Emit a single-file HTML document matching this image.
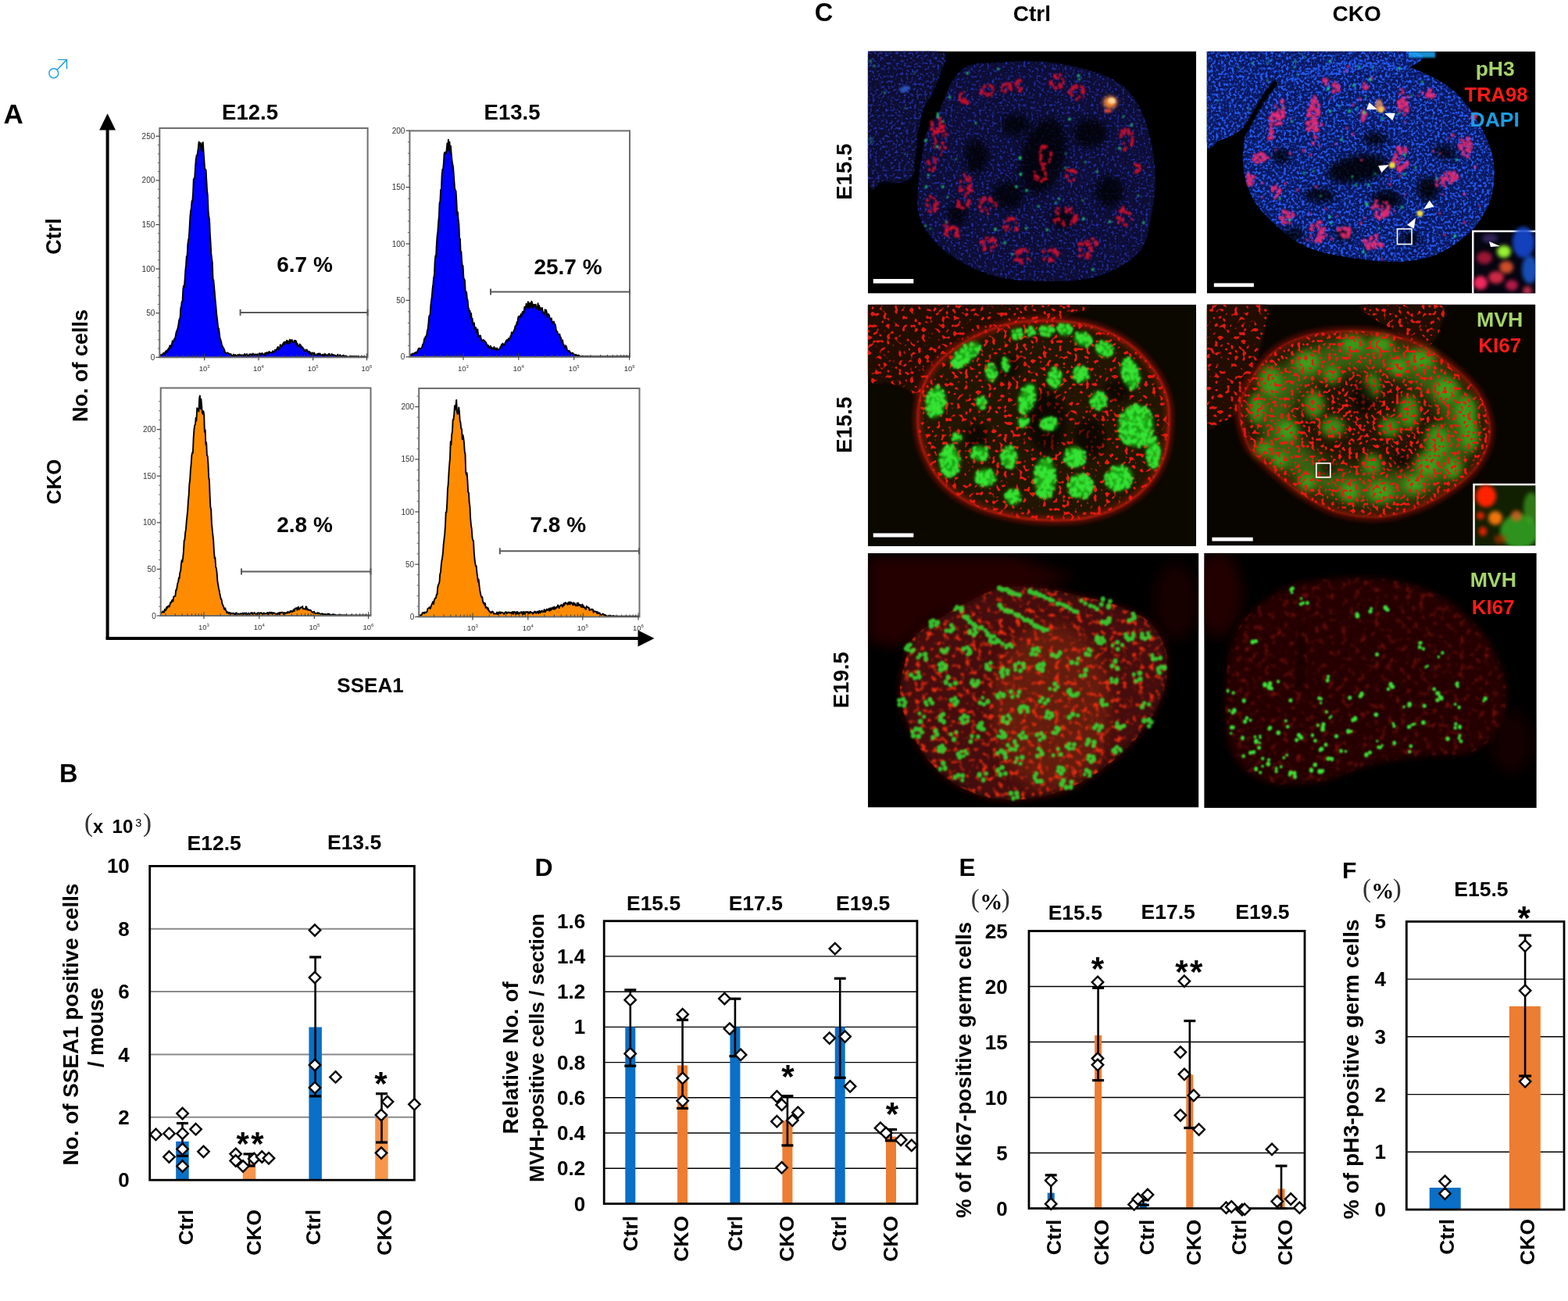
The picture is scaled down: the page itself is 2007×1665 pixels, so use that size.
<!DOCTYPE html>
<html><head><meta charset="utf-8"><title>Figure</title>
<style>
html,body{margin:0;padding:0;background:#fff;}
body{width:2007px;height:1665px;overflow:hidden;}
svg{display:block;}
text{white-space:pre;}
</style></head><body>
<svg width="2007" height="1665" viewBox="0 0 2007 1665">
<rect width="2007" height="1665" fill="#fff"/>
<text x="58.3" y="99.5" font-size="33" fill="#1e9fd9" font-family='"Noto Serif CJK SC", serif'>&#9794;</text>
<text x="4.5" y="158.3" font-size="35" font-weight="bold" font-family='"Liberation Sans", Arial, sans-serif'>A</text>
<text x="320.0" y="153.0" font-size="27.5" text-anchor="middle" font-weight="bold" font-family='"Liberation Sans", Arial, sans-serif'>E12.5</text>
<text x="655.5" y="152.8" font-size="27.5" text-anchor="middle" font-weight="bold" font-family='"Liberation Sans", Arial, sans-serif'>E13.5</text>
<text transform="translate(78.4,302.5) rotate(-90)" font-size="27" text-anchor="middle" font-weight="bold" font-family='"Liberation Sans", Arial, sans-serif'>Ctrl</text>
<text transform="translate(78.4,616.5) rotate(-90)" font-size="26" text-anchor="middle" font-weight="bold" font-family='"Liberation Sans", Arial, sans-serif'>CKO</text>
<text transform="translate(111.8,468.0) rotate(-90)" font-size="27" text-anchor="middle" font-weight="bold" font-family='"Liberation Sans", Arial, sans-serif'>No. of cells</text>
<line x1="137.6" y1="164.0" x2="137.6" y2="817.5" stroke="#000" stroke-width="4"/>
<line x1="135.6" y1="817.0" x2="818.0" y2="817.0" stroke="#000" stroke-width="4"/>
<path d="M137.6 145.3 L148.0 166.5 L127.2 166.5 Z" fill="#000"/>
<path d="M837.5 817.0 L816.5 806.6 L816.5 827.4 Z" fill="#000"/>
<text x="474.0" y="885.5" font-size="26" text-anchor="middle" font-weight="bold" font-family='"Liberation Sans", Arial, sans-serif'>SSEA1</text>
<path d="M204.3 457.3 L204.3 456.0 L205.1 454.0 L205.8 453.8 L206.6 454.9 L207.3 453.8 L208.1 453.6 L208.8 452.5 L209.6 451.6 L210.3 453.4 L211.1 453.1 L211.8 449.6 L212.6 450.4 L213.3 448.5 L214.1 450.7 L214.8 448.1 L215.6 446.1 L216.3 447.3 L217.1 443.0 L217.8 442.0 L218.6 445.1 L219.3 443.9 L220.1 439.8 L220.8 436.1 L221.6 437.5 L222.3 436.8 L223.1 433.6 L223.8 434.0 L224.6 430.6 L225.3 426.6 L226.1 423.5 L226.8 422.6 L227.6 419.5 L228.3 416.2 L229.1 410.6 L229.8 408.1 L230.6 406.3 L231.3 394.3 L232.1 391.9 L232.8 385.8 L233.6 385.0 L234.3 370.5 L235.1 365.6 L235.8 367.4 L236.6 358.2 L237.3 346.3 L238.1 338.9 L238.8 328.2 L239.6 327.0 L240.3 313.3 L241.1 307.1 L241.8 303.9 L242.6 291.2 L243.3 278.1 L244.1 270.0 L244.8 266.8 L245.6 257.0 L246.3 258.0 L247.1 246.6 L247.8 229.4 L248.6 228.6 L249.3 225.9 L250.1 212.7 L250.8 203.9 L251.6 198.9 L252.3 199.6 L253.1 194.2 L253.8 189.4 L254.6 181.5 L255.3 184.2 L256.1 185.3 L256.8 183.0 L257.6 192.0 L258.3 193.3 L259.1 183.5 L259.8 182.2 L260.6 194.6 L261.3 204.3 L262.1 215.3 L262.8 217.2 L263.6 217.5 L264.3 230.6 L265.1 244.5 L265.8 249.7 L266.6 270.6 L267.3 277.0 L268.1 281.5 L268.8 298.3 L269.6 311.0 L270.3 324.4 L271.1 331.2 L271.8 336.4 L272.6 358.0 L273.3 358.2 L274.1 366.9 L274.8 374.8 L275.6 384.4 L276.3 391.2 L277.1 400.9 L277.8 406.8 L278.6 413.7 L279.3 421.7 L280.1 420.3 L280.8 426.8 L281.6 433.0 L282.3 434.4 L283.1 437.5 L283.8 440.8 L284.6 443.1 L285.3 444.1 L286.1 445.4 L286.8 447.0 L287.6 448.9 L288.3 451.6 L289.1 451.6 L289.8 452.5 L290.6 451.7 L291.3 451.3 L292.1 452.0 L292.8 452.3 L293.6 452.6 L294.3 454.4 L295.1 452.9 L295.8 453.5 L296.6 455.3 L297.3 455.5 L298.1 455.5 L298.8 453.5 L299.6 454.9 L300.3 455.3 L301.1 453.9 L301.8 454.7 L302.6 455.4 L303.3 455.2 L304.1 454.1 L304.8 455.1 L305.6 454.8 L306.3 453.6 L307.1 454.3 L307.8 454.6 L308.6 454.2 L309.3 455.4 L310.1 454.4 L310.8 454.3 L311.6 454.9 L312.3 455.1 L313.1 452.9 L313.8 454.0 L314.6 454.8 L315.3 453.7 L316.1 453.1 L316.8 455.3 L317.6 455.3 L318.3 454.9 L319.1 453.3 L319.8 454.9 L320.6 453.3 L321.3 453.4 L322.1 453.7 L322.8 454.6 L323.6 452.5 L324.3 453.0 L325.1 453.8 L325.8 454.6 L326.6 453.4 L327.3 454.1 L328.1 453.5 L328.8 454.2 L329.6 453.3 L330.3 455.0 L331.1 454.2 L331.8 452.2 L332.6 452.5 L333.3 454.1 L334.1 452.4 L334.8 454.0 L335.6 452.0 L336.3 452.5 L337.1 453.4 L337.8 453.9 L338.6 454.5 L339.3 451.7 L340.1 454.2 L340.8 451.6 L341.6 451.0 L342.3 452.0 L343.1 453.2 L343.8 450.6 L344.6 450.0 L345.3 450.7 L346.1 451.1 L346.8 451.3 L347.6 451.1 L348.3 451.3 L349.1 449.2 L349.8 449.8 L350.6 450.3 L351.3 450.3 L352.1 447.6 L352.8 448.7 L353.6 447.3 L354.3 447.6 L355.1 444.7 L355.8 444.0 L356.6 447.5 L357.3 446.1 L358.1 445.0 L358.8 441.3 L359.6 441.7 L360.3 443.3 L361.1 443.5 L361.8 440.6 L362.6 439.2 L363.3 438.1 L364.1 440.8 L364.8 437.4 L365.6 438.0 L366.3 438.7 L367.1 435.6 L367.8 439.4 L368.6 436.4 L369.3 439.8 L370.1 439.1 L370.8 434.6 L371.6 438.6 L372.3 435.3 L373.1 436.2 L373.8 434.9 L374.6 437.7 L375.3 438.0 L376.1 438.5 L376.8 435.6 L377.6 437.4 L378.3 435.9 L379.1 436.7 L379.8 441.3 L380.6 439.6 L381.3 442.5 L382.1 443.4 L382.8 443.8 L383.6 440.4 L384.3 441.5 L385.1 441.9 L385.8 445.0 L386.6 444.3 L387.3 444.2 L388.1 446.6 L388.8 446.4 L389.6 448.4 L390.3 449.6 L391.1 449.3 L391.8 447.3 L392.6 449.1 L393.3 448.1 L394.1 450.3 L394.8 451.4 L395.6 449.9 L396.3 450.1 L397.1 453.2 L397.8 451.3 L398.6 453.4 L399.3 453.6 L400.1 451.3 L400.8 454.2 L401.6 453.7 L402.3 451.5 L403.1 453.4 L403.8 454.4 L404.6 454.4 L405.3 454.2 L406.1 452.8 L406.8 454.8 L407.6 452.5 L408.3 454.1 L409.1 452.4 L409.8 452.6 L410.6 454.4 L411.3 454.6 L412.1 454.0 L412.8 455.1 L413.6 453.5 L414.3 455.3 L415.1 455.4 L415.8 452.7 L416.6 454.6 L417.3 453.8 L418.1 454.3 L418.8 454.7 L419.6 455.4 L420.3 453.1 L421.1 453.0 L421.8 453.0 L422.6 455.4 L423.3 455.1 L424.1 454.1 L424.8 453.1 L425.6 454.4 L426.3 454.0 L427.1 454.1 L427.8 455.2 L428.6 454.5 L429.3 455.2 L430.1 455.4 L430.8 455.9 L431.6 455.4 L432.3 453.7 L433.1 455.1 L433.8 454.7 L434.6 454.7 L435.3 454.1 L436.1 455.5 L436.8 455.7 L437.6 455.7 L438.3 455.8 L439.1 454.7 L439.8 454.6 L440.6 456.0 L441.3 456.0 L442.1 455.6 L442.8 455.6 L443.6 455.7 L444.3 456.5 L445.1 456.7 L445.8 456.6 L446.6 456.7 L447.3 456.1 L448.1 456.7 L448.8 456.7 L449.6 456.1 L450.3 456.7 L451.1 455.9 L451.8 456.5 L452.6 455.9 L453.3 456.7 L454.1 456.6 L454.8 456.2 L455.6 456.7 L456.3 456.0 L457.1 456.7 L457.8 456.4 L458.6 456.1 L459.3 456.4 L460.1 456.7 L460.8 456.7 L461.6 456.7 L462.3 456.4 L463.1 456.7 L463.8 456.5 L464.6 456.7 L465.3 456.5 L466.1 456.7 L466.8 456.7 L467.6 456.6 L468.3 456.7 L469.1 456.6 L469.8 456.7 L470.6 456.7 L470.6 457.3 Z" fill="#0000ff"/>
<path d="M204.3 456.0 L205.1 454.0 L205.8 453.8 L206.6 454.9 L207.3 453.8 L208.1 453.6 L208.8 452.5 L209.6 451.6 L210.3 453.4 L211.1 453.1 L211.8 449.6 L212.6 450.4 L213.3 448.5 L214.1 450.7 L214.8 448.1 L215.6 446.1 L216.3 447.3 L217.1 443.0 L217.8 442.0 L218.6 445.1 L219.3 443.9 L220.1 439.8 L220.8 436.1 L221.6 437.5 L222.3 436.8 L223.1 433.6 L223.8 434.0 L224.6 430.6 L225.3 426.6 L226.1 423.5 L226.8 422.6 L227.6 419.5 L228.3 416.2 L229.1 410.6 L229.8 408.1 L230.6 406.3 L231.3 394.3 L232.1 391.9 L232.8 385.8 L233.6 385.0 L234.3 370.5 L235.1 365.6 L235.8 367.4 L236.6 358.2 L237.3 346.3 L238.1 338.9 L238.8 328.2 L239.6 327.0 L240.3 313.3 L241.1 307.1 L241.8 303.9 L242.6 291.2 L243.3 278.1 L244.1 270.0 L244.8 266.8 L245.6 257.0 L246.3 258.0 L247.1 246.6 L247.8 229.4 L248.6 228.6 L249.3 225.9 L250.1 212.7 L250.8 203.9 L251.6 198.9 L252.3 199.6 L253.1 194.2 L253.8 189.4 L254.6 181.5 L255.3 184.2 L256.1 185.3 L256.8 183.0 L257.6 192.0 L258.3 193.3 L259.1 183.5 L259.8 182.2 L260.6 194.6 L261.3 204.3 L262.1 215.3 L262.8 217.2 L263.6 217.5 L264.3 230.6 L265.1 244.5 L265.8 249.7 L266.6 270.6 L267.3 277.0 L268.1 281.5 L268.8 298.3 L269.6 311.0 L270.3 324.4 L271.1 331.2 L271.8 336.4 L272.6 358.0 L273.3 358.2 L274.1 366.9 L274.8 374.8 L275.6 384.4 L276.3 391.2 L277.1 400.9 L277.8 406.8 L278.6 413.7 L279.3 421.7 L280.1 420.3 L280.8 426.8 L281.6 433.0 L282.3 434.4 L283.1 437.5 L283.8 440.8 L284.6 443.1 L285.3 444.1 L286.1 445.4 L286.8 447.0 L287.6 448.9 L288.3 451.6 L289.1 451.6 L289.8 452.5 L290.6 451.7 L291.3 451.3 L292.1 452.0 L292.8 452.3 L293.6 452.6 L294.3 454.4 L295.1 452.9 L295.8 453.5 L296.6 455.3 L297.3 455.5 L298.1 455.5 L298.8 453.5 L299.6 454.9 L300.3 455.3 L301.1 453.9 L301.8 454.7 L302.6 455.4 L303.3 455.2 L304.1 454.1 L304.8 455.1 L305.6 454.8 L306.3 453.6 L307.1 454.3 L307.8 454.6 L308.6 454.2 L309.3 455.4 L310.1 454.4 L310.8 454.3 L311.6 454.9 L312.3 455.1 L313.1 452.9 L313.8 454.0 L314.6 454.8 L315.3 453.7 L316.1 453.1 L316.8 455.3 L317.6 455.3 L318.3 454.9 L319.1 453.3 L319.8 454.9 L320.6 453.3 L321.3 453.4 L322.1 453.7 L322.8 454.6 L323.6 452.5 L324.3 453.0 L325.1 453.8 L325.8 454.6 L326.6 453.4 L327.3 454.1 L328.1 453.5 L328.8 454.2 L329.6 453.3 L330.3 455.0 L331.1 454.2 L331.8 452.2 L332.6 452.5 L333.3 454.1 L334.1 452.4 L334.8 454.0 L335.6 452.0 L336.3 452.5 L337.1 453.4 L337.8 453.9 L338.6 454.5 L339.3 451.7 L340.1 454.2 L340.8 451.6 L341.6 451.0 L342.3 452.0 L343.1 453.2 L343.8 450.6 L344.6 450.0 L345.3 450.7 L346.1 451.1 L346.8 451.3 L347.6 451.1 L348.3 451.3 L349.1 449.2 L349.8 449.8 L350.6 450.3 L351.3 450.3 L352.1 447.6 L352.8 448.7 L353.6 447.3 L354.3 447.6 L355.1 444.7 L355.8 444.0 L356.6 447.5 L357.3 446.1 L358.1 445.0 L358.8 441.3 L359.6 441.7 L360.3 443.3 L361.1 443.5 L361.8 440.6 L362.6 439.2 L363.3 438.1 L364.1 440.8 L364.8 437.4 L365.6 438.0 L366.3 438.7 L367.1 435.6 L367.8 439.4 L368.6 436.4 L369.3 439.8 L370.1 439.1 L370.8 434.6 L371.6 438.6 L372.3 435.3 L373.1 436.2 L373.8 434.9 L374.6 437.7 L375.3 438.0 L376.1 438.5 L376.8 435.6 L377.6 437.4 L378.3 435.9 L379.1 436.7 L379.8 441.3 L380.6 439.6 L381.3 442.5 L382.1 443.4 L382.8 443.8 L383.6 440.4 L384.3 441.5 L385.1 441.9 L385.8 445.0 L386.6 444.3 L387.3 444.2 L388.1 446.6 L388.8 446.4 L389.6 448.4 L390.3 449.6 L391.1 449.3 L391.8 447.3 L392.6 449.1 L393.3 448.1 L394.1 450.3 L394.8 451.4 L395.6 449.9 L396.3 450.1 L397.1 453.2 L397.8 451.3 L398.6 453.4 L399.3 453.6 L400.1 451.3 L400.8 454.2 L401.6 453.7 L402.3 451.5 L403.1 453.4 L403.8 454.4 L404.6 454.4 L405.3 454.2 L406.1 452.8 L406.8 454.8 L407.6 452.5 L408.3 454.1 L409.1 452.4 L409.8 452.6 L410.6 454.4 L411.3 454.6 L412.1 454.0 L412.8 455.1 L413.6 453.5 L414.3 455.3 L415.1 455.4 L415.8 452.7 L416.6 454.6 L417.3 453.8 L418.1 454.3 L418.8 454.7 L419.6 455.4 L420.3 453.1 L421.1 453.0 L421.8 453.0 L422.6 455.4 L423.3 455.1 L424.1 454.1 L424.8 453.1 L425.6 454.4 L426.3 454.0 L427.1 454.1 L427.8 455.2 L428.6 454.5 L429.3 455.2 L430.1 455.4 L430.8 455.9 L431.6 455.4 L432.3 453.7 L433.1 455.1 L433.8 454.7 L434.6 454.7 L435.3 454.1 L436.1 455.5 L436.8 455.7 L437.6 455.7 L438.3 455.8 L439.1 454.7 L439.8 454.6 L440.6 456.0 L441.3 456.0 L442.1 455.6 L442.8 455.6 L443.6 455.7 L444.3 456.5 L445.1 456.7 L445.8 456.6 L446.6 456.7 L447.3 456.1 L448.1 456.7 L448.8 456.7 L449.6 456.1 L450.3 456.7 L451.1 455.9 L451.8 456.5 L452.6 455.9 L453.3 456.7 L454.1 456.6 L454.8 456.2 L455.6 456.7 L456.3 456.0 L457.1 456.7 L457.8 456.4 L458.6 456.1 L459.3 456.4 L460.1 456.7 L460.8 456.7 L461.6 456.7 L462.3 456.4 L463.1 456.7 L463.8 456.5 L464.6 456.7 L465.3 456.5 L466.1 456.7 L466.8 456.7 L467.6 456.6 L468.3 456.7 L469.1 456.6 L469.8 456.7 L470.6 456.7" fill="none" stroke="#000" stroke-width="1.9" stroke-linejoin="round"/>
<rect x="204.3" y="164.0" width="266.3" height="293.3" fill="none" stroke="#6e6e6e" stroke-width="2"/>
<line x1="199.3" y1="457.3" x2="204.3" y2="457.3" stroke="#444" stroke-width="1.2"/>
<text x="198.3" y="460.8" font-size="10" text-anchor="end" fill="#333" font-family='"Liberation Sans", Arial, sans-serif'>0</text>
<line x1="199.3" y1="400.7" x2="204.3" y2="400.7" stroke="#444" stroke-width="1.2"/>
<text x="198.3" y="404.2" font-size="10" text-anchor="end" fill="#333" font-family='"Liberation Sans", Arial, sans-serif'>50</text>
<line x1="199.3" y1="344.1" x2="204.3" y2="344.1" stroke="#444" stroke-width="1.2"/>
<text x="198.3" y="347.6" font-size="10" text-anchor="end" fill="#333" font-family='"Liberation Sans", Arial, sans-serif'>100</text>
<line x1="199.3" y1="287.5" x2="204.3" y2="287.5" stroke="#444" stroke-width="1.2"/>
<text x="198.3" y="291.0" font-size="10" text-anchor="end" fill="#333" font-family='"Liberation Sans", Arial, sans-serif'>150</text>
<line x1="199.3" y1="230.9" x2="204.3" y2="230.9" stroke="#444" stroke-width="1.2"/>
<text x="198.3" y="234.4" font-size="10" text-anchor="end" fill="#333" font-family='"Liberation Sans", Arial, sans-serif'>200</text>
<line x1="199.3" y1="174.3" x2="204.3" y2="174.3" stroke="#444" stroke-width="1.2"/>
<text x="198.3" y="177.8" font-size="10" text-anchor="end" fill="#333" font-family='"Liberation Sans", Arial, sans-serif'>250</text>
<line x1="201.8" y1="446.0" x2="204.3" y2="446.0" stroke="#666" stroke-width="1"/>
<line x1="201.8" y1="434.7" x2="204.3" y2="434.7" stroke="#666" stroke-width="1"/>
<line x1="201.8" y1="423.3" x2="204.3" y2="423.3" stroke="#666" stroke-width="1"/>
<line x1="201.8" y1="412.0" x2="204.3" y2="412.0" stroke="#666" stroke-width="1"/>
<line x1="201.8" y1="389.4" x2="204.3" y2="389.4" stroke="#666" stroke-width="1"/>
<line x1="201.8" y1="378.1" x2="204.3" y2="378.1" stroke="#666" stroke-width="1"/>
<line x1="201.8" y1="366.7" x2="204.3" y2="366.7" stroke="#666" stroke-width="1"/>
<line x1="201.8" y1="355.4" x2="204.3" y2="355.4" stroke="#666" stroke-width="1"/>
<line x1="201.8" y1="332.8" x2="204.3" y2="332.8" stroke="#666" stroke-width="1"/>
<line x1="201.8" y1="321.5" x2="204.3" y2="321.5" stroke="#666" stroke-width="1"/>
<line x1="201.8" y1="310.1" x2="204.3" y2="310.1" stroke="#666" stroke-width="1"/>
<line x1="201.8" y1="298.8" x2="204.3" y2="298.8" stroke="#666" stroke-width="1"/>
<line x1="201.8" y1="276.2" x2="204.3" y2="276.2" stroke="#666" stroke-width="1"/>
<line x1="201.8" y1="264.9" x2="204.3" y2="264.9" stroke="#666" stroke-width="1"/>
<line x1="201.8" y1="253.5" x2="204.3" y2="253.5" stroke="#666" stroke-width="1"/>
<line x1="201.8" y1="242.2" x2="204.3" y2="242.2" stroke="#666" stroke-width="1"/>
<line x1="201.8" y1="219.6" x2="204.3" y2="219.6" stroke="#666" stroke-width="1"/>
<line x1="201.8" y1="208.3" x2="204.3" y2="208.3" stroke="#666" stroke-width="1"/>
<line x1="201.8" y1="196.9" x2="204.3" y2="196.9" stroke="#666" stroke-width="1"/>
<line x1="201.8" y1="185.6" x2="204.3" y2="185.6" stroke="#666" stroke-width="1"/>
<line x1="213.3" y1="457.3" x2="213.3" y2="454.3" stroke="#444" stroke-width="1"/>
<line x1="225.5" y1="457.3" x2="225.5" y2="454.3" stroke="#444" stroke-width="1"/>
<line x1="234.1" y1="457.3" x2="234.1" y2="454.3" stroke="#444" stroke-width="1"/>
<line x1="240.8" y1="457.3" x2="240.8" y2="454.3" stroke="#444" stroke-width="1"/>
<line x1="246.3" y1="457.3" x2="246.3" y2="454.3" stroke="#444" stroke-width="1"/>
<line x1="251.0" y1="457.3" x2="251.0" y2="454.3" stroke="#444" stroke-width="1"/>
<line x1="255.0" y1="457.3" x2="255.0" y2="454.3" stroke="#444" stroke-width="1"/>
<line x1="258.5" y1="457.3" x2="258.5" y2="454.3" stroke="#444" stroke-width="1"/>
<line x1="261.7" y1="457.3" x2="261.7" y2="452.3" stroke="#444" stroke-width="1"/>
<line x1="282.6" y1="457.3" x2="282.6" y2="454.3" stroke="#444" stroke-width="1"/>
<line x1="294.7" y1="457.3" x2="294.7" y2="454.3" stroke="#444" stroke-width="1"/>
<line x1="303.4" y1="457.3" x2="303.4" y2="454.3" stroke="#444" stroke-width="1"/>
<line x1="310.1" y1="457.3" x2="310.1" y2="454.3" stroke="#444" stroke-width="1"/>
<line x1="315.6" y1="457.3" x2="315.6" y2="454.3" stroke="#444" stroke-width="1"/>
<line x1="320.2" y1="457.3" x2="320.2" y2="454.3" stroke="#444" stroke-width="1"/>
<line x1="324.3" y1="457.3" x2="324.3" y2="454.3" stroke="#444" stroke-width="1"/>
<line x1="327.8" y1="457.3" x2="327.8" y2="454.3" stroke="#444" stroke-width="1"/>
<line x1="331.0" y1="457.3" x2="331.0" y2="452.3" stroke="#444" stroke-width="1"/>
<line x1="351.8" y1="457.3" x2="351.8" y2="454.3" stroke="#444" stroke-width="1"/>
<line x1="364.0" y1="457.3" x2="364.0" y2="454.3" stroke="#444" stroke-width="1"/>
<line x1="372.7" y1="457.3" x2="372.7" y2="454.3" stroke="#444" stroke-width="1"/>
<line x1="379.4" y1="457.3" x2="379.4" y2="454.3" stroke="#444" stroke-width="1"/>
<line x1="384.9" y1="457.3" x2="384.9" y2="454.3" stroke="#444" stroke-width="1"/>
<line x1="389.5" y1="457.3" x2="389.5" y2="454.3" stroke="#444" stroke-width="1"/>
<line x1="393.5" y1="457.3" x2="393.5" y2="454.3" stroke="#444" stroke-width="1"/>
<line x1="397.1" y1="457.3" x2="397.1" y2="454.3" stroke="#444" stroke-width="1"/>
<line x1="400.2" y1="457.3" x2="400.2" y2="452.3" stroke="#444" stroke-width="1"/>
<line x1="421.1" y1="457.3" x2="421.1" y2="454.3" stroke="#444" stroke-width="1"/>
<line x1="433.3" y1="457.3" x2="433.3" y2="454.3" stroke="#444" stroke-width="1"/>
<line x1="441.9" y1="457.3" x2="441.9" y2="454.3" stroke="#444" stroke-width="1"/>
<line x1="448.6" y1="457.3" x2="448.6" y2="454.3" stroke="#444" stroke-width="1"/>
<line x1="454.1" y1="457.3" x2="454.1" y2="454.3" stroke="#444" stroke-width="1"/>
<line x1="458.8" y1="457.3" x2="458.8" y2="454.3" stroke="#444" stroke-width="1"/>
<line x1="462.8" y1="457.3" x2="462.8" y2="454.3" stroke="#444" stroke-width="1"/>
<line x1="466.3" y1="457.3" x2="466.3" y2="454.3" stroke="#444" stroke-width="1"/>
<line x1="469.5" y1="457.3" x2="469.5" y2="452.3" stroke="#444" stroke-width="1"/>
<text x="261.7" y="475.3" font-size="9.5" text-anchor="middle" fill="#333" font-family='"Liberation Sans", Arial, sans-serif'>10<tspan font-size="6" dy="-4">3</tspan></text>
<line x1="261.7" y1="457.3" x2="261.7" y2="461.3" stroke="#444" stroke-width="1.2"/>
<text x="331.0" y="475.3" font-size="9.5" text-anchor="middle" fill="#333" font-family='"Liberation Sans", Arial, sans-serif'>10<tspan font-size="6" dy="-4">4</tspan></text>
<line x1="331.0" y1="457.3" x2="331.0" y2="461.3" stroke="#444" stroke-width="1.2"/>
<text x="400.6" y="475.3" font-size="9.5" text-anchor="middle" fill="#333" font-family='"Liberation Sans", Arial, sans-serif'>10<tspan font-size="6" dy="-4">5</tspan></text>
<line x1="400.6" y1="457.3" x2="400.6" y2="461.3" stroke="#444" stroke-width="1.2"/>
<text x="469.5" y="475.3" font-size="9.5" text-anchor="middle" fill="#333" font-family='"Liberation Sans", Arial, sans-serif'>10<tspan font-size="6" dy="-4">6</tspan></text>
<line x1="469.5" y1="457.3" x2="469.5" y2="461.3" stroke="#444" stroke-width="1.2"/>
<line x1="307.6" y1="399.9" x2="470.6" y2="399.9" stroke="#5a5a5a" stroke-width="2"/>
<line x1="307.6" y1="395.9" x2="307.6" y2="403.9" stroke="#5a5a5a" stroke-width="2"/>
<line x1="470.6" y1="395.9" x2="470.6" y2="403.9" stroke="#5a5a5a" stroke-width="2"/>
<text x="390.0" y="348.2" font-size="28" text-anchor="middle" font-weight="bold" font-family='"Liberation Sans", Arial, sans-serif'>6.7 %</text>
<path d="M524.4 456.8 L524.4 453.8 L525.1 453.5 L525.9 455.5 L526.6 455.2 L527.4 452.8 L528.1 452.7 L528.9 452.5 L529.6 453.2 L530.4 451.9 L531.1 451.4 L531.9 451.0 L532.6 452.0 L533.4 450.5 L534.1 450.0 L534.9 448.1 L535.6 446.3 L536.4 445.6 L537.1 446.5 L537.9 446.0 L538.6 445.8 L539.4 445.9 L540.1 444.7 L540.9 441.2 L541.6 440.4 L542.4 438.3 L543.1 433.4 L543.9 433.4 L544.6 430.7 L545.4 430.1 L546.1 428.6 L546.9 423.2 L547.6 421.0 L548.4 414.1 L549.1 405.6 L549.9 403.3 L550.6 402.5 L551.4 390.1 L552.1 384.7 L552.9 378.6 L553.6 369.7 L554.4 363.7 L555.1 355.4 L555.9 352.3 L556.6 335.9 L557.4 327.1 L558.1 328.6 L558.9 311.1 L559.6 302.0 L560.4 296.1 L561.1 285.4 L561.9 276.4 L562.6 260.0 L563.4 257.4 L564.1 242.9 L564.9 242.2 L565.6 224.8 L566.4 216.7 L567.1 217.2 L567.9 208.7 L568.6 196.4 L569.4 194.9 L570.1 195.0 L570.9 196.5 L571.6 192.1 L572.4 183.4 L573.1 192.7 L573.9 178.8 L574.6 191.9 L575.4 181.6 L576.1 195.5 L576.9 186.8 L577.6 195.6 L578.4 204.1 L579.1 209.3 L579.9 212.9 L580.6 220.5 L581.4 232.3 L582.1 241.4 L582.9 243.8 L583.6 244.7 L584.4 258.0 L585.1 274.9 L585.9 271.4 L586.6 281.2 L587.4 286.8 L588.1 305.4 L588.9 305.4 L589.6 322.7 L590.4 322.0 L591.1 334.2 L591.9 341.7 L592.6 340.2 L593.4 355.9 L594.1 356.8 L594.9 358.7 L595.6 370.9 L596.4 376.2 L597.1 373.6 L597.9 382.8 L598.6 383.9 L599.4 394.4 L600.1 394.6 L600.9 399.6 L601.6 397.9 L602.4 406.0 L603.1 400.9 L603.9 411.4 L604.6 407.7 L605.4 415.6 L606.1 415.6 L606.9 413.1 L607.6 420.0 L608.4 421.4 L609.1 419.2 L609.9 422.9 L610.6 426.8 L611.4 421.5 L612.1 428.7 L612.9 430.8 L613.6 429.9 L614.4 429.3 L615.1 429.7 L615.9 434.8 L616.6 434.5 L617.4 437.3 L618.1 435.8 L618.9 435.0 L619.6 436.1 L620.4 436.1 L621.1 437.7 L621.9 438.0 L622.6 439.6 L623.4 441.5 L624.1 443.4 L624.9 441.8 L625.6 444.0 L626.4 445.5 L627.1 444.3 L627.9 442.7 L628.6 446.6 L629.4 444.8 L630.1 445.9 L630.9 445.5 L631.6 447.4 L632.4 443.9 L633.1 447.0 L633.9 445.5 L634.6 446.3 L635.4 448.0 L636.1 445.5 L636.9 447.2 L637.6 447.4 L638.4 447.3 L639.1 446.4 L639.9 446.4 L640.6 443.5 L641.4 443.6 L642.1 440.8 L642.9 440.5 L643.6 439.5 L644.4 442.7 L645.1 440.9 L645.9 441.2 L646.6 438.6 L647.4 437.5 L648.1 435.6 L648.9 435.1 L649.6 436.7 L650.4 434.7 L651.1 432.9 L651.9 435.0 L652.6 433.7 L653.4 430.0 L654.1 430.7 L654.9 425.2 L655.6 427.2 L656.4 426.8 L657.1 424.8 L657.9 422.9 L658.6 421.6 L659.4 417.7 L660.1 416.6 L660.9 416.3 L661.6 412.1 L662.4 414.0 L663.1 406.8 L663.9 404.7 L664.6 405.1 L665.4 406.2 L666.1 404.1 L666.9 402.0 L667.6 405.4 L668.4 400.8 L669.1 398.6 L669.9 400.6 L670.6 400.3 L671.4 392.6 L672.1 395.8 L672.9 393.4 L673.6 388.7 L674.4 390.9 L675.1 393.4 L675.9 386.1 L676.6 391.5 L677.4 394.6 L678.1 387.7 L678.9 393.2 L679.6 391.0 L680.4 385.7 L681.1 387.4 L681.9 393.9 L682.6 389.8 L683.4 390.4 L684.1 389.9 L684.9 393.0 L685.6 389.6 L686.4 395.0 L687.1 393.4 L687.9 393.1 L688.6 388.1 L689.4 396.9 L690.1 391.0 L690.9 396.9 L691.6 393.8 L692.4 396.1 L693.1 396.0 L693.9 393.9 L694.6 397.9 L695.4 401.0 L696.1 401.7 L696.9 402.7 L697.6 396.3 L698.4 399.0 L699.1 396.8 L699.9 400.1 L700.6 406.8 L701.4 402.1 L702.1 402.0 L702.9 403.4 L703.6 406.4 L704.4 408.7 L705.1 409.0 L705.9 407.3 L706.6 412.9 L707.4 412.1 L708.1 413.9 L708.9 411.5 L709.6 414.2 L710.4 414.7 L711.1 417.0 L711.9 422.6 L712.6 424.6 L713.4 424.3 L714.1 427.4 L714.9 427.9 L715.6 427.8 L716.4 427.8 L717.1 431.5 L717.9 431.6 L718.6 437.4 L719.4 437.3 L720.1 435.1 L720.9 441.1 L721.6 440.9 L722.4 443.9 L723.1 444.9 L723.9 442.1 L724.6 442.8 L725.4 445.4 L726.1 448.6 L726.9 448.7 L727.6 449.7 L728.4 448.8 L729.1 449.5 L729.9 451.0 L730.6 451.3 L731.4 453.2 L732.1 452.3 L732.9 451.5 L733.6 452.5 L734.4 454.8 L735.1 453.9 L735.9 453.7 L736.6 455.1 L737.4 453.9 L738.1 455.1 L738.9 454.7 L739.6 455.6 L740.4 454.5 L741.1 455.1 L741.9 455.6 L742.6 456.2 L743.4 456.1 L744.1 456.2 L744.9 456.0 L745.6 455.6 L746.4 456.2 L747.1 456.2 L747.9 456.2 L748.6 456.2 L749.4 456.1 L750.1 455.9 L750.9 456.2 L751.6 456.2 L752.4 456.0 L753.1 456.2 L753.9 456.2 L754.6 456.2 L755.4 456.2 L756.1 456.2 L756.9 456.2 L757.6 456.2 L758.4 456.2 L759.1 456.2 L759.9 456.2 L760.6 456.2 L761.4 456.2 L762.1 456.2 L762.9 456.2 L763.6 456.2 L764.4 456.2 L765.1 456.2 L765.9 456.2 L766.6 456.2 L767.4 456.2 L768.1 456.2 L768.9 456.2 L769.6 456.2 L770.4 456.2 L771.1 456.2 L771.9 456.2 L772.6 456.2 L773.4 456.2 L774.1 456.2 L774.9 456.2 L775.6 456.2 L776.4 456.2 L777.1 456.2 L777.9 456.2 L778.6 456.2 L779.4 456.2 L780.1 456.2 L780.9 456.2 L781.6 456.2 L782.4 456.2 L783.1 456.2 L783.9 456.2 L784.6 456.2 L785.4 456.2 L786.1 456.2 L786.9 456.2 L787.6 456.2 L788.4 456.2 L789.1 456.2 L789.9 456.2 L790.6 456.2 L791.4 456.2 L792.1 456.2 L792.9 456.2 L793.6 456.2 L794.4 456.2 L795.1 456.2 L795.9 456.2 L796.6 456.2 L797.4 456.2 L798.1 456.2 L798.9 456.2 L799.6 456.2 L800.4 456.2 L801.1 456.2 L801.9 456.2 L802.6 456.2 L803.4 456.2 L804.1 456.2 L804.9 456.2 L805.6 456.2 L806.0 456.8 Z" fill="#0000ff"/>
<path d="M524.4 453.8 L525.1 453.5 L525.9 455.5 L526.6 455.2 L527.4 452.8 L528.1 452.7 L528.9 452.5 L529.6 453.2 L530.4 451.9 L531.1 451.4 L531.9 451.0 L532.6 452.0 L533.4 450.5 L534.1 450.0 L534.9 448.1 L535.6 446.3 L536.4 445.6 L537.1 446.5 L537.9 446.0 L538.6 445.8 L539.4 445.9 L540.1 444.7 L540.9 441.2 L541.6 440.4 L542.4 438.3 L543.1 433.4 L543.9 433.4 L544.6 430.7 L545.4 430.1 L546.1 428.6 L546.9 423.2 L547.6 421.0 L548.4 414.1 L549.1 405.6 L549.9 403.3 L550.6 402.5 L551.4 390.1 L552.1 384.7 L552.9 378.6 L553.6 369.7 L554.4 363.7 L555.1 355.4 L555.9 352.3 L556.6 335.9 L557.4 327.1 L558.1 328.6 L558.9 311.1 L559.6 302.0 L560.4 296.1 L561.1 285.4 L561.9 276.4 L562.6 260.0 L563.4 257.4 L564.1 242.9 L564.9 242.2 L565.6 224.8 L566.4 216.7 L567.1 217.2 L567.9 208.7 L568.6 196.4 L569.4 194.9 L570.1 195.0 L570.9 196.5 L571.6 192.1 L572.4 183.4 L573.1 192.7 L573.9 178.8 L574.6 191.9 L575.4 181.6 L576.1 195.5 L576.9 186.8 L577.6 195.6 L578.4 204.1 L579.1 209.3 L579.9 212.9 L580.6 220.5 L581.4 232.3 L582.1 241.4 L582.9 243.8 L583.6 244.7 L584.4 258.0 L585.1 274.9 L585.9 271.4 L586.6 281.2 L587.4 286.8 L588.1 305.4 L588.9 305.4 L589.6 322.7 L590.4 322.0 L591.1 334.2 L591.9 341.7 L592.6 340.2 L593.4 355.9 L594.1 356.8 L594.9 358.7 L595.6 370.9 L596.4 376.2 L597.1 373.6 L597.9 382.8 L598.6 383.9 L599.4 394.4 L600.1 394.6 L600.9 399.6 L601.6 397.9 L602.4 406.0 L603.1 400.9 L603.9 411.4 L604.6 407.7 L605.4 415.6 L606.1 415.6 L606.9 413.1 L607.6 420.0 L608.4 421.4 L609.1 419.2 L609.9 422.9 L610.6 426.8 L611.4 421.5 L612.1 428.7 L612.9 430.8 L613.6 429.9 L614.4 429.3 L615.1 429.7 L615.9 434.8 L616.6 434.5 L617.4 437.3 L618.1 435.8 L618.9 435.0 L619.6 436.1 L620.4 436.1 L621.1 437.7 L621.9 438.0 L622.6 439.6 L623.4 441.5 L624.1 443.4 L624.9 441.8 L625.6 444.0 L626.4 445.5 L627.1 444.3 L627.9 442.7 L628.6 446.6 L629.4 444.8 L630.1 445.9 L630.9 445.5 L631.6 447.4 L632.4 443.9 L633.1 447.0 L633.9 445.5 L634.6 446.3 L635.4 448.0 L636.1 445.5 L636.9 447.2 L637.6 447.4 L638.4 447.3 L639.1 446.4 L639.9 446.4 L640.6 443.5 L641.4 443.6 L642.1 440.8 L642.9 440.5 L643.6 439.5 L644.4 442.7 L645.1 440.9 L645.9 441.2 L646.6 438.6 L647.4 437.5 L648.1 435.6 L648.9 435.1 L649.6 436.7 L650.4 434.7 L651.1 432.9 L651.9 435.0 L652.6 433.7 L653.4 430.0 L654.1 430.7 L654.9 425.2 L655.6 427.2 L656.4 426.8 L657.1 424.8 L657.9 422.9 L658.6 421.6 L659.4 417.7 L660.1 416.6 L660.9 416.3 L661.6 412.1 L662.4 414.0 L663.1 406.8 L663.9 404.7 L664.6 405.1 L665.4 406.2 L666.1 404.1 L666.9 402.0 L667.6 405.4 L668.4 400.8 L669.1 398.6 L669.9 400.6 L670.6 400.3 L671.4 392.6 L672.1 395.8 L672.9 393.4 L673.6 388.7 L674.4 390.9 L675.1 393.4 L675.9 386.1 L676.6 391.5 L677.4 394.6 L678.1 387.7 L678.9 393.2 L679.6 391.0 L680.4 385.7 L681.1 387.4 L681.9 393.9 L682.6 389.8 L683.4 390.4 L684.1 389.9 L684.9 393.0 L685.6 389.6 L686.4 395.0 L687.1 393.4 L687.9 393.1 L688.6 388.1 L689.4 396.9 L690.1 391.0 L690.9 396.9 L691.6 393.8 L692.4 396.1 L693.1 396.0 L693.9 393.9 L694.6 397.9 L695.4 401.0 L696.1 401.7 L696.9 402.7 L697.6 396.3 L698.4 399.0 L699.1 396.8 L699.9 400.1 L700.6 406.8 L701.4 402.1 L702.1 402.0 L702.9 403.4 L703.6 406.4 L704.4 408.7 L705.1 409.0 L705.9 407.3 L706.6 412.9 L707.4 412.1 L708.1 413.9 L708.9 411.5 L709.6 414.2 L710.4 414.7 L711.1 417.0 L711.9 422.6 L712.6 424.6 L713.4 424.3 L714.1 427.4 L714.9 427.9 L715.6 427.8 L716.4 427.8 L717.1 431.5 L717.9 431.6 L718.6 437.4 L719.4 437.3 L720.1 435.1 L720.9 441.1 L721.6 440.9 L722.4 443.9 L723.1 444.9 L723.9 442.1 L724.6 442.8 L725.4 445.4 L726.1 448.6 L726.9 448.7 L727.6 449.7 L728.4 448.8 L729.1 449.5 L729.9 451.0 L730.6 451.3 L731.4 453.2 L732.1 452.3 L732.9 451.5 L733.6 452.5 L734.4 454.8 L735.1 453.9 L735.9 453.7 L736.6 455.1 L737.4 453.9 L738.1 455.1 L738.9 454.7 L739.6 455.6 L740.4 454.5 L741.1 455.1 L741.9 455.6 L742.6 456.2 L743.4 456.1 L744.1 456.2 L744.9 456.0 L745.6 455.6 L746.4 456.2 L747.1 456.2 L747.9 456.2 L748.6 456.2 L749.4 456.1 L750.1 455.9 L750.9 456.2 L751.6 456.2 L752.4 456.0 L753.1 456.2 L753.9 456.2 L754.6 456.2 L755.4 456.2 L756.1 456.2 L756.9 456.2 L757.6 456.2 L758.4 456.2 L759.1 456.2 L759.9 456.2 L760.6 456.2 L761.4 456.2 L762.1 456.2 L762.9 456.2 L763.6 456.2 L764.4 456.2 L765.1 456.2 L765.9 456.2 L766.6 456.2 L767.4 456.2 L768.1 456.2 L768.9 456.2 L769.6 456.2 L770.4 456.2 L771.1 456.2 L771.9 456.2 L772.6 456.2 L773.4 456.2 L774.1 456.2 L774.9 456.2 L775.6 456.2 L776.4 456.2 L777.1 456.2 L777.9 456.2 L778.6 456.2 L779.4 456.2 L780.1 456.2 L780.9 456.2 L781.6 456.2 L782.4 456.2 L783.1 456.2 L783.9 456.2 L784.6 456.2 L785.4 456.2 L786.1 456.2 L786.9 456.2 L787.6 456.2 L788.4 456.2 L789.1 456.2 L789.9 456.2 L790.6 456.2 L791.4 456.2 L792.1 456.2 L792.9 456.2 L793.6 456.2 L794.4 456.2 L795.1 456.2 L795.9 456.2 L796.6 456.2 L797.4 456.2 L798.1 456.2 L798.9 456.2 L799.6 456.2 L800.4 456.2 L801.1 456.2 L801.9 456.2 L802.6 456.2 L803.4 456.2 L804.1 456.2 L804.9 456.2 L805.6 456.2" fill="none" stroke="#000" stroke-width="1.9" stroke-linejoin="round"/>
<rect x="524.4" y="167.4" width="281.6" height="289.4" fill="none" stroke="#6e6e6e" stroke-width="2"/>
<line x1="519.4" y1="456.8" x2="524.4" y2="456.8" stroke="#444" stroke-width="1.2"/>
<text x="518.4" y="460.3" font-size="10" text-anchor="end" fill="#333" font-family='"Liberation Sans", Arial, sans-serif'>0</text>
<line x1="519.4" y1="384.4" x2="524.4" y2="384.4" stroke="#444" stroke-width="1.2"/>
<text x="518.4" y="387.9" font-size="10" text-anchor="end" fill="#333" font-family='"Liberation Sans", Arial, sans-serif'>50</text>
<line x1="519.4" y1="312.0" x2="524.4" y2="312.0" stroke="#444" stroke-width="1.2"/>
<text x="518.4" y="315.5" font-size="10" text-anchor="end" fill="#333" font-family='"Liberation Sans", Arial, sans-serif'>100</text>
<line x1="519.4" y1="239.6" x2="524.4" y2="239.6" stroke="#444" stroke-width="1.2"/>
<text x="518.4" y="243.1" font-size="10" text-anchor="end" fill="#333" font-family='"Liberation Sans", Arial, sans-serif'>150</text>
<line x1="519.4" y1="167.2" x2="524.4" y2="167.2" stroke="#444" stroke-width="1.2"/>
<text x="518.4" y="170.7" font-size="10" text-anchor="end" fill="#333" font-family='"Liberation Sans", Arial, sans-serif'>200</text>
<line x1="521.9" y1="442.3" x2="524.4" y2="442.3" stroke="#666" stroke-width="1"/>
<line x1="521.9" y1="427.8" x2="524.4" y2="427.8" stroke="#666" stroke-width="1"/>
<line x1="521.9" y1="413.4" x2="524.4" y2="413.4" stroke="#666" stroke-width="1"/>
<line x1="521.9" y1="398.9" x2="524.4" y2="398.9" stroke="#666" stroke-width="1"/>
<line x1="521.9" y1="369.9" x2="524.4" y2="369.9" stroke="#666" stroke-width="1"/>
<line x1="521.9" y1="355.4" x2="524.4" y2="355.4" stroke="#666" stroke-width="1"/>
<line x1="521.9" y1="341.0" x2="524.4" y2="341.0" stroke="#666" stroke-width="1"/>
<line x1="521.9" y1="326.5" x2="524.4" y2="326.5" stroke="#666" stroke-width="1"/>
<line x1="521.9" y1="297.5" x2="524.4" y2="297.5" stroke="#666" stroke-width="1"/>
<line x1="521.9" y1="283.0" x2="524.4" y2="283.0" stroke="#666" stroke-width="1"/>
<line x1="521.9" y1="268.6" x2="524.4" y2="268.6" stroke="#666" stroke-width="1"/>
<line x1="521.9" y1="254.1" x2="524.4" y2="254.1" stroke="#666" stroke-width="1"/>
<line x1="521.9" y1="225.1" x2="524.4" y2="225.1" stroke="#666" stroke-width="1"/>
<line x1="521.9" y1="210.6" x2="524.4" y2="210.6" stroke="#666" stroke-width="1"/>
<line x1="521.9" y1="196.2" x2="524.4" y2="196.2" stroke="#666" stroke-width="1"/>
<line x1="521.9" y1="181.7" x2="524.4" y2="181.7" stroke="#666" stroke-width="1"/>
<line x1="543.5" y1="456.8" x2="543.5" y2="453.8" stroke="#444" stroke-width="1"/>
<line x1="555.9" y1="456.8" x2="555.9" y2="453.8" stroke="#444" stroke-width="1"/>
<line x1="564.8" y1="456.8" x2="564.8" y2="453.8" stroke="#444" stroke-width="1"/>
<line x1="571.7" y1="456.8" x2="571.7" y2="453.8" stroke="#444" stroke-width="1"/>
<line x1="577.3" y1="456.8" x2="577.3" y2="453.8" stroke="#444" stroke-width="1"/>
<line x1="582.0" y1="456.8" x2="582.0" y2="453.8" stroke="#444" stroke-width="1"/>
<line x1="586.1" y1="456.8" x2="586.1" y2="453.8" stroke="#444" stroke-width="1"/>
<line x1="589.8" y1="456.8" x2="589.8" y2="453.8" stroke="#444" stroke-width="1"/>
<line x1="593.0" y1="456.8" x2="593.0" y2="451.8" stroke="#444" stroke-width="1"/>
<line x1="614.3" y1="456.8" x2="614.3" y2="453.8" stroke="#444" stroke-width="1"/>
<line x1="626.8" y1="456.8" x2="626.8" y2="453.8" stroke="#444" stroke-width="1"/>
<line x1="635.7" y1="456.8" x2="635.7" y2="453.8" stroke="#444" stroke-width="1"/>
<line x1="642.5" y1="456.8" x2="642.5" y2="453.8" stroke="#444" stroke-width="1"/>
<line x1="648.1" y1="456.8" x2="648.1" y2="453.8" stroke="#444" stroke-width="1"/>
<line x1="652.9" y1="456.8" x2="652.9" y2="453.8" stroke="#444" stroke-width="1"/>
<line x1="657.0" y1="456.8" x2="657.0" y2="453.8" stroke="#444" stroke-width="1"/>
<line x1="660.6" y1="456.8" x2="660.6" y2="453.8" stroke="#444" stroke-width="1"/>
<line x1="663.9" y1="456.8" x2="663.9" y2="451.8" stroke="#444" stroke-width="1"/>
<line x1="685.2" y1="456.8" x2="685.2" y2="453.8" stroke="#444" stroke-width="1"/>
<line x1="697.7" y1="456.8" x2="697.7" y2="453.8" stroke="#444" stroke-width="1"/>
<line x1="706.5" y1="456.8" x2="706.5" y2="453.8" stroke="#444" stroke-width="1"/>
<line x1="713.4" y1="456.8" x2="713.4" y2="453.8" stroke="#444" stroke-width="1"/>
<line x1="719.0" y1="456.8" x2="719.0" y2="453.8" stroke="#444" stroke-width="1"/>
<line x1="723.8" y1="456.8" x2="723.8" y2="453.8" stroke="#444" stroke-width="1"/>
<line x1="727.9" y1="456.8" x2="727.9" y2="453.8" stroke="#444" stroke-width="1"/>
<line x1="731.5" y1="456.8" x2="731.5" y2="453.8" stroke="#444" stroke-width="1"/>
<line x1="734.7" y1="456.8" x2="734.7" y2="451.8" stroke="#444" stroke-width="1"/>
<line x1="756.1" y1="456.8" x2="756.1" y2="453.8" stroke="#444" stroke-width="1"/>
<line x1="768.5" y1="456.8" x2="768.5" y2="453.8" stroke="#444" stroke-width="1"/>
<line x1="777.4" y1="456.8" x2="777.4" y2="453.8" stroke="#444" stroke-width="1"/>
<line x1="784.3" y1="456.8" x2="784.3" y2="453.8" stroke="#444" stroke-width="1"/>
<line x1="789.9" y1="456.8" x2="789.9" y2="453.8" stroke="#444" stroke-width="1"/>
<line x1="794.6" y1="456.8" x2="794.6" y2="453.8" stroke="#444" stroke-width="1"/>
<line x1="798.7" y1="456.8" x2="798.7" y2="453.8" stroke="#444" stroke-width="1"/>
<line x1="802.4" y1="456.8" x2="802.4" y2="453.8" stroke="#444" stroke-width="1"/>
<line x1="805.6" y1="456.8" x2="805.6" y2="451.8" stroke="#444" stroke-width="1"/>
<text x="593.0" y="474.8" font-size="9.5" text-anchor="middle" fill="#333" font-family='"Liberation Sans", Arial, sans-serif'>10<tspan font-size="6" dy="-4">3</tspan></text>
<line x1="593.0" y1="456.8" x2="593.0" y2="460.8" stroke="#444" stroke-width="1.2"/>
<text x="663.8" y="474.8" font-size="9.5" text-anchor="middle" fill="#333" font-family='"Liberation Sans", Arial, sans-serif'>10<tspan font-size="6" dy="-4">4</tspan></text>
<line x1="663.8" y1="456.8" x2="663.8" y2="460.8" stroke="#444" stroke-width="1.2"/>
<text x="734.7" y="474.8" font-size="9.5" text-anchor="middle" fill="#333" font-family='"Liberation Sans", Arial, sans-serif'>10<tspan font-size="6" dy="-4">5</tspan></text>
<line x1="734.7" y1="456.8" x2="734.7" y2="460.8" stroke="#444" stroke-width="1.2"/>
<text x="805.6" y="474.8" font-size="9.5" text-anchor="middle" fill="#333" font-family='"Liberation Sans", Arial, sans-serif'>10<tspan font-size="6" dy="-4">6</tspan></text>
<line x1="805.6" y1="456.8" x2="805.6" y2="460.8" stroke="#444" stroke-width="1.2"/>
<line x1="628.0" y1="373.4" x2="806.0" y2="373.4" stroke="#5a5a5a" stroke-width="2"/>
<line x1="628.0" y1="369.4" x2="628.0" y2="377.4" stroke="#5a5a5a" stroke-width="2"/>
<line x1="806.0" y1="369.4" x2="806.0" y2="377.4" stroke="#5a5a5a" stroke-width="2"/>
<text x="727.0" y="351.0" font-size="28" text-anchor="middle" font-weight="bold" font-family='"Liberation Sans", Arial, sans-serif'>25.7 %</text>
<path d="M205.7 788.0 L205.7 785.2 L206.4 784.0 L207.2 784.1 L207.9 782.9 L208.7 782.3 L209.4 783.7 L210.2 783.4 L210.9 779.8 L211.7 781.3 L212.4 780.8 L213.2 777.0 L213.9 778.4 L214.7 776.0 L215.4 776.7 L216.2 775.0 L216.9 776.4 L217.7 773.0 L218.4 770.6 L219.2 771.2 L219.9 768.7 L220.7 767.7 L221.4 769.7 L222.2 764.0 L222.9 763.2 L223.7 763.1 L224.4 762.9 L225.2 755.0 L225.9 755.2 L226.7 750.7 L227.4 746.5 L228.2 744.5 L228.9 739.3 L229.7 739.9 L230.4 732.2 L231.2 731.0 L231.9 721.7 L232.7 717.0 L233.4 719.4 L234.2 713.4 L234.9 706.5 L235.7 691.7 L236.4 690.8 L237.2 681.4 L237.9 677.9 L238.7 667.6 L239.4 661.2 L240.2 653.4 L240.9 641.7 L241.7 633.1 L242.4 619.5 L243.2 614.0 L243.9 601.3 L244.7 593.5 L245.4 582.6 L246.2 579.3 L246.9 579.6 L247.7 559.8 L248.4 550.3 L249.2 544.2 L249.9 543.5 L250.7 534.8 L251.4 538.5 L252.2 522.3 L252.9 523.0 L253.7 525.0 L254.4 526.6 L255.2 509.9 L255.9 506.4 L256.7 523.3 L257.4 510.7 L258.2 520.2 L258.9 528.2 L259.7 529.8 L260.4 526.2 L261.2 530.6 L261.9 552.7 L262.7 550.4 L263.4 568.9 L264.2 566.5 L264.9 582.8 L265.7 583.9 L266.4 592.9 L267.2 611.0 L267.9 614.4 L268.7 635.3 L269.4 649.1 L270.2 652.3 L270.9 670.0 L271.7 677.6 L272.4 684.5 L273.2 691.3 L273.9 705.0 L274.7 714.3 L275.4 713.5 L276.2 726.2 L276.9 726.9 L277.7 733.9 L278.4 744.0 L279.2 748.5 L279.9 752.7 L280.7 756.1 L281.4 760.3 L282.2 764.0 L282.9 766.6 L283.7 767.6 L284.4 772.3 L285.2 774.7 L285.9 775.2 L286.7 778.9 L287.4 779.9 L288.2 778.3 L288.9 781.1 L289.7 781.8 L290.4 784.3 L291.2 783.5 L291.9 783.4 L292.7 785.5 L293.4 784.0 L294.2 784.2 L294.9 786.0 L295.7 784.6 L296.4 785.2 L297.2 784.7 L297.9 785.6 L298.7 784.7 L299.4 784.7 L300.2 786.6 L300.9 786.5 L301.7 784.9 L302.4 784.2 L303.2 786.0 L303.9 785.5 L304.7 785.1 L305.4 785.8 L306.2 785.7 L306.9 785.8 L307.7 785.6 L308.4 785.0 L309.2 785.8 L309.9 785.5 L310.7 784.5 L311.4 786.4 L312.2 785.0 L312.9 784.5 L313.7 785.7 L314.4 785.9 L315.2 784.3 L315.9 785.8 L316.7 786.0 L317.4 785.3 L318.2 784.6 L318.9 786.2 L319.7 785.6 L320.4 785.5 L321.2 784.2 L321.9 785.2 L322.7 784.1 L323.4 786.0 L324.2 785.5 L324.9 784.7 L325.7 784.0 L326.4 785.2 L327.2 785.8 L327.9 786.1 L328.7 785.0 L329.4 785.9 L330.2 784.2 L330.9 784.1 L331.7 785.9 L332.4 785.6 L333.2 784.2 L333.9 784.6 L334.7 784.2 L335.4 785.4 L336.2 786.0 L336.9 785.6 L337.7 784.2 L338.4 785.6 L339.2 785.4 L339.9 785.2 L340.7 785.2 L341.4 785.3 L342.2 783.9 L342.9 785.9 L343.7 786.3 L344.4 783.8 L345.2 784.0 L345.9 783.7 L346.7 785.2 L347.4 783.8 L348.2 783.9 L348.9 785.8 L349.7 784.3 L350.4 784.1 L351.2 784.6 L351.9 785.0 L352.7 785.6 L353.4 785.4 L354.2 785.7 L354.9 786.2 L355.7 784.7 L356.4 785.6 L357.2 784.1 L357.9 786.2 L358.7 783.9 L359.4 784.4 L360.2 783.8 L360.9 783.8 L361.7 783.8 L362.4 784.6 L363.2 786.1 L363.9 784.0 L364.7 785.6 L365.4 785.1 L366.2 784.0 L366.9 784.3 L367.7 784.5 L368.4 782.8 L369.2 783.5 L369.9 784.2 L370.7 784.2 L371.4 782.1 L372.2 783.0 L372.9 781.7 L373.7 782.9 L374.4 783.1 L375.2 781.5 L375.9 780.1 L376.7 782.1 L377.4 779.4 L378.2 778.4 L378.9 778.5 L379.7 778.0 L380.4 780.9 L381.2 778.0 L381.9 776.7 L382.7 779.9 L383.4 778.7 L384.2 778.5 L384.9 777.2 L385.7 777.5 L386.4 777.2 L387.2 775.9 L387.9 779.4 L388.7 779.2 L389.4 779.1 L390.2 779.3 L390.9 779.7 L391.7 776.2 L392.4 777.0 L393.2 780.6 L393.9 779.3 L394.7 780.4 L395.4 780.8 L396.2 781.1 L396.9 780.4 L397.7 781.0 L398.4 782.2 L399.2 783.2 L399.9 783.1 L400.7 784.1 L401.4 783.0 L402.2 782.8 L402.9 784.2 L403.7 785.3 L404.4 785.2 L405.2 784.9 L405.9 784.4 L406.7 784.1 L407.4 785.4 L408.2 784.4 L408.9 785.0 L409.7 785.6 L410.4 785.9 L411.2 785.7 L411.9 785.3 L412.7 786.0 L413.4 785.5 L414.2 786.1 L414.9 786.7 L415.7 786.1 L416.4 785.8 L417.2 787.2 L417.9 786.5 L418.7 786.5 L419.4 785.6 L420.2 785.6 L420.9 786.8 L421.7 785.8 L422.4 786.1 L423.2 787.2 L423.9 786.9 L424.7 787.4 L425.4 786.3 L426.2 786.6 L426.9 786.3 L427.7 786.5 L428.4 786.8 L429.2 786.7 L429.9 787.1 L430.7 787.4 L431.4 787.1 L432.2 787.4 L432.9 787.4 L433.7 786.9 L434.4 787.4 L435.2 787.4 L435.9 787.4 L436.7 786.9 L437.4 787.4 L438.2 787.4 L438.9 787.1 L439.7 787.4 L440.4 787.2 L441.2 787.4 L441.9 787.2 L442.7 787.1 L443.4 787.4 L444.2 787.4 L444.9 787.4 L445.7 787.4 L446.4 787.4 L447.2 787.4 L447.9 787.4 L448.7 787.4 L449.4 787.3 L450.2 787.4 L450.9 787.4 L451.7 787.4 L452.4 787.4 L453.2 787.4 L453.9 787.4 L454.7 787.4 L455.4 787.4 L456.2 787.4 L456.9 787.4 L457.7 787.4 L458.4 787.4 L459.2 787.4 L459.9 787.4 L460.7 787.4 L461.4 787.4 L462.2 787.4 L462.9 787.4 L463.7 787.4 L464.4 787.4 L465.2 787.4 L465.9 787.4 L466.7 787.4 L467.4 787.4 L468.2 787.4 L468.9 787.4 L469.7 787.4 L470.4 787.4 L471.2 787.4 L471.9 787.4 L472.7 787.4 L473.4 787.4 L474.2 787.4 L474.5 788.0 Z" fill="#ff8c00"/>
<path d="M205.7 785.2 L206.4 784.0 L207.2 784.1 L207.9 782.9 L208.7 782.3 L209.4 783.7 L210.2 783.4 L210.9 779.8 L211.7 781.3 L212.4 780.8 L213.2 777.0 L213.9 778.4 L214.7 776.0 L215.4 776.7 L216.2 775.0 L216.9 776.4 L217.7 773.0 L218.4 770.6 L219.2 771.2 L219.9 768.7 L220.7 767.7 L221.4 769.7 L222.2 764.0 L222.9 763.2 L223.7 763.1 L224.4 762.9 L225.2 755.0 L225.9 755.2 L226.7 750.7 L227.4 746.5 L228.2 744.5 L228.9 739.3 L229.7 739.9 L230.4 732.2 L231.2 731.0 L231.9 721.7 L232.7 717.0 L233.4 719.4 L234.2 713.4 L234.9 706.5 L235.7 691.7 L236.4 690.8 L237.2 681.4 L237.9 677.9 L238.7 667.6 L239.4 661.2 L240.2 653.4 L240.9 641.7 L241.7 633.1 L242.4 619.5 L243.2 614.0 L243.9 601.3 L244.7 593.5 L245.4 582.6 L246.2 579.3 L246.9 579.6 L247.7 559.8 L248.4 550.3 L249.2 544.2 L249.9 543.5 L250.7 534.8 L251.4 538.5 L252.2 522.3 L252.9 523.0 L253.7 525.0 L254.4 526.6 L255.2 509.9 L255.9 506.4 L256.7 523.3 L257.4 510.7 L258.2 520.2 L258.9 528.2 L259.7 529.8 L260.4 526.2 L261.2 530.6 L261.9 552.7 L262.7 550.4 L263.4 568.9 L264.2 566.5 L264.9 582.8 L265.7 583.9 L266.4 592.9 L267.2 611.0 L267.9 614.4 L268.7 635.3 L269.4 649.1 L270.2 652.3 L270.9 670.0 L271.7 677.6 L272.4 684.5 L273.2 691.3 L273.9 705.0 L274.7 714.3 L275.4 713.5 L276.2 726.2 L276.9 726.9 L277.7 733.9 L278.4 744.0 L279.2 748.5 L279.9 752.7 L280.7 756.1 L281.4 760.3 L282.2 764.0 L282.9 766.6 L283.7 767.6 L284.4 772.3 L285.2 774.7 L285.9 775.2 L286.7 778.9 L287.4 779.9 L288.2 778.3 L288.9 781.1 L289.7 781.8 L290.4 784.3 L291.2 783.5 L291.9 783.4 L292.7 785.5 L293.4 784.0 L294.2 784.2 L294.9 786.0 L295.7 784.6 L296.4 785.2 L297.2 784.7 L297.9 785.6 L298.7 784.7 L299.4 784.7 L300.2 786.6 L300.9 786.5 L301.7 784.9 L302.4 784.2 L303.2 786.0 L303.9 785.5 L304.7 785.1 L305.4 785.8 L306.2 785.7 L306.9 785.8 L307.7 785.6 L308.4 785.0 L309.2 785.8 L309.9 785.5 L310.7 784.5 L311.4 786.4 L312.2 785.0 L312.9 784.5 L313.7 785.7 L314.4 785.9 L315.2 784.3 L315.9 785.8 L316.7 786.0 L317.4 785.3 L318.2 784.6 L318.9 786.2 L319.7 785.6 L320.4 785.5 L321.2 784.2 L321.9 785.2 L322.7 784.1 L323.4 786.0 L324.2 785.5 L324.9 784.7 L325.7 784.0 L326.4 785.2 L327.2 785.8 L327.9 786.1 L328.7 785.0 L329.4 785.9 L330.2 784.2 L330.9 784.1 L331.7 785.9 L332.4 785.6 L333.2 784.2 L333.9 784.6 L334.7 784.2 L335.4 785.4 L336.2 786.0 L336.9 785.6 L337.7 784.2 L338.4 785.6 L339.2 785.4 L339.9 785.2 L340.7 785.2 L341.4 785.3 L342.2 783.9 L342.9 785.9 L343.7 786.3 L344.4 783.8 L345.2 784.0 L345.9 783.7 L346.7 785.2 L347.4 783.8 L348.2 783.9 L348.9 785.8 L349.7 784.3 L350.4 784.1 L351.2 784.6 L351.9 785.0 L352.7 785.6 L353.4 785.4 L354.2 785.7 L354.9 786.2 L355.7 784.7 L356.4 785.6 L357.2 784.1 L357.9 786.2 L358.7 783.9 L359.4 784.4 L360.2 783.8 L360.9 783.8 L361.7 783.8 L362.4 784.6 L363.2 786.1 L363.9 784.0 L364.7 785.6 L365.4 785.1 L366.2 784.0 L366.9 784.3 L367.7 784.5 L368.4 782.8 L369.2 783.5 L369.9 784.2 L370.7 784.2 L371.4 782.1 L372.2 783.0 L372.9 781.7 L373.7 782.9 L374.4 783.1 L375.2 781.5 L375.9 780.1 L376.7 782.1 L377.4 779.4 L378.2 778.4 L378.9 778.5 L379.7 778.0 L380.4 780.9 L381.2 778.0 L381.9 776.7 L382.7 779.9 L383.4 778.7 L384.2 778.5 L384.9 777.2 L385.7 777.5 L386.4 777.2 L387.2 775.9 L387.9 779.4 L388.7 779.2 L389.4 779.1 L390.2 779.3 L390.9 779.7 L391.7 776.2 L392.4 777.0 L393.2 780.6 L393.9 779.3 L394.7 780.4 L395.4 780.8 L396.2 781.1 L396.9 780.4 L397.7 781.0 L398.4 782.2 L399.2 783.2 L399.9 783.1 L400.7 784.1 L401.4 783.0 L402.2 782.8 L402.9 784.2 L403.7 785.3 L404.4 785.2 L405.2 784.9 L405.9 784.4 L406.7 784.1 L407.4 785.4 L408.2 784.4 L408.9 785.0 L409.7 785.6 L410.4 785.9 L411.2 785.7 L411.9 785.3 L412.7 786.0 L413.4 785.5 L414.2 786.1 L414.9 786.7 L415.7 786.1 L416.4 785.8 L417.2 787.2 L417.9 786.5 L418.7 786.5 L419.4 785.6 L420.2 785.6 L420.9 786.8 L421.7 785.8 L422.4 786.1 L423.2 787.2 L423.9 786.9 L424.7 787.4 L425.4 786.3 L426.2 786.6 L426.9 786.3 L427.7 786.5 L428.4 786.8 L429.2 786.7 L429.9 787.1 L430.7 787.4 L431.4 787.1 L432.2 787.4 L432.9 787.4 L433.7 786.9 L434.4 787.4 L435.2 787.4 L435.9 787.4 L436.7 786.9 L437.4 787.4 L438.2 787.4 L438.9 787.1 L439.7 787.4 L440.4 787.2 L441.2 787.4 L441.9 787.2 L442.7 787.1 L443.4 787.4 L444.2 787.4 L444.9 787.4 L445.7 787.4 L446.4 787.4 L447.2 787.4 L447.9 787.4 L448.7 787.4 L449.4 787.3 L450.2 787.4 L450.9 787.4 L451.7 787.4 L452.4 787.4 L453.2 787.4 L453.9 787.4 L454.7 787.4 L455.4 787.4 L456.2 787.4 L456.9 787.4 L457.7 787.4 L458.4 787.4 L459.2 787.4 L459.9 787.4 L460.7 787.4 L461.4 787.4 L462.2 787.4 L462.9 787.4 L463.7 787.4 L464.4 787.4 L465.2 787.4 L465.9 787.4 L466.7 787.4 L467.4 787.4 L468.2 787.4 L468.9 787.4 L469.7 787.4 L470.4 787.4 L471.2 787.4 L471.9 787.4 L472.7 787.4 L473.4 787.4 L474.2 787.4" fill="none" stroke="#000" stroke-width="1.9" stroke-linejoin="round"/>
<rect x="205.7" y="496.5" width="268.8" height="291.5" fill="none" stroke="#6e6e6e" stroke-width="2"/>
<line x1="200.7" y1="788.0" x2="205.7" y2="788.0" stroke="#444" stroke-width="1.2"/>
<text x="199.7" y="791.5" font-size="10" text-anchor="end" fill="#333" font-family='"Liberation Sans", Arial, sans-serif'>0</text>
<line x1="200.7" y1="728.4" x2="205.7" y2="728.4" stroke="#444" stroke-width="1.2"/>
<text x="199.7" y="731.9" font-size="10" text-anchor="end" fill="#333" font-family='"Liberation Sans", Arial, sans-serif'>50</text>
<line x1="200.7" y1="668.8" x2="205.7" y2="668.8" stroke="#444" stroke-width="1.2"/>
<text x="199.7" y="672.3" font-size="10" text-anchor="end" fill="#333" font-family='"Liberation Sans", Arial, sans-serif'>100</text>
<line x1="200.7" y1="609.2" x2="205.7" y2="609.2" stroke="#444" stroke-width="1.2"/>
<text x="199.7" y="612.7" font-size="10" text-anchor="end" fill="#333" font-family='"Liberation Sans", Arial, sans-serif'>150</text>
<line x1="200.7" y1="549.6" x2="205.7" y2="549.6" stroke="#444" stroke-width="1.2"/>
<text x="199.7" y="553.1" font-size="10" text-anchor="end" fill="#333" font-family='"Liberation Sans", Arial, sans-serif'>200</text>
<line x1="203.2" y1="776.1" x2="205.7" y2="776.1" stroke="#666" stroke-width="1"/>
<line x1="203.2" y1="764.2" x2="205.7" y2="764.2" stroke="#666" stroke-width="1"/>
<line x1="203.2" y1="752.2" x2="205.7" y2="752.2" stroke="#666" stroke-width="1"/>
<line x1="203.2" y1="740.3" x2="205.7" y2="740.3" stroke="#666" stroke-width="1"/>
<line x1="203.2" y1="716.5" x2="205.7" y2="716.5" stroke="#666" stroke-width="1"/>
<line x1="203.2" y1="704.6" x2="205.7" y2="704.6" stroke="#666" stroke-width="1"/>
<line x1="203.2" y1="692.6" x2="205.7" y2="692.6" stroke="#666" stroke-width="1"/>
<line x1="203.2" y1="680.7" x2="205.7" y2="680.7" stroke="#666" stroke-width="1"/>
<line x1="203.2" y1="656.9" x2="205.7" y2="656.9" stroke="#666" stroke-width="1"/>
<line x1="203.2" y1="645.0" x2="205.7" y2="645.0" stroke="#666" stroke-width="1"/>
<line x1="203.2" y1="633.0" x2="205.7" y2="633.0" stroke="#666" stroke-width="1"/>
<line x1="203.2" y1="621.1" x2="205.7" y2="621.1" stroke="#666" stroke-width="1"/>
<line x1="203.2" y1="597.3" x2="205.7" y2="597.3" stroke="#666" stroke-width="1"/>
<line x1="203.2" y1="585.4" x2="205.7" y2="585.4" stroke="#666" stroke-width="1"/>
<line x1="203.2" y1="573.4" x2="205.7" y2="573.4" stroke="#666" stroke-width="1"/>
<line x1="203.2" y1="561.5" x2="205.7" y2="561.5" stroke="#666" stroke-width="1"/>
<line x1="203.2" y1="537.7" x2="205.7" y2="537.7" stroke="#666" stroke-width="1"/>
<line x1="203.2" y1="525.8" x2="205.7" y2="525.8" stroke="#666" stroke-width="1"/>
<line x1="203.2" y1="513.8" x2="205.7" y2="513.8" stroke="#666" stroke-width="1"/>
<line x1="212.0" y1="788.0" x2="212.0" y2="785.0" stroke="#444" stroke-width="1"/>
<line x1="224.3" y1="788.0" x2="224.3" y2="785.0" stroke="#444" stroke-width="1"/>
<line x1="233.1" y1="788.0" x2="233.1" y2="785.0" stroke="#444" stroke-width="1"/>
<line x1="239.9" y1="788.0" x2="239.9" y2="785.0" stroke="#444" stroke-width="1"/>
<line x1="245.4" y1="788.0" x2="245.4" y2="785.0" stroke="#444" stroke-width="1"/>
<line x1="250.1" y1="788.0" x2="250.1" y2="785.0" stroke="#444" stroke-width="1"/>
<line x1="254.2" y1="788.0" x2="254.2" y2="785.0" stroke="#444" stroke-width="1"/>
<line x1="257.8" y1="788.0" x2="257.8" y2="785.0" stroke="#444" stroke-width="1"/>
<line x1="261.0" y1="788.0" x2="261.0" y2="783.0" stroke="#444" stroke-width="1"/>
<line x1="282.1" y1="788.0" x2="282.1" y2="785.0" stroke="#444" stroke-width="1"/>
<line x1="294.5" y1="788.0" x2="294.5" y2="785.0" stroke="#444" stroke-width="1"/>
<line x1="303.2" y1="788.0" x2="303.2" y2="785.0" stroke="#444" stroke-width="1"/>
<line x1="310.0" y1="788.0" x2="310.0" y2="785.0" stroke="#444" stroke-width="1"/>
<line x1="315.6" y1="788.0" x2="315.6" y2="785.0" stroke="#444" stroke-width="1"/>
<line x1="320.3" y1="788.0" x2="320.3" y2="785.0" stroke="#444" stroke-width="1"/>
<line x1="324.4" y1="788.0" x2="324.4" y2="785.0" stroke="#444" stroke-width="1"/>
<line x1="328.0" y1="788.0" x2="328.0" y2="785.0" stroke="#444" stroke-width="1"/>
<line x1="331.2" y1="788.0" x2="331.2" y2="783.0" stroke="#444" stroke-width="1"/>
<line x1="352.3" y1="788.0" x2="352.3" y2="785.0" stroke="#444" stroke-width="1"/>
<line x1="364.6" y1="788.0" x2="364.6" y2="785.0" stroke="#444" stroke-width="1"/>
<line x1="373.4" y1="788.0" x2="373.4" y2="785.0" stroke="#444" stroke-width="1"/>
<line x1="380.2" y1="788.0" x2="380.2" y2="785.0" stroke="#444" stroke-width="1"/>
<line x1="385.8" y1="788.0" x2="385.8" y2="785.0" stroke="#444" stroke-width="1"/>
<line x1="390.5" y1="788.0" x2="390.5" y2="785.0" stroke="#444" stroke-width="1"/>
<line x1="394.5" y1="788.0" x2="394.5" y2="785.0" stroke="#444" stroke-width="1"/>
<line x1="398.1" y1="788.0" x2="398.1" y2="785.0" stroke="#444" stroke-width="1"/>
<line x1="401.3" y1="788.0" x2="401.3" y2="783.0" stroke="#444" stroke-width="1"/>
<line x1="422.5" y1="788.0" x2="422.5" y2="785.0" stroke="#444" stroke-width="1"/>
<line x1="434.8" y1="788.0" x2="434.8" y2="785.0" stroke="#444" stroke-width="1"/>
<line x1="443.6" y1="788.0" x2="443.6" y2="785.0" stroke="#444" stroke-width="1"/>
<line x1="450.4" y1="788.0" x2="450.4" y2="785.0" stroke="#444" stroke-width="1"/>
<line x1="455.9" y1="788.0" x2="455.9" y2="785.0" stroke="#444" stroke-width="1"/>
<line x1="460.6" y1="788.0" x2="460.6" y2="785.0" stroke="#444" stroke-width="1"/>
<line x1="464.7" y1="788.0" x2="464.7" y2="785.0" stroke="#444" stroke-width="1"/>
<line x1="468.3" y1="788.0" x2="468.3" y2="785.0" stroke="#444" stroke-width="1"/>
<line x1="471.5" y1="788.0" x2="471.5" y2="783.0" stroke="#444" stroke-width="1"/>
<text x="261.0" y="806.0" font-size="9.5" text-anchor="middle" fill="#333" font-family='"Liberation Sans", Arial, sans-serif'>10<tspan font-size="6" dy="-4">3</tspan></text>
<line x1="261.0" y1="788.0" x2="261.0" y2="792.0" stroke="#444" stroke-width="1.2"/>
<text x="331.8" y="806.0" font-size="9.5" text-anchor="middle" fill="#333" font-family='"Liberation Sans", Arial, sans-serif'>10<tspan font-size="6" dy="-4">4</tspan></text>
<line x1="331.8" y1="788.0" x2="331.8" y2="792.0" stroke="#444" stroke-width="1.2"/>
<text x="402.4" y="806.0" font-size="9.5" text-anchor="middle" fill="#333" font-family='"Liberation Sans", Arial, sans-serif'>10<tspan font-size="6" dy="-4">5</tspan></text>
<line x1="402.4" y1="788.0" x2="402.4" y2="792.0" stroke="#444" stroke-width="1.2"/>
<text x="471.5" y="806.0" font-size="9.5" text-anchor="middle" fill="#333" font-family='"Liberation Sans", Arial, sans-serif'>10<tspan font-size="6" dy="-4">6</tspan></text>
<line x1="471.5" y1="788.0" x2="471.5" y2="792.0" stroke="#444" stroke-width="1.2"/>
<line x1="309.0" y1="731.4" x2="474.5" y2="731.4" stroke="#5a5a5a" stroke-width="2"/>
<line x1="309.0" y1="727.4" x2="309.0" y2="735.4" stroke="#5a5a5a" stroke-width="2"/>
<line x1="474.5" y1="727.4" x2="474.5" y2="735.4" stroke="#5a5a5a" stroke-width="2"/>
<text x="390.0" y="681.2" font-size="28" text-anchor="middle" font-weight="bold" font-family='"Liberation Sans", Arial, sans-serif'>2.8 %</text>
<path d="M536.2 789.4 L536.2 788.1 L537.0 788.1 L537.7 787.2 L538.5 787.5 L539.2 787.4 L540.0 786.2 L540.7 784.3 L541.5 784.2 L542.2 783.8 L543.0 785.1 L543.7 783.5 L544.5 783.9 L545.2 783.8 L546.0 783.5 L546.7 782.5 L547.5 778.9 L548.2 778.6 L549.0 777.9 L549.7 777.1 L550.5 779.0 L551.2 777.6 L552.0 775.1 L552.7 773.4 L553.5 771.6 L554.2 770.1 L555.0 773.0 L555.7 768.6 L556.5 766.4 L557.2 765.4 L558.0 765.3 L558.7 761.0 L559.5 760.9 L560.2 751.7 L561.0 748.6 L561.7 747.1 L562.5 744.7 L563.2 734.7 L564.0 732.2 L564.7 723.3 L565.5 717.0 L566.2 713.4 L567.0 706.8 L567.7 696.6 L568.5 689.8 L569.2 683.9 L570.0 672.5 L570.7 655.7 L571.5 655.6 L572.2 645.0 L573.0 625.7 L573.7 619.8 L574.5 604.9 L575.2 594.9 L576.0 586.4 L576.7 565.2 L577.5 569.2 L578.2 556.4 L579.0 552.0 L579.7 536.9 L580.5 537.1 L581.2 530.5 L582.0 519.2 L582.7 524.5 L583.5 518.6 L584.2 511.9 L585.0 527.8 L585.7 529.9 L586.5 528.8 L587.2 521.4 L588.0 527.4 L588.7 538.2 L589.5 540.9 L590.2 548.5 L591.0 548.8 L591.7 562.1 L592.5 556.8 L593.2 560.1 L594.0 566.3 L594.7 577.4 L595.5 581.3 L596.2 604.3 L597.0 607.8 L597.7 605.3 L598.5 616.5 L599.2 630.1 L600.0 630.5 L600.7 643.2 L601.5 648.5 L602.2 663.5 L603.0 672.4 L603.7 676.6 L604.5 687.6 L605.2 691.7 L606.0 691.9 L606.7 705.5 L607.5 715.1 L608.2 720.6 L609.0 724.9 L609.7 724.3 L610.5 733.3 L611.2 738.7 L612.0 744.7 L612.7 741.6 L613.5 750.0 L614.2 755.2 L615.0 759.5 L615.7 762.5 L616.5 764.5 L617.2 763.8 L618.0 769.3 L618.7 772.0 L619.5 771.4 L620.2 774.4 L621.0 772.1 L621.7 777.8 L622.5 777.1 L623.2 777.1 L624.0 779.7 L624.7 778.2 L625.5 781.0 L626.2 782.6 L627.0 782.5 L627.7 784.3 L628.5 783.3 L629.2 784.3 L630.0 782.4 L630.7 782.8 L631.5 784.1 L632.2 785.8 L633.0 785.2 L633.7 785.4 L634.5 785.6 L635.2 785.6 L636.0 783.6 L636.7 785.9 L637.5 786.2 L638.2 783.5 L639.0 784.6 L639.7 783.3 L640.5 785.1 L641.2 783.5 L642.0 784.3 L642.7 783.8 L643.5 784.0 L644.2 784.7 L645.0 786.0 L645.7 785.6 L646.5 783.5 L647.2 783.4 L648.0 783.3 L648.7 785.1 L649.5 784.1 L650.2 783.6 L651.0 784.1 L651.7 783.5 L652.5 784.5 L653.2 784.0 L654.0 783.9 L654.7 785.3 L655.5 783.1 L656.2 783.0 L657.0 785.9 L657.7 782.9 L658.5 783.0 L659.2 783.9 L660.0 785.9 L660.7 783.1 L661.5 785.6 L662.2 782.9 L663.0 783.9 L663.7 785.8 L664.5 785.5 L665.2 783.9 L666.0 784.2 L666.7 783.6 L667.5 783.0 L668.2 785.3 L669.0 786.0 L669.7 782.9 L670.5 785.9 L671.2 783.1 L672.0 785.5 L672.7 783.2 L673.5 783.3 L674.2 783.0 L675.0 784.0 L675.7 782.9 L676.5 785.1 L677.2 783.6 L678.0 784.7 L678.7 782.8 L679.5 783.1 L680.2 784.1 L681.0 783.9 L681.7 785.5 L682.5 785.4 L683.2 783.5 L684.0 783.8 L684.7 782.4 L685.5 783.2 L686.2 784.8 L687.0 783.9 L687.7 782.4 L688.5 783.2 L689.2 784.9 L690.0 781.9 L690.7 781.8 L691.5 784.4 L692.2 782.6 L693.0 783.1 L693.7 781.4 L694.5 783.0 L695.2 783.2 L696.0 782.1 L696.7 780.1 L697.5 783.3 L698.2 783.0 L699.0 780.9 L699.7 779.6 L700.5 780.9 L701.2 781.0 L702.0 779.1 L702.7 779.2 L703.5 781.9 L704.2 778.2 L705.0 780.9 L705.7 780.2 L706.5 777.6 L707.2 779.2 L708.0 777.3 L708.7 779.8 L709.5 776.4 L710.2 779.3 L711.0 779.1 L711.7 777.3 L712.5 777.7 L713.2 776.5 L714.0 774.5 L714.7 775.2 L715.5 778.3 L716.2 776.6 L717.0 775.2 L717.7 775.2 L718.5 773.8 L719.2 774.7 L720.0 776.6 L720.7 775.5 L721.5 772.2 L722.2 774.5 L723.0 772.2 L723.7 770.9 L724.5 772.6 L725.2 772.2 L726.0 772.4 L726.7 773.9 L727.5 770.6 L728.2 772.9 L729.0 770.5 L729.7 773.6 L730.5 770.6 L731.2 771.0 L732.0 771.9 L732.7 772.9 L733.5 774.5 L734.2 771.2 L735.0 773.5 L735.7 772.0 L736.5 774.9 L737.2 775.3 L738.0 775.1 L738.7 771.8 L739.5 775.2 L740.2 771.7 L741.0 774.6 L741.7 773.8 L742.5 775.2 L743.2 774.1 L744.0 777.0 L744.7 775.7 L745.5 773.4 L746.2 777.4 L747.0 775.4 L747.7 777.3 L748.5 777.7 L749.2 779.4 L750.0 779.7 L750.7 775.8 L751.5 776.7 L752.2 777.2 L753.0 777.6 L753.7 777.4 L754.5 781.1 L755.2 779.7 L756.0 780.4 L756.7 780.5 L757.5 779.4 L758.2 780.5 L759.0 780.1 L759.7 783.7 L760.5 782.1 L761.2 782.3 L762.0 782.4 L762.7 783.2 L763.5 782.8 L764.2 784.9 L765.0 783.2 L765.7 785.1 L766.5 784.8 L767.2 784.2 L768.0 785.1 L768.7 786.5 L769.5 786.9 L770.2 786.8 L771.0 786.2 L771.7 785.5 L772.5 786.0 L773.2 787.4 L774.0 787.6 L774.7 786.7 L775.5 788.1 L776.2 788.0 L777.0 788.8 L777.7 788.7 L778.5 788.1 L779.2 787.9 L780.0 788.1 L780.7 788.7 L781.5 787.7 L782.2 788.4 L783.0 788.8 L783.7 788.8 L784.5 788.0 L785.2 788.1 L786.0 788.2 L786.7 788.8 L787.5 788.8 L788.2 788.8 L789.0 788.8 L789.7 788.8 L790.5 788.5 L791.2 788.6 L792.0 788.8 L792.7 788.8 L793.5 788.8 L794.2 788.8 L795.0 788.7 L795.7 788.8 L796.5 788.8 L797.2 788.8 L798.0 788.8 L798.7 788.8 L799.5 788.8 L800.2 788.8 L801.0 788.8 L801.7 788.8 L802.5 788.8 L803.2 788.8 L804.0 788.8 L804.7 788.8 L805.5 788.8 L806.2 788.8 L807.0 788.8 L807.7 788.8 L808.5 788.8 L809.2 788.8 L810.0 788.8 L810.7 788.8 L811.5 788.8 L812.2 788.8 L813.0 788.8 L813.7 788.8 L814.5 788.8 L815.2 788.8 L816.0 788.8 L816.7 788.8 L817.5 788.8 L818.2 788.8 L818.5 789.4 Z" fill="#ff8c00"/>
<path d="M536.2 788.1 L537.0 788.1 L537.7 787.2 L538.5 787.5 L539.2 787.4 L540.0 786.2 L540.7 784.3 L541.5 784.2 L542.2 783.8 L543.0 785.1 L543.7 783.5 L544.5 783.9 L545.2 783.8 L546.0 783.5 L546.7 782.5 L547.5 778.9 L548.2 778.6 L549.0 777.9 L549.7 777.1 L550.5 779.0 L551.2 777.6 L552.0 775.1 L552.7 773.4 L553.5 771.6 L554.2 770.1 L555.0 773.0 L555.7 768.6 L556.5 766.4 L557.2 765.4 L558.0 765.3 L558.7 761.0 L559.5 760.9 L560.2 751.7 L561.0 748.6 L561.7 747.1 L562.5 744.7 L563.2 734.7 L564.0 732.2 L564.7 723.3 L565.5 717.0 L566.2 713.4 L567.0 706.8 L567.7 696.6 L568.5 689.8 L569.2 683.9 L570.0 672.5 L570.7 655.7 L571.5 655.6 L572.2 645.0 L573.0 625.7 L573.7 619.8 L574.5 604.9 L575.2 594.9 L576.0 586.4 L576.7 565.2 L577.5 569.2 L578.2 556.4 L579.0 552.0 L579.7 536.9 L580.5 537.1 L581.2 530.5 L582.0 519.2 L582.7 524.5 L583.5 518.6 L584.2 511.9 L585.0 527.8 L585.7 529.9 L586.5 528.8 L587.2 521.4 L588.0 527.4 L588.7 538.2 L589.5 540.9 L590.2 548.5 L591.0 548.8 L591.7 562.1 L592.5 556.8 L593.2 560.1 L594.0 566.3 L594.7 577.4 L595.5 581.3 L596.2 604.3 L597.0 607.8 L597.7 605.3 L598.5 616.5 L599.2 630.1 L600.0 630.5 L600.7 643.2 L601.5 648.5 L602.2 663.5 L603.0 672.4 L603.7 676.6 L604.5 687.6 L605.2 691.7 L606.0 691.9 L606.7 705.5 L607.5 715.1 L608.2 720.6 L609.0 724.9 L609.7 724.3 L610.5 733.3 L611.2 738.7 L612.0 744.7 L612.7 741.6 L613.5 750.0 L614.2 755.2 L615.0 759.5 L615.7 762.5 L616.5 764.5 L617.2 763.8 L618.0 769.3 L618.7 772.0 L619.5 771.4 L620.2 774.4 L621.0 772.1 L621.7 777.8 L622.5 777.1 L623.2 777.1 L624.0 779.7 L624.7 778.2 L625.5 781.0 L626.2 782.6 L627.0 782.5 L627.7 784.3 L628.5 783.3 L629.2 784.3 L630.0 782.4 L630.7 782.8 L631.5 784.1 L632.2 785.8 L633.0 785.2 L633.7 785.4 L634.5 785.6 L635.2 785.6 L636.0 783.6 L636.7 785.9 L637.5 786.2 L638.2 783.5 L639.0 784.6 L639.7 783.3 L640.5 785.1 L641.2 783.5 L642.0 784.3 L642.7 783.8 L643.5 784.0 L644.2 784.7 L645.0 786.0 L645.7 785.6 L646.5 783.5 L647.2 783.4 L648.0 783.3 L648.7 785.1 L649.5 784.1 L650.2 783.6 L651.0 784.1 L651.7 783.5 L652.5 784.5 L653.2 784.0 L654.0 783.9 L654.7 785.3 L655.5 783.1 L656.2 783.0 L657.0 785.9 L657.7 782.9 L658.5 783.0 L659.2 783.9 L660.0 785.9 L660.7 783.1 L661.5 785.6 L662.2 782.9 L663.0 783.9 L663.7 785.8 L664.5 785.5 L665.2 783.9 L666.0 784.2 L666.7 783.6 L667.5 783.0 L668.2 785.3 L669.0 786.0 L669.7 782.9 L670.5 785.9 L671.2 783.1 L672.0 785.5 L672.7 783.2 L673.5 783.3 L674.2 783.0 L675.0 784.0 L675.7 782.9 L676.5 785.1 L677.2 783.6 L678.0 784.7 L678.7 782.8 L679.5 783.1 L680.2 784.1 L681.0 783.9 L681.7 785.5 L682.5 785.4 L683.2 783.5 L684.0 783.8 L684.7 782.4 L685.5 783.2 L686.2 784.8 L687.0 783.9 L687.7 782.4 L688.5 783.2 L689.2 784.9 L690.0 781.9 L690.7 781.8 L691.5 784.4 L692.2 782.6 L693.0 783.1 L693.7 781.4 L694.5 783.0 L695.2 783.2 L696.0 782.1 L696.7 780.1 L697.5 783.3 L698.2 783.0 L699.0 780.9 L699.7 779.6 L700.5 780.9 L701.2 781.0 L702.0 779.1 L702.7 779.2 L703.5 781.9 L704.2 778.2 L705.0 780.9 L705.7 780.2 L706.5 777.6 L707.2 779.2 L708.0 777.3 L708.7 779.8 L709.5 776.4 L710.2 779.3 L711.0 779.1 L711.7 777.3 L712.5 777.7 L713.2 776.5 L714.0 774.5 L714.7 775.2 L715.5 778.3 L716.2 776.6 L717.0 775.2 L717.7 775.2 L718.5 773.8 L719.2 774.7 L720.0 776.6 L720.7 775.5 L721.5 772.2 L722.2 774.5 L723.0 772.2 L723.7 770.9 L724.5 772.6 L725.2 772.2 L726.0 772.4 L726.7 773.9 L727.5 770.6 L728.2 772.9 L729.0 770.5 L729.7 773.6 L730.5 770.6 L731.2 771.0 L732.0 771.9 L732.7 772.9 L733.5 774.5 L734.2 771.2 L735.0 773.5 L735.7 772.0 L736.5 774.9 L737.2 775.3 L738.0 775.1 L738.7 771.8 L739.5 775.2 L740.2 771.7 L741.0 774.6 L741.7 773.8 L742.5 775.2 L743.2 774.1 L744.0 777.0 L744.7 775.7 L745.5 773.4 L746.2 777.4 L747.0 775.4 L747.7 777.3 L748.5 777.7 L749.2 779.4 L750.0 779.7 L750.7 775.8 L751.5 776.7 L752.2 777.2 L753.0 777.6 L753.7 777.4 L754.5 781.1 L755.2 779.7 L756.0 780.4 L756.7 780.5 L757.5 779.4 L758.2 780.5 L759.0 780.1 L759.7 783.7 L760.5 782.1 L761.2 782.3 L762.0 782.4 L762.7 783.2 L763.5 782.8 L764.2 784.9 L765.0 783.2 L765.7 785.1 L766.5 784.8 L767.2 784.2 L768.0 785.1 L768.7 786.5 L769.5 786.9 L770.2 786.8 L771.0 786.2 L771.7 785.5 L772.5 786.0 L773.2 787.4 L774.0 787.6 L774.7 786.7 L775.5 788.1 L776.2 788.0 L777.0 788.8 L777.7 788.7 L778.5 788.1 L779.2 787.9 L780.0 788.1 L780.7 788.7 L781.5 787.7 L782.2 788.4 L783.0 788.8 L783.7 788.8 L784.5 788.0 L785.2 788.1 L786.0 788.2 L786.7 788.8 L787.5 788.8 L788.2 788.8 L789.0 788.8 L789.7 788.8 L790.5 788.5 L791.2 788.6 L792.0 788.8 L792.7 788.8 L793.5 788.8 L794.2 788.8 L795.0 788.7 L795.7 788.8 L796.5 788.8 L797.2 788.8 L798.0 788.8 L798.7 788.8 L799.5 788.8 L800.2 788.8 L801.0 788.8 L801.7 788.8 L802.5 788.8 L803.2 788.8 L804.0 788.8 L804.7 788.8 L805.5 788.8 L806.2 788.8 L807.0 788.8 L807.7 788.8 L808.5 788.8 L809.2 788.8 L810.0 788.8 L810.7 788.8 L811.5 788.8 L812.2 788.8 L813.0 788.8 L813.7 788.8 L814.5 788.8 L815.2 788.8 L816.0 788.8 L816.7 788.8 L817.5 788.8 L818.2 788.8" fill="none" stroke="#000" stroke-width="1.9" stroke-linejoin="round"/>
<rect x="536.2" y="497.0" width="282.3" height="292.4" fill="none" stroke="#6e6e6e" stroke-width="2"/>
<line x1="531.2" y1="789.4" x2="536.2" y2="789.4" stroke="#444" stroke-width="1.2"/>
<text x="530.2" y="792.9" font-size="10" text-anchor="end" fill="#333" font-family='"Liberation Sans", Arial, sans-serif'>0</text>
<line x1="531.2" y1="722.2" x2="536.2" y2="722.2" stroke="#444" stroke-width="1.2"/>
<text x="530.2" y="725.7" font-size="10" text-anchor="end" fill="#333" font-family='"Liberation Sans", Arial, sans-serif'>50</text>
<line x1="531.2" y1="655.0" x2="536.2" y2="655.0" stroke="#444" stroke-width="1.2"/>
<text x="530.2" y="658.5" font-size="10" text-anchor="end" fill="#333" font-family='"Liberation Sans", Arial, sans-serif'>100</text>
<line x1="531.2" y1="587.8" x2="536.2" y2="587.8" stroke="#444" stroke-width="1.2"/>
<text x="530.2" y="591.3" font-size="10" text-anchor="end" fill="#333" font-family='"Liberation Sans", Arial, sans-serif'>150</text>
<line x1="531.2" y1="520.6" x2="536.2" y2="520.6" stroke="#444" stroke-width="1.2"/>
<text x="530.2" y="524.1" font-size="10" text-anchor="end" fill="#333" font-family='"Liberation Sans", Arial, sans-serif'>200</text>
<line x1="533.7" y1="776.0" x2="536.2" y2="776.0" stroke="#666" stroke-width="1"/>
<line x1="533.7" y1="762.5" x2="536.2" y2="762.5" stroke="#666" stroke-width="1"/>
<line x1="533.7" y1="749.1" x2="536.2" y2="749.1" stroke="#666" stroke-width="1"/>
<line x1="533.7" y1="735.6" x2="536.2" y2="735.6" stroke="#666" stroke-width="1"/>
<line x1="533.7" y1="708.8" x2="536.2" y2="708.8" stroke="#666" stroke-width="1"/>
<line x1="533.7" y1="695.3" x2="536.2" y2="695.3" stroke="#666" stroke-width="1"/>
<line x1="533.7" y1="681.9" x2="536.2" y2="681.9" stroke="#666" stroke-width="1"/>
<line x1="533.7" y1="668.4" x2="536.2" y2="668.4" stroke="#666" stroke-width="1"/>
<line x1="533.7" y1="641.6" x2="536.2" y2="641.6" stroke="#666" stroke-width="1"/>
<line x1="533.7" y1="628.1" x2="536.2" y2="628.1" stroke="#666" stroke-width="1"/>
<line x1="533.7" y1="614.7" x2="536.2" y2="614.7" stroke="#666" stroke-width="1"/>
<line x1="533.7" y1="601.2" x2="536.2" y2="601.2" stroke="#666" stroke-width="1"/>
<line x1="533.7" y1="574.4" x2="536.2" y2="574.4" stroke="#666" stroke-width="1"/>
<line x1="533.7" y1="560.9" x2="536.2" y2="560.9" stroke="#666" stroke-width="1"/>
<line x1="533.7" y1="547.5" x2="536.2" y2="547.5" stroke="#666" stroke-width="1"/>
<line x1="533.7" y1="534.0" x2="536.2" y2="534.0" stroke="#666" stroke-width="1"/>
<line x1="533.7" y1="507.2" x2="536.2" y2="507.2" stroke="#666" stroke-width="1"/>
<line x1="555.6" y1="789.4" x2="555.6" y2="786.4" stroke="#444" stroke-width="1"/>
<line x1="568.0" y1="789.4" x2="568.0" y2="786.4" stroke="#444" stroke-width="1"/>
<line x1="576.9" y1="789.4" x2="576.9" y2="786.4" stroke="#444" stroke-width="1"/>
<line x1="583.7" y1="789.4" x2="583.7" y2="786.4" stroke="#444" stroke-width="1"/>
<line x1="589.3" y1="789.4" x2="589.3" y2="786.4" stroke="#444" stroke-width="1"/>
<line x1="594.1" y1="789.4" x2="594.1" y2="786.4" stroke="#444" stroke-width="1"/>
<line x1="598.2" y1="789.4" x2="598.2" y2="786.4" stroke="#444" stroke-width="1"/>
<line x1="601.8" y1="789.4" x2="601.8" y2="786.4" stroke="#444" stroke-width="1"/>
<line x1="605.0" y1="789.4" x2="605.0" y2="784.4" stroke="#444" stroke-width="1"/>
<line x1="626.3" y1="789.4" x2="626.3" y2="786.4" stroke="#444" stroke-width="1"/>
<line x1="638.7" y1="789.4" x2="638.7" y2="786.4" stroke="#444" stroke-width="1"/>
<line x1="647.5" y1="789.4" x2="647.5" y2="786.4" stroke="#444" stroke-width="1"/>
<line x1="654.4" y1="789.4" x2="654.4" y2="786.4" stroke="#444" stroke-width="1"/>
<line x1="660.0" y1="789.4" x2="660.0" y2="786.4" stroke="#444" stroke-width="1"/>
<line x1="664.7" y1="789.4" x2="664.7" y2="786.4" stroke="#444" stroke-width="1"/>
<line x1="668.8" y1="789.4" x2="668.8" y2="786.4" stroke="#444" stroke-width="1"/>
<line x1="672.4" y1="789.4" x2="672.4" y2="786.4" stroke="#444" stroke-width="1"/>
<line x1="675.7" y1="789.4" x2="675.7" y2="784.4" stroke="#444" stroke-width="1"/>
<line x1="696.9" y1="789.4" x2="696.9" y2="786.4" stroke="#444" stroke-width="1"/>
<line x1="709.4" y1="789.4" x2="709.4" y2="786.4" stroke="#444" stroke-width="1"/>
<line x1="718.2" y1="789.4" x2="718.2" y2="786.4" stroke="#444" stroke-width="1"/>
<line x1="725.1" y1="789.4" x2="725.1" y2="786.4" stroke="#444" stroke-width="1"/>
<line x1="730.7" y1="789.4" x2="730.7" y2="786.4" stroke="#444" stroke-width="1"/>
<line x1="735.4" y1="789.4" x2="735.4" y2="786.4" stroke="#444" stroke-width="1"/>
<line x1="739.5" y1="789.4" x2="739.5" y2="786.4" stroke="#444" stroke-width="1"/>
<line x1="743.1" y1="789.4" x2="743.1" y2="786.4" stroke="#444" stroke-width="1"/>
<line x1="746.3" y1="789.4" x2="746.3" y2="784.4" stroke="#444" stroke-width="1"/>
<line x1="767.6" y1="789.4" x2="767.6" y2="786.4" stroke="#444" stroke-width="1"/>
<line x1="780.0" y1="789.4" x2="780.0" y2="786.4" stroke="#444" stroke-width="1"/>
<line x1="788.9" y1="789.4" x2="788.9" y2="786.4" stroke="#444" stroke-width="1"/>
<line x1="795.7" y1="789.4" x2="795.7" y2="786.4" stroke="#444" stroke-width="1"/>
<line x1="801.3" y1="789.4" x2="801.3" y2="786.4" stroke="#444" stroke-width="1"/>
<line x1="806.1" y1="789.4" x2="806.1" y2="786.4" stroke="#444" stroke-width="1"/>
<line x1="810.2" y1="789.4" x2="810.2" y2="786.4" stroke="#444" stroke-width="1"/>
<line x1="813.8" y1="789.4" x2="813.8" y2="786.4" stroke="#444" stroke-width="1"/>
<line x1="817.0" y1="789.4" x2="817.0" y2="784.4" stroke="#444" stroke-width="1"/>
<text x="605.0" y="807.4" font-size="9.5" text-anchor="middle" fill="#333" font-family='"Liberation Sans", Arial, sans-serif'>10<tspan font-size="6" dy="-4">3</tspan></text>
<line x1="605.0" y1="789.4" x2="605.0" y2="793.4" stroke="#444" stroke-width="1.2"/>
<text x="675.8" y="807.4" font-size="9.5" text-anchor="middle" fill="#333" font-family='"Liberation Sans", Arial, sans-serif'>10<tspan font-size="6" dy="-4">4</tspan></text>
<line x1="675.8" y1="789.4" x2="675.8" y2="793.4" stroke="#444" stroke-width="1.2"/>
<text x="745.8" y="807.4" font-size="9.5" text-anchor="middle" fill="#333" font-family='"Liberation Sans", Arial, sans-serif'>10<tspan font-size="6" dy="-4">5</tspan></text>
<line x1="745.8" y1="789.4" x2="745.8" y2="793.4" stroke="#444" stroke-width="1.2"/>
<text x="817.0" y="807.4" font-size="9.5" text-anchor="middle" fill="#333" font-family='"Liberation Sans", Arial, sans-serif'>10<tspan font-size="6" dy="-4">6</tspan></text>
<line x1="817.0" y1="789.4" x2="817.0" y2="793.4" stroke="#444" stroke-width="1.2"/>
<line x1="639.8" y1="705.3" x2="818.0" y2="705.3" stroke="#5a5a5a" stroke-width="2"/>
<line x1="639.8" y1="701.3" x2="639.8" y2="709.3" stroke="#5a5a5a" stroke-width="2"/>
<line x1="818.0" y1="701.3" x2="818.0" y2="709.3" stroke="#5a5a5a" stroke-width="2"/>
<text x="714.3" y="681.2" font-size="28" text-anchor="middle" font-weight="bold" font-family='"Liberation Sans", Arial, sans-serif'>7.8 %</text>
<line x1="191.7" y1="1429.8" x2="530.4" y2="1429.8" stroke="#8a8a8a" stroke-width="2.0"/>
<line x1="191.7" y1="1349.5" x2="530.4" y2="1349.5" stroke="#8a8a8a" stroke-width="2.0"/>
<line x1="191.7" y1="1269.1" x2="530.4" y2="1269.1" stroke="#8a8a8a" stroke-width="2.0"/>
<line x1="191.7" y1="1188.8" x2="530.4" y2="1188.8" stroke="#8a8a8a" stroke-width="2.0"/>
<rect x="225.2" y="1460.8" width="16.5" height="49.4" fill="#0a6fc6"/>
<rect x="310.8" y="1489.3" width="16.5" height="20.9" fill="#f7964a"/>
<rect x="395.4" y="1314.5" width="16.5" height="195.7" fill="#0a6fc6"/>
<rect x="480.2" y="1429.8" width="16.5" height="80.4" fill="#f7964a"/>
<line x1="233.5" y1="1437.5" x2="233.5" y2="1479.3" stroke="#000" stroke-width="2.6"/>
<line x1="226.0" y1="1437.5" x2="241.0" y2="1437.5" stroke="#000" stroke-width="3.2"/>
<line x1="226.0" y1="1479.3" x2="241.0" y2="1479.3" stroke="#000" stroke-width="3.2"/>
<line x1="319.0" y1="1476.9" x2="319.0" y2="1492.1" stroke="#000" stroke-width="2.6"/>
<line x1="311.5" y1="1476.9" x2="326.5" y2="1476.9" stroke="#000" stroke-width="3.2"/>
<line x1="311.5" y1="1492.1" x2="326.5" y2="1492.1" stroke="#000" stroke-width="3.2"/>
<line x1="403.6" y1="1224.9" x2="403.6" y2="1402.9" stroke="#000" stroke-width="2.6"/>
<line x1="396.1" y1="1224.9" x2="411.1" y2="1224.9" stroke="#000" stroke-width="3.2"/>
<line x1="396.1" y1="1402.9" x2="411.1" y2="1402.9" stroke="#000" stroke-width="3.2"/>
<line x1="488.5" y1="1399.7" x2="488.5" y2="1462.0" stroke="#000" stroke-width="2.6"/>
<line x1="481.0" y1="1399.7" x2="496.0" y2="1399.7" stroke="#000" stroke-width="3.2"/>
<line x1="481.0" y1="1462.0" x2="496.0" y2="1462.0" stroke="#000" stroke-width="3.2"/>
<rect x="191.7" y="1108.4" width="338.7" height="401.8" fill="none" stroke="#000" stroke-width="2.8"/>
<path d="M199.5 1444.7L206.7 1451.9L199.5 1459.1L192.3 1451.9Z" fill="#fff" stroke="#000" stroke-width="2.4" stroke-linejoin="miter"/>
<path d="M216.5 1443.5L223.7 1450.7L216.5 1457.9L209.3 1450.7Z" fill="#fff" stroke="#000" stroke-width="2.4" stroke-linejoin="miter"/>
<path d="M233.6 1417.8L240.8 1425.0L233.6 1432.2L226.4 1425.0Z" fill="#fff" stroke="#000" stroke-width="2.4" stroke-linejoin="miter"/>
<path d="M233.6 1443.5L240.8 1450.7L233.6 1457.9L226.4 1450.7Z" fill="#fff" stroke="#000" stroke-width="2.4" stroke-linejoin="miter"/>
<path d="M250.6 1438.0L257.8 1445.2L250.6 1452.4L243.4 1445.2Z" fill="#fff" stroke="#000" stroke-width="2.4" stroke-linejoin="miter"/>
<path d="M233.6 1463.4L240.8 1470.6L233.6 1477.8L226.4 1470.6Z" fill="#fff" stroke="#000" stroke-width="2.4" stroke-linejoin="miter"/>
<path d="M216.5 1473.3L223.7 1480.5L216.5 1487.7L209.3 1480.5Z" fill="#fff" stroke="#000" stroke-width="2.4" stroke-linejoin="miter"/>
<path d="M260.5 1466.6L267.7 1473.8L260.5 1481.0L253.3 1473.8Z" fill="#fff" stroke="#000" stroke-width="2.4" stroke-linejoin="miter"/>
<path d="M233.6 1485.3L240.8 1492.5L233.6 1499.7L226.4 1492.5Z" fill="#fff" stroke="#000" stroke-width="2.4" stroke-linejoin="miter"/>
<path d="M301.7 1469.6L308.9 1476.8L301.7 1484.0L294.5 1476.8Z" fill="#fff" stroke="#000" stroke-width="2.4" stroke-linejoin="miter"/>
<path d="M301.7 1478.3L308.9 1485.5L301.7 1492.7L294.5 1485.5Z" fill="#fff" stroke="#000" stroke-width="2.4" stroke-linejoin="miter"/>
<path d="M311.1 1485.3L318.3 1492.5L311.1 1499.7L303.9 1492.5Z" fill="#fff" stroke="#000" stroke-width="2.4" stroke-linejoin="miter"/>
<path d="M325.3 1475.8L332.5 1483.0L325.3 1490.2L318.1 1483.0Z" fill="#fff" stroke="#000" stroke-width="2.4" stroke-linejoin="miter"/>
<path d="M335.3 1473.3L342.5 1480.5L335.3 1487.7L328.1 1480.5Z" fill="#fff" stroke="#000" stroke-width="2.4" stroke-linejoin="miter"/>
<path d="M344.0 1475.1L351.2 1482.3L344.0 1489.5L336.8 1482.3Z" fill="#fff" stroke="#000" stroke-width="2.4" stroke-linejoin="miter"/>
<path d="M403.0 1183.3L410.2 1190.5L403.0 1197.7L395.8 1190.5Z" fill="#fff" stroke="#000" stroke-width="2.4" stroke-linejoin="miter"/>
<path d="M403.0 1243.8L410.2 1251.0L403.0 1258.2L395.8 1251.0Z" fill="#fff" stroke="#000" stroke-width="2.4" stroke-linejoin="miter"/>
<path d="M403.0 1355.8L410.2 1363.0L403.0 1370.2L395.8 1363.0Z" fill="#fff" stroke="#000" stroke-width="2.4" stroke-linejoin="miter"/>
<path d="M403.0 1384.8L410.2 1392.0L403.0 1399.2L395.8 1392.0Z" fill="#fff" stroke="#000" stroke-width="2.4" stroke-linejoin="miter"/>
<path d="M429.5 1371.2L436.7 1378.4L429.5 1385.6L422.3 1378.4Z" fill="#fff" stroke="#000" stroke-width="2.4" stroke-linejoin="miter"/>
<path d="M488.0 1419.8L495.2 1427.0L488.0 1434.2L480.8 1427.0Z" fill="#fff" stroke="#000" stroke-width="2.4" stroke-linejoin="miter"/>
<path d="M496.0 1402.8L503.2 1410.0L496.0 1417.2L488.8 1410.0Z" fill="#fff" stroke="#000" stroke-width="2.4" stroke-linejoin="miter"/>
<path d="M488.0 1468.4L495.2 1475.6L488.0 1482.8L480.8 1475.6Z" fill="#fff" stroke="#000" stroke-width="2.4" stroke-linejoin="miter"/>
<path d="M530.4 1406.1L537.6 1413.3L530.4 1420.5L523.2 1413.3Z" fill="#fff" stroke="#000" stroke-width="2.4" stroke-linejoin="miter"/>
<text x="165.8" y="1117.4" font-size="26" text-anchor="end" font-weight="bold" font-family='"Liberation Sans", Arial, sans-serif'>10</text>
<text x="165.8" y="1197.8" font-size="26" text-anchor="end" font-weight="bold" font-family='"Liberation Sans", Arial, sans-serif'>8</text>
<text x="165.8" y="1278.1" font-size="26" text-anchor="end" font-weight="bold" font-family='"Liberation Sans", Arial, sans-serif'>6</text>
<text x="165.8" y="1358.5" font-size="26" text-anchor="end" font-weight="bold" font-family='"Liberation Sans", Arial, sans-serif'>4</text>
<text x="165.8" y="1438.8" font-size="26" text-anchor="end" font-weight="bold" font-family='"Liberation Sans", Arial, sans-serif'>2</text>
<text x="165.8" y="1519.2" font-size="26" text-anchor="end" font-weight="bold" font-family='"Liberation Sans", Arial, sans-serif'>0</text>
<text transform="translate(247.0,1547.8) rotate(-90)" font-size="26.5" text-anchor="end" font-weight="bold" font-family='"Liberation Sans", Arial, sans-serif'>Ctrl</text>
<text transform="translate(334.0,1547.8) rotate(-90)" font-size="26.5" text-anchor="end" font-weight="bold" font-family='"Liberation Sans", Arial, sans-serif'>CKO</text>
<text transform="translate(410.0,1547.8) rotate(-90)" font-size="26.5" text-anchor="end" font-weight="bold" font-family='"Liberation Sans", Arial, sans-serif'>Ctrl</text>
<text transform="translate(501.0,1547.8) rotate(-90)" font-size="26.5" text-anchor="end" font-weight="bold" font-family='"Liberation Sans", Arial, sans-serif'>CKO</text>
<text x="274.2" y="1087.5" font-size="26.5" text-anchor="middle" font-weight="bold" font-family='"Liberation Sans", Arial, sans-serif'>E12.5</text>
<text x="453.6" y="1086.8" font-size="26.5" text-anchor="middle" font-weight="bold" font-family='"Liberation Sans", Arial, sans-serif'>E13.5</text>
<text x="302.4" y="1477.8" font-size="42" font-weight="bold" font-family='"Liberation Sans", Arial, sans-serif' letter-spacing="2.4">**</text>
<text x="479.2" y="1401.0" font-size="42" font-weight="bold" font-family='"Liberation Sans", Arial, sans-serif' letter-spacing="2.4">*</text>
<text x="76.0" y="1001.0" font-size="32.5" font-weight="bold" font-family='"Liberation Sans", Arial, sans-serif'>B</text>
<text x="108.0" y="1063.6" font-size="33" fill="#333" font-family='"Liberation Serif", serif'>(</text>
<text x="119.0" y="1065.8" font-size="23.5" font-weight="bold" font-family='"Liberation Sans", Arial, sans-serif'>x</text>
<text x="143.6" y="1065.8" font-size="24" font-weight="bold" font-family='"Liberation Sans", Arial, sans-serif'>10</text>
<text x="173.2" y="1058.0" font-size="14.5" font-family='"Liberation Sans", Arial, sans-serif'>3</text>
<text x="183.0" y="1063.6" font-size="33" fill="#333" font-family='"Liberation Serif", serif'>)</text>
<text transform="translate(99.6,1311.0) rotate(-90)" font-size="27.8" text-anchor="middle" font-weight="bold" font-family='"Liberation Sans", Arial, sans-serif' textLength="361" lengthAdjust="spacing">No. of SSEA1 positive cells</text>
<text transform="translate(132.0,1315.0) rotate(-90)" font-size="27" text-anchor="middle" font-weight="bold" font-family='"Liberation Sans", Arial, sans-serif'>/ mouse</text>
<line x1="773.2" y1="1495.3" x2="1173.9" y2="1495.3" stroke="#000" stroke-width="1.4"/>
<line x1="773.2" y1="1450.0" x2="1173.9" y2="1450.0" stroke="#000" stroke-width="1.4"/>
<line x1="773.2" y1="1404.8" x2="1173.9" y2="1404.8" stroke="#000" stroke-width="1.4"/>
<line x1="773.2" y1="1359.6" x2="1173.9" y2="1359.6" stroke="#000" stroke-width="1.4"/>
<line x1="773.2" y1="1314.4" x2="1173.9" y2="1314.4" stroke="#000" stroke-width="1.4"/>
<line x1="773.2" y1="1269.2" x2="1173.9" y2="1269.2" stroke="#000" stroke-width="1.4"/>
<line x1="773.2" y1="1223.9" x2="1173.9" y2="1223.9" stroke="#000" stroke-width="1.4"/>
<rect x="800.3" y="1314.4" width="13.0" height="226.1" fill="#0a6fc6"/>
<rect x="867.1" y="1363.4" width="13.0" height="177.1" fill="#ed7d31"/>
<rect x="934.4" y="1314.4" width="13.0" height="226.1" fill="#0a6fc6"/>
<rect x="1001.4" y="1434.2" width="13.0" height="106.3" fill="#ed7d31"/>
<rect x="1068.7" y="1314.4" width="13.0" height="226.1" fill="#0a6fc6"/>
<rect x="1134.0" y="1454.6" width="13.0" height="85.9" fill="#ed7d31"/>
<line x1="806.8" y1="1266.9" x2="806.8" y2="1364.1" stroke="#000" stroke-width="2.6"/>
<line x1="799.3" y1="1266.9" x2="814.3" y2="1266.9" stroke="#000" stroke-width="3.2"/>
<line x1="799.3" y1="1364.1" x2="814.3" y2="1364.1" stroke="#000" stroke-width="3.2"/>
<line x1="873.6" y1="1305.3" x2="873.6" y2="1418.4" stroke="#000" stroke-width="2.6"/>
<line x1="866.1" y1="1305.3" x2="881.1" y2="1305.3" stroke="#000" stroke-width="3.2"/>
<line x1="866.1" y1="1418.4" x2="881.1" y2="1418.4" stroke="#000" stroke-width="3.2"/>
<line x1="940.9" y1="1278.2" x2="940.9" y2="1351.7" stroke="#000" stroke-width="2.6"/>
<line x1="933.4" y1="1278.2" x2="948.4" y2="1278.2" stroke="#000" stroke-width="3.2"/>
<line x1="933.4" y1="1351.7" x2="948.4" y2="1351.7" stroke="#000" stroke-width="3.2"/>
<line x1="1007.9" y1="1402.6" x2="1007.9" y2="1465.9" stroke="#000" stroke-width="2.6"/>
<line x1="1000.4" y1="1402.6" x2="1015.4" y2="1402.6" stroke="#000" stroke-width="3.2"/>
<line x1="1000.4" y1="1465.9" x2="1015.4" y2="1465.9" stroke="#000" stroke-width="3.2"/>
<line x1="1075.2" y1="1252.2" x2="1075.2" y2="1379.3" stroke="#000" stroke-width="2.6"/>
<line x1="1067.7" y1="1252.2" x2="1082.7" y2="1252.2" stroke="#000" stroke-width="3.2"/>
<line x1="1067.7" y1="1379.3" x2="1082.7" y2="1379.3" stroke="#000" stroke-width="3.2"/>
<line x1="1140.5" y1="1445.5" x2="1140.5" y2="1459.8" stroke="#000" stroke-width="2.6"/>
<line x1="1133.0" y1="1445.5" x2="1148.0" y2="1445.5" stroke="#000" stroke-width="3.2"/>
<line x1="1133.0" y1="1459.8" x2="1148.0" y2="1459.8" stroke="#000" stroke-width="3.2"/>
<rect x="773.2" y="1178.7" width="400.7" height="361.8" fill="none" stroke="#000" stroke-width="2.8"/>
<path d="M806.7 1272.5L813.9 1279.7L806.7 1286.9L799.5 1279.7Z" fill="#fff" stroke="#000" stroke-width="2.4" stroke-linejoin="miter"/>
<path d="M806.7 1341.2L813.9 1348.4L806.7 1355.6L799.5 1348.4Z" fill="#fff" stroke="#000" stroke-width="2.4" stroke-linejoin="miter"/>
<path d="M873.7 1291.0L880.9 1298.2L873.7 1305.4L866.5 1298.2Z" fill="#fff" stroke="#000" stroke-width="2.4" stroke-linejoin="miter"/>
<path d="M873.7 1372.6L880.9 1379.8L873.7 1387.0L866.5 1379.8Z" fill="#fff" stroke="#000" stroke-width="2.4" stroke-linejoin="miter"/>
<path d="M873.7 1401.6L880.9 1408.8L873.7 1416.0L866.5 1408.8Z" fill="#fff" stroke="#000" stroke-width="2.4" stroke-linejoin="miter"/>
<path d="M927.4 1270.8L934.6 1278.0L927.4 1285.2L920.2 1278.0Z" fill="#fff" stroke="#000" stroke-width="2.4" stroke-linejoin="miter"/>
<path d="M933.9 1309.4L941.1 1316.6L933.9 1323.8L926.7 1316.6Z" fill="#fff" stroke="#000" stroke-width="2.4" stroke-linejoin="miter"/>
<path d="M948.1 1342.7L955.3 1349.9L948.1 1357.1L940.9 1349.9Z" fill="#fff" stroke="#000" stroke-width="2.4" stroke-linejoin="miter"/>
<path d="M994.4 1396.2L1001.6 1403.4L994.4 1410.6L987.2 1403.4Z" fill="#fff" stroke="#000" stroke-width="2.4" stroke-linejoin="miter"/>
<path d="M1000.6 1406.7L1007.8 1413.9L1000.6 1421.1L993.4 1413.9Z" fill="#fff" stroke="#000" stroke-width="2.4" stroke-linejoin="miter"/>
<path d="M1021.4 1416.6L1028.6 1423.8L1021.4 1431.0L1014.2 1423.8Z" fill="#fff" stroke="#000" stroke-width="2.4" stroke-linejoin="miter"/>
<path d="M994.4 1428.0L1001.6 1435.2L994.4 1442.4L987.2 1435.2Z" fill="#fff" stroke="#000" stroke-width="2.4" stroke-linejoin="miter"/>
<path d="M1014.3 1426.6L1021.5 1433.8L1014.3 1441.0L1007.1 1433.8Z" fill="#fff" stroke="#000" stroke-width="2.4" stroke-linejoin="miter"/>
<path d="M1000.6 1487.1L1007.8 1494.3L1000.6 1501.5L993.4 1494.3Z" fill="#fff" stroke="#000" stroke-width="2.4" stroke-linejoin="miter"/>
<path d="M1068.8 1206.9L1076.0 1214.1L1068.8 1221.3L1061.6 1214.1Z" fill="#fff" stroke="#000" stroke-width="2.4" stroke-linejoin="miter"/>
<path d="M1061.7 1321.4L1068.9 1328.6L1061.7 1335.8L1054.5 1328.6Z" fill="#fff" stroke="#000" stroke-width="2.4" stroke-linejoin="miter"/>
<path d="M1081.6 1319.4L1088.8 1326.6L1081.6 1333.8L1074.4 1326.6Z" fill="#fff" stroke="#000" stroke-width="2.4" stroke-linejoin="miter"/>
<path d="M1088.1 1383.1L1095.3 1390.3L1088.1 1397.5L1080.9 1390.3Z" fill="#fff" stroke="#000" stroke-width="2.4" stroke-linejoin="miter"/>
<path d="M1127.0 1436.5L1134.2 1443.7L1127.0 1450.9L1119.8 1443.7Z" fill="#fff" stroke="#000" stroke-width="2.4" stroke-linejoin="miter"/>
<path d="M1134.1 1442.8L1141.3 1450.0L1134.1 1457.2L1126.9 1450.0Z" fill="#fff" stroke="#000" stroke-width="2.4" stroke-linejoin="miter"/>
<path d="M1153.1 1451.6L1160.3 1458.8L1153.1 1466.0L1145.9 1458.8Z" fill="#fff" stroke="#000" stroke-width="2.4" stroke-linejoin="miter"/>
<path d="M1166.8 1458.7L1174.0 1465.9L1166.8 1473.1L1159.6 1465.9Z" fill="#fff" stroke="#000" stroke-width="2.4" stroke-linejoin="miter"/>
<text x="749.2" y="1187.7" font-size="26" text-anchor="end" font-weight="bold" font-family='"Liberation Sans", Arial, sans-serif'>1.6</text>
<text x="749.2" y="1232.9" font-size="26" text-anchor="end" font-weight="bold" font-family='"Liberation Sans", Arial, sans-serif'>1.4</text>
<text x="749.2" y="1278.2" font-size="26" text-anchor="end" font-weight="bold" font-family='"Liberation Sans", Arial, sans-serif'>1.2</text>
<text x="749.2" y="1323.4" font-size="26" text-anchor="end" font-weight="bold" font-family='"Liberation Sans", Arial, sans-serif'>1</text>
<text x="749.2" y="1368.6" font-size="26" text-anchor="end" font-weight="bold" font-family='"Liberation Sans", Arial, sans-serif'>0.8</text>
<text x="749.2" y="1413.8" font-size="26" text-anchor="end" font-weight="bold" font-family='"Liberation Sans", Arial, sans-serif'>0.6</text>
<text x="749.2" y="1459.0" font-size="26" text-anchor="end" font-weight="bold" font-family='"Liberation Sans", Arial, sans-serif'>0.4</text>
<text x="749.2" y="1504.3" font-size="26" text-anchor="end" font-weight="bold" font-family='"Liberation Sans", Arial, sans-serif'>0.2</text>
<text x="749.2" y="1549.5" font-size="26" text-anchor="end" font-weight="bold" font-family='"Liberation Sans", Arial, sans-serif'>0</text>
<text transform="translate(816.0,1555.9) rotate(-90)" font-size="26.5" text-anchor="end" font-weight="bold" font-family='"Liberation Sans", Arial, sans-serif'>Ctrl</text>
<text transform="translate(881.4,1555.9) rotate(-90)" font-size="26.5" text-anchor="end" font-weight="bold" font-family='"Liberation Sans", Arial, sans-serif'>CKO</text>
<text transform="translate(950.0,1555.9) rotate(-90)" font-size="26.5" text-anchor="end" font-weight="bold" font-family='"Liberation Sans", Arial, sans-serif'>Ctrl</text>
<text transform="translate(1016.0,1555.9) rotate(-90)" font-size="26.5" text-anchor="end" font-weight="bold" font-family='"Liberation Sans", Arial, sans-serif'>CKO</text>
<text transform="translate(1083.0,1555.9) rotate(-90)" font-size="26.5" text-anchor="end" font-weight="bold" font-family='"Liberation Sans", Arial, sans-serif'>Ctrl</text>
<text transform="translate(1148.5,1555.9) rotate(-90)" font-size="26.5" text-anchor="end" font-weight="bold" font-family='"Liberation Sans", Arial, sans-serif'>CKO</text>
<text x="836.6" y="1165.3" font-size="26.5" text-anchor="middle" font-weight="bold" font-family='"Liberation Sans", Arial, sans-serif'>E15.5</text>
<text x="967.3" y="1165.3" font-size="26.5" text-anchor="middle" font-weight="bold" font-family='"Liberation Sans", Arial, sans-serif'>E17.5</text>
<text x="1104.7" y="1165.3" font-size="26.5" text-anchor="middle" font-weight="bold" font-family='"Liberation Sans", Arial, sans-serif'>E19.5</text>
<text x="1000.3" y="1391.8" font-size="42" font-weight="bold" font-family='"Liberation Sans", Arial, sans-serif' letter-spacing="2.4">*</text>
<text x="1133.7" y="1440.0" font-size="42" font-weight="bold" font-family='"Liberation Sans", Arial, sans-serif' letter-spacing="2.4">*</text>
<text x="684.5" y="1121.2" font-size="32" font-weight="bold" font-family='"Liberation Sans", Arial, sans-serif'>D</text>
<text transform="translate(662.5,1353.8) rotate(-90)" font-size="27.5" text-anchor="middle" font-weight="bold" font-family='"Liberation Sans", Arial, sans-serif' textLength="195" lengthAdjust="spacing">Relative No. of</text>
<text transform="translate(696.3,1341.0) rotate(-90)" font-size="26.6" text-anchor="middle" font-weight="bold" font-family='"Liberation Sans", Arial, sans-serif' textLength="344" lengthAdjust="spacing">MVH-positive cells / section</text>
<line x1="1317.0" y1="1475.5" x2="1670.0" y2="1475.5" stroke="#000" stroke-width="1.4"/>
<line x1="1317.0" y1="1404.5" x2="1670.0" y2="1404.5" stroke="#000" stroke-width="1.4"/>
<line x1="1317.0" y1="1333.5" x2="1670.0" y2="1333.5" stroke="#000" stroke-width="1.4"/>
<line x1="1317.0" y1="1262.5" x2="1670.0" y2="1262.5" stroke="#000" stroke-width="1.4"/>
<rect x="1340.7" y="1526.6" width="9.0" height="19.9" fill="#0a6fc6"/>
<rect x="1401.1" y="1325.0" width="9.0" height="221.5" fill="#ed7d31"/>
<rect x="1458.9" y="1539.4" width="9.0" height="7.1" fill="#0a6fc6"/>
<rect x="1518.3" y="1375.4" width="9.0" height="171.1" fill="#ed7d31"/>
<rect x="1576.5" y="1545.8" width="9.0" height="0.7" fill="#0a6fc6"/>
<rect x="1635.5" y="1521.5" width="9.0" height="25.0" fill="#ed7d31"/>
<line x1="1345.2" y1="1503.9" x2="1345.2" y2="1546.5" stroke="#000" stroke-width="2.6"/>
<line x1="1337.7" y1="1503.9" x2="1352.7" y2="1503.9" stroke="#000" stroke-width="3.2"/>
<line x1="1337.7" y1="1546.5" x2="1352.7" y2="1546.5" stroke="#000" stroke-width="3.2"/>
<line x1="1405.6" y1="1264.3" x2="1405.6" y2="1382.6" stroke="#000" stroke-width="2.6"/>
<line x1="1398.1" y1="1264.3" x2="1413.1" y2="1264.3" stroke="#000" stroke-width="3.2"/>
<line x1="1398.1" y1="1382.6" x2="1413.1" y2="1382.6" stroke="#000" stroke-width="3.2"/>
<line x1="1463.4" y1="1535.8" x2="1463.4" y2="1542.2" stroke="#000" stroke-width="2.6"/>
<line x1="1455.9" y1="1535.8" x2="1470.9" y2="1535.8" stroke="#000" stroke-width="3.2"/>
<line x1="1455.9" y1="1542.2" x2="1470.9" y2="1542.2" stroke="#000" stroke-width="3.2"/>
<line x1="1522.8" y1="1306.5" x2="1522.8" y2="1443.5" stroke="#000" stroke-width="2.6"/>
<line x1="1515.3" y1="1306.5" x2="1530.3" y2="1306.5" stroke="#000" stroke-width="3.2"/>
<line x1="1515.3" y1="1443.5" x2="1530.3" y2="1443.5" stroke="#000" stroke-width="3.2"/>
<line x1="1640.0" y1="1492.1" x2="1640.0" y2="1546.5" stroke="#000" stroke-width="2.6"/>
<line x1="1632.5" y1="1492.1" x2="1647.5" y2="1492.1" stroke="#000" stroke-width="3.2"/>
<line x1="1632.5" y1="1546.5" x2="1647.5" y2="1546.5" stroke="#000" stroke-width="3.2"/>
<rect x="1317.0" y="1191.5" width="353.0" height="355.0" fill="none" stroke="#000" stroke-width="2.8"/>
<path d="M1345.2 1503.6L1352.4 1510.8L1345.2 1518.0L1338.0 1510.8Z" fill="#fff" stroke="#000" stroke-width="2.4" stroke-linejoin="miter"/>
<path d="M1345.2 1533.5L1352.4 1540.7L1345.2 1547.9L1338.0 1540.7Z" fill="#fff" stroke="#000" stroke-width="2.4" stroke-linejoin="miter"/>
<path d="M1405.0 1249.7L1412.2 1256.9L1405.0 1264.1L1397.8 1256.9Z" fill="#fff" stroke="#000" stroke-width="2.4" stroke-linejoin="miter"/>
<path d="M1405.0 1347.4L1412.2 1354.6L1405.0 1361.8L1397.8 1354.6Z" fill="#fff" stroke="#000" stroke-width="2.4" stroke-linejoin="miter"/>
<path d="M1405.0 1355.6L1412.2 1362.8L1405.0 1370.0L1397.8 1362.8Z" fill="#fff" stroke="#000" stroke-width="2.4" stroke-linejoin="miter"/>
<path d="M1451.6 1534.2L1458.8 1541.4L1451.6 1548.6L1444.4 1541.4Z" fill="#fff" stroke="#000" stroke-width="2.4" stroke-linejoin="miter"/>
<path d="M1456.6 1527.3L1463.8 1534.5L1456.6 1541.7L1449.4 1534.5Z" fill="#fff" stroke="#000" stroke-width="2.4" stroke-linejoin="miter"/>
<path d="M1469.0 1521.8L1476.2 1529.0L1469.0 1536.2L1461.8 1529.0Z" fill="#fff" stroke="#000" stroke-width="2.4" stroke-linejoin="miter"/>
<path d="M1515.9 1248.5L1523.1 1255.7L1515.9 1262.9L1508.7 1255.7Z" fill="#fff" stroke="#000" stroke-width="2.4" stroke-linejoin="miter"/>
<path d="M1510.9 1339.4L1518.1 1346.6L1510.9 1353.8L1503.7 1346.6Z" fill="#fff" stroke="#000" stroke-width="2.4" stroke-linejoin="miter"/>
<path d="M1515.9 1367.6L1523.1 1374.8L1515.9 1382.0L1508.7 1374.8Z" fill="#fff" stroke="#000" stroke-width="2.4" stroke-linejoin="miter"/>
<path d="M1527.9 1394.7L1535.1 1401.9L1527.9 1409.1L1520.7 1401.9Z" fill="#fff" stroke="#000" stroke-width="2.4" stroke-linejoin="miter"/>
<path d="M1510.9 1420.1L1518.1 1427.3L1510.9 1434.5L1503.7 1427.3Z" fill="#fff" stroke="#000" stroke-width="2.4" stroke-linejoin="miter"/>
<path d="M1534.6 1438.3L1541.8 1445.5L1534.6 1452.7L1527.4 1445.5Z" fill="#fff" stroke="#000" stroke-width="2.4" stroke-linejoin="miter"/>
<path d="M1569.5 1538.5L1576.7 1545.7L1569.5 1552.9L1562.3 1545.7Z" fill="#fff" stroke="#000" stroke-width="2.4" stroke-linejoin="miter"/>
<path d="M1576.2 1537.2L1583.4 1544.4L1576.2 1551.6L1569.0 1544.4Z" fill="#fff" stroke="#000" stroke-width="2.4" stroke-linejoin="miter"/>
<path d="M1589.9 1541.0L1597.1 1548.2L1589.9 1555.4L1582.7 1548.2Z" fill="#fff" stroke="#000" stroke-width="2.4" stroke-linejoin="miter"/>
<path d="M1593.1 1540.5L1600.3 1547.7L1593.1 1554.9L1585.9 1547.7Z" fill="#fff" stroke="#000" stroke-width="2.4" stroke-linejoin="miter"/>
<path d="M1628.0 1463.7L1635.2 1470.9L1628.0 1478.1L1620.8 1470.9Z" fill="#fff" stroke="#000" stroke-width="2.4" stroke-linejoin="miter"/>
<path d="M1634.7 1530.3L1641.9 1537.5L1634.7 1544.7L1627.5 1537.5Z" fill="#fff" stroke="#000" stroke-width="2.4" stroke-linejoin="miter"/>
<path d="M1652.2 1527.3L1659.4 1534.5L1652.2 1541.7L1645.0 1534.5Z" fill="#fff" stroke="#000" stroke-width="2.4" stroke-linejoin="miter"/>
<path d="M1663.4 1538.5L1670.6 1545.7L1663.4 1552.9L1656.2 1545.7Z" fill="#fff" stroke="#000" stroke-width="2.4" stroke-linejoin="miter"/>
<text x="1289.7" y="1200.5" font-size="26" text-anchor="end" font-weight="bold" font-family='"Liberation Sans", Arial, sans-serif'>25</text>
<text x="1289.7" y="1271.5" font-size="26" text-anchor="end" font-weight="bold" font-family='"Liberation Sans", Arial, sans-serif'>20</text>
<text x="1289.7" y="1342.5" font-size="26" text-anchor="end" font-weight="bold" font-family='"Liberation Sans", Arial, sans-serif'>15</text>
<text x="1289.7" y="1413.5" font-size="26" text-anchor="end" font-weight="bold" font-family='"Liberation Sans", Arial, sans-serif'>10</text>
<text x="1289.7" y="1484.5" font-size="26" text-anchor="end" font-weight="bold" font-family='"Liberation Sans", Arial, sans-serif'>5</text>
<text x="1289.7" y="1555.5" font-size="26" text-anchor="end" font-weight="bold" font-family='"Liberation Sans", Arial, sans-serif'>0</text>
<text transform="translate(1358.2,1560.6) rotate(-90)" font-size="26.5" text-anchor="end" font-weight="bold" font-family='"Liberation Sans", Arial, sans-serif'>Ctrl</text>
<text transform="translate(1419.2,1560.6) rotate(-90)" font-size="26.5" text-anchor="end" font-weight="bold" font-family='"Liberation Sans", Arial, sans-serif'>CKO</text>
<text transform="translate(1476.5,1560.6) rotate(-90)" font-size="26.5" text-anchor="end" font-weight="bold" font-family='"Liberation Sans", Arial, sans-serif'>Ctrl</text>
<text transform="translate(1537.0,1560.6) rotate(-90)" font-size="26.5" text-anchor="end" font-weight="bold" font-family='"Liberation Sans", Arial, sans-serif'>CKO</text>
<text transform="translate(1594.5,1560.6) rotate(-90)" font-size="26.5" text-anchor="end" font-weight="bold" font-family='"Liberation Sans", Arial, sans-serif'>Ctrl</text>
<text transform="translate(1654.0,1560.6) rotate(-90)" font-size="26.5" text-anchor="end" font-weight="bold" font-family='"Liberation Sans", Arial, sans-serif'>CKO</text>
<text x="1376.3" y="1177.2" font-size="26.5" text-anchor="middle" font-weight="bold" font-family='"Liberation Sans", Arial, sans-serif'>E15.5</text>
<text x="1495.2" y="1176.0" font-size="26.5" text-anchor="middle" font-weight="bold" font-family='"Liberation Sans", Arial, sans-serif'>E17.5</text>
<text x="1616.0" y="1175.5" font-size="26.5" text-anchor="middle" font-weight="bold" font-family='"Liberation Sans", Arial, sans-serif'>E19.5</text>
<text x="1396.7" y="1253.5" font-size="42" font-weight="bold" font-family='"Liberation Sans", Arial, sans-serif' letter-spacing="2.4">*</text>
<text x="1504.3" y="1258.0" font-size="42" font-weight="bold" font-family='"Liberation Sans", Arial, sans-serif' letter-spacing="2.4">**</text>
<text x="1227.5" y="1121.1" font-size="31.5" font-weight="bold" font-family='"Liberation Sans", Arial, sans-serif'>E</text>
<text x="1242.8" y="1160.8" font-size="33" fill="#333" font-family='"Liberation Serif", serif'>(</text>
<text x="1254.2" y="1163.5" font-size="29" font-weight="bold" font-family='"Liberation Serif", serif'>%</text>
<text x="1281.8" y="1160.8" font-size="33" fill="#333" font-family='"Liberation Serif", serif'>)</text>
<text transform="translate(1242.6,1369.3) rotate(-90)" font-size="27.3" text-anchor="middle" font-weight="bold" font-family='"Liberation Sans", Arial, sans-serif' textLength="379" lengthAdjust="spacing">% of KI67-positive germ cells</text>
<line x1="1800.3" y1="1474.3" x2="2002.0" y2="1474.3" stroke="#000" stroke-width="1.4"/>
<line x1="1800.3" y1="1400.6" x2="2002.0" y2="1400.6" stroke="#000" stroke-width="1.4"/>
<line x1="1800.3" y1="1326.8" x2="2002.0" y2="1326.8" stroke="#000" stroke-width="1.4"/>
<line x1="1800.3" y1="1253.1" x2="2002.0" y2="1253.1" stroke="#000" stroke-width="1.4"/>
<rect x="1829.7" y="1520.0" width="40.0" height="28.0" fill="#0a6fc6"/>
<rect x="1931.8" y="1287.8" width="40.0" height="260.2" fill="#ed7d31"/>
<line x1="1952.1" y1="1197.1" x2="1952.1" y2="1377.0" stroke="#000" stroke-width="2.6"/>
<line x1="1944.1" y1="1197.1" x2="1960.1" y2="1197.1" stroke="#000" stroke-width="3.2"/>
<line x1="1944.1" y1="1377.0" x2="1960.1" y2="1377.0" stroke="#000" stroke-width="3.2"/>
<rect x="1800.3" y="1179.4" width="201.7" height="368.6" fill="none" stroke="#000" stroke-width="2.8"/>
<path d="M1849.5 1504.6L1856.7 1511.8L1849.5 1519.0L1842.3 1511.8Z" fill="#fff" stroke="#000" stroke-width="2.4" stroke-linejoin="miter"/>
<path d="M1849.5 1520.4L1856.7 1527.6L1849.5 1534.8L1842.3 1527.6Z" fill="#fff" stroke="#000" stroke-width="2.4" stroke-linejoin="miter"/>
<path d="M1952.1 1203.4L1959.3 1210.6L1952.1 1217.8L1944.9 1210.6Z" fill="#fff" stroke="#000" stroke-width="2.4" stroke-linejoin="miter"/>
<path d="M1952.1 1260.6L1959.3 1267.8L1952.1 1275.0L1944.9 1267.8Z" fill="#fff" stroke="#000" stroke-width="2.4" stroke-linejoin="miter"/>
<path d="M1952.1 1376.9L1959.3 1384.1L1952.1 1391.3L1944.9 1384.1Z" fill="#fff" stroke="#000" stroke-width="2.4" stroke-linejoin="miter"/>
<text x="1774.0" y="1188.4" font-size="26" text-anchor="end" font-weight="bold" font-family='"Liberation Sans", Arial, sans-serif'>5</text>
<text x="1774.0" y="1262.1" font-size="26" text-anchor="end" font-weight="bold" font-family='"Liberation Sans", Arial, sans-serif'>4</text>
<text x="1774.0" y="1335.8" font-size="26" text-anchor="end" font-weight="bold" font-family='"Liberation Sans", Arial, sans-serif'>3</text>
<text x="1774.0" y="1409.6" font-size="26" text-anchor="end" font-weight="bold" font-family='"Liberation Sans", Arial, sans-serif'>2</text>
<text x="1774.0" y="1483.3" font-size="26" text-anchor="end" font-weight="bold" font-family='"Liberation Sans", Arial, sans-serif'>1</text>
<text x="1774.0" y="1557.0" font-size="26" text-anchor="end" font-weight="bold" font-family='"Liberation Sans", Arial, sans-serif'>0</text>
<text transform="translate(1861.2,1560.0) rotate(-90)" font-size="26.5" text-anchor="end" font-weight="bold" font-family='"Liberation Sans", Arial, sans-serif'>Ctrl</text>
<text transform="translate(1963.9,1560.0) rotate(-90)" font-size="26.5" text-anchor="end" font-weight="bold" font-family='"Liberation Sans", Arial, sans-serif'>CKO</text>
<text x="1896.0" y="1146.8" font-size="26.5" text-anchor="middle" font-weight="bold" font-family='"Liberation Sans", Arial, sans-serif'>E15.5</text>
<text x="1942.4" y="1188.8" font-size="42" font-weight="bold" font-family='"Liberation Sans", Arial, sans-serif' letter-spacing="2.4">*</text>
<text x="1718.0" y="1124.2" font-size="30" font-weight="bold" font-family='"Liberation Sans", Arial, sans-serif'>F</text>
<text x="1743.9" y="1147.6" font-size="33" fill="#333" font-family='"Liberation Serif", serif'>(</text>
<text x="1755.3" y="1149.8" font-size="29" font-weight="bold" font-family='"Liberation Serif", serif'>%</text>
<text x="1782.8" y="1147.6" font-size="33" fill="#333" font-family='"Liberation Serif", serif'>)</text>
<text transform="translate(1738.9,1368.3) rotate(-90)" font-size="28" text-anchor="middle" font-weight="bold" font-family='"Liberation Sans", Arial, sans-serif' textLength="384" lengthAdjust="spacing">% of pH3-positive germ cells</text>
<defs><clipPath id="cp_r1c"><rect x="1110.8" y="65.6" width="420.2" height="310.0"/></clipPath><clipPath id="cp_r1k"><rect x="1544.7" y="65.8" width="420.7" height="309.7"/></clipPath><clipPath id="cp_r2c"><rect x="1110.8" y="389.7" width="420.2" height="309.3"/></clipPath><clipPath id="cp_r2k"><rect x="1544.7" y="389.5" width="420.7" height="308.9"/></clipPath><clipPath id="cp_r3c"><rect x="1110.8" y="708.0" width="423.6" height="325.4"/></clipPath><clipPath id="cp_r3k"><rect x="1541.2" y="707.8" width="425.6" height="326.1"/></clipPath><clipPath id="ct_r1c_main"><path d="M1176.0 228.7C1176.8 217.0 1178.3 209.8 1180.0 200.0C1181.7 190.2 1182.0 180.3 1186.0 170.0C1190.0 159.7 1198.7 148.8 1204.0 138.0C1209.3 127.2 1212.0 114.0 1218.0 105.0C1224.0 96.0 1229.7 88.2 1240.0 84.0C1250.3 79.8 1266.7 81.0 1280.0 80.0C1293.3 79.0 1306.7 77.7 1320.0 78.0C1333.3 78.3 1346.7 79.7 1360.0 82.0C1373.3 84.3 1387.2 87.5 1400.0 92.0C1412.8 96.5 1426.6 101.3 1436.6 109.3C1446.6 117.3 1453.8 127.4 1460.0 140.0C1466.2 152.6 1470.8 170.0 1474.0 185.0C1477.2 200.0 1479.0 215.0 1479.0 230.0C1479.0 245.0 1476.8 260.4 1474.0 275.0C1471.2 289.6 1469.3 306.4 1462.0 317.7C1454.7 329.0 1442.0 336.4 1430.0 343.0C1418.0 349.6 1405.8 354.2 1390.0 357.0C1374.2 359.8 1353.3 360.3 1335.0 360.0C1316.7 359.7 1297.5 359.2 1280.0 355.0C1262.5 350.8 1244.6 343.3 1230.0 335.0C1215.4 326.7 1201.8 315.8 1192.6 305.0C1183.4 294.2 1177.8 282.7 1175.0 270.0C1172.2 257.3 1175.2 240.4 1176.0 228.7Z"/></clipPath><clipPath id="ct_r1c_ul"><path d="M1111.0 66.0C1126.5 38.7 1188.7 61.0 1204.0 66.0C1219.3 71.0 1204.8 87.0 1203.0 96.0C1201.2 105.0 1196.3 113.0 1193.0 120.0C1189.7 127.0 1186.0 129.7 1183.0 138.0C1180.0 146.3 1176.8 159.7 1175.0 170.0C1173.2 180.3 1173.2 190.7 1172.0 200.0C1170.8 209.3 1171.7 220.3 1168.0 226.0C1164.3 231.7 1156.3 233.0 1150.0 234.0C1143.7 235.0 1136.5 232.7 1130.0 232.0C1123.5 231.3 1114.2 257.7 1111.0 230.0C1107.8 202.3 1095.5 93.3 1111.0 66.0Z"/></clipPath><clipPath id="ct_r1k_main"><path d="M1590.6 202.0C1590.6 185.0 1594.8 162.0 1601.3 147.3C1607.8 132.6 1617.9 123.5 1629.8 114.0C1641.7 104.5 1657.5 96.2 1672.6 90.3C1687.6 84.4 1704.3 80.8 1720.1 78.4C1735.9 76.0 1751.8 74.0 1767.6 76.0C1783.4 78.0 1800.1 84.0 1815.2 90.3C1830.3 96.6 1846.1 104.5 1858.0 114.0C1869.9 123.5 1878.2 134.6 1886.5 147.3C1894.8 160.0 1903.6 176.9 1907.9 190.0C1912.2 203.1 1913.0 213.9 1912.6 225.8C1912.2 237.7 1910.7 249.5 1905.5 261.4C1900.3 273.3 1892.8 286.3 1881.7 297.0C1870.6 307.7 1854.0 319.3 1838.9 325.6C1823.9 331.9 1809.2 334.2 1791.4 335.0C1773.6 335.8 1751.8 333.5 1732.0 330.3C1712.2 327.1 1689.6 323.5 1672.6 316.0C1655.6 308.5 1641.7 296.3 1629.8 285.2C1617.9 274.1 1607.8 263.4 1601.3 249.5C1594.8 235.6 1590.6 219.0 1590.6 202.0Z"/></clipPath><clipPath id="ct_r1k_ul"><path d="M1544.7 65.8C1587.2 46.1 1757.5 62.1 1800.0 65.8C1842.5 69.5 1810.0 83.6 1800.0 88.0C1790.0 92.4 1758.3 90.3 1740.0 92.0C1721.7 93.7 1705.0 95.7 1690.0 98.0C1675.0 100.3 1660.0 103.7 1650.0 106.0C1640.0 108.3 1635.8 108.8 1630.0 112.0C1624.2 115.2 1619.2 119.5 1615.0 125.0C1610.8 130.5 1608.3 139.2 1605.0 145.0C1601.7 150.8 1599.2 155.5 1595.0 160.0C1590.8 164.5 1585.8 168.7 1580.0 172.0C1574.2 175.3 1565.9 178.0 1560.0 180.0C1554.1 182.0 1547.2 203.0 1544.7 184.0C1542.2 165.0 1502.2 85.5 1544.7 65.8Z"/></clipPath><clipPath id="ct_r2c_main"><path d="M1174.9 545.2C1174.1 531.0 1175.8 513.4 1180.0 500.0C1184.2 486.6 1190.0 475.8 1200.0 465.0C1210.0 454.2 1225.0 443.3 1240.0 435.0C1255.0 426.7 1272.0 419.1 1290.0 415.0C1308.0 410.9 1329.4 410.0 1347.7 410.5C1366.0 411.0 1383.8 413.1 1400.0 418.0C1416.2 422.9 1432.0 430.5 1445.0 440.0C1458.0 449.5 1469.8 463.3 1478.0 475.0C1486.2 486.7 1491.0 498.3 1494.0 510.0C1497.0 521.7 1497.0 532.7 1496.3 545.2C1495.6 557.7 1494.4 572.5 1490.0 585.0C1485.6 597.5 1479.2 609.5 1470.0 620.0C1460.8 630.5 1448.3 640.8 1435.0 648.0C1421.7 655.2 1404.5 660.0 1390.0 663.0C1375.5 666.0 1362.7 666.1 1347.7 665.9C1332.7 665.7 1316.3 665.0 1300.0 662.0C1283.7 659.0 1265.0 654.7 1250.0 648.0C1235.0 641.3 1220.8 632.5 1210.0 622.0C1199.2 611.5 1190.8 597.8 1185.0 585.0C1179.2 572.2 1175.7 559.4 1174.9 545.2Z"/></clipPath><clipPath id="ct_r2c_ul"><path d="M1111.0 390.0C1155.5 374.7 1334.5 388.0 1378.0 390.0C1421.5 392.0 1377.2 398.7 1372.0 402.0C1366.8 405.3 1360.7 407.8 1347.0 410.0C1333.3 412.2 1307.8 410.8 1290.0 415.0C1272.2 419.2 1255.0 426.7 1240.0 435.0C1225.0 443.3 1209.7 455.0 1200.0 465.0C1190.3 475.0 1186.7 487.8 1182.0 495.0C1177.3 502.2 1175.7 507.5 1172.0 508.0C1168.3 508.5 1165.7 501.0 1160.0 498.0C1154.3 495.0 1146.2 492.7 1138.0 490.0C1129.8 487.3 1115.5 498.7 1111.0 482.0C1106.5 465.3 1066.5 405.3 1111.0 390.0Z"/></clipPath><clipPath id="ct_r2k_main"><path d="M1586.0 525.0C1586.7 511.8 1593.0 500.2 1600.0 488.0C1607.0 475.8 1617.2 461.3 1628.0 452.0C1638.8 442.7 1651.0 436.7 1665.0 432.0C1679.0 427.3 1695.3 425.0 1712.0 424.0C1728.7 423.0 1747.5 423.2 1765.0 426.0C1782.5 428.8 1801.2 433.7 1817.0 441.0C1832.8 448.3 1847.8 460.2 1860.0 470.0C1872.2 479.8 1882.7 490.0 1890.0 500.0C1897.3 510.0 1901.2 520.5 1904.0 530.0C1906.8 539.5 1908.0 547.8 1907.0 557.0C1906.0 566.2 1902.5 576.3 1898.0 585.0C1893.5 593.7 1888.8 600.7 1880.0 609.0C1871.2 617.3 1858.3 627.3 1845.0 635.0C1831.7 642.7 1814.2 650.5 1800.0 655.0C1785.8 659.5 1775.0 662.0 1760.0 662.0C1745.0 662.0 1725.0 659.5 1710.0 655.0C1695.0 650.5 1681.7 642.2 1670.0 635.0C1658.3 627.8 1650.0 620.3 1640.0 612.0C1630.0 603.7 1617.3 592.5 1610.0 585.0C1602.7 577.5 1600.0 577.0 1596.0 567.0C1592.0 557.0 1585.3 538.2 1586.0 525.0Z"/></clipPath><clipPath id="ct_r2k_ul"><path d="M1544.7 389.5C1556.9 364.8 1605.5 385.2 1618.0 389.5C1630.5 393.8 1621.0 404.9 1620.0 415.0C1619.0 425.1 1615.3 438.3 1612.0 450.0C1608.7 461.7 1603.7 474.2 1600.0 485.0C1596.3 495.8 1593.3 507.2 1590.0 515.0C1586.7 522.8 1584.7 527.8 1580.0 532.0C1575.3 536.2 1567.9 539.0 1562.0 540.0C1556.1 541.0 1547.6 563.1 1544.7 538.0C1541.8 512.9 1532.5 414.2 1544.7 389.5Z"/></clipPath><clipPath id="ct_r2k_top"><path d="M1745.0 389.5C1759.5 386.9 1825.3 385.2 1842.0 389.5C1858.7 393.8 1846.7 406.6 1845.0 415.0C1843.3 423.4 1837.8 436.2 1832.0 440.0C1826.2 443.8 1818.7 441.3 1810.0 438.0C1801.3 434.7 1789.2 425.5 1780.0 420.0C1770.8 414.5 1760.8 410.1 1755.0 405.0C1749.2 399.9 1730.5 392.1 1745.0 389.5Z"/></clipPath><clipPath id="ct_r3c_main"><path d="M1152.0 890.0C1150.8 875.5 1155.0 860.5 1158.0 848.0C1161.0 835.5 1163.0 824.2 1170.0 815.0C1177.0 805.8 1188.3 800.5 1200.0 793.0C1211.7 785.5 1226.2 776.8 1240.0 770.0C1253.8 763.2 1268.0 755.0 1283.0 752.0C1298.0 749.0 1313.8 750.3 1330.0 752.0C1346.2 753.7 1363.3 758.2 1380.0 762.0C1396.7 765.8 1415.0 769.5 1430.0 775.0C1445.0 780.5 1460.0 786.7 1470.0 795.0C1480.0 803.3 1486.0 815.0 1490.0 825.0C1494.0 835.0 1494.3 844.2 1494.0 855.0C1493.7 865.8 1492.0 878.3 1488.0 890.0C1484.0 901.7 1477.2 914.2 1470.0 925.0C1462.8 935.8 1455.0 945.0 1445.0 955.0C1435.0 965.0 1423.3 975.8 1410.0 985.0C1396.7 994.2 1380.0 1003.8 1365.0 1010.0C1350.0 1016.2 1335.8 1020.0 1320.0 1022.0C1304.2 1024.0 1285.8 1024.8 1270.0 1022.0C1254.2 1019.2 1238.3 1012.8 1225.0 1005.0C1211.7 997.2 1200.0 986.7 1190.0 975.0C1180.0 963.3 1171.3 949.2 1165.0 935.0C1158.7 920.8 1153.2 904.5 1152.0 890.0Z"/></clipPath><clipPath id="ct_r3k_main"><path d="M1571.0 853.0C1572.8 835.8 1575.2 826.3 1580.0 815.0C1584.8 803.7 1589.2 795.5 1600.0 785.0C1610.8 774.5 1630.0 759.2 1645.0 752.0C1660.0 744.8 1675.5 744.2 1690.0 742.0C1704.5 739.8 1717.0 739.0 1732.0 739.0C1747.0 739.0 1765.5 739.8 1780.0 742.0C1794.5 744.2 1807.0 747.7 1819.0 752.0C1831.0 756.3 1842.5 762.2 1852.0 768.0C1861.5 773.8 1867.7 779.2 1876.0 787.0C1884.3 794.8 1895.0 805.3 1902.0 815.0C1909.0 824.7 1913.7 833.7 1918.0 845.0C1922.3 856.3 1927.7 869.3 1928.0 883.0C1928.3 896.7 1927.2 913.8 1920.0 927.0C1912.8 940.2 1901.8 955.2 1885.0 962.0C1868.2 968.8 1840.8 965.2 1819.0 968.0C1797.2 970.8 1775.8 973.5 1754.0 979.0C1732.2 984.5 1709.8 997.3 1688.0 1001.0C1666.2 1004.7 1641.0 1006.2 1623.0 1001.0C1605.0 995.8 1589.0 983.8 1580.0 970.0C1571.0 956.2 1570.5 937.5 1569.0 918.0C1567.5 898.5 1569.2 870.2 1571.0 853.0Z"/></clipPath><filter id="bl1" x="-50%" y="-50%" width="200%" height="200%"><feGaussianBlur stdDeviation="1.2"/></filter><filter id="bl2" x="-50%" y="-50%" width="200%" height="200%"><feGaussianBlur stdDeviation="2.5"/></filter><filter id="bl4" x="-50%" y="-50%" width="200%" height="200%"><feGaussianBlur stdDeviation="5"/></filter><filter id="bl8" x="-50%" y="-50%" width="200%" height="200%"><feGaussianBlur stdDeviation="9"/></filter><filter id="tx_r1c" x="0" y="0" width="1" height="1" color-interpolation-filters="sRGB"><feTurbulence type="fractalNoise" baseFrequency="0.3" numOctaves="2" seed="3"/><feColorMatrix type="matrix" values="0 0 0 0 0.13 0 0 0 0 0.18 0 0 0 0 0.64 5.0 0 0 0 -2.7"/><feGaussianBlur stdDeviation="0.7"/></filter><filter id="tx_r1c2" x="0" y="0" width="1" height="1" color-interpolation-filters="sRGB"><feTurbulence type="fractalNoise" baseFrequency="0.3" numOctaves="2" seed="5"/><feColorMatrix type="matrix" values="0 0 0 0 0.13 0 0 0 0 0.18 0 0 0 0 0.62 5.0 0 0 0 -2.6"/><feGaussianBlur stdDeviation="0.7"/></filter><filter id="tx_r1k" x="0" y="0" width="1" height="1" color-interpolation-filters="sRGB"><feTurbulence type="fractalNoise" baseFrequency="0.3" numOctaves="2" seed="8"/><feColorMatrix type="matrix" values="0 0 0 0 0.14 0 0 0 0 0.36 0 0 0 0 0.95 5.0 0 0 0 -2.4"/><feGaussianBlur stdDeviation="0.7"/></filter><filter id="tx_r1k2" x="0" y="0" width="1" height="1" color-interpolation-filters="sRGB"><feTurbulence type="fractalNoise" baseFrequency="0.3" numOctaves="2" seed="9"/><feColorMatrix type="matrix" values="0 0 0 0 0.14 0 0 0 0 0.36 0 0 0 0 0.95 5.0 0 0 0 -2.4"/><feGaussianBlur stdDeviation="0.7"/></filter><filter id="tx_r2c" x="0" y="0" width="1" height="1" color-interpolation-filters="sRGB"><feTurbulence type="fractalNoise" baseFrequency="0.2" numOctaves="1" seed="13"/><feColorMatrix type="matrix" values="0 0 0 0 0.92 0 0 0 0 0.1 0 0 0 0 0.06 12.0 0 0 0 -6.9"/><feGaussianBlur stdDeviation="0.6"/></filter><filter id="tx_r2c2" x="0" y="0" width="1" height="1" color-interpolation-filters="sRGB"><feTurbulence type="fractalNoise" baseFrequency="0.2" numOctaves="1" seed="14"/><feColorMatrix type="matrix" values="0 0 0 0 0.88 0 0 0 0 0.1 0 0 0 0 0.06 12.0 0 0 0 -6.9"/><feGaussianBlur stdDeviation="0.6"/></filter><filter id="tx_r2k" x="0" y="0" width="1" height="1" color-interpolation-filters="sRGB"><feTurbulence type="fractalNoise" baseFrequency="0.23" numOctaves="1" seed="17"/><feColorMatrix type="matrix" values="0 0 0 0 0.95 0 0 0 0 0.1 0 0 0 0 0.06 12.0 0 0 0 -6.6"/><feGaussianBlur stdDeviation="0.6"/></filter><filter id="tx_r2k2" x="0" y="0" width="1" height="1" color-interpolation-filters="sRGB"><feTurbulence type="fractalNoise" baseFrequency="0.2" numOctaves="1" seed="18"/><feColorMatrix type="matrix" values="0 0 0 0 0.88 0 0 0 0 0.1 0 0 0 0 0.06 12.0 0 0 0 -6.9"/><feGaussianBlur stdDeviation="0.6"/></filter><filter id="tx_r2k3" x="0" y="0" width="1" height="1" color-interpolation-filters="sRGB"><feTurbulence type="fractalNoise" baseFrequency="0.2" numOctaves="1" seed="19"/><feColorMatrix type="matrix" values="0 0 0 0 0.88 0 0 0 0 0.1 0 0 0 0 0.06 12.0 0 0 0 -6.9"/><feGaussianBlur stdDeviation="0.6"/></filter><filter id="tx_r3c" x="0" y="0" width="1" height="1" color-interpolation-filters="sRGB"><feTurbulence type="fractalNoise" baseFrequency="0.14" numOctaves="2" seed="23"/><feColorMatrix type="matrix" values="0 0 0 0 0.92 0 0 0 0 0.18 0 0 0 0 0.06 5.0 0 0 0 -2.75"/><feGaussianBlur stdDeviation="0.8"/></filter><filter id="tx_r3k" x="0" y="0" width="1" height="1" color-interpolation-filters="sRGB"><feTurbulence type="fractalNoise" baseFrequency="0.12" numOctaves="2" seed="29"/><feColorMatrix type="matrix" values="0 0 0 0 0.5 0 0 0 0 0.07 0 0 0 0 0.05 3.0 0 0 0 -1.65"/><feGaussianBlur stdDeviation="1.0"/></filter></defs>
<g clip-path="url(#cp_r1c)">
<rect x="1110.8" y="65.6" width="420.2" height="310.0" fill="#000"/>
<path d="M1111.0 66.0C1126.5 38.7 1188.7 61.0 1204.0 66.0C1219.3 71.0 1204.8 87.0 1203.0 96.0C1201.2 105.0 1196.3 113.0 1193.0 120.0C1189.7 127.0 1186.0 129.7 1183.0 138.0C1180.0 146.3 1176.8 159.7 1175.0 170.0C1173.2 180.3 1173.2 190.7 1172.0 200.0C1170.8 209.3 1171.7 220.3 1168.0 226.0C1164.3 231.7 1156.3 233.0 1150.0 234.0C1143.7 235.0 1136.5 232.7 1130.0 232.0C1123.5 231.3 1114.2 257.7 1111.0 230.0C1107.8 202.3 1095.5 93.3 1111.0 66.0Z" fill="#070c30" opacity="1.0" filter="url(#bl2)"/>
<path d="M1176.0 228.7C1176.8 217.0 1178.3 209.8 1180.0 200.0C1181.7 190.2 1182.0 180.3 1186.0 170.0C1190.0 159.7 1198.7 148.8 1204.0 138.0C1209.3 127.2 1212.0 114.0 1218.0 105.0C1224.0 96.0 1229.7 88.2 1240.0 84.0C1250.3 79.8 1266.7 81.0 1280.0 80.0C1293.3 79.0 1306.7 77.7 1320.0 78.0C1333.3 78.3 1346.7 79.7 1360.0 82.0C1373.3 84.3 1387.2 87.5 1400.0 92.0C1412.8 96.5 1426.6 101.3 1436.6 109.3C1446.6 117.3 1453.8 127.4 1460.0 140.0C1466.2 152.6 1470.8 170.0 1474.0 185.0C1477.2 200.0 1479.0 215.0 1479.0 230.0C1479.0 245.0 1476.8 260.4 1474.0 275.0C1471.2 289.6 1469.3 306.4 1462.0 317.7C1454.7 329.0 1442.0 336.4 1430.0 343.0C1418.0 349.6 1405.8 354.2 1390.0 357.0C1374.2 359.8 1353.3 360.3 1335.0 360.0C1316.7 359.7 1297.5 359.2 1280.0 355.0C1262.5 350.8 1244.6 343.3 1230.0 335.0C1215.4 326.7 1201.8 315.8 1192.6 305.0C1183.4 294.2 1177.8 282.7 1175.0 270.0C1172.2 257.3 1175.2 240.4 1176.0 228.7Z" fill="#080d34" opacity="1.0" filter="url(#bl1)"/>
<g clip-path="url(#ct_r1c_main)"><rect x="1110.8" y="65.6" width="420.2" height="310.0" filter="url(#tx_r1c)" opacity="1.0"/></g>
<g clip-path="url(#ct_r1c_ul)"><rect x="1110.8" y="65.6" width="420.2" height="310.0" filter="url(#tx_r1c2)" opacity="1.0"/></g>
<ellipse cx="1335.0" cy="200.0" rx="28.0" ry="50.0" fill="#000" opacity="0.75" transform="rotate(15 1335.0 200.0)" filter="url(#bl4)"/>
<ellipse cx="1300.0" cy="160.0" rx="18.0" ry="14.0" fill="#000" opacity="0.75" filter="url(#bl4)"/>
<ellipse cx="1395.0" cy="170.0" rx="22.0" ry="18.0" fill="#000" opacity="0.75" filter="url(#bl4)"/>
<ellipse cx="1250.0" cy="200.0" rx="15.0" ry="22.0" fill="#000" opacity="0.75" filter="url(#bl4)"/>
<ellipse cx="1290.0" cy="250.0" rx="20.0" ry="18.0" fill="#000" opacity="0.75" filter="url(#bl4)"/>
<ellipse cx="1420.0" cy="245.0" rx="18.0" ry="20.0" fill="#000" opacity="0.75" filter="url(#bl4)"/>
<ellipse cx="1360.0" cy="280.0" rx="14.0" ry="12.0" fill="#000" opacity="0.75" filter="url(#bl4)"/>
<ellipse cx="1225.0" cy="275.0" rx="12.0" ry="14.0" fill="#000" opacity="0.75" filter="url(#bl4)"/>
<path d="M1236.6 130.7a1.7 1.7 0 1 0 3.3 0a1.7 1.7 0 1 0 -3.3 0M1233.3 118.0a1.2 1.2 0 1 0 2.5 0a1.2 1.2 0 1 0 -2.5 0M1227.9 120.2a1.5 1.5 0 1 0 2.9 0a1.5 1.5 0 1 0 -2.9 0M1232.3 126.5a2.0 2.0 0 1 0 4.0 0a2.0 2.0 0 1 0 -4.0 0M1237.7 131.7a1.8 1.8 0 1 0 3.6 0a1.8 1.8 0 1 0 -3.6 0M1233.5 128.5a1.8 1.8 0 1 0 3.6 0a1.8 1.8 0 1 0 -3.6 0M1228.5 128.2a1.5 1.5 0 1 0 3.1 0a1.5 1.5 0 1 0 -3.1 0M1233.3 131.6a1.5 1.5 0 1 0 3.0 0a1.5 1.5 0 1 0 -3.0 0M1233.6 127.7a1.5 1.5 0 1 0 3.0 0a1.5 1.5 0 1 0 -3.0 0M1226.6 124.9a1.9 1.9 0 1 0 3.8 0a1.9 1.9 0 1 0 -3.8 0M1227.0 127.9a1.8 1.8 0 1 0 3.7 0a1.8 1.8 0 1 0 -3.7 0M1236.1 132.9a1.3 1.3 0 1 0 2.6 0a1.3 1.3 0 1 0 -2.6 0M1229.9 130.2a1.7 1.7 0 1 0 3.3 0a1.7 1.7 0 1 0 -3.3 0M1226.9 123.8a1.7 1.7 0 1 0 3.4 0a1.7 1.7 0 1 0 -3.4 0M1231.6 129.2a1.6 1.6 0 1 0 3.1 0a1.6 1.6 0 1 0 -3.1 0M1231.5 130.1a1.8 1.8 0 1 0 3.5 0a1.8 1.8 0 1 0 -3.5 0M1229.0 119.7a1.8 1.8 0 1 0 3.6 0a1.8 1.8 0 1 0 -3.6 0M1235.9 129.8a1.7 1.7 0 1 0 3.4 0a1.7 1.7 0 1 0 -3.4 0M1228.5 119.9a1.3 1.3 0 1 0 2.7 0a1.3 1.3 0 1 0 -2.7 0" fill="#e8102a" opacity="0.85" filter="url(#bl1)"/>
<path d="M1268.4 118.6a1.5 1.5 0 1 0 2.9 0a1.5 1.5 0 1 0 -2.9 0M1258.8 110.5a1.8 1.8 0 1 0 3.5 0a1.8 1.8 0 1 0 -3.5 0M1270.5 115.3a1.3 1.3 0 1 0 2.6 0a1.3 1.3 0 1 0 -2.6 0M1259.4 119.7a1.7 1.7 0 1 0 3.3 0a1.7 1.7 0 1 0 -3.3 0M1261.7 122.6a1.9 1.9 0 1 0 3.9 0a1.9 1.9 0 1 0 -3.9 0M1267.3 111.1a2.2 2.2 0 1 0 4.4 0a2.2 2.2 0 1 0 -4.4 0M1254.8 117.1a2.1 2.1 0 1 0 4.3 0a2.1 2.1 0 1 0 -4.3 0M1257.7 111.5a1.4 1.4 0 1 0 2.7 0a1.4 1.4 0 1 0 -2.7 0M1264.1 120.0a1.6 1.6 0 1 0 3.1 0a1.6 1.6 0 1 0 -3.1 0M1255.1 119.5a1.4 1.4 0 1 0 2.9 0a1.4 1.4 0 1 0 -2.9 0M1267.1 122.1a1.7 1.7 0 1 0 3.4 0a1.7 1.7 0 1 0 -3.4 0M1253.3 119.4a2.1 2.1 0 1 0 4.2 0a2.1 2.1 0 1 0 -4.2 0M1265.2 108.9a1.8 1.8 0 1 0 3.7 0a1.8 1.8 0 1 0 -3.7 0M1269.0 112.2a1.8 1.8 0 1 0 3.6 0a1.8 1.8 0 1 0 -3.6 0M1258.4 119.2a1.3 1.3 0 1 0 2.6 0a1.3 1.3 0 1 0 -2.6 0M1255.4 114.2a1.4 1.4 0 1 0 2.8 0a1.4 1.4 0 1 0 -2.8 0M1254.8 115.8a2.1 2.1 0 1 0 4.2 0a2.1 2.1 0 1 0 -4.2 0" fill="#e8102a" opacity="0.85" filter="url(#bl1)"/>
<path d="M1280.2 115.9a1.7 1.7 0 1 0 3.5 0a1.7 1.7 0 1 0 -3.5 0M1281.8 108.5a1.6 1.6 0 1 0 3.3 0a1.6 1.6 0 1 0 -3.3 0M1291.8 114.4a2.1 2.1 0 1 0 4.2 0a2.1 2.1 0 1 0 -4.2 0M1291.3 108.6a2.0 2.0 0 1 0 4.0 0a2.0 2.0 0 1 0 -4.0 0M1286.3 106.4a1.7 1.7 0 1 0 3.4 0a1.7 1.7 0 1 0 -3.4 0M1292.1 112.1a1.9 1.9 0 1 0 3.8 0a1.9 1.9 0 1 0 -3.8 0M1288.6 112.2a1.7 1.7 0 1 0 3.4 0a1.7 1.7 0 1 0 -3.4 0M1285.2 115.3a1.4 1.4 0 1 0 2.8 0a1.4 1.4 0 1 0 -2.8 0M1285.5 108.1a1.9 1.9 0 1 0 3.7 0a1.9 1.9 0 1 0 -3.7 0M1281.1 111.4a1.8 1.8 0 1 0 3.6 0a1.8 1.8 0 1 0 -3.6 0M1291.5 110.3a1.3 1.3 0 1 0 2.6 0a1.3 1.3 0 1 0 -2.6 0M1284.8 117.0a1.9 1.9 0 1 0 3.7 0a1.9 1.9 0 1 0 -3.7 0M1289.8 107.2a2.2 2.2 0 1 0 4.4 0a2.2 2.2 0 1 0 -4.4 0" fill="#e8102a" opacity="0.85" filter="url(#bl1)"/>
<path d="M1303.7 116.7a1.9 1.9 0 1 0 3.9 0a1.9 1.9 0 1 0 -3.9 0M1302.6 116.6a1.6 1.6 0 1 0 3.2 0a1.6 1.6 0 1 0 -3.2 0M1301.0 110.9a1.4 1.4 0 1 0 2.7 0a1.4 1.4 0 1 0 -2.7 0M1306.2 112.9a1.7 1.7 0 1 0 3.5 0a1.7 1.7 0 1 0 -3.5 0M1297.6 107.6a1.5 1.5 0 1 0 3.1 0a1.5 1.5 0 1 0 -3.1 0M1300.0 105.5a2.1 2.1 0 1 0 4.3 0a2.1 2.1 0 1 0 -4.3 0M1299.9 107.1a1.5 1.5 0 1 0 2.9 0a1.5 1.5 0 1 0 -2.9 0M1303.5 102.5a1.8 1.8 0 1 0 3.5 0a1.8 1.8 0 1 0 -3.5 0M1299.6 107.7a1.7 1.7 0 1 0 3.4 0a1.7 1.7 0 1 0 -3.4 0M1301.5 111.6a1.5 1.5 0 1 0 3.1 0a1.5 1.5 0 1 0 -3.1 0M1305.7 104.6a1.3 1.3 0 1 0 2.7 0a1.3 1.3 0 1 0 -2.7 0M1299.9 104.9a2.2 2.2 0 1 0 4.3 0a2.2 2.2 0 1 0 -4.3 0M1304.1 114.0a2.1 2.1 0 1 0 4.2 0a2.1 2.1 0 1 0 -4.2 0M1301.1 111.8a1.3 1.3 0 1 0 2.5 0a1.3 1.3 0 1 0 -2.5 0" fill="#e8102a" opacity="0.85" filter="url(#bl1)"/>
<path d="M1349.9 112.8a2.1 2.1 0 1 0 4.2 0a2.1 2.1 0 1 0 -4.2 0M1354.0 108.8a1.7 1.7 0 1 0 3.5 0a1.7 1.7 0 1 0 -3.5 0M1356.2 110.5a1.2 1.2 0 1 0 2.4 0a1.2 1.2 0 1 0 -2.4 0M1354.7 107.6a1.9 1.9 0 1 0 3.8 0a1.9 1.9 0 1 0 -3.8 0M1358.3 111.0a1.4 1.4 0 1 0 2.9 0a1.4 1.4 0 1 0 -2.9 0M1355.5 112.5a1.6 1.6 0 1 0 3.3 0a1.6 1.6 0 1 0 -3.3 0M1352.2 99.0a1.2 1.2 0 1 0 2.5 0a1.2 1.2 0 1 0 -2.5 0M1355.4 108.9a1.8 1.8 0 1 0 3.6 0a1.8 1.8 0 1 0 -3.6 0M1344.0 106.1a1.6 1.6 0 1 0 3.2 0a1.6 1.6 0 1 0 -3.2 0M1342.3 107.6a1.6 1.6 0 1 0 3.3 0a1.6 1.6 0 1 0 -3.3 0M1343.0 105.0a2.1 2.1 0 1 0 4.1 0a2.1 2.1 0 1 0 -4.1 0M1345.8 108.6a1.8 1.8 0 1 0 3.5 0a1.8 1.8 0 1 0 -3.5 0M1348.2 96.9a2.1 2.1 0 1 0 4.1 0a2.1 2.1 0 1 0 -4.1 0M1359.7 104.9a1.8 1.8 0 1 0 3.6 0a1.8 1.8 0 1 0 -3.6 0M1359.0 101.0a1.3 1.3 0 1 0 2.5 0a1.3 1.3 0 1 0 -2.5 0M1347.6 112.3a1.5 1.5 0 1 0 3.1 0a1.5 1.5 0 1 0 -3.1 0M1354.6 109.8a1.4 1.4 0 1 0 2.7 0a1.4 1.4 0 1 0 -2.7 0M1353.8 100.0a1.5 1.5 0 1 0 3.0 0a1.5 1.5 0 1 0 -3.0 0M1349.4 99.6a1.9 1.9 0 1 0 3.8 0a1.9 1.9 0 1 0 -3.8 0M1354.8 95.5a2.0 2.0 0 1 0 4.0 0a2.0 2.0 0 1 0 -4.0 0M1359.5 106.7a1.4 1.4 0 1 0 2.8 0a1.4 1.4 0 1 0 -2.8 0" fill="#e8102a" opacity="0.85" filter="url(#bl1)"/>
<path d="M1375.4 109.8a2.1 2.1 0 1 0 4.1 0a2.1 2.1 0 1 0 -4.1 0M1376.1 110.2a1.7 1.7 0 1 0 3.4 0a1.7 1.7 0 1 0 -3.4 0M1383.3 112.1a2.1 2.1 0 1 0 4.2 0a2.1 2.1 0 1 0 -4.2 0M1379.8 124.0a1.9 1.9 0 1 0 3.8 0a1.9 1.9 0 1 0 -3.8 0M1370.2 121.8a2.1 2.1 0 1 0 4.2 0a2.1 2.1 0 1 0 -4.2 0M1386.3 118.6a1.4 1.4 0 1 0 2.7 0a1.4 1.4 0 1 0 -2.7 0M1372.0 112.7a2.2 2.2 0 1 0 4.3 0a2.2 2.2 0 1 0 -4.3 0M1382.9 116.9a1.5 1.5 0 1 0 3.1 0a1.5 1.5 0 1 0 -3.1 0M1366.1 117.9a1.7 1.7 0 1 0 3.5 0a1.7 1.7 0 1 0 -3.5 0M1376.4 127.3a1.9 1.9 0 1 0 3.9 0a1.9 1.9 0 1 0 -3.9 0M1384.0 119.0a2.1 2.1 0 1 0 4.3 0a2.1 2.1 0 1 0 -4.3 0M1385.1 114.4a1.8 1.8 0 1 0 3.6 0a1.8 1.8 0 1 0 -3.6 0M1369.6 115.0a1.9 1.9 0 1 0 3.7 0a1.9 1.9 0 1 0 -3.7 0M1372.0 111.6a1.9 1.9 0 1 0 3.7 0a1.9 1.9 0 1 0 -3.7 0M1370.8 111.5a1.3 1.3 0 1 0 2.6 0a1.3 1.3 0 1 0 -2.6 0M1385.9 124.8a1.2 1.2 0 1 0 2.5 0a1.2 1.2 0 1 0 -2.5 0M1382.1 110.3a1.3 1.3 0 1 0 2.5 0a1.3 1.3 0 1 0 -2.5 0M1383.2 118.5a1.8 1.8 0 1 0 3.6 0a1.8 1.8 0 1 0 -3.6 0M1368.2 119.2a1.7 1.7 0 1 0 3.3 0a1.7 1.7 0 1 0 -3.3 0M1372.3 112.2a1.3 1.3 0 1 0 2.6 0a1.3 1.3 0 1 0 -2.6 0M1386.6 118.4a1.2 1.2 0 1 0 2.5 0a1.2 1.2 0 1 0 -2.5 0M1377.0 112.1a1.7 1.7 0 1 0 3.4 0a1.7 1.7 0 1 0 -3.4 0M1384.8 115.7a1.9 1.9 0 1 0 3.7 0a1.9 1.9 0 1 0 -3.7 0" fill="#e8102a" opacity="0.85" filter="url(#bl1)"/>
<path d="M1201.0 168.3a1.5 1.5 0 1 0 3.0 0a1.5 1.5 0 1 0 -3.0 0M1196.4 168.2a1.8 1.8 0 1 0 3.7 0a1.8 1.8 0 1 0 -3.7 0M1204.3 193.2a1.2 1.2 0 1 0 2.5 0a1.2 1.2 0 1 0 -2.5 0M1201.1 188.0a1.5 1.5 0 1 0 3.0 0a1.5 1.5 0 1 0 -3.0 0M1208.3 189.1a2.0 2.0 0 1 0 4.0 0a2.0 2.0 0 1 0 -4.0 0M1192.9 173.3a1.6 1.6 0 1 0 3.2 0a1.6 1.6 0 1 0 -3.2 0M1208.4 175.7a1.3 1.3 0 1 0 2.6 0a1.3 1.3 0 1 0 -2.6 0M1195.0 184.3a1.5 1.5 0 1 0 3.1 0a1.5 1.5 0 1 0 -3.1 0M1203.7 162.5a2.1 2.1 0 1 0 4.2 0a2.1 2.1 0 1 0 -4.2 0M1207.8 189.4a2.1 2.1 0 1 0 4.2 0a2.1 2.1 0 1 0 -4.2 0M1209.1 171.8a2.1 2.1 0 1 0 4.2 0a2.1 2.1 0 1 0 -4.2 0M1204.8 183.0a1.9 1.9 0 1 0 3.7 0a1.9 1.9 0 1 0 -3.7 0M1197.1 170.1a2.0 2.0 0 1 0 4.0 0a2.0 2.0 0 1 0 -4.0 0M1205.2 162.2a1.3 1.3 0 1 0 2.5 0a1.3 1.3 0 1 0 -2.5 0M1206.3 167.2a1.9 1.9 0 1 0 3.9 0a1.9 1.9 0 1 0 -3.9 0M1205.9 164.6a1.2 1.2 0 1 0 2.5 0a1.2 1.2 0 1 0 -2.5 0M1195.4 178.3a1.4 1.4 0 1 0 2.8 0a1.4 1.4 0 1 0 -2.8 0M1209.0 189.4a1.4 1.4 0 1 0 2.8 0a1.4 1.4 0 1 0 -2.8 0M1200.9 167.6a1.3 1.3 0 1 0 2.5 0a1.3 1.3 0 1 0 -2.5 0M1194.0 188.6a1.5 1.5 0 1 0 3.0 0a1.5 1.5 0 1 0 -3.0 0M1198.9 168.4a1.4 1.4 0 1 0 2.9 0a1.4 1.4 0 1 0 -2.9 0M1203.4 168.8a1.8 1.8 0 1 0 3.6 0a1.8 1.8 0 1 0 -3.6 0M1194.2 170.3a1.8 1.8 0 1 0 3.5 0a1.8 1.8 0 1 0 -3.5 0M1198.4 164.4a1.6 1.6 0 1 0 3.3 0a1.6 1.6 0 1 0 -3.3 0M1202.9 198.1a1.6 1.6 0 1 0 3.2 0a1.6 1.6 0 1 0 -3.2 0M1205.2 184.4a1.4 1.4 0 1 0 2.9 0a1.4 1.4 0 1 0 -2.9 0M1201.1 188.9a2.1 2.1 0 1 0 4.3 0a2.1 2.1 0 1 0 -4.3 0M1196.6 181.5a1.7 1.7 0 1 0 3.3 0a1.7 1.7 0 1 0 -3.3 0M1205.7 161.5a2.2 2.2 0 1 0 4.4 0a2.2 2.2 0 1 0 -4.4 0M1205.5 173.3a1.3 1.3 0 1 0 2.6 0a1.3 1.3 0 1 0 -2.6 0M1194.9 176.7a1.5 1.5 0 1 0 3.0 0a1.5 1.5 0 1 0 -3.0 0M1194.9 168.5a1.6 1.6 0 1 0 3.2 0a1.6 1.6 0 1 0 -3.2 0M1196.4 168.5a1.4 1.4 0 1 0 2.8 0a1.4 1.4 0 1 0 -2.8 0" fill="#e8102a" opacity="0.85" filter="url(#bl1)"/>
<path d="M1200.2 152.1a1.8 1.8 0 1 0 3.6 0a1.8 1.8 0 1 0 -3.6 0M1192.6 165.0a1.6 1.6 0 1 0 3.2 0a1.6 1.6 0 1 0 -3.2 0M1190.8 159.6a2.2 2.2 0 1 0 4.3 0a2.2 2.2 0 1 0 -4.3 0M1202.7 163.0a2.1 2.1 0 1 0 4.3 0a2.1 2.1 0 1 0 -4.3 0M1194.3 167.9a1.8 1.8 0 1 0 3.6 0a1.8 1.8 0 1 0 -3.6 0M1201.3 157.5a1.6 1.6 0 1 0 3.1 0a1.6 1.6 0 1 0 -3.1 0M1200.9 159.7a1.9 1.9 0 1 0 3.9 0a1.9 1.9 0 1 0 -3.9 0M1191.7 154.6a1.2 1.2 0 1 0 2.4 0a1.2 1.2 0 1 0 -2.4 0M1202.2 163.7a1.9 1.9 0 1 0 3.8 0a1.9 1.9 0 1 0 -3.8 0M1190.1 156.0a1.6 1.6 0 1 0 3.2 0a1.6 1.6 0 1 0 -3.2 0M1202.4 156.2a2.2 2.2 0 1 0 4.4 0a2.2 2.2 0 1 0 -4.4 0M1198.5 167.6a1.6 1.6 0 1 0 3.2 0a1.6 1.6 0 1 0 -3.2 0M1192.4 165.2a1.2 1.2 0 1 0 2.5 0a1.2 1.2 0 1 0 -2.5 0M1200.9 151.8a1.9 1.9 0 1 0 3.7 0a1.9 1.9 0 1 0 -3.7 0M1190.2 165.4a1.8 1.8 0 1 0 3.6 0a1.8 1.8 0 1 0 -3.6 0M1200.3 164.7a2.0 2.0 0 1 0 4.0 0a2.0 2.0 0 1 0 -4.0 0M1192.1 164.1a1.5 1.5 0 1 0 3.1 0a1.5 1.5 0 1 0 -3.1 0" fill="#e8102a" opacity="0.85" filter="url(#bl1)"/>
<path d="M1440.6 189.0a1.3 1.3 0 1 0 2.5 0a1.3 1.3 0 1 0 -2.5 0M1447.1 185.7a1.6 1.6 0 1 0 3.1 0a1.6 1.6 0 1 0 -3.1 0M1437.7 172.1a1.6 1.6 0 1 0 3.2 0a1.6 1.6 0 1 0 -3.2 0M1436.5 183.6a1.8 1.8 0 1 0 3.6 0a1.8 1.8 0 1 0 -3.6 0M1444.4 171.3a1.2 1.2 0 1 0 2.4 0a1.2 1.2 0 1 0 -2.4 0M1433.2 172.1a1.8 1.8 0 1 0 3.5 0a1.8 1.8 0 1 0 -3.5 0M1444.6 171.1a1.4 1.4 0 1 0 2.7 0a1.4 1.4 0 1 0 -2.7 0M1447.5 176.5a2.0 2.0 0 1 0 4.0 0a2.0 2.0 0 1 0 -4.0 0M1439.0 164.4a1.3 1.3 0 1 0 2.6 0a1.3 1.3 0 1 0 -2.6 0M1433.0 174.4a1.8 1.8 0 1 0 3.5 0a1.8 1.8 0 1 0 -3.5 0M1433.9 167.7a2.1 2.1 0 1 0 4.3 0a2.1 2.1 0 1 0 -4.3 0M1447.3 179.9a2.1 2.1 0 1 0 4.3 0a2.1 2.1 0 1 0 -4.3 0M1432.8 174.8a1.7 1.7 0 1 0 3.3 0a1.7 1.7 0 1 0 -3.3 0M1447.0 183.2a2.0 2.0 0 1 0 4.0 0a2.0 2.0 0 1 0 -4.0 0M1446.4 182.8a2.1 2.1 0 1 0 4.2 0a2.1 2.1 0 1 0 -4.2 0M1446.0 185.3a1.4 1.4 0 1 0 2.7 0a1.4 1.4 0 1 0 -2.7 0M1442.7 166.5a2.0 2.0 0 1 0 4.0 0a2.0 2.0 0 1 0 -4.0 0M1442.5 168.4a2.0 2.0 0 1 0 4.1 0a2.0 2.0 0 1 0 -4.1 0M1437.4 191.3a2.1 2.1 0 1 0 4.1 0a2.1 2.1 0 1 0 -4.1 0M1444.1 171.1a1.3 1.3 0 1 0 2.7 0a1.3 1.3 0 1 0 -2.7 0M1448.0 170.8a1.6 1.6 0 1 0 3.1 0a1.6 1.6 0 1 0 -3.1 0M1437.7 168.0a2.1 2.1 0 1 0 4.1 0a2.1 2.1 0 1 0 -4.1 0M1443.0 165.1a1.2 1.2 0 1 0 2.5 0a1.2 1.2 0 1 0 -2.5 0M1444.0 172.4a1.5 1.5 0 1 0 3.1 0a1.5 1.5 0 1 0 -3.1 0" fill="#e8102a" opacity="0.85" filter="url(#bl1)"/>
<path d="M1334.8 189.4a2.1 2.1 0 1 0 4.2 0a2.1 2.1 0 1 0 -4.2 0M1335.8 209.6a1.8 1.8 0 1 0 3.7 0a1.8 1.8 0 1 0 -3.7 0M1330.0 205.5a1.5 1.5 0 1 0 3.1 0a1.5 1.5 0 1 0 -3.1 0M1331.6 209.6a1.7 1.7 0 1 0 3.3 0a1.7 1.7 0 1 0 -3.3 0M1330.9 199.5a1.8 1.8 0 1 0 3.5 0a1.8 1.8 0 1 0 -3.5 0M1329.4 194.4a1.6 1.6 0 1 0 3.2 0a1.6 1.6 0 1 0 -3.2 0M1343.2 195.4a1.9 1.9 0 1 0 3.8 0a1.9 1.9 0 1 0 -3.8 0M1341.8 203.7a1.2 1.2 0 1 0 2.4 0a1.2 1.2 0 1 0 -2.4 0M1334.4 186.4a1.4 1.4 0 1 0 2.7 0a1.4 1.4 0 1 0 -2.7 0M1343.2 198.1a2.0 2.0 0 1 0 3.9 0a2.0 2.0 0 1 0 -3.9 0M1343.0 203.3a1.5 1.5 0 1 0 3.0 0a1.5 1.5 0 1 0 -3.0 0M1331.6 187.6a1.8 1.8 0 1 0 3.5 0a1.8 1.8 0 1 0 -3.5 0M1330.9 209.1a1.6 1.6 0 1 0 3.2 0a1.6 1.6 0 1 0 -3.2 0M1341.1 207.2a1.8 1.8 0 1 0 3.6 0a1.8 1.8 0 1 0 -3.6 0M1337.1 187.4a1.9 1.9 0 1 0 3.9 0a1.9 1.9 0 1 0 -3.9 0M1330.1 198.6a2.1 2.1 0 1 0 4.2 0a2.1 2.1 0 1 0 -4.2 0M1331.4 192.1a1.4 1.4 0 1 0 2.8 0a1.4 1.4 0 1 0 -2.8 0M1332.9 210.4a2.1 2.1 0 1 0 4.3 0a2.1 2.1 0 1 0 -4.3 0M1330.8 189.7a1.5 1.5 0 1 0 3.0 0a1.5 1.5 0 1 0 -3.0 0M1330.0 203.0a2.1 2.1 0 1 0 4.3 0a2.1 2.1 0 1 0 -4.3 0M1335.0 188.2a1.9 1.9 0 1 0 3.8 0a1.9 1.9 0 1 0 -3.8 0" fill="#e8102a" opacity="0.85" filter="url(#bl1)"/>
<path d="M1326.3 230.5a1.5 1.5 0 1 0 3.0 0a1.5 1.5 0 1 0 -3.0 0M1332.5 217.7a1.2 1.2 0 1 0 2.4 0a1.2 1.2 0 1 0 -2.4 0M1336.9 228.8a1.4 1.4 0 1 0 2.8 0a1.4 1.4 0 1 0 -2.8 0M1322.6 220.0a1.6 1.6 0 1 0 3.3 0a1.6 1.6 0 1 0 -3.3 0M1331.6 231.7a1.9 1.9 0 1 0 3.8 0a1.9 1.9 0 1 0 -3.8 0M1337.1 229.1a1.9 1.9 0 1 0 3.9 0a1.9 1.9 0 1 0 -3.9 0M1322.9 224.9a2.2 2.2 0 1 0 4.4 0a2.2 2.2 0 1 0 -4.4 0M1337.1 222.6a1.3 1.3 0 1 0 2.5 0a1.3 1.3 0 1 0 -2.5 0M1323.5 224.7a1.4 1.4 0 1 0 2.7 0a1.4 1.4 0 1 0 -2.7 0M1327.4 227.5a1.8 1.8 0 1 0 3.6 0a1.8 1.8 0 1 0 -3.6 0M1337.3 224.8a1.5 1.5 0 1 0 3.0 0a1.5 1.5 0 1 0 -3.0 0M1323.0 229.0a1.5 1.5 0 1 0 3.0 0a1.5 1.5 0 1 0 -3.0 0M1333.0 212.9a1.7 1.7 0 1 0 3.4 0a1.7 1.7 0 1 0 -3.4 0M1327.5 226.6a1.3 1.3 0 1 0 2.5 0a1.3 1.3 0 1 0 -2.5 0M1335.6 216.8a1.2 1.2 0 1 0 2.5 0a1.2 1.2 0 1 0 -2.5 0M1333.9 229.1a2.1 2.1 0 1 0 4.3 0a2.1 2.1 0 1 0 -4.3 0M1325.8 225.6a1.9 1.9 0 1 0 3.8 0a1.9 1.9 0 1 0 -3.8 0M1335.9 221.5a2.0 2.0 0 1 0 3.9 0a2.0 2.0 0 1 0 -3.9 0M1333.8 215.4a2.0 2.0 0 1 0 3.9 0a2.0 2.0 0 1 0 -3.9 0M1331.0 232.0a1.7 1.7 0 1 0 3.3 0a1.7 1.7 0 1 0 -3.3 0M1326.1 227.4a1.2 1.2 0 1 0 2.4 0a1.2 1.2 0 1 0 -2.4 0" fill="#e8102a" opacity="0.85" filter="url(#bl1)"/>
<path d="M1238.1 231.0a1.8 1.8 0 1 0 3.6 0a1.8 1.8 0 1 0 -3.6 0M1227.2 242.1a1.6 1.6 0 1 0 3.2 0a1.6 1.6 0 1 0 -3.2 0M1231.2 242.8a1.6 1.6 0 1 0 3.2 0a1.6 1.6 0 1 0 -3.2 0M1232.3 222.9a1.7 1.7 0 1 0 3.5 0a1.7 1.7 0 1 0 -3.5 0M1240.0 243.4a1.5 1.5 0 1 0 3.1 0a1.5 1.5 0 1 0 -3.1 0M1237.0 246.9a2.1 2.1 0 1 0 4.2 0a2.1 2.1 0 1 0 -4.2 0M1238.4 231.5a1.6 1.6 0 1 0 3.2 0a1.6 1.6 0 1 0 -3.2 0M1239.2 243.6a1.3 1.3 0 1 0 2.6 0a1.3 1.3 0 1 0 -2.6 0M1240.0 237.6a2.1 2.1 0 1 0 4.1 0a2.1 2.1 0 1 0 -4.1 0M1227.7 232.4a2.0 2.0 0 1 0 4.1 0a2.0 2.0 0 1 0 -4.1 0M1234.5 248.1a1.3 1.3 0 1 0 2.6 0a1.3 1.3 0 1 0 -2.6 0M1240.6 232.0a1.2 1.2 0 1 0 2.5 0a1.2 1.2 0 1 0 -2.5 0M1235.6 230.0a2.1 2.1 0 1 0 4.1 0a2.1 2.1 0 1 0 -4.1 0M1228.3 238.5a1.5 1.5 0 1 0 3.0 0a1.5 1.5 0 1 0 -3.0 0M1229.3 243.7a1.4 1.4 0 1 0 2.8 0a1.4 1.4 0 1 0 -2.8 0M1239.0 239.1a2.0 2.0 0 1 0 4.0 0a2.0 2.0 0 1 0 -4.0 0M1240.9 228.4a1.6 1.6 0 1 0 3.2 0a1.6 1.6 0 1 0 -3.2 0M1239.3 237.4a1.2 1.2 0 1 0 2.5 0a1.2 1.2 0 1 0 -2.5 0M1240.0 243.1a2.1 2.1 0 1 0 4.3 0a2.1 2.1 0 1 0 -4.3 0M1237.0 240.8a2.1 2.1 0 1 0 4.1 0a2.1 2.1 0 1 0 -4.1 0M1226.6 244.3a2.1 2.1 0 1 0 4.2 0a2.1 2.1 0 1 0 -4.2 0M1241.8 244.2a2.1 2.1 0 1 0 4.2 0a2.1 2.1 0 1 0 -4.2 0M1227.7 241.5a1.4 1.4 0 1 0 2.7 0a1.4 1.4 0 1 0 -2.7 0M1235.0 226.7a1.4 1.4 0 1 0 2.8 0a1.4 1.4 0 1 0 -2.8 0M1239.1 226.4a1.6 1.6 0 1 0 3.3 0a1.6 1.6 0 1 0 -3.3 0M1234.7 226.4a1.6 1.6 0 1 0 3.1 0a1.6 1.6 0 1 0 -3.1 0" fill="#e8102a" opacity="0.85" filter="url(#bl1)"/>
<path d="M1238.4 259.0a2.1 2.1 0 1 0 4.3 0a2.1 2.1 0 1 0 -4.3 0M1236.7 263.3a2.1 2.1 0 1 0 4.3 0a2.1 2.1 0 1 0 -4.3 0M1225.9 262.4a2.1 2.1 0 1 0 4.3 0a2.1 2.1 0 1 0 -4.3 0M1236.0 261.2a1.6 1.6 0 1 0 3.1 0a1.6 1.6 0 1 0 -3.1 0M1224.1 264.0a2.1 2.1 0 1 0 4.1 0a2.1 2.1 0 1 0 -4.1 0M1228.1 265.9a1.5 1.5 0 1 0 3.0 0a1.5 1.5 0 1 0 -3.0 0M1224.7 256.6a1.4 1.4 0 1 0 2.9 0a1.4 1.4 0 1 0 -2.9 0M1224.0 261.6a2.0 2.0 0 1 0 4.0 0a2.0 2.0 0 1 0 -4.0 0M1225.5 262.8a2.2 2.2 0 1 0 4.4 0a2.2 2.2 0 1 0 -4.4 0M1224.6 264.5a1.8 1.8 0 1 0 3.6 0a1.8 1.8 0 1 0 -3.6 0M1234.1 251.0a1.7 1.7 0 1 0 3.3 0a1.7 1.7 0 1 0 -3.3 0M1238.8 262.9a1.2 1.2 0 1 0 2.4 0a1.2 1.2 0 1 0 -2.4 0M1230.4 265.9a1.7 1.7 0 1 0 3.4 0a1.7 1.7 0 1 0 -3.4 0M1237.5 256.4a2.2 2.2 0 1 0 4.4 0a2.2 2.2 0 1 0 -4.4 0M1230.8 266.5a2.1 2.1 0 1 0 4.2 0a2.1 2.1 0 1 0 -4.2 0M1239.6 257.5a1.5 1.5 0 1 0 3.1 0a1.5 1.5 0 1 0 -3.1 0M1225.1 258.3a1.9 1.9 0 1 0 3.7 0a1.9 1.9 0 1 0 -3.7 0" fill="#e8102a" opacity="0.85" filter="url(#bl1)"/>
<path d="M1190.3 252.4a1.5 1.5 0 1 0 2.9 0a1.5 1.5 0 1 0 -2.9 0M1189.7 271.4a1.7 1.7 0 1 0 3.4 0a1.7 1.7 0 1 0 -3.4 0M1189.2 250.9a1.5 1.5 0 1 0 2.9 0a1.5 1.5 0 1 0 -2.9 0M1193.7 254.0a1.8 1.8 0 1 0 3.6 0a1.8 1.8 0 1 0 -3.6 0M1193.7 267.4a1.7 1.7 0 1 0 3.3 0a1.7 1.7 0 1 0 -3.3 0M1195.9 262.0a1.7 1.7 0 1 0 3.3 0a1.7 1.7 0 1 0 -3.3 0M1186.0 263.6a1.9 1.9 0 1 0 3.8 0a1.9 1.9 0 1 0 -3.8 0M1194.8 264.7a1.8 1.8 0 1 0 3.6 0a1.8 1.8 0 1 0 -3.6 0M1184.4 262.0a1.6 1.6 0 1 0 3.3 0a1.6 1.6 0 1 0 -3.3 0M1197.8 267.0a1.8 1.8 0 1 0 3.6 0a1.8 1.8 0 1 0 -3.6 0M1194.8 270.0a1.3 1.3 0 1 0 2.6 0a1.3 1.3 0 1 0 -2.6 0M1195.2 261.3a1.9 1.9 0 1 0 3.8 0a1.9 1.9 0 1 0 -3.8 0M1195.8 268.2a1.5 1.5 0 1 0 3.1 0a1.5 1.5 0 1 0 -3.1 0M1196.4 257.4a1.6 1.6 0 1 0 3.2 0a1.6 1.6 0 1 0 -3.2 0M1194.4 262.4a2.2 2.2 0 1 0 4.3 0a2.2 2.2 0 1 0 -4.3 0M1195.1 271.5a1.3 1.3 0 1 0 2.7 0a1.3 1.3 0 1 0 -2.7 0M1198.2 260.6a2.0 2.0 0 1 0 4.1 0a2.0 2.0 0 1 0 -4.1 0M1187.3 269.5a1.5 1.5 0 1 0 2.9 0a1.5 1.5 0 1 0 -2.9 0M1184.9 256.3a2.1 2.1 0 1 0 4.3 0a2.1 2.1 0 1 0 -4.3 0" fill="#e8102a" opacity="0.85" filter="url(#bl1)"/>
<path d="M1255.1 269.8a1.7 1.7 0 1 0 3.4 0a1.7 1.7 0 1 0 -3.4 0M1268.5 258.9a1.6 1.6 0 1 0 3.2 0a1.6 1.6 0 1 0 -3.2 0M1256.0 258.1a1.6 1.6 0 1 0 3.2 0a1.6 1.6 0 1 0 -3.2 0M1258.4 266.5a1.2 1.2 0 1 0 2.5 0a1.2 1.2 0 1 0 -2.5 0M1269.0 259.4a1.2 1.2 0 1 0 2.4 0a1.2 1.2 0 1 0 -2.4 0M1258.5 255.0a1.7 1.7 0 1 0 3.3 0a1.7 1.7 0 1 0 -3.3 0M1264.5 252.9a1.4 1.4 0 1 0 2.9 0a1.4 1.4 0 1 0 -2.9 0M1266.3 266.3a1.4 1.4 0 1 0 2.8 0a1.4 1.4 0 1 0 -2.8 0M1258.4 256.9a1.3 1.3 0 1 0 2.7 0a1.3 1.3 0 1 0 -2.7 0M1255.0 269.8a1.8 1.8 0 1 0 3.5 0a1.8 1.8 0 1 0 -3.5 0M1257.1 253.4a2.0 2.0 0 1 0 3.9 0a2.0 2.0 0 1 0 -3.9 0M1263.9 255.7a1.3 1.3 0 1 0 2.6 0a1.3 1.3 0 1 0 -2.6 0M1259.7 255.8a1.5 1.5 0 1 0 3.0 0a1.5 1.5 0 1 0 -3.0 0M1272.6 259.7a1.6 1.6 0 1 0 3.3 0a1.6 1.6 0 1 0 -3.3 0M1254.1 259.8a1.9 1.9 0 1 0 3.8 0a1.9 1.9 0 1 0 -3.8 0M1255.7 258.6a1.5 1.5 0 1 0 2.9 0a1.5 1.5 0 1 0 -2.9 0M1253.7 265.5a1.2 1.2 0 1 0 2.5 0a1.2 1.2 0 1 0 -2.5 0M1266.1 256.4a1.9 1.9 0 1 0 3.7 0a1.9 1.9 0 1 0 -3.7 0M1258.4 253.0a1.8 1.8 0 1 0 3.6 0a1.8 1.8 0 1 0 -3.6 0M1261.5 268.9a1.6 1.6 0 1 0 3.3 0a1.6 1.6 0 1 0 -3.3 0M1262.9 273.3a1.6 1.6 0 1 0 3.2 0a1.6 1.6 0 1 0 -3.2 0M1273.1 263.3a1.9 1.9 0 1 0 3.9 0a1.9 1.9 0 1 0 -3.9 0M1252.0 264.4a1.9 1.9 0 1 0 3.7 0a1.9 1.9 0 1 0 -3.7 0M1266.6 254.7a1.9 1.9 0 1 0 3.7 0a1.9 1.9 0 1 0 -3.7 0M1253.3 256.0a1.3 1.3 0 1 0 2.5 0a1.3 1.3 0 1 0 -2.5 0" fill="#e8102a" opacity="0.85" filter="url(#bl1)"/>
<path d="M1292.7 279.5a1.6 1.6 0 1 0 3.2 0a1.6 1.6 0 1 0 -3.2 0M1285.8 294.8a1.8 1.8 0 1 0 3.7 0a1.8 1.8 0 1 0 -3.7 0M1285.1 283.4a1.6 1.6 0 1 0 3.3 0a1.6 1.6 0 1 0 -3.3 0M1296.8 280.2a1.8 1.8 0 1 0 3.6 0a1.8 1.8 0 1 0 -3.6 0M1292.9 279.7a2.0 2.0 0 1 0 3.9 0a2.0 2.0 0 1 0 -3.9 0M1293.6 279.0a1.6 1.6 0 1 0 3.2 0a1.6 1.6 0 1 0 -3.2 0M1286.8 290.7a1.7 1.7 0 1 0 3.4 0a1.7 1.7 0 1 0 -3.4 0M1282.5 290.4a2.0 2.0 0 1 0 4.1 0a2.0 2.0 0 1 0 -4.1 0M1289.1 278.7a1.5 1.5 0 1 0 3.1 0a1.5 1.5 0 1 0 -3.1 0M1297.9 294.3a1.3 1.3 0 1 0 2.7 0a1.3 1.3 0 1 0 -2.7 0M1298.7 291.1a1.8 1.8 0 1 0 3.7 0a1.8 1.8 0 1 0 -3.7 0M1295.6 280.3a1.8 1.8 0 1 0 3.5 0a1.8 1.8 0 1 0 -3.5 0M1287.9 290.0a1.8 1.8 0 1 0 3.5 0a1.8 1.8 0 1 0 -3.5 0M1297.9 280.5a1.2 1.2 0 1 0 2.4 0a1.2 1.2 0 1 0 -2.4 0M1299.2 294.4a2.1 2.1 0 1 0 4.2 0a2.1 2.1 0 1 0 -4.2 0M1289.5 281.4a1.7 1.7 0 1 0 3.3 0a1.7 1.7 0 1 0 -3.3 0M1291.2 281.6a1.2 1.2 0 1 0 2.5 0a1.2 1.2 0 1 0 -2.5 0M1299.4 285.3a1.4 1.4 0 1 0 2.9 0a1.4 1.4 0 1 0 -2.9 0M1291.5 293.8a1.3 1.3 0 1 0 2.6 0a1.3 1.3 0 1 0 -2.6 0M1300.5 293.3a2.0 2.0 0 1 0 4.0 0a2.0 2.0 0 1 0 -4.0 0M1288.1 282.8a1.2 1.2 0 1 0 2.5 0a1.2 1.2 0 1 0 -2.5 0" fill="#e8102a" opacity="0.85" filter="url(#bl1)"/>
<path d="M1359.6 282.9a1.4 1.4 0 1 0 2.8 0a1.4 1.4 0 1 0 -2.8 0M1373.1 280.8a2.0 2.0 0 1 0 4.1 0a2.0 2.0 0 1 0 -4.1 0M1353.0 279.8a2.0 2.0 0 1 0 4.0 0a2.0 2.0 0 1 0 -4.0 0M1373.0 284.4a2.2 2.2 0 1 0 4.4 0a2.2 2.2 0 1 0 -4.4 0M1349.2 285.0a1.4 1.4 0 1 0 2.8 0a1.4 1.4 0 1 0 -2.8 0M1352.3 266.6a1.6 1.6 0 1 0 3.1 0a1.6 1.6 0 1 0 -3.1 0M1362.6 271.0a1.8 1.8 0 1 0 3.7 0a1.8 1.8 0 1 0 -3.7 0M1351.1 271.9a1.6 1.6 0 1 0 3.2 0a1.6 1.6 0 1 0 -3.2 0M1347.2 281.9a1.7 1.7 0 1 0 3.4 0a1.7 1.7 0 1 0 -3.4 0M1370.0 282.5a1.6 1.6 0 1 0 3.2 0a1.6 1.6 0 1 0 -3.2 0M1367.0 268.1a2.0 2.0 0 1 0 4.0 0a2.0 2.0 0 1 0 -4.0 0M1349.9 281.1a1.9 1.9 0 1 0 3.9 0a1.9 1.9 0 1 0 -3.9 0M1349.7 269.8a1.2 1.2 0 1 0 2.5 0a1.2 1.2 0 1 0 -2.5 0M1372.3 283.5a1.8 1.8 0 1 0 3.6 0a1.8 1.8 0 1 0 -3.6 0M1372.6 279.5a1.9 1.9 0 1 0 3.8 0a1.9 1.9 0 1 0 -3.8 0M1354.4 267.6a1.3 1.3 0 1 0 2.6 0a1.3 1.3 0 1 0 -2.6 0M1357.5 286.2a1.2 1.2 0 1 0 2.5 0a1.2 1.2 0 1 0 -2.5 0M1369.8 266.7a1.5 1.5 0 1 0 2.9 0a1.5 1.5 0 1 0 -2.9 0M1373.1 278.0a1.7 1.7 0 1 0 3.5 0a1.7 1.7 0 1 0 -3.5 0M1354.1 282.0a1.7 1.7 0 1 0 3.5 0a1.7 1.7 0 1 0 -3.5 0M1369.0 287.3a1.6 1.6 0 1 0 3.1 0a1.6 1.6 0 1 0 -3.1 0M1353.8 281.0a1.8 1.8 0 1 0 3.6 0a1.8 1.8 0 1 0 -3.6 0M1374.9 277.0a1.5 1.5 0 1 0 2.9 0a1.5 1.5 0 1 0 -2.9 0M1369.1 271.8a1.2 1.2 0 1 0 2.5 0a1.2 1.2 0 1 0 -2.5 0M1362.3 266.0a1.8 1.8 0 1 0 3.6 0a1.8 1.8 0 1 0 -3.6 0M1370.9 272.8a1.3 1.3 0 1 0 2.6 0a1.3 1.3 0 1 0 -2.6 0M1352.2 271.8a1.4 1.4 0 1 0 2.8 0a1.4 1.4 0 1 0 -2.8 0M1359.8 285.2a1.7 1.7 0 1 0 3.4 0a1.7 1.7 0 1 0 -3.4 0M1352.5 273.5a1.8 1.8 0 1 0 3.5 0a1.8 1.8 0 1 0 -3.5 0M1363.2 270.4a2.1 2.1 0 1 0 4.1 0a2.1 2.1 0 1 0 -4.1 0M1365.0 271.3a1.3 1.3 0 1 0 2.6 0a1.3 1.3 0 1 0 -2.6 0M1375.3 279.6a1.5 1.5 0 1 0 3.0 0a1.5 1.5 0 1 0 -3.0 0M1375.8 280.6a2.1 2.1 0 1 0 4.1 0a2.1 2.1 0 1 0 -4.1 0M1375.5 276.1a2.0 2.0 0 1 0 3.9 0a2.0 2.0 0 1 0 -3.9 0M1360.1 288.5a1.9 1.9 0 1 0 3.8 0a1.9 1.9 0 1 0 -3.8 0" fill="#e8102a" opacity="0.85" filter="url(#bl1)"/>
<path d="M1437.5 267.9a1.2 1.2 0 1 0 2.5 0a1.2 1.2 0 1 0 -2.5 0M1435.3 282.0a1.9 1.9 0 1 0 3.7 0a1.9 1.9 0 1 0 -3.7 0M1443.0 273.0a1.3 1.3 0 1 0 2.7 0a1.3 1.3 0 1 0 -2.7 0M1429.5 279.0a1.8 1.8 0 1 0 3.6 0a1.8 1.8 0 1 0 -3.6 0M1430.1 285.0a1.8 1.8 0 1 0 3.6 0a1.8 1.8 0 1 0 -3.6 0M1431.2 279.0a2.1 2.1 0 1 0 4.1 0a2.1 2.1 0 1 0 -4.1 0M1435.0 282.5a1.5 1.5 0 1 0 3.0 0a1.5 1.5 0 1 0 -3.0 0M1433.5 268.8a2.1 2.1 0 1 0 4.3 0a2.1 2.1 0 1 0 -4.3 0M1437.0 287.7a1.6 1.6 0 1 0 3.2 0a1.6 1.6 0 1 0 -3.2 0M1435.8 265.7a1.7 1.7 0 1 0 3.3 0a1.7 1.7 0 1 0 -3.3 0M1431.2 283.3a1.3 1.3 0 1 0 2.7 0a1.3 1.3 0 1 0 -2.7 0M1444.2 273.5a1.9 1.9 0 1 0 3.7 0a1.9 1.9 0 1 0 -3.7 0M1440.2 287.9a1.7 1.7 0 1 0 3.3 0a1.7 1.7 0 1 0 -3.3 0M1439.7 271.9a2.2 2.2 0 1 0 4.4 0a2.2 2.2 0 1 0 -4.4 0M1433.8 268.2a1.4 1.4 0 1 0 2.8 0a1.4 1.4 0 1 0 -2.8 0M1438.6 271.3a1.7 1.7 0 1 0 3.3 0a1.7 1.7 0 1 0 -3.3 0M1428.7 278.6a1.9 1.9 0 1 0 3.7 0a1.9 1.9 0 1 0 -3.7 0M1437.3 269.6a1.4 1.4 0 1 0 2.7 0a1.4 1.4 0 1 0 -2.7 0M1431.6 270.7a1.9 1.9 0 1 0 3.8 0a1.9 1.9 0 1 0 -3.8 0M1441.7 272.5a1.5 1.5 0 1 0 3.1 0a1.5 1.5 0 1 0 -3.1 0M1433.8 271.3a1.8 1.8 0 1 0 3.7 0a1.8 1.8 0 1 0 -3.7 0M1447.0 280.4a1.7 1.7 0 1 0 3.4 0a1.7 1.7 0 1 0 -3.4 0M1432.8 271.6a1.2 1.2 0 1 0 2.5 0a1.2 1.2 0 1 0 -2.5 0" fill="#e8102a" opacity="0.85" filter="url(#bl1)"/>
<path d="M1220.0 291.3a1.9 1.9 0 1 0 3.7 0a1.9 1.9 0 1 0 -3.7 0M1220.8 302.1a1.9 1.9 0 1 0 3.8 0a1.9 1.9 0 1 0 -3.8 0M1207.7 299.2a2.2 2.2 0 1 0 4.4 0a2.2 2.2 0 1 0 -4.4 0M1224.7 299.7a1.2 1.2 0 1 0 2.4 0a1.2 1.2 0 1 0 -2.4 0M1223.6 300.3a1.8 1.8 0 1 0 3.7 0a1.8 1.8 0 1 0 -3.7 0M1223.6 299.3a1.5 1.5 0 1 0 3.0 0a1.5 1.5 0 1 0 -3.0 0M1221.5 298.8a2.0 2.0 0 1 0 4.0 0a2.0 2.0 0 1 0 -4.0 0M1211.3 301.9a1.8 1.8 0 1 0 3.6 0a1.8 1.8 0 1 0 -3.6 0M1223.2 298.4a1.9 1.9 0 1 0 3.7 0a1.9 1.9 0 1 0 -3.7 0M1222.9 294.7a1.9 1.9 0 1 0 3.8 0a1.9 1.9 0 1 0 -3.8 0M1211.9 290.8a1.3 1.3 0 1 0 2.7 0a1.3 1.3 0 1 0 -2.7 0M1210.3 296.6a1.9 1.9 0 1 0 3.9 0a1.9 1.9 0 1 0 -3.9 0M1224.9 302.6a1.7 1.7 0 1 0 3.3 0a1.7 1.7 0 1 0 -3.3 0M1216.7 290.9a1.8 1.8 0 1 0 3.6 0a1.8 1.8 0 1 0 -3.6 0M1224.0 296.8a1.8 1.8 0 1 0 3.5 0a1.8 1.8 0 1 0 -3.5 0M1220.5 289.4a1.2 1.2 0 1 0 2.5 0a1.2 1.2 0 1 0 -2.5 0M1209.2 294.6a1.7 1.7 0 1 0 3.5 0a1.7 1.7 0 1 0 -3.5 0M1210.6 289.6a1.9 1.9 0 1 0 3.9 0a1.9 1.9 0 1 0 -3.9 0M1224.0 301.1a2.1 2.1 0 1 0 4.3 0a2.1 2.1 0 1 0 -4.3 0M1208.8 301.1a1.2 1.2 0 1 0 2.4 0a1.2 1.2 0 1 0 -2.4 0M1223.8 293.2a1.7 1.7 0 1 0 3.3 0a1.7 1.7 0 1 0 -3.3 0" fill="#e8102a" opacity="0.85" filter="url(#bl1)"/>
<path d="M1267.0 316.9a1.9 1.9 0 1 0 3.8 0a1.9 1.9 0 1 0 -3.8 0M1272.4 307.5a1.6 1.6 0 1 0 3.3 0a1.6 1.6 0 1 0 -3.3 0M1267.0 321.6a1.4 1.4 0 1 0 2.8 0a1.4 1.4 0 1 0 -2.8 0M1271.4 309.2a2.1 2.1 0 1 0 4.2 0a2.1 2.1 0 1 0 -4.2 0M1269.9 315.9a1.8 1.8 0 1 0 3.6 0a1.8 1.8 0 1 0 -3.6 0M1268.9 304.7a1.5 1.5 0 1 0 2.9 0a1.5 1.5 0 1 0 -2.9 0M1268.4 304.8a1.5 1.5 0 1 0 3.0 0a1.5 1.5 0 1 0 -3.0 0M1259.7 317.6a1.6 1.6 0 1 0 3.2 0a1.6 1.6 0 1 0 -3.2 0M1257.4 309.3a2.2 2.2 0 1 0 4.4 0a2.2 2.2 0 1 0 -4.4 0M1258.1 318.0a2.2 2.2 0 1 0 4.3 0a2.2 2.2 0 1 0 -4.3 0M1270.0 307.1a2.2 2.2 0 1 0 4.4 0a2.2 2.2 0 1 0 -4.4 0M1254.2 309.5a2.1 2.1 0 1 0 4.1 0a2.1 2.1 0 1 0 -4.1 0M1256.9 313.3a1.5 1.5 0 1 0 2.9 0a1.5 1.5 0 1 0 -2.9 0M1263.0 304.3a1.5 1.5 0 1 0 3.0 0a1.5 1.5 0 1 0 -3.0 0M1257.4 320.0a2.1 2.1 0 1 0 4.2 0a2.1 2.1 0 1 0 -4.2 0M1271.7 309.7a1.5 1.5 0 1 0 3.0 0a1.5 1.5 0 1 0 -3.0 0M1267.1 307.0a1.8 1.8 0 1 0 3.5 0a1.8 1.8 0 1 0 -3.5 0M1260.8 304.9a1.3 1.3 0 1 0 2.5 0a1.3 1.3 0 1 0 -2.5 0M1274.1 314.1a1.7 1.7 0 1 0 3.5 0a1.7 1.7 0 1 0 -3.5 0M1258.6 317.7a2.2 2.2 0 1 0 4.3 0a2.2 2.2 0 1 0 -4.3 0M1265.3 308.6a2.2 2.2 0 1 0 4.3 0a2.2 2.2 0 1 0 -4.3 0" fill="#e8102a" opacity="0.85" filter="url(#bl1)"/>
<path d="M1302.3 333.3a1.8 1.8 0 1 0 3.6 0a1.8 1.8 0 1 0 -3.6 0M1298.7 324.7a1.2 1.2 0 1 0 2.4 0a1.2 1.2 0 1 0 -2.4 0M1306.4 336.9a2.0 2.0 0 1 0 4.0 0a2.0 2.0 0 1 0 -4.0 0M1306.2 321.4a1.4 1.4 0 1 0 2.7 0a1.4 1.4 0 1 0 -2.7 0M1299.1 322.2a1.2 1.2 0 1 0 2.4 0a1.2 1.2 0 1 0 -2.4 0M1304.9 319.9a1.8 1.8 0 1 0 3.7 0a1.8 1.8 0 1 0 -3.7 0M1305.5 319.5a2.1 2.1 0 1 0 4.3 0a2.1 2.1 0 1 0 -4.3 0M1305.8 332.8a1.8 1.8 0 1 0 3.7 0a1.8 1.8 0 1 0 -3.7 0M1300.8 323.5a2.1 2.1 0 1 0 4.2 0a2.1 2.1 0 1 0 -4.2 0M1312.9 322.0a2.0 2.0 0 1 0 4.1 0a2.0 2.0 0 1 0 -4.1 0M1299.2 331.9a2.0 2.0 0 1 0 4.0 0a2.0 2.0 0 1 0 -4.0 0M1303.6 320.0a1.7 1.7 0 1 0 3.4 0a1.7 1.7 0 1 0 -3.4 0M1300.7 328.1a1.4 1.4 0 1 0 2.9 0a1.4 1.4 0 1 0 -2.9 0M1302.4 325.5a1.3 1.3 0 1 0 2.6 0a1.3 1.3 0 1 0 -2.6 0M1309.7 319.0a2.1 2.1 0 1 0 4.2 0a2.1 2.1 0 1 0 -4.2 0M1304.2 334.2a1.9 1.9 0 1 0 3.8 0a1.9 1.9 0 1 0 -3.8 0M1302.7 332.4a1.9 1.9 0 1 0 3.9 0a1.9 1.9 0 1 0 -3.9 0M1304.8 323.3a1.9 1.9 0 1 0 3.9 0a1.9 1.9 0 1 0 -3.9 0M1316.6 332.7a1.5 1.5 0 1 0 3.0 0a1.5 1.5 0 1 0 -3.0 0M1313.6 330.7a1.7 1.7 0 1 0 3.4 0a1.7 1.7 0 1 0 -3.4 0M1297.1 332.7a1.9 1.9 0 1 0 3.9 0a1.9 1.9 0 1 0 -3.9 0M1301.4 321.7a1.9 1.9 0 1 0 3.7 0a1.9 1.9 0 1 0 -3.7 0" fill="#e8102a" opacity="0.85" filter="url(#bl1)"/>
<path d="M1334.7 331.4a1.8 1.8 0 1 0 3.5 0a1.8 1.8 0 1 0 -3.5 0M1350.1 321.5a1.9 1.9 0 1 0 3.8 0a1.9 1.9 0 1 0 -3.8 0M1340.5 321.1a2.1 2.1 0 1 0 4.3 0a2.1 2.1 0 1 0 -4.3 0M1333.3 321.6a1.8 1.8 0 1 0 3.5 0a1.8 1.8 0 1 0 -3.5 0M1352.8 324.3a1.6 1.6 0 1 0 3.2 0a1.6 1.6 0 1 0 -3.2 0M1354.2 324.0a1.3 1.3 0 1 0 2.7 0a1.3 1.3 0 1 0 -2.7 0M1346.9 321.9a2.2 2.2 0 1 0 4.3 0a2.2 2.2 0 1 0 -4.3 0M1341.4 332.9a1.3 1.3 0 1 0 2.6 0a1.3 1.3 0 1 0 -2.6 0M1348.7 318.3a1.3 1.3 0 1 0 2.5 0a1.3 1.3 0 1 0 -2.5 0M1347.8 319.9a2.0 2.0 0 1 0 4.1 0a2.0 2.0 0 1 0 -4.1 0M1341.6 334.1a1.7 1.7 0 1 0 3.3 0a1.7 1.7 0 1 0 -3.3 0M1350.6 325.0a1.9 1.9 0 1 0 3.9 0a1.9 1.9 0 1 0 -3.9 0M1333.2 321.2a1.9 1.9 0 1 0 3.8 0a1.9 1.9 0 1 0 -3.8 0M1342.0 333.0a2.1 2.1 0 1 0 4.2 0a2.1 2.1 0 1 0 -4.2 0M1345.6 333.5a2.0 2.0 0 1 0 4.1 0a2.0 2.0 0 1 0 -4.1 0M1334.7 323.2a1.4 1.4 0 1 0 2.8 0a1.4 1.4 0 1 0 -2.8 0M1351.0 327.0a1.9 1.9 0 1 0 3.9 0a1.9 1.9 0 1 0 -3.9 0M1342.8 330.7a1.9 1.9 0 1 0 3.9 0a1.9 1.9 0 1 0 -3.9 0M1341.1 330.5a1.3 1.3 0 1 0 2.7 0a1.3 1.3 0 1 0 -2.7 0M1352.8 324.1a1.5 1.5 0 1 0 2.9 0a1.5 1.5 0 1 0 -2.9 0M1343.3 319.6a1.7 1.7 0 1 0 3.5 0a1.7 1.7 0 1 0 -3.5 0" fill="#e8102a" opacity="0.85" filter="url(#bl1)"/>
<path d="M1390.4 323.4a1.8 1.8 0 1 0 3.6 0a1.8 1.8 0 1 0 -3.6 0M1392.9 317.3a1.6 1.6 0 1 0 3.1 0a1.6 1.6 0 1 0 -3.1 0M1384.6 312.1a1.7 1.7 0 1 0 3.4 0a1.7 1.7 0 1 0 -3.4 0M1383.8 313.0a1.8 1.8 0 1 0 3.6 0a1.8 1.8 0 1 0 -3.6 0M1380.6 319.6a2.2 2.2 0 1 0 4.3 0a2.2 2.2 0 1 0 -4.3 0M1387.4 310.5a1.7 1.7 0 1 0 3.4 0a1.7 1.7 0 1 0 -3.4 0M1390.7 330.4a1.9 1.9 0 1 0 3.9 0a1.9 1.9 0 1 0 -3.9 0M1387.6 308.8a1.4 1.4 0 1 0 2.8 0a1.4 1.4 0 1 0 -2.8 0M1392.5 325.2a1.5 1.5 0 1 0 3.0 0a1.5 1.5 0 1 0 -3.0 0M1388.2 329.3a1.4 1.4 0 1 0 2.8 0a1.4 1.4 0 1 0 -2.8 0M1380.5 327.5a1.8 1.8 0 1 0 3.5 0a1.8 1.8 0 1 0 -3.5 0M1383.2 312.3a1.2 1.2 0 1 0 2.5 0a1.2 1.2 0 1 0 -2.5 0M1394.4 327.5a1.6 1.6 0 1 0 3.2 0a1.6 1.6 0 1 0 -3.2 0M1389.5 327.0a2.1 2.1 0 1 0 4.2 0a2.1 2.1 0 1 0 -4.2 0M1380.4 311.3a1.9 1.9 0 1 0 3.8 0a1.9 1.9 0 1 0 -3.8 0M1381.4 327.1a1.5 1.5 0 1 0 3.1 0a1.5 1.5 0 1 0 -3.1 0M1390.2 313.4a1.6 1.6 0 1 0 3.1 0a1.6 1.6 0 1 0 -3.1 0M1379.3 312.4a2.0 2.0 0 1 0 3.9 0a2.0 2.0 0 1 0 -3.9 0M1380.1 320.0a1.2 1.2 0 1 0 2.4 0a1.2 1.2 0 1 0 -2.4 0M1389.7 324.8a1.5 1.5 0 1 0 3.1 0a1.5 1.5 0 1 0 -3.1 0M1395.6 317.5a1.8 1.8 0 1 0 3.6 0a1.8 1.8 0 1 0 -3.6 0M1385.1 325.9a1.4 1.4 0 1 0 2.8 0a1.4 1.4 0 1 0 -2.8 0M1393.9 313.0a1.8 1.8 0 1 0 3.6 0a1.8 1.8 0 1 0 -3.6 0" fill="#e8102a" opacity="0.85" filter="url(#bl1)"/>
<path d="M1394.0 317.7a1.4 1.4 0 1 0 2.8 0a1.4 1.4 0 1 0 -2.8 0M1402.8 312.3a1.5 1.5 0 1 0 2.9 0a1.5 1.5 0 1 0 -2.9 0M1402.0 310.9a2.1 2.1 0 1 0 4.1 0a2.1 2.1 0 1 0 -4.1 0M1402.1 310.7a1.4 1.4 0 1 0 2.8 0a1.4 1.4 0 1 0 -2.8 0M1391.8 312.8a1.5 1.5 0 1 0 3.1 0a1.5 1.5 0 1 0 -3.1 0M1400.2 309.9a1.8 1.8 0 1 0 3.5 0a1.8 1.8 0 1 0 -3.5 0M1401.2 308.4a1.2 1.2 0 1 0 2.4 0a1.2 1.2 0 1 0 -2.4 0M1396.3 304.9a1.3 1.3 0 1 0 2.7 0a1.3 1.3 0 1 0 -2.7 0M1389.8 312.8a1.9 1.9 0 1 0 3.9 0a1.9 1.9 0 1 0 -3.9 0M1400.8 311.3a1.8 1.8 0 1 0 3.5 0a1.8 1.8 0 1 0 -3.5 0M1397.2 306.7a1.3 1.3 0 1 0 2.6 0a1.3 1.3 0 1 0 -2.6 0M1392.6 309.1a1.4 1.4 0 1 0 2.7 0a1.4 1.4 0 1 0 -2.7 0M1390.0 308.3a1.3 1.3 0 1 0 2.6 0a1.3 1.3 0 1 0 -2.6 0M1395.1 320.9a2.2 2.2 0 1 0 4.4 0a2.2 2.2 0 1 0 -4.4 0M1399.2 305.7a1.2 1.2 0 1 0 2.4 0a1.2 1.2 0 1 0 -2.4 0M1401.0 314.3a1.4 1.4 0 1 0 2.7 0a1.4 1.4 0 1 0 -2.7 0" fill="#e8102a" opacity="0.85" filter="url(#bl1)"/>
<path d="M1368.7 218.5a2.2 2.2 0 1 0 4.4 0a2.2 2.2 0 1 0 -4.4 0M1371.2 217.4a2.0 2.0 0 1 0 4.0 0a2.0 2.0 0 1 0 -4.0 0M1366.6 231.0a1.5 1.5 0 1 0 3.1 0a1.5 1.5 0 1 0 -3.1 0M1372.9 231.0a1.4 1.4 0 1 0 2.8 0a1.4 1.4 0 1 0 -2.8 0M1364.0 217.4a2.0 2.0 0 1 0 4.0 0a2.0 2.0 0 1 0 -4.0 0M1363.4 225.9a2.0 2.0 0 1 0 4.1 0a2.0 2.0 0 1 0 -4.1 0M1363.3 225.5a2.1 2.1 0 1 0 4.1 0a2.1 2.1 0 1 0 -4.1 0M1372.6 229.6a1.9 1.9 0 1 0 3.8 0a1.9 1.9 0 1 0 -3.8 0M1371.1 219.4a1.9 1.9 0 1 0 3.8 0a1.9 1.9 0 1 0 -3.8 0M1364.8 225.2a1.6 1.6 0 1 0 3.2 0a1.6 1.6 0 1 0 -3.2 0M1371.2 218.0a1.3 1.3 0 1 0 2.5 0a1.3 1.3 0 1 0 -2.5 0M1367.8 231.7a1.8 1.8 0 1 0 3.6 0a1.8 1.8 0 1 0 -3.6 0M1374.5 220.1a2.1 2.1 0 1 0 4.1 0a2.1 2.1 0 1 0 -4.1 0M1367.5 218.7a1.8 1.8 0 1 0 3.7 0a1.8 1.8 0 1 0 -3.7 0" fill="#e8102a" opacity="0.85" filter="url(#bl1)"/>
<path d="M1195.5 208.6a1.6 1.6 0 1 0 3.1 0a1.6 1.6 0 1 0 -3.1 0M1193.6 214.6a1.9 1.9 0 1 0 3.9 0a1.9 1.9 0 1 0 -3.9 0M1195.8 204.1a1.6 1.6 0 1 0 3.1 0a1.6 1.6 0 1 0 -3.1 0M1196.4 204.3a1.5 1.5 0 1 0 3.0 0a1.5 1.5 0 1 0 -3.0 0M1185.6 206.9a2.1 2.1 0 1 0 4.2 0a2.1 2.1 0 1 0 -4.2 0M1188.1 205.4a1.2 1.2 0 1 0 2.4 0a1.2 1.2 0 1 0 -2.4 0M1195.0 207.3a2.0 2.0 0 1 0 4.0 0a2.0 2.0 0 1 0 -4.0 0M1188.2 210.1a1.8 1.8 0 1 0 3.6 0a1.8 1.8 0 1 0 -3.6 0M1193.3 201.6a1.5 1.5 0 1 0 3.0 0a1.5 1.5 0 1 0 -3.0 0M1187.1 209.4a1.5 1.5 0 1 0 3.1 0a1.5 1.5 0 1 0 -3.1 0M1187.6 216.9a2.0 2.0 0 1 0 4.0 0a2.0 2.0 0 1 0 -4.0 0M1196.6 203.8a1.7 1.7 0 1 0 3.4 0a1.7 1.7 0 1 0 -3.4 0M1193.4 216.2a2.0 2.0 0 1 0 4.1 0a2.0 2.0 0 1 0 -4.1 0M1192.1 218.8a1.7 1.7 0 1 0 3.5 0a1.7 1.7 0 1 0 -3.5 0" fill="#e8102a" opacity="0.85" filter="url(#bl1)"/>
<path d="M1216.2 292.2a1.6 1.6 0 1 0 3.1 0a1.6 1.6 0 1 0 -3.1 0M1210.9 293.5a1.7 1.7 0 1 0 3.4 0a1.7 1.7 0 1 0 -3.4 0M1209.5 295.0a1.8 1.8 0 1 0 3.6 0a1.8 1.8 0 1 0 -3.6 0M1217.1 290.5a1.5 1.5 0 1 0 3.0 0a1.5 1.5 0 1 0 -3.0 0M1213.8 293.0a1.4 1.4 0 1 0 2.7 0a1.4 1.4 0 1 0 -2.7 0M1216.1 292.1a1.6 1.6 0 1 0 3.2 0a1.6 1.6 0 1 0 -3.2 0M1206.7 288.5a1.9 1.9 0 1 0 3.9 0a1.9 1.9 0 1 0 -3.9 0M1215.3 291.5a1.4 1.4 0 1 0 2.9 0a1.4 1.4 0 1 0 -2.9 0M1213.7 293.9a1.5 1.5 0 1 0 3.0 0a1.5 1.5 0 1 0 -3.0 0M1211.5 284.6a1.4 1.4 0 1 0 2.7 0a1.4 1.4 0 1 0 -2.7 0" fill="#e8102a" opacity="0.85" filter="url(#bl1)"/>
<path d="M1453.0 219.9a2.0 2.0 0 1 0 3.9 0a2.0 2.0 0 1 0 -3.9 0M1456.3 211.3a1.9 1.9 0 1 0 3.8 0a1.9 1.9 0 1 0 -3.8 0M1457.9 217.2a1.4 1.4 0 1 0 2.9 0a1.4 1.4 0 1 0 -2.9 0M1451.7 220.7a1.2 1.2 0 1 0 2.4 0a1.2 1.2 0 1 0 -2.4 0M1453.8 218.1a1.9 1.9 0 1 0 3.9 0a1.9 1.9 0 1 0 -3.9 0M1456.4 218.4a1.3 1.3 0 1 0 2.5 0a1.3 1.3 0 1 0 -2.5 0M1451.0 209.7a1.2 1.2 0 1 0 2.4 0a1.2 1.2 0 1 0 -2.4 0M1457.2 215.6a1.8 1.8 0 1 0 3.6 0a1.8 1.8 0 1 0 -3.6 0M1452.8 211.7a2.2 2.2 0 1 0 4.4 0a2.2 2.2 0 1 0 -4.4 0M1451.2 210.3a1.8 1.8 0 1 0 3.7 0a1.8 1.8 0 1 0 -3.7 0M1456.5 212.6a1.9 1.9 0 1 0 3.8 0a1.9 1.9 0 1 0 -3.8 0" fill="#e8102a" opacity="0.85" filter="url(#bl1)"/>
<path d="M1299.2 239.1a1.7 1.7 0 1 0 3.5 0a1.7 1.7 0 1 0 -3.5 0M1305.0 223.0a1.5 1.5 0 1 0 2.9 0a1.5 1.5 0 1 0 -2.9 0M1186.9 224.3a1.5 1.5 0 1 0 3.0 0a1.5 1.5 0 1 0 -3.0 0M1236.6 93.7a1.6 1.6 0 1 0 3.3 0a1.6 1.6 0 1 0 -3.3 0M1384.5 256.4a1.1 1.1 0 1 0 2.3 0a1.1 1.1 0 1 0 -2.3 0M1304.1 202.2a1.7 1.7 0 1 0 3.3 0a1.7 1.7 0 1 0 -3.3 0M1327.5 264.1a1.4 1.4 0 1 0 2.8 0a1.4 1.4 0 1 0 -2.8 0M1387.9 207.4a1.2 1.2 0 1 0 2.4 0a1.2 1.2 0 1 0 -2.4 0M1462.6 285.0a1.3 1.3 0 1 0 2.5 0a1.3 1.3 0 1 0 -2.5 0M1206.2 155.2a1.1 1.1 0 1 0 2.1 0a1.1 1.1 0 1 0 -2.1 0M1431.1 189.7a1.7 1.7 0 1 0 3.4 0a1.7 1.7 0 1 0 -3.4 0M1276.3 88.2a1.5 1.5 0 1 0 3.0 0a1.5 1.5 0 1 0 -3.0 0M1436.9 149.2a1.1 1.1 0 1 0 2.1 0a1.1 1.1 0 1 0 -2.1 0M1184.1 239.0a1.4 1.4 0 1 0 2.7 0a1.4 1.4 0 1 0 -2.7 0M1189.8 292.5a1.1 1.1 0 1 0 2.2 0a1.1 1.1 0 1 0 -2.2 0M1380.0 101.7a1.3 1.3 0 1 0 2.7 0a1.3 1.3 0 1 0 -2.7 0M1198.5 149.2a1.8 1.8 0 1 0 3.6 0a1.8 1.8 0 1 0 -3.6 0M1446.7 159.9a1.7 1.7 0 1 0 3.4 0a1.7 1.7 0 1 0 -3.4 0M1197.7 187.8a1.7 1.7 0 1 0 3.4 0a1.7 1.7 0 1 0 -3.4 0M1378.7 96.7a1.8 1.8 0 1 0 3.6 0a1.8 1.8 0 1 0 -3.6 0M1198.8 145.7a1.6 1.6 0 1 0 3.2 0a1.6 1.6 0 1 0 -3.2 0M1248.0 157.5a1.1 1.1 0 1 0 2.1 0a1.1 1.1 0 1 0 -2.1 0M1211.6 252.0a1.3 1.3 0 1 0 2.6 0a1.3 1.3 0 1 0 -2.6 0M1312.4 243.7a1.7 1.7 0 1 0 3.4 0a1.7 1.7 0 1 0 -3.4 0M1214.0 124.4a1.6 1.6 0 1 0 3.2 0a1.6 1.6 0 1 0 -3.2 0M1363.3 196.3a1.1 1.1 0 1 0 2.2 0a1.1 1.1 0 1 0 -2.2 0M1209.8 284.0a1.2 1.2 0 1 0 2.4 0a1.2 1.2 0 1 0 -2.4 0M1455.7 250.5a1.2 1.2 0 1 0 2.5 0a1.2 1.2 0 1 0 -2.5 0M1183.5 288.9a1.1 1.1 0 1 0 2.1 0a1.1 1.1 0 1 0 -2.1 0M1205.1 239.0a1.7 1.7 0 1 0 3.4 0a1.7 1.7 0 1 0 -3.4 0M1367.2 152.5a1.7 1.7 0 1 0 3.5 0a1.7 1.7 0 1 0 -3.5 0M1222.9 203.8a1.0 1.0 0 1 0 2.1 0a1.0 1.0 0 1 0 -2.1 0M1183.4 179.9a1.5 1.5 0 1 0 2.9 0a1.5 1.5 0 1 0 -2.9 0M1385.4 279.9a1.5 1.5 0 1 0 2.9 0a1.5 1.5 0 1 0 -2.9 0M1312.2 292.1a1.3 1.3 0 1 0 2.5 0a1.3 1.3 0 1 0 -2.5 0M1338.5 294.1a1.7 1.7 0 1 0 3.4 0a1.7 1.7 0 1 0 -3.4 0M1418.9 283.7a1.6 1.6 0 1 0 3.3 0a1.6 1.6 0 1 0 -3.3 0M1397.0 344.9a1.7 1.7 0 1 0 3.4 0a1.7 1.7 0 1 0 -3.4 0M1284.4 310.7a1.7 1.7 0 1 0 3.4 0a1.7 1.7 0 1 0 -3.4 0M1350.2 259.3a1.3 1.3 0 1 0 2.6 0a1.3 1.3 0 1 0 -2.6 0M1354.6 254.3a1.1 1.1 0 1 0 2.1 0a1.1 1.1 0 1 0 -2.1 0M1272.6 293.5a1.5 1.5 0 1 0 2.9 0a1.5 1.5 0 1 0 -2.9 0M1294.8 325.5a1.1 1.1 0 1 0 2.1 0a1.1 1.1 0 1 0 -2.1 0M1362.3 214.7a1.2 1.2 0 1 0 2.4 0a1.2 1.2 0 1 0 -2.4 0M1402.7 219.7a1.5 1.5 0 1 0 3.0 0a1.5 1.5 0 1 0 -3.0 0" fill="#30ff90" opacity="0.9" filter="url(#bl1)"/>
<path d="M1114.3 181.8a1.1 1.1 0 1 0 2.1 0a1.1 1.1 0 1 0 -2.1 0M1117.2 84.4a1.4 1.4 0 1 0 2.9 0a1.4 1.4 0 1 0 -2.9 0M1157.1 196.8a1.0 1.0 0 1 0 2.0 0a1.0 1.0 0 1 0 -2.0 0M1131.0 118.7a1.4 1.4 0 1 0 2.8 0a1.4 1.4 0 1 0 -2.8 0M1157.5 138.4a1.1 1.1 0 1 0 2.2 0a1.1 1.1 0 1 0 -2.2 0M1113.2 78.0a1.3 1.3 0 1 0 2.5 0a1.3 1.3 0 1 0 -2.5 0M1169.3 93.7a1.1 1.1 0 1 0 2.2 0a1.1 1.1 0 1 0 -2.2 0M1113.0 177.3a1.1 1.1 0 1 0 2.1 0a1.1 1.1 0 1 0 -2.1 0" fill="#40e0c0" opacity="0.8" filter="url(#bl1)"/>
<ellipse cx="1421.0" cy="131.0" rx="9.0" ry="8.0" fill="#ff8a30" opacity="0.95" filter="url(#bl2)"/>
<ellipse cx="1423.0" cy="129.0" rx="5.0" ry="4.0" fill="#ffe0a0" opacity="0.9" filter="url(#bl1)"/>
<ellipse cx="1418.0" cy="142.0" rx="5.0" ry="2.5" fill="#ff5030" opacity="0.8" filter="url(#bl1)"/>
<ellipse cx="1158.0" cy="114.0" rx="7.0" ry="4.0" fill="#3060d0" opacity="0.8" transform="rotate(-20 1158.0 114.0)" filter="url(#bl1)"/>
</g>
<rect x="1117.7" y="357.0" width="51.6" height="5.6" fill="#fff"/>
<g clip-path="url(#cp_r1k)">
<rect x="1544.7" y="65.8" width="420.7" height="309.7" fill="#000"/>
<path d="M1544.7 65.8C1587.2 46.1 1757.5 62.1 1800.0 65.8C1842.5 69.5 1810.0 83.6 1800.0 88.0C1790.0 92.4 1758.3 90.3 1740.0 92.0C1721.7 93.7 1705.0 95.7 1690.0 98.0C1675.0 100.3 1660.0 103.7 1650.0 106.0C1640.0 108.3 1635.8 108.8 1630.0 112.0C1624.2 115.2 1619.2 119.5 1615.0 125.0C1610.8 130.5 1608.3 139.2 1605.0 145.0C1601.7 150.8 1599.2 155.5 1595.0 160.0C1590.8 164.5 1585.8 168.7 1580.0 172.0C1574.2 175.3 1565.9 178.0 1560.0 180.0C1554.1 182.0 1547.2 203.0 1544.7 184.0C1542.2 165.0 1502.2 85.5 1544.7 65.8Z" fill="#0a1860" opacity="1.0"/>
<path d="M1590.6 202.0C1590.6 185.0 1594.8 162.0 1601.3 147.3C1607.8 132.6 1617.9 123.5 1629.8 114.0C1641.7 104.5 1657.5 96.2 1672.6 90.3C1687.6 84.4 1704.3 80.8 1720.1 78.4C1735.9 76.0 1751.8 74.0 1767.6 76.0C1783.4 78.0 1800.1 84.0 1815.2 90.3C1830.3 96.6 1846.1 104.5 1858.0 114.0C1869.9 123.5 1878.2 134.6 1886.5 147.3C1894.8 160.0 1903.6 176.9 1907.9 190.0C1912.2 203.1 1913.0 213.9 1912.6 225.8C1912.2 237.7 1910.7 249.5 1905.5 261.4C1900.3 273.3 1892.8 286.3 1881.7 297.0C1870.6 307.7 1854.0 319.3 1838.9 325.6C1823.9 331.9 1809.2 334.2 1791.4 335.0C1773.6 335.8 1751.8 333.5 1732.0 330.3C1712.2 327.1 1689.6 323.5 1672.6 316.0C1655.6 308.5 1641.7 296.3 1629.8 285.2C1617.9 274.1 1607.8 263.4 1601.3 249.5C1594.8 235.6 1590.6 219.0 1590.6 202.0Z" fill="#0a1860" opacity="1.0"/>
<g clip-path="url(#ct_r1k_main)"><rect x="1544.7" y="65.8" width="420.7" height="309.7" filter="url(#tx_r1k)" opacity="1.0"/></g>
<g clip-path="url(#ct_r1k_ul)"><rect x="1544.7" y="65.8" width="420.7" height="309.7" filter="url(#tx_r1k2)" opacity="1.0"/></g>
<path d="M1634 104 C1620 120 1608 140 1598 160 C1590 175 1576 186 1548 192" fill="none" stroke="#000" stroke-width="7" filter="url(#bl1)"/>
<ellipse cx="1738.0" cy="216.0" rx="40.0" ry="18.0" fill="#000" opacity="0.85" transform="rotate(-10 1738.0 216.0)" filter="url(#bl4)"/>
<ellipse cx="1828.0" cy="242.0" rx="14.0" ry="16.0" fill="#000" opacity="0.85" filter="url(#bl4)"/>
<ellipse cx="1775.0" cy="255.0" rx="20.0" ry="12.0" fill="#000" opacity="0.85" filter="url(#bl4)"/>
<ellipse cx="1690.0" cy="250.0" rx="20.0" ry="9.0" fill="#000" opacity="0.85" transform="rotate(5 1690.0 250.0)" filter="url(#bl4)"/>
<ellipse cx="1850.0" cy="195.0" rx="16.0" ry="8.0" fill="#000" opacity="0.85" transform="rotate(15 1850.0 195.0)" filter="url(#bl4)"/>
<ellipse cx="1640.0" cy="200.0" rx="12.0" ry="9.0" fill="#000" opacity="0.85" filter="url(#bl4)"/>
<ellipse cx="1760.0" cy="178.0" rx="16.0" ry="8.0" fill="#000" opacity="0.85" filter="url(#bl4)"/>
<ellipse cx="1655.0" cy="300.0" rx="14.0" ry="8.0" fill="#000" opacity="0.85" filter="url(#bl4)"/>
<ellipse cx="1720.0" cy="300.0" rx="12.0" ry="8.0" fill="#000" opacity="0.85" filter="url(#bl4)"/>
<ellipse cx="1805.0" cy="305.0" rx="12.0" ry="8.0" fill="#000" opacity="0.85" filter="url(#bl4)"/>
<path d="M1638.0 129.4a1.7 1.7 0 1 0 3.3 0a1.7 1.7 0 1 0 -3.3 0M1629.4 146.8a2.3 2.3 0 1 0 4.5 0a2.3 2.3 0 1 0 -4.5 0M1625.1 174.5a1.7 1.7 0 1 0 3.4 0a1.7 1.7 0 1 0 -3.4 0M1632.4 145.3a2.1 2.1 0 1 0 4.3 0a2.1 2.1 0 1 0 -4.3 0M1626.7 145.6a2.1 2.1 0 1 0 4.1 0a2.1 2.1 0 1 0 -4.1 0M1625.6 171.7a1.8 1.8 0 1 0 3.5 0a1.8 1.8 0 1 0 -3.5 0M1637.9 143.5a2.3 2.3 0 1 0 4.6 0a2.3 2.3 0 1 0 -4.6 0M1634.7 139.6a1.5 1.5 0 1 0 2.9 0a1.5 1.5 0 1 0 -2.9 0M1641.2 149.8a1.9 1.9 0 1 0 3.8 0a1.9 1.9 0 1 0 -3.8 0M1632.4 147.9a1.9 1.9 0 1 0 3.9 0a1.9 1.9 0 1 0 -3.9 0M1625.2 158.0a1.5 1.5 0 1 0 2.9 0a1.5 1.5 0 1 0 -2.9 0M1636.0 149.5a1.8 1.8 0 1 0 3.6 0a1.8 1.8 0 1 0 -3.6 0M1626.2 169.0a2.4 2.4 0 1 0 4.9 0a2.4 2.4 0 1 0 -4.9 0M1631.1 134.7a1.4 1.4 0 1 0 2.9 0a1.4 1.4 0 1 0 -2.9 0M1640.3 146.7a2.2 2.2 0 1 0 4.4 0a2.2 2.2 0 1 0 -4.4 0M1638.1 143.2a1.6 1.6 0 1 0 3.2 0a1.6 1.6 0 1 0 -3.2 0M1639.1 131.9a1.7 1.7 0 1 0 3.3 0a1.7 1.7 0 1 0 -3.3 0M1624.1 150.4a2.2 2.2 0 1 0 4.4 0a2.2 2.2 0 1 0 -4.4 0M1625.1 160.3a1.9 1.9 0 1 0 3.7 0a1.9 1.9 0 1 0 -3.7 0M1624.6 169.3a2.2 2.2 0 1 0 4.3 0a2.2 2.2 0 1 0 -4.3 0M1641.3 137.4a1.8 1.8 0 1 0 3.5 0a1.8 1.8 0 1 0 -3.5 0M1639.8 143.2a1.8 1.8 0 1 0 3.5 0a1.8 1.8 0 1 0 -3.5 0M1635.6 151.5a2.5 2.5 0 1 0 4.9 0a2.5 2.5 0 1 0 -4.9 0M1629.1 147.9a2.4 2.4 0 1 0 4.8 0a2.4 2.4 0 1 0 -4.8 0M1630.4 159.7a1.5 1.5 0 1 0 3.0 0a1.5 1.5 0 1 0 -3.0 0M1625.5 151.8a2.2 2.2 0 1 0 4.4 0a2.2 2.2 0 1 0 -4.4 0M1633.3 143.9a2.1 2.1 0 1 0 4.2 0a2.1 2.1 0 1 0 -4.2 0M1624.5 168.4a2.6 2.6 0 1 0 5.2 0a2.6 2.6 0 1 0 -5.2 0M1626.6 155.0a2.4 2.4 0 1 0 4.9 0a2.4 2.4 0 1 0 -4.9 0M1640.0 129.2a2.1 2.1 0 1 0 4.3 0a2.1 2.1 0 1 0 -4.3 0M1639.3 143.2a2.1 2.1 0 1 0 4.2 0a2.1 2.1 0 1 0 -4.2 0M1637.4 157.7a2.2 2.2 0 1 0 4.3 0a2.2 2.2 0 1 0 -4.3 0M1639.3 140.7a1.8 1.8 0 1 0 3.6 0a1.8 1.8 0 1 0 -3.6 0M1623.3 151.9a2.2 2.2 0 1 0 4.5 0a2.2 2.2 0 1 0 -4.5 0M1624.5 165.0a2.3 2.3 0 1 0 4.7 0a2.3 2.3 0 1 0 -4.7 0M1626.0 176.3a2.4 2.4 0 1 0 4.9 0a2.4 2.4 0 1 0 -4.9 0M1622.0 177.0a2.6 2.6 0 1 0 5.2 0a2.6 2.6 0 1 0 -5.2 0M1639.6 148.4a2.5 2.5 0 1 0 4.9 0a2.5 2.5 0 1 0 -4.9 0M1636.2 149.9a1.7 1.7 0 1 0 3.3 0a1.7 1.7 0 1 0 -3.3 0M1636.6 151.2a1.7 1.7 0 1 0 3.3 0a1.7 1.7 0 1 0 -3.3 0M1632.4 152.3a1.8 1.8 0 1 0 3.7 0a1.8 1.8 0 1 0 -3.7 0M1623.7 151.2a1.5 1.5 0 1 0 3.0 0a1.5 1.5 0 1 0 -3.0 0M1633.2 158.7a2.0 2.0 0 1 0 4.1 0a2.0 2.0 0 1 0 -4.1 0M1631.0 136.0a1.5 1.5 0 1 0 3.1 0a1.5 1.5 0 1 0 -3.1 0M1638.3 149.5a2.0 2.0 0 1 0 4.1 0a2.0 2.0 0 1 0 -4.1 0M1632.7 149.1a2.3 2.3 0 1 0 4.5 0a2.3 2.3 0 1 0 -4.5 0M1632.3 159.8a1.5 1.5 0 1 0 3.0 0a1.5 1.5 0 1 0 -3.0 0M1640.5 143.7a2.5 2.5 0 1 0 5.0 0a2.5 2.5 0 1 0 -5.0 0M1639.6 128.7a2.0 2.0 0 1 0 4.1 0a2.0 2.0 0 1 0 -4.1 0M1632.5 157.9a2.4 2.4 0 1 0 4.8 0a2.4 2.4 0 1 0 -4.8 0" fill="#ff2a70" opacity="0.85" filter="url(#bl1)"/>
<path d="M1681.0 174.8a2.0 2.0 0 1 0 3.9 0a2.0 2.0 0 1 0 -3.9 0M1678.3 150.4a2.4 2.4 0 1 0 4.8 0a2.4 2.4 0 1 0 -4.8 0M1678.5 126.7a1.5 1.5 0 1 0 3.1 0a1.5 1.5 0 1 0 -3.1 0M1675.8 155.7a1.7 1.7 0 1 0 3.3 0a1.7 1.7 0 1 0 -3.3 0M1684.8 146.0a2.6 2.6 0 1 0 5.1 0a2.6 2.6 0 1 0 -5.1 0M1681.7 152.6a2.3 2.3 0 1 0 4.7 0a2.3 2.3 0 1 0 -4.7 0M1682.7 141.3a1.4 1.4 0 1 0 2.8 0a1.4 1.4 0 1 0 -2.8 0M1681.9 124.6a1.8 1.8 0 1 0 3.6 0a1.8 1.8 0 1 0 -3.6 0M1676.7 162.5a2.6 2.6 0 1 0 5.1 0a2.6 2.6 0 1 0 -5.1 0M1672.2 145.8a2.1 2.1 0 1 0 4.3 0a2.1 2.1 0 1 0 -4.3 0M1679.2 130.5a2.4 2.4 0 1 0 4.9 0a2.4 2.4 0 1 0 -4.9 0M1676.2 138.0a1.6 1.6 0 1 0 3.1 0a1.6 1.6 0 1 0 -3.1 0M1681.8 157.6a1.7 1.7 0 1 0 3.4 0a1.7 1.7 0 1 0 -3.4 0M1673.7 166.8a2.1 2.1 0 1 0 4.2 0a2.1 2.1 0 1 0 -4.2 0M1680.5 123.1a1.5 1.5 0 1 0 3.1 0a1.5 1.5 0 1 0 -3.1 0M1684.0 129.6a1.6 1.6 0 1 0 3.3 0a1.6 1.6 0 1 0 -3.3 0M1678.4 163.6a1.7 1.7 0 1 0 3.5 0a1.7 1.7 0 1 0 -3.5 0M1680.9 128.2a2.3 2.3 0 1 0 4.6 0a2.3 2.3 0 1 0 -4.6 0M1673.0 140.7a2.3 2.3 0 1 0 4.6 0a2.3 2.3 0 1 0 -4.6 0M1679.0 136.5a2.0 2.0 0 1 0 4.0 0a2.0 2.0 0 1 0 -4.0 0M1671.3 165.0a2.5 2.5 0 1 0 5.1 0a2.5 2.5 0 1 0 -5.1 0M1679.4 158.0a2.3 2.3 0 1 0 4.6 0a2.3 2.3 0 1 0 -4.6 0M1679.1 157.7a1.6 1.6 0 1 0 3.2 0a1.6 1.6 0 1 0 -3.2 0M1682.7 141.0a2.6 2.6 0 1 0 5.1 0a2.6 2.6 0 1 0 -5.1 0M1680.5 137.6a1.9 1.9 0 1 0 3.8 0a1.9 1.9 0 1 0 -3.8 0M1681.7 146.9a2.1 2.1 0 1 0 4.2 0a2.1 2.1 0 1 0 -4.2 0M1673.7 146.6a1.8 1.8 0 1 0 3.7 0a1.8 1.8 0 1 0 -3.7 0M1682.0 155.0a1.9 1.9 0 1 0 3.9 0a1.9 1.9 0 1 0 -3.9 0M1681.7 168.5a1.5 1.5 0 1 0 3.0 0a1.5 1.5 0 1 0 -3.0 0M1678.1 163.6a1.5 1.5 0 1 0 3.1 0a1.5 1.5 0 1 0 -3.1 0M1679.1 133.6a1.7 1.7 0 1 0 3.3 0a1.7 1.7 0 1 0 -3.3 0M1682.0 162.5a2.2 2.2 0 1 0 4.5 0a2.2 2.2 0 1 0 -4.5 0M1677.5 129.4a1.7 1.7 0 1 0 3.4 0a1.7 1.7 0 1 0 -3.4 0M1684.8 144.9a1.7 1.7 0 1 0 3.4 0a1.7 1.7 0 1 0 -3.4 0M1678.1 182.7a1.5 1.5 0 1 0 3.0 0a1.5 1.5 0 1 0 -3.0 0M1674.0 160.6a1.7 1.7 0 1 0 3.5 0a1.7 1.7 0 1 0 -3.5 0M1683.9 165.9a2.5 2.5 0 1 0 4.9 0a2.5 2.5 0 1 0 -4.9 0M1679.4 129.1a1.8 1.8 0 1 0 3.6 0a1.8 1.8 0 1 0 -3.6 0M1682.4 157.5a2.6 2.6 0 1 0 5.1 0a2.6 2.6 0 1 0 -5.1 0M1676.0 133.5a1.5 1.5 0 1 0 3.1 0a1.5 1.5 0 1 0 -3.1 0M1686.3 142.6a2.1 2.1 0 1 0 4.1 0a2.1 2.1 0 1 0 -4.1 0M1677.5 140.1a2.2 2.2 0 1 0 4.4 0a2.2 2.2 0 1 0 -4.4 0M1672.0 147.8a2.1 2.1 0 1 0 4.1 0a2.1 2.1 0 1 0 -4.1 0M1678.7 184.0a2.1 2.1 0 1 0 4.3 0a2.1 2.1 0 1 0 -4.3 0M1680.5 167.0a2.4 2.4 0 1 0 4.7 0a2.4 2.4 0 1 0 -4.7 0M1684.3 140.2a2.3 2.3 0 1 0 4.6 0a2.3 2.3 0 1 0 -4.6 0M1676.5 147.2a1.7 1.7 0 1 0 3.4 0a1.7 1.7 0 1 0 -3.4 0M1674.2 148.0a1.6 1.6 0 1 0 3.1 0a1.6 1.6 0 1 0 -3.1 0M1683.0 175.8a1.8 1.8 0 1 0 3.6 0a1.8 1.8 0 1 0 -3.6 0M1686.1 134.9a2.0 2.0 0 1 0 3.9 0a2.0 2.0 0 1 0 -3.9 0M1670.7 157.4a2.6 2.6 0 1 0 5.1 0a2.6 2.6 0 1 0 -5.1 0M1676.1 136.2a1.6 1.6 0 1 0 3.2 0a1.6 1.6 0 1 0 -3.2 0M1677.7 154.6a2.2 2.2 0 1 0 4.5 0a2.2 2.2 0 1 0 -4.5 0M1674.4 144.7a2.3 2.3 0 1 0 4.6 0a2.3 2.3 0 1 0 -4.6 0M1683.0 131.4a2.0 2.0 0 1 0 4.0 0a2.0 2.0 0 1 0 -4.0 0" fill="#ff2a70" opacity="0.85" filter="url(#bl1)"/>
<path d="M1696.0 102.7a2.3 2.3 0 1 0 4.6 0a2.3 2.3 0 1 0 -4.6 0M1691.8 103.9a1.6 1.6 0 1 0 3.1 0a1.6 1.6 0 1 0 -3.1 0M1695.2 103.7a2.2 2.2 0 1 0 4.5 0a2.2 2.2 0 1 0 -4.5 0M1693.1 101.2a2.0 2.0 0 1 0 4.0 0a2.0 2.0 0 1 0 -4.0 0M1696.4 108.8a1.7 1.7 0 1 0 3.4 0a1.7 1.7 0 1 0 -3.4 0M1696.3 104.6a1.5 1.5 0 1 0 3.0 0a1.5 1.5 0 1 0 -3.0 0M1695.1 106.9a1.9 1.9 0 1 0 3.8 0a1.9 1.9 0 1 0 -3.8 0M1696.1 108.8a1.7 1.7 0 1 0 3.4 0a1.7 1.7 0 1 0 -3.4 0" fill="#ff2a70" opacity="0.85" filter="url(#bl1)"/>
<path d="M1707.0 105.3a1.8 1.8 0 1 0 3.7 0a1.8 1.8 0 1 0 -3.7 0M1704.4 117.1a2.5 2.5 0 1 0 4.9 0a2.5 2.5 0 1 0 -4.9 0M1710.4 111.3a2.2 2.2 0 1 0 4.4 0a2.2 2.2 0 1 0 -4.4 0M1707.7 110.7a2.3 2.3 0 1 0 4.7 0a2.3 2.3 0 1 0 -4.7 0M1706.4 110.7a1.5 1.5 0 1 0 3.1 0a1.5 1.5 0 1 0 -3.1 0M1710.4 113.0a2.1 2.1 0 1 0 4.2 0a2.1 2.1 0 1 0 -4.2 0M1710.3 116.3a2.1 2.1 0 1 0 4.3 0a2.1 2.1 0 1 0 -4.3 0M1711.1 109.0a2.0 2.0 0 1 0 4.0 0a2.0 2.0 0 1 0 -4.0 0M1708.4 111.4a1.5 1.5 0 1 0 3.0 0a1.5 1.5 0 1 0 -3.0 0M1711.9 114.9a2.0 2.0 0 1 0 4.0 0a2.0 2.0 0 1 0 -4.0 0M1704.3 109.0a2.5 2.5 0 1 0 5.0 0a2.5 2.5 0 1 0 -5.0 0" fill="#ff2a70" opacity="0.85" filter="url(#bl1)"/>
<path d="M1745.0 113.7a1.9 1.9 0 1 0 3.8 0a1.9 1.9 0 1 0 -3.8 0M1747.5 112.2a2.1 2.1 0 1 0 4.3 0a2.1 2.1 0 1 0 -4.3 0M1746.1 111.1a2.2 2.2 0 1 0 4.4 0a2.2 2.2 0 1 0 -4.4 0M1748.6 110.6a1.9 1.9 0 1 0 3.9 0a1.9 1.9 0 1 0 -3.9 0M1743.7 107.4a1.5 1.5 0 1 0 3.0 0a1.5 1.5 0 1 0 -3.0 0M1745.0 106.4a1.6 1.6 0 1 0 3.1 0a1.6 1.6 0 1 0 -3.1 0M1745.3 111.3a1.7 1.7 0 1 0 3.5 0a1.7 1.7 0 1 0 -3.5 0M1746.5 112.1a2.5 2.5 0 1 0 4.9 0a2.5 2.5 0 1 0 -4.9 0" fill="#ff2a70" opacity="0.85" filter="url(#bl1)"/>
<path d="M1741.9 154.5a2.4 2.4 0 1 0 4.8 0a2.4 2.4 0 1 0 -4.8 0M1742.3 152.5a2.4 2.4 0 1 0 4.8 0a2.4 2.4 0 1 0 -4.8 0M1744.7 150.4a1.9 1.9 0 1 0 3.8 0a1.9 1.9 0 1 0 -3.8 0M1741.7 144.7a2.1 2.1 0 1 0 4.1 0a2.1 2.1 0 1 0 -4.1 0M1741.8 150.3a2.1 2.1 0 1 0 4.3 0a2.1 2.1 0 1 0 -4.3 0M1743.4 141.5a1.7 1.7 0 1 0 3.4 0a1.7 1.7 0 1 0 -3.4 0M1745.7 146.0a2.3 2.3 0 1 0 4.5 0a2.3 2.3 0 1 0 -4.5 0M1743.3 149.9a1.6 1.6 0 1 0 3.3 0a1.6 1.6 0 1 0 -3.3 0M1746.4 145.8a2.1 2.1 0 1 0 4.1 0a2.1 2.1 0 1 0 -4.1 0" fill="#ff2a70" opacity="0.85" filter="url(#bl1)"/>
<path d="M1790.1 136.9a2.3 2.3 0 1 0 4.7 0a2.3 2.3 0 1 0 -4.7 0M1787.9 131.9a2.4 2.4 0 1 0 4.8 0a2.4 2.4 0 1 0 -4.8 0M1794.2 126.0a1.8 1.8 0 1 0 3.5 0a1.8 1.8 0 1 0 -3.5 0M1795.9 147.0a1.9 1.9 0 1 0 3.9 0a1.9 1.9 0 1 0 -3.9 0M1791.2 137.4a2.5 2.5 0 1 0 5.1 0a2.5 2.5 0 1 0 -5.1 0M1796.8 134.3a2.5 2.5 0 1 0 5.0 0a2.5 2.5 0 1 0 -5.0 0M1792.3 114.6a2.0 2.0 0 1 0 4.1 0a2.0 2.0 0 1 0 -4.1 0M1794.8 132.0a1.8 1.8 0 1 0 3.6 0a1.8 1.8 0 1 0 -3.6 0M1788.4 137.2a2.2 2.2 0 1 0 4.4 0a2.2 2.2 0 1 0 -4.4 0M1791.9 129.2a2.5 2.5 0 1 0 5.1 0a2.5 2.5 0 1 0 -5.1 0M1794.4 130.8a2.1 2.1 0 1 0 4.2 0a2.1 2.1 0 1 0 -4.2 0M1794.7 135.9a1.8 1.8 0 1 0 3.6 0a1.8 1.8 0 1 0 -3.6 0M1790.8 136.8a1.8 1.8 0 1 0 3.6 0a1.8 1.8 0 1 0 -3.6 0M1789.3 133.9a1.5 1.5 0 1 0 2.9 0a1.5 1.5 0 1 0 -2.9 0M1790.3 120.4a1.5 1.5 0 1 0 3.1 0a1.5 1.5 0 1 0 -3.1 0M1800.7 137.6a1.8 1.8 0 1 0 3.6 0a1.8 1.8 0 1 0 -3.6 0M1798.9 139.4a2.0 2.0 0 1 0 4.0 0a2.0 2.0 0 1 0 -4.0 0M1788.2 129.8a2.2 2.2 0 1 0 4.5 0a2.2 2.2 0 1 0 -4.5 0M1791.5 134.7a2.0 2.0 0 1 0 4.1 0a2.0 2.0 0 1 0 -4.1 0M1792.2 127.0a2.3 2.3 0 1 0 4.7 0a2.3 2.3 0 1 0 -4.7 0M1793.9 118.7a2.1 2.1 0 1 0 4.2 0a2.1 2.1 0 1 0 -4.2 0M1798.0 132.1a2.4 2.4 0 1 0 4.7 0a2.4 2.4 0 1 0 -4.7 0M1792.5 127.2a2.1 2.1 0 1 0 4.2 0a2.1 2.1 0 1 0 -4.2 0M1799.9 124.1a2.1 2.1 0 1 0 4.2 0a2.1 2.1 0 1 0 -4.2 0M1790.2 142.8a1.6 1.6 0 1 0 3.1 0a1.6 1.6 0 1 0 -3.1 0M1795.8 141.3a2.4 2.4 0 1 0 4.8 0a2.4 2.4 0 1 0 -4.8 0M1793.6 129.3a1.7 1.7 0 1 0 3.5 0a1.7 1.7 0 1 0 -3.5 0M1799.1 141.9a2.3 2.3 0 1 0 4.6 0a2.3 2.3 0 1 0 -4.6 0M1793.8 126.9a2.4 2.4 0 1 0 4.9 0a2.4 2.4 0 1 0 -4.9 0" fill="#ff2a70" opacity="0.85" filter="url(#bl1)"/>
<path d="M1862.5 223.6a1.7 1.7 0 1 0 3.5 0a1.7 1.7 0 1 0 -3.5 0M1837.6 237.4a2.0 2.0 0 1 0 4.1 0a2.0 2.0 0 1 0 -4.1 0M1858.3 224.9a2.0 2.0 0 1 0 3.9 0a2.0 2.0 0 1 0 -3.9 0M1859.3 222.1a1.5 1.5 0 1 0 3.0 0a1.5 1.5 0 1 0 -3.0 0M1863.3 223.3a1.5 1.5 0 1 0 3.0 0a1.5 1.5 0 1 0 -3.0 0M1856.7 231.7a2.2 2.2 0 1 0 4.4 0a2.2 2.2 0 1 0 -4.4 0M1836.4 235.5a1.5 1.5 0 1 0 3.1 0a1.5 1.5 0 1 0 -3.1 0M1856.5 222.8a2.2 2.2 0 1 0 4.5 0a2.2 2.2 0 1 0 -4.5 0M1856.0 226.6a2.5 2.5 0 1 0 4.9 0a2.5 2.5 0 1 0 -4.9 0M1845.3 230.7a2.3 2.3 0 1 0 4.5 0a2.3 2.3 0 1 0 -4.5 0M1859.6 229.2a2.4 2.4 0 1 0 4.8 0a2.4 2.4 0 1 0 -4.8 0M1855.6 234.8a1.4 1.4 0 1 0 2.8 0a1.4 1.4 0 1 0 -2.8 0M1844.2 234.1a2.4 2.4 0 1 0 4.9 0a2.4 2.4 0 1 0 -4.9 0M1854.1 233.0a1.7 1.7 0 1 0 3.4 0a1.7 1.7 0 1 0 -3.4 0M1848.6 226.3a2.0 2.0 0 1 0 4.0 0a2.0 2.0 0 1 0 -4.0 0M1859.6 219.5a1.8 1.8 0 1 0 3.6 0a1.8 1.8 0 1 0 -3.6 0M1843.3 226.7a1.7 1.7 0 1 0 3.4 0a1.7 1.7 0 1 0 -3.4 0M1855.2 232.5a2.2 2.2 0 1 0 4.4 0a2.2 2.2 0 1 0 -4.4 0M1843.4 228.3a2.4 2.4 0 1 0 4.8 0a2.4 2.4 0 1 0 -4.8 0M1863.6 226.5a1.9 1.9 0 1 0 3.8 0a1.9 1.9 0 1 0 -3.8 0M1852.3 221.7a2.5 2.5 0 1 0 4.9 0a2.5 2.5 0 1 0 -4.9 0M1837.3 231.1a2.1 2.1 0 1 0 4.2 0a2.1 2.1 0 1 0 -4.2 0M1847.3 222.1a1.9 1.9 0 1 0 3.9 0a1.9 1.9 0 1 0 -3.9 0M1847.8 228.8a1.5 1.5 0 1 0 3.1 0a1.5 1.5 0 1 0 -3.1 0M1843.2 234.2a1.6 1.6 0 1 0 3.2 0a1.6 1.6 0 1 0 -3.2 0M1863.2 224.5a1.5 1.5 0 1 0 2.9 0a1.5 1.5 0 1 0 -2.9 0M1849.8 229.1a2.6 2.6 0 1 0 5.2 0a2.6 2.6 0 1 0 -5.2 0M1847.1 238.1a2.1 2.1 0 1 0 4.2 0a2.1 2.1 0 1 0 -4.2 0M1862.7 227.4a2.4 2.4 0 1 0 4.8 0a2.4 2.4 0 1 0 -4.8 0" fill="#ff2a70" opacity="0.85" filter="url(#bl1)"/>
<path d="M1649.3 285.6a1.5 1.5 0 1 0 2.9 0a1.5 1.5 0 1 0 -2.9 0M1640.7 271.4a2.5 2.5 0 1 0 5.0 0a2.5 2.5 0 1 0 -5.0 0M1653.9 275.6a2.1 2.1 0 1 0 4.2 0a2.1 2.1 0 1 0 -4.2 0M1647.7 278.6a1.7 1.7 0 1 0 3.4 0a1.7 1.7 0 1 0 -3.4 0M1641.8 278.8a1.4 1.4 0 1 0 2.8 0a1.4 1.4 0 1 0 -2.8 0M1639.5 280.6a2.2 2.2 0 1 0 4.3 0a2.2 2.2 0 1 0 -4.3 0M1639.6 278.5a2.2 2.2 0 1 0 4.5 0a2.2 2.2 0 1 0 -4.5 0M1652.3 272.4a2.0 2.0 0 1 0 4.0 0a2.0 2.0 0 1 0 -4.0 0M1643.6 271.9a1.6 1.6 0 1 0 3.1 0a1.6 1.6 0 1 0 -3.1 0M1646.2 277.3a1.6 1.6 0 1 0 3.1 0a1.6 1.6 0 1 0 -3.1 0M1649.2 278.5a1.9 1.9 0 1 0 3.7 0a1.9 1.9 0 1 0 -3.7 0M1642.4 285.3a1.5 1.5 0 1 0 2.9 0a1.5 1.5 0 1 0 -2.9 0M1645.3 277.9a1.7 1.7 0 1 0 3.4 0a1.7 1.7 0 1 0 -3.4 0M1644.2 271.5a2.3 2.3 0 1 0 4.6 0a2.3 2.3 0 1 0 -4.6 0M1640.9 270.0a1.9 1.9 0 1 0 3.7 0a1.9 1.9 0 1 0 -3.7 0M1646.7 274.9a2.2 2.2 0 1 0 4.5 0a2.2 2.2 0 1 0 -4.5 0M1639.8 284.8a1.8 1.8 0 1 0 3.6 0a1.8 1.8 0 1 0 -3.6 0M1651.2 277.9a1.5 1.5 0 1 0 3.0 0a1.5 1.5 0 1 0 -3.0 0M1648.3 283.6a1.4 1.4 0 1 0 2.9 0a1.4 1.4 0 1 0 -2.9 0M1647.5 272.4a1.6 1.6 0 1 0 3.2 0a1.6 1.6 0 1 0 -3.2 0M1642.9 284.5a2.3 2.3 0 1 0 4.7 0a2.3 2.3 0 1 0 -4.7 0M1636.5 278.5a2.1 2.1 0 1 0 4.2 0a2.1 2.1 0 1 0 -4.2 0M1639.3 278.4a2.5 2.5 0 1 0 5.0 0a2.5 2.5 0 1 0 -5.0 0M1652.4 275.0a1.6 1.6 0 1 0 3.2 0a1.6 1.6 0 1 0 -3.2 0" fill="#ff2a70" opacity="0.85" filter="url(#bl1)"/>
<path d="M1683.1 288.1a2.1 2.1 0 1 0 4.2 0a2.1 2.1 0 1 0 -4.2 0M1685.6 303.0a2.4 2.4 0 1 0 4.9 0a2.4 2.4 0 1 0 -4.9 0M1685.3 283.9a1.7 1.7 0 1 0 3.4 0a1.7 1.7 0 1 0 -3.4 0M1692.4 292.7a2.4 2.4 0 1 0 4.7 0a2.4 2.4 0 1 0 -4.7 0M1677.3 288.6a2.1 2.1 0 1 0 4.1 0a2.1 2.1 0 1 0 -4.1 0M1689.5 295.0a2.0 2.0 0 1 0 4.0 0a2.0 2.0 0 1 0 -4.0 0M1676.9 292.4a1.8 1.8 0 1 0 3.6 0a1.8 1.8 0 1 0 -3.6 0M1686.8 303.7a1.5 1.5 0 1 0 2.9 0a1.5 1.5 0 1 0 -2.9 0M1682.5 309.3a1.5 1.5 0 1 0 3.0 0a1.5 1.5 0 1 0 -3.0 0M1684.0 307.3a1.8 1.8 0 1 0 3.6 0a1.8 1.8 0 1 0 -3.6 0M1690.7 297.5a2.3 2.3 0 1 0 4.6 0a2.3 2.3 0 1 0 -4.6 0M1677.5 293.8a1.9 1.9 0 1 0 3.7 0a1.9 1.9 0 1 0 -3.7 0M1684.8 285.0a1.4 1.4 0 1 0 2.9 0a1.4 1.4 0 1 0 -2.9 0M1684.9 290.2a1.5 1.5 0 1 0 2.9 0a1.5 1.5 0 1 0 -2.9 0M1677.9 307.3a1.5 1.5 0 1 0 3.0 0a1.5 1.5 0 1 0 -3.0 0M1686.7 291.2a1.9 1.9 0 1 0 3.8 0a1.9 1.9 0 1 0 -3.8 0M1685.6 304.3a2.3 2.3 0 1 0 4.7 0a2.3 2.3 0 1 0 -4.7 0M1688.3 303.5a2.1 2.1 0 1 0 4.1 0a2.1 2.1 0 1 0 -4.1 0M1684.1 307.0a2.5 2.5 0 1 0 4.9 0a2.5 2.5 0 1 0 -4.9 0M1676.2 301.7a1.6 1.6 0 1 0 3.3 0a1.6 1.6 0 1 0 -3.3 0M1686.4 305.9a1.6 1.6 0 1 0 3.2 0a1.6 1.6 0 1 0 -3.2 0M1685.7 303.5a1.9 1.9 0 1 0 3.7 0a1.9 1.9 0 1 0 -3.7 0M1685.4 301.4a1.8 1.8 0 1 0 3.6 0a1.8 1.8 0 1 0 -3.6 0M1686.6 305.6a1.9 1.9 0 1 0 3.7 0a1.9 1.9 0 1 0 -3.7 0M1675.3 293.0a1.8 1.8 0 1 0 3.7 0a1.8 1.8 0 1 0 -3.7 0M1689.6 294.4a2.3 2.3 0 1 0 4.7 0a2.3 2.3 0 1 0 -4.7 0M1687.4 308.3a2.5 2.5 0 1 0 4.9 0a2.5 2.5 0 1 0 -4.9 0M1686.9 297.9a2.4 2.4 0 1 0 4.9 0a2.4 2.4 0 1 0 -4.9 0M1691.5 303.2a2.3 2.3 0 1 0 4.7 0a2.3 2.3 0 1 0 -4.7 0M1688.2 294.9a1.4 1.4 0 1 0 2.9 0a1.4 1.4 0 1 0 -2.9 0M1683.9 306.6a1.9 1.9 0 1 0 3.9 0a1.9 1.9 0 1 0 -3.9 0M1687.3 284.4a2.5 2.5 0 1 0 5.1 0a2.5 2.5 0 1 0 -5.1 0" fill="#ff2a70" opacity="0.85" filter="url(#bl1)"/>
<path d="M1746.8 313.6a1.9 1.9 0 1 0 3.7 0a1.9 1.9 0 1 0 -3.7 0M1758.1 312.5a1.7 1.7 0 1 0 3.4 0a1.7 1.7 0 1 0 -3.4 0M1753.5 303.2a1.5 1.5 0 1 0 3.0 0a1.5 1.5 0 1 0 -3.0 0M1755.0 312.6a2.5 2.5 0 1 0 4.9 0a2.5 2.5 0 1 0 -4.9 0M1757.8 310.1a1.7 1.7 0 1 0 3.4 0a1.7 1.7 0 1 0 -3.4 0M1746.3 311.5a1.6 1.6 0 1 0 3.1 0a1.6 1.6 0 1 0 -3.1 0M1765.8 311.1a1.5 1.5 0 1 0 3.1 0a1.5 1.5 0 1 0 -3.1 0M1759.1 301.3a2.5 2.5 0 1 0 5.0 0a2.5 2.5 0 1 0 -5.0 0M1747.6 315.5a1.9 1.9 0 1 0 3.8 0a1.9 1.9 0 1 0 -3.8 0M1759.6 317.2a1.6 1.6 0 1 0 3.2 0a1.6 1.6 0 1 0 -3.2 0M1749.1 316.6a2.3 2.3 0 1 0 4.5 0a2.3 2.3 0 1 0 -4.5 0M1751.3 311.1a1.6 1.6 0 1 0 3.2 0a1.6 1.6 0 1 0 -3.2 0M1748.2 308.8a1.8 1.8 0 1 0 3.6 0a1.8 1.8 0 1 0 -3.6 0M1766.9 313.5a1.9 1.9 0 1 0 3.8 0a1.9 1.9 0 1 0 -3.8 0M1764.4 313.9a2.6 2.6 0 1 0 5.1 0a2.6 2.6 0 1 0 -5.1 0M1751.8 312.6a1.9 1.9 0 1 0 3.8 0a1.9 1.9 0 1 0 -3.8 0M1749.0 317.5a2.6 2.6 0 1 0 5.1 0a2.6 2.6 0 1 0 -5.1 0M1752.9 304.4a2.3 2.3 0 1 0 4.5 0a2.3 2.3 0 1 0 -4.5 0M1767.1 314.4a2.2 2.2 0 1 0 4.5 0a2.2 2.2 0 1 0 -4.5 0M1757.4 309.4a2.2 2.2 0 1 0 4.4 0a2.2 2.2 0 1 0 -4.4 0M1759.4 312.6a1.6 1.6 0 1 0 3.1 0a1.6 1.6 0 1 0 -3.1 0M1760.6 305.0a1.6 1.6 0 1 0 3.3 0a1.6 1.6 0 1 0 -3.3 0M1763.0 312.8a2.0 2.0 0 1 0 4.0 0a2.0 2.0 0 1 0 -4.0 0M1755.3 316.4a2.2 2.2 0 1 0 4.4 0a2.2 2.2 0 1 0 -4.4 0M1758.4 312.1a2.4 2.4 0 1 0 4.9 0a2.4 2.4 0 1 0 -4.9 0M1743.3 308.1a2.5 2.5 0 1 0 5.0 0a2.5 2.5 0 1 0 -5.0 0M1760.0 306.1a1.6 1.6 0 1 0 3.2 0a1.6 1.6 0 1 0 -3.2 0M1752.9 304.2a2.2 2.2 0 1 0 4.5 0a2.2 2.2 0 1 0 -4.5 0M1765.5 312.7a1.9 1.9 0 1 0 3.7 0a1.9 1.9 0 1 0 -3.7 0M1751.0 314.9a1.7 1.7 0 1 0 3.3 0a1.7 1.7 0 1 0 -3.3 0" fill="#ff2a70" opacity="0.85" filter="url(#bl1)"/>
<path d="M1771.8 268.8a2.0 2.0 0 1 0 4.0 0a2.0 2.0 0 1 0 -4.0 0M1769.5 271.6a2.3 2.3 0 1 0 4.6 0a2.3 2.3 0 1 0 -4.6 0M1759.2 276.5a1.4 1.4 0 1 0 2.8 0a1.4 1.4 0 1 0 -2.8 0M1767.2 264.1a2.0 2.0 0 1 0 4.0 0a2.0 2.0 0 1 0 -4.0 0M1772.8 275.0a2.4 2.4 0 1 0 4.8 0a2.4 2.4 0 1 0 -4.8 0M1759.4 277.1a2.1 2.1 0 1 0 4.2 0a2.1 2.1 0 1 0 -4.2 0M1758.3 264.5a2.0 2.0 0 1 0 4.0 0a2.0 2.0 0 1 0 -4.0 0M1776.0 272.9a1.5 1.5 0 1 0 2.9 0a1.5 1.5 0 1 0 -2.9 0M1770.5 275.4a2.4 2.4 0 1 0 4.8 0a2.4 2.4 0 1 0 -4.8 0M1754.8 266.7a1.7 1.7 0 1 0 3.3 0a1.7 1.7 0 1 0 -3.3 0M1757.0 264.7a1.7 1.7 0 1 0 3.3 0a1.7 1.7 0 1 0 -3.3 0M1774.7 264.3a2.5 2.5 0 1 0 5.0 0a2.5 2.5 0 1 0 -5.0 0M1774.7 263.6a1.4 1.4 0 1 0 2.9 0a1.4 1.4 0 1 0 -2.9 0M1774.5 266.4a2.5 2.5 0 1 0 4.9 0a2.5 2.5 0 1 0 -4.9 0M1766.1 268.3a1.8 1.8 0 1 0 3.7 0a1.8 1.8 0 1 0 -3.7 0M1767.7 271.9a1.5 1.5 0 1 0 2.9 0a1.5 1.5 0 1 0 -2.9 0M1772.9 259.4a2.0 2.0 0 1 0 4.0 0a2.0 2.0 0 1 0 -4.0 0M1774.0 273.6a2.0 2.0 0 1 0 4.0 0a2.0 2.0 0 1 0 -4.0 0M1764.0 277.7a1.4 1.4 0 1 0 2.8 0a1.4 1.4 0 1 0 -2.8 0M1760.8 264.3a2.3 2.3 0 1 0 4.7 0a2.3 2.3 0 1 0 -4.7 0M1764.6 278.4a1.4 1.4 0 1 0 2.9 0a1.4 1.4 0 1 0 -2.9 0M1759.2 257.4a2.4 2.4 0 1 0 4.8 0a2.4 2.4 0 1 0 -4.8 0M1762.5 278.3a2.3 2.3 0 1 0 4.6 0a2.3 2.3 0 1 0 -4.6 0M1773.6 272.2a2.5 2.5 0 1 0 4.9 0a2.5 2.5 0 1 0 -4.9 0M1771.8 275.6a2.2 2.2 0 1 0 4.4 0a2.2 2.2 0 1 0 -4.4 0M1760.3 271.8a1.9 1.9 0 1 0 3.7 0a1.9 1.9 0 1 0 -3.7 0M1772.4 259.5a1.6 1.6 0 1 0 3.1 0a1.6 1.6 0 1 0 -3.1 0M1763.6 279.2a2.4 2.4 0 1 0 4.7 0a2.4 2.4 0 1 0 -4.7 0M1767.0 274.7a2.4 2.4 0 1 0 4.9 0a2.4 2.4 0 1 0 -4.9 0M1757.7 261.8a2.1 2.1 0 1 0 4.3 0a2.1 2.1 0 1 0 -4.3 0M1759.5 274.9a2.0 2.0 0 1 0 3.9 0a2.0 2.0 0 1 0 -3.9 0M1768.5 276.6a2.2 2.2 0 1 0 4.3 0a2.2 2.2 0 1 0 -4.3 0" fill="#ff2a70" opacity="0.85" filter="url(#bl1)"/>
<path d="M1616.2 205.0a1.7 1.7 0 1 0 3.4 0a1.7 1.7 0 1 0 -3.4 0M1605.6 208.0a1.7 1.7 0 1 0 3.5 0a1.7 1.7 0 1 0 -3.5 0M1615.7 197.3a1.4 1.4 0 1 0 2.8 0a1.4 1.4 0 1 0 -2.8 0M1614.7 205.0a2.0 2.0 0 1 0 4.0 0a2.0 2.0 0 1 0 -4.0 0M1615.0 201.5a2.3 2.3 0 1 0 4.6 0a2.3 2.3 0 1 0 -4.6 0M1615.3 206.0a1.8 1.8 0 1 0 3.6 0a1.8 1.8 0 1 0 -3.6 0M1618.6 202.0a2.2 2.2 0 1 0 4.4 0a2.2 2.2 0 1 0 -4.4 0M1601.9 204.0a1.7 1.7 0 1 0 3.3 0a1.7 1.7 0 1 0 -3.3 0M1604.1 197.9a2.0 2.0 0 1 0 4.0 0a2.0 2.0 0 1 0 -4.0 0M1604.8 201.1a1.7 1.7 0 1 0 3.4 0a1.7 1.7 0 1 0 -3.4 0M1610.5 205.7a2.1 2.1 0 1 0 4.1 0a2.1 2.1 0 1 0 -4.1 0M1610.9 204.1a1.9 1.9 0 1 0 3.8 0a1.9 1.9 0 1 0 -3.8 0M1612.5 196.4a2.1 2.1 0 1 0 4.1 0a2.1 2.1 0 1 0 -4.1 0M1611.4 197.0a2.2 2.2 0 1 0 4.3 0a2.2 2.2 0 1 0 -4.3 0M1610.1 198.4a1.5 1.5 0 1 0 3.0 0a1.5 1.5 0 1 0 -3.0 0M1622.7 202.0a1.4 1.4 0 1 0 2.9 0a1.4 1.4 0 1 0 -2.9 0M1606.4 201.3a2.6 2.6 0 1 0 5.2 0a2.6 2.6 0 1 0 -5.2 0M1604.0 204.7a2.1 2.1 0 1 0 4.2 0a2.1 2.1 0 1 0 -4.2 0M1608.2 207.9a1.7 1.7 0 1 0 3.4 0a1.7 1.7 0 1 0 -3.4 0M1609.7 197.2a1.8 1.8 0 1 0 3.6 0a1.8 1.8 0 1 0 -3.6 0M1615.3 200.3a2.4 2.4 0 1 0 4.7 0a2.4 2.4 0 1 0 -4.7 0M1616.4 197.3a1.7 1.7 0 1 0 3.4 0a1.7 1.7 0 1 0 -3.4 0M1605.2 200.9a2.3 2.3 0 1 0 4.6 0a2.3 2.3 0 1 0 -4.6 0" fill="#ff2a70" opacity="0.85" filter="url(#bl1)"/>
<path d="M1630.4 240.3a2.1 2.1 0 1 0 4.2 0a2.1 2.1 0 1 0 -4.2 0M1631.8 249.9a2.4 2.4 0 1 0 4.9 0a2.4 2.4 0 1 0 -4.9 0M1631.9 237.6a1.7 1.7 0 1 0 3.4 0a1.7 1.7 0 1 0 -3.4 0M1635.9 243.2a2.4 2.4 0 1 0 4.7 0a2.4 2.4 0 1 0 -4.7 0M1627.0 240.6a2.1 2.1 0 1 0 4.1 0a2.1 2.1 0 1 0 -4.1 0M1634.3 244.7a2.0 2.0 0 1 0 4.0 0a2.0 2.0 0 1 0 -4.0 0M1626.8 243.1a1.8 1.8 0 1 0 3.6 0a1.8 1.8 0 1 0 -3.6 0M1632.9 250.3a1.5 1.5 0 1 0 2.9 0a1.5 1.5 0 1 0 -2.9 0M1630.3 253.9a1.5 1.5 0 1 0 3.0 0a1.5 1.5 0 1 0 -3.0 0M1631.1 252.6a1.8 1.8 0 1 0 3.6 0a1.8 1.8 0 1 0 -3.6 0M1634.9 246.4a2.3 2.3 0 1 0 4.6 0a2.3 2.3 0 1 0 -4.6 0M1627.2 244.0a1.9 1.9 0 1 0 3.7 0a1.9 1.9 0 1 0 -3.7 0M1631.7 238.3a1.4 1.4 0 1 0 2.9 0a1.4 1.4 0 1 0 -2.9 0M1631.7 241.6a1.5 1.5 0 1 0 2.9 0a1.5 1.5 0 1 0 -2.9 0" fill="#ff2a70" opacity="0.85" filter="url(#bl1)"/>
<path d="M1793.5 213.3a2.1 2.1 0 1 0 4.1 0a2.1 2.1 0 1 0 -4.1 0M1796.0 192.8a1.9 1.9 0 1 0 3.8 0a1.9 1.9 0 1 0 -3.8 0M1786.6 188.9a2.3 2.3 0 1 0 4.6 0a2.3 2.3 0 1 0 -4.6 0M1782.3 203.4a1.6 1.6 0 1 0 3.2 0a1.6 1.6 0 1 0 -3.2 0M1787.6 208.3a2.0 2.0 0 1 0 3.9 0a2.0 2.0 0 1 0 -3.9 0M1792.2 213.4a2.2 2.2 0 1 0 4.4 0a2.2 2.2 0 1 0 -4.4 0M1785.2 200.8a2.1 2.1 0 1 0 4.2 0a2.1 2.1 0 1 0 -4.2 0M1782.9 203.7a1.8 1.8 0 1 0 3.6 0a1.8 1.8 0 1 0 -3.6 0M1799.6 207.0a1.5 1.5 0 1 0 2.9 0a1.5 1.5 0 1 0 -2.9 0M1781.5 204.1a2.5 2.5 0 1 0 5.1 0a2.5 2.5 0 1 0 -5.1 0M1787.6 213.6a2.1 2.1 0 1 0 4.2 0a2.1 2.1 0 1 0 -4.2 0M1796.2 209.9a1.9 1.9 0 1 0 3.9 0a1.9 1.9 0 1 0 -3.9 0M1790.1 191.5a2.2 2.2 0 1 0 4.5 0a2.2 2.2 0 1 0 -4.5 0M1792.7 203.2a1.8 1.8 0 1 0 3.7 0a1.8 1.8 0 1 0 -3.7 0M1792.9 214.1a2.3 2.3 0 1 0 4.7 0a2.3 2.3 0 1 0 -4.7 0M1798.6 213.9a1.4 1.4 0 1 0 2.8 0a1.4 1.4 0 1 0 -2.8 0M1790.2 194.8a2.5 2.5 0 1 0 4.9 0a2.5 2.5 0 1 0 -4.9 0M1792.0 213.6a1.6 1.6 0 1 0 3.2 0a1.6 1.6 0 1 0 -3.2 0M1781.0 207.3a2.5 2.5 0 1 0 5.0 0a2.5 2.5 0 1 0 -5.0 0M1784.0 197.7a2.3 2.3 0 1 0 4.7 0a2.3 2.3 0 1 0 -4.7 0M1798.9 208.1a2.3 2.3 0 1 0 4.6 0a2.3 2.3 0 1 0 -4.6 0M1787.3 190.7a2.4 2.4 0 1 0 4.7 0a2.4 2.4 0 1 0 -4.7 0M1789.2 218.3a2.5 2.5 0 1 0 4.9 0a2.5 2.5 0 1 0 -4.9 0M1785.3 202.0a1.7 1.7 0 1 0 3.5 0a1.7 1.7 0 1 0 -3.5 0M1797.7 191.3a2.1 2.1 0 1 0 4.2 0a2.1 2.1 0 1 0 -4.2 0M1796.1 189.8a2.3 2.3 0 1 0 4.7 0a2.3 2.3 0 1 0 -4.7 0M1791.4 195.3a1.7 1.7 0 1 0 3.4 0a1.7 1.7 0 1 0 -3.4 0M1785.0 199.4a2.0 2.0 0 1 0 4.1 0a2.0 2.0 0 1 0 -4.1 0M1794.6 216.0a1.4 1.4 0 1 0 2.9 0a1.4 1.4 0 1 0 -2.9 0M1781.8 207.6a2.5 2.5 0 1 0 5.1 0a2.5 2.5 0 1 0 -5.1 0M1789.0 206.4a1.7 1.7 0 1 0 3.4 0a1.7 1.7 0 1 0 -3.4 0M1789.9 189.5a2.3 2.3 0 1 0 4.7 0a2.3 2.3 0 1 0 -4.7 0M1797.7 213.5a1.6 1.6 0 1 0 3.2 0a1.6 1.6 0 1 0 -3.2 0M1784.1 199.1a1.6 1.6 0 1 0 3.2 0a1.6 1.6 0 1 0 -3.2 0M1788.2 207.4a1.7 1.7 0 1 0 3.4 0a1.7 1.7 0 1 0 -3.4 0M1791.9 215.0a2.4 2.4 0 1 0 4.7 0a2.4 2.4 0 1 0 -4.7 0M1798.8 209.7a2.5 2.5 0 1 0 5.1 0a2.5 2.5 0 1 0 -5.1 0M1797.5 195.3a2.0 2.0 0 1 0 4.1 0a2.0 2.0 0 1 0 -4.1 0M1787.1 216.1a2.5 2.5 0 1 0 5.0 0a2.5 2.5 0 1 0 -5.0 0" fill="#ff2a70" opacity="0.85" filter="url(#bl1)"/>
<path d="M1871.7 195.4a1.5 1.5 0 1 0 3.1 0a1.5 1.5 0 1 0 -3.1 0M1867.0 185.7a1.5 1.5 0 1 0 3.0 0a1.5 1.5 0 1 0 -3.0 0M1870.6 197.6a2.4 2.4 0 1 0 4.8 0a2.4 2.4 0 1 0 -4.8 0M1880.8 183.4a2.0 2.0 0 1 0 4.0 0a2.0 2.0 0 1 0 -4.0 0M1876.0 176.6a1.9 1.9 0 1 0 3.8 0a1.9 1.9 0 1 0 -3.8 0M1875.9 200.0a2.6 2.6 0 1 0 5.2 0a2.6 2.6 0 1 0 -5.2 0M1872.1 186.0a2.0 2.0 0 1 0 3.9 0a2.0 2.0 0 1 0 -3.9 0M1875.1 192.2a2.4 2.4 0 1 0 4.9 0a2.4 2.4 0 1 0 -4.9 0M1878.2 193.4a2.5 2.5 0 1 0 4.9 0a2.5 2.5 0 1 0 -4.9 0M1867.8 184.9a1.9 1.9 0 1 0 3.8 0a1.9 1.9 0 1 0 -3.8 0M1876.4 190.6a2.4 2.4 0 1 0 4.7 0a2.4 2.4 0 1 0 -4.7 0M1877.7 179.8a2.3 2.3 0 1 0 4.6 0a2.3 2.3 0 1 0 -4.6 0M1866.0 186.3a2.2 2.2 0 1 0 4.3 0a2.2 2.2 0 1 0 -4.3 0M1871.1 180.6a1.9 1.9 0 1 0 3.9 0a1.9 1.9 0 1 0 -3.9 0M1868.6 178.9a2.0 2.0 0 1 0 4.1 0a2.0 2.0 0 1 0 -4.1 0M1867.3 189.7a2.2 2.2 0 1 0 4.3 0a2.2 2.2 0 1 0 -4.3 0M1871.0 196.9a1.4 1.4 0 1 0 2.9 0a1.4 1.4 0 1 0 -2.9 0M1876.6 181.3a1.5 1.5 0 1 0 3.0 0a1.5 1.5 0 1 0 -3.0 0M1881.9 190.0a1.4 1.4 0 1 0 2.8 0a1.4 1.4 0 1 0 -2.8 0M1878.6 176.1a1.5 1.5 0 1 0 3.0 0a1.5 1.5 0 1 0 -3.0 0M1882.0 187.6a1.8 1.8 0 1 0 3.6 0a1.8 1.8 0 1 0 -3.6 0M1876.7 185.2a1.5 1.5 0 1 0 2.9 0a1.5 1.5 0 1 0 -2.9 0M1872.2 183.3a2.2 2.2 0 1 0 4.5 0a2.2 2.2 0 1 0 -4.5 0M1882.3 188.6a1.4 1.4 0 1 0 2.9 0a1.4 1.4 0 1 0 -2.9 0M1870.8 192.2a1.5 1.5 0 1 0 2.9 0a1.5 1.5 0 1 0 -2.9 0M1877.1 185.3a2.2 2.2 0 1 0 4.3 0a2.2 2.2 0 1 0 -4.3 0" fill="#ff2a70" opacity="0.85" filter="url(#bl1)"/>
<path d="M1710.6 294.7a2.1 2.1 0 1 0 4.3 0a2.1 2.1 0 1 0 -4.3 0M1711.2 292.3a2.0 2.0 0 1 0 4.1 0a2.0 2.0 0 1 0 -4.1 0M1722.1 293.6a2.4 2.4 0 1 0 4.9 0a2.4 2.4 0 1 0 -4.9 0M1712.9 294.0a2.3 2.3 0 1 0 4.7 0a2.3 2.3 0 1 0 -4.7 0M1725.4 296.3a1.9 1.9 0 1 0 3.7 0a1.9 1.9 0 1 0 -3.7 0M1723.6 300.9a1.5 1.5 0 1 0 3.1 0a1.5 1.5 0 1 0 -3.1 0M1715.5 300.6a1.9 1.9 0 1 0 3.9 0a1.9 1.9 0 1 0 -3.9 0M1723.5 294.7a2.0 2.0 0 1 0 4.0 0a2.0 2.0 0 1 0 -4.0 0M1722.3 303.1a2.5 2.5 0 1 0 5.0 0a2.5 2.5 0 1 0 -5.0 0M1717.6 291.9a2.4 2.4 0 1 0 4.8 0a2.4 2.4 0 1 0 -4.8 0M1723.2 298.8a2.2 2.2 0 1 0 4.4 0a2.2 2.2 0 1 0 -4.4 0M1724.8 291.9a2.2 2.2 0 1 0 4.4 0a2.2 2.2 0 1 0 -4.4 0M1725.1 297.0a2.3 2.3 0 1 0 4.6 0a2.3 2.3 0 1 0 -4.6 0M1719.0 300.1a1.8 1.8 0 1 0 3.5 0a1.8 1.8 0 1 0 -3.5 0M1715.4 299.8a2.3 2.3 0 1 0 4.7 0a2.3 2.3 0 1 0 -4.7 0M1724.1 292.4a1.6 1.6 0 1 0 3.1 0a1.6 1.6 0 1 0 -3.1 0M1717.5 302.5a2.3 2.3 0 1 0 4.5 0a2.3 2.3 0 1 0 -4.5 0M1719.9 293.0a2.3 2.3 0 1 0 4.5 0a2.3 2.3 0 1 0 -4.5 0M1724.1 299.7a2.3 2.3 0 1 0 4.7 0a2.3 2.3 0 1 0 -4.7 0M1726.7 294.5a1.4 1.4 0 1 0 2.9 0a1.4 1.4 0 1 0 -2.9 0" fill="#ff2a70" opacity="0.85" filter="url(#bl1)"/>
<path d="M1829.4 122.6a2.5 2.5 0 1 0 5.0 0a2.5 2.5 0 1 0 -5.0 0M1833.2 121.5a2.2 2.2 0 1 0 4.5 0a2.2 2.2 0 1 0 -4.5 0M1826.9 118.4a1.8 1.8 0 1 0 3.7 0a1.8 1.8 0 1 0 -3.7 0M1828.1 115.6a2.5 2.5 0 1 0 4.9 0a2.5 2.5 0 1 0 -4.9 0M1831.2 124.8a1.6 1.6 0 1 0 3.1 0a1.6 1.6 0 1 0 -3.1 0M1823.6 122.8a1.8 1.8 0 1 0 3.7 0a1.8 1.8 0 1 0 -3.7 0M1828.0 121.1a1.5 1.5 0 1 0 3.1 0a1.5 1.5 0 1 0 -3.1 0M1824.7 120.0a1.9 1.9 0 1 0 3.9 0a1.9 1.9 0 1 0 -3.9 0M1832.9 122.5a2.3 2.3 0 1 0 4.7 0a2.3 2.3 0 1 0 -4.7 0M1826.2 123.7a2.1 2.1 0 1 0 4.3 0a2.1 2.1 0 1 0 -4.3 0M1826.9 121.8a2.4 2.4 0 1 0 4.8 0a2.4 2.4 0 1 0 -4.8 0" fill="#ff2a70" opacity="0.85" filter="url(#bl1)"/>
<path d="M1595.7 231.3a1.9 1.9 0 1 0 3.7 0a1.9 1.9 0 1 0 -3.7 0M1595.2 226.4a2.0 2.0 0 1 0 3.9 0a2.0 2.0 0 1 0 -3.9 0M1598.5 229.9a1.9 1.9 0 1 0 3.7 0a1.9 1.9 0 1 0 -3.7 0M1599.1 236.2a2.2 2.2 0 1 0 4.4 0a2.2 2.2 0 1 0 -4.4 0M1596.2 222.9a1.9 1.9 0 1 0 3.7 0a1.9 1.9 0 1 0 -3.7 0M1595.4 233.6a2.5 2.5 0 1 0 5.0 0a2.5 2.5 0 1 0 -5.0 0M1599.3 234.2a1.4 1.4 0 1 0 2.9 0a1.4 1.4 0 1 0 -2.9 0M1596.3 236.3a1.9 1.9 0 1 0 3.9 0a1.9 1.9 0 1 0 -3.9 0M1601.4 226.6a2.6 2.6 0 1 0 5.1 0a2.6 2.6 0 1 0 -5.1 0M1602.6 233.0a1.7 1.7 0 1 0 3.4 0a1.7 1.7 0 1 0 -3.4 0M1596.0 226.2a2.5 2.5 0 1 0 4.9 0a2.5 2.5 0 1 0 -4.9 0M1595.6 224.5a1.6 1.6 0 1 0 3.3 0a1.6 1.6 0 1 0 -3.3 0" fill="#ff2a70" opacity="0.85" filter="url(#bl1)"/>
<path d="M1885.3 145.8a1.8 1.8 0 1 0 3.5 0a1.8 1.8 0 1 0 -3.5 0M1886.4 148.8a2.1 2.1 0 1 0 4.2 0a2.1 2.1 0 1 0 -4.2 0M1884.1 148.2a2.0 2.0 0 1 0 4.0 0a2.0 2.0 0 1 0 -4.0 0M1885.5 149.1a2.1 2.1 0 1 0 4.1 0a2.1 2.1 0 1 0 -4.1 0M1886.7 148.7a1.6 1.6 0 1 0 3.3 0a1.6 1.6 0 1 0 -3.3 0M1885.4 148.7a1.5 1.5 0 1 0 3.0 0a1.5 1.5 0 1 0 -3.0 0M1887.0 146.4a2.5 2.5 0 1 0 4.9 0a2.5 2.5 0 1 0 -4.9 0M1884.5 150.6a2.6 2.6 0 1 0 5.2 0a2.6 2.6 0 1 0 -5.2 0M1883.8 151.8a1.5 1.5 0 1 0 2.9 0a1.5 1.5 0 1 0 -2.9 0M1885.8 148.8a2.2 2.2 0 1 0 4.4 0a2.2 2.2 0 1 0 -4.4 0M1882.5 149.8a1.8 1.8 0 1 0 3.6 0a1.8 1.8 0 1 0 -3.6 0M1882.8 149.4a2.1 2.1 0 1 0 4.2 0a2.1 2.1 0 1 0 -4.2 0" fill="#ff2a70" opacity="0.85" filter="url(#bl1)"/>
<path d="M1810.7 214.2a1.2 1.2 0 1 0 2.3 0a1.2 1.2 0 1 0 -2.3 0M1759.1 222.2a1.2 1.2 0 1 0 2.4 0a1.2 1.2 0 1 0 -2.4 0M1789.3 87.3a1.6 1.6 0 1 0 3.3 0a1.6 1.6 0 1 0 -3.3 0M1641.4 137.9a1.0 1.0 0 1 0 2.1 0a1.0 1.0 0 1 0 -2.1 0M1752.3 101.7a1.8 1.8 0 1 0 3.5 0a1.8 1.8 0 1 0 -3.5 0M1698.1 113.7a1.7 1.7 0 1 0 3.3 0a1.7 1.7 0 1 0 -3.3 0M1734.1 236.8a1.3 1.3 0 1 0 2.5 0a1.3 1.3 0 1 0 -2.5 0M1747.6 123.7a1.0 1.0 0 1 0 2.1 0a1.0 1.0 0 1 0 -2.1 0M1860.8 302.0a1.5 1.5 0 1 0 2.9 0a1.5 1.5 0 1 0 -2.9 0M1743.9 321.9a1.2 1.2 0 1 0 2.3 0a1.2 1.2 0 1 0 -2.3 0M1715.7 178.9a1.4 1.4 0 1 0 2.7 0a1.4 1.4 0 1 0 -2.7 0M1749.9 236.3a1.6 1.6 0 1 0 3.2 0a1.6 1.6 0 1 0 -3.2 0M1636.7 254.4a1.4 1.4 0 1 0 2.9 0a1.4 1.4 0 1 0 -2.9 0M1805.5 121.8a1.1 1.1 0 1 0 2.3 0a1.1 1.1 0 1 0 -2.3 0M1689.3 250.8a1.2 1.2 0 1 0 2.5 0a1.2 1.2 0 1 0 -2.5 0M1700.9 277.4a1.5 1.5 0 1 0 3.1 0a1.5 1.5 0 1 0 -3.1 0M1701.0 142.4a1.7 1.7 0 1 0 3.4 0a1.7 1.7 0 1 0 -3.4 0M1746.9 325.0a1.0 1.0 0 1 0 2.1 0a1.0 1.0 0 1 0 -2.1 0M1651.9 155.6a1.3 1.3 0 1 0 2.7 0a1.3 1.3 0 1 0 -2.7 0M1744.4 143.9a1.8 1.8 0 1 0 3.5 0a1.8 1.8 0 1 0 -3.5 0M1764.8 291.5a1.0 1.0 0 1 0 2.0 0a1.0 1.0 0 1 0 -2.0 0M1796.2 197.8a1.5 1.5 0 1 0 2.9 0a1.5 1.5 0 1 0 -2.9 0M1767.9 151.3a1.6 1.6 0 1 0 3.2 0a1.6 1.6 0 1 0 -3.2 0M1792.8 265.2a1.7 1.7 0 1 0 3.4 0a1.7 1.7 0 1 0 -3.4 0M1789.2 145.5a1.3 1.3 0 1 0 2.6 0a1.3 1.3 0 1 0 -2.6 0M1731.0 109.4a1.7 1.7 0 1 0 3.4 0a1.7 1.7 0 1 0 -3.4 0M1819.0 105.0a1.4 1.4 0 1 0 2.9 0a1.4 1.4 0 1 0 -2.9 0M1679.9 218.8a1.2 1.2 0 1 0 2.4 0a1.2 1.2 0 1 0 -2.4 0M1702.2 285.7a1.4 1.4 0 1 0 2.9 0a1.4 1.4 0 1 0 -2.9 0M1738.2 85.5a1.6 1.6 0 1 0 3.2 0a1.6 1.6 0 1 0 -3.2 0M1649.8 281.6a1.3 1.3 0 1 0 2.5 0a1.3 1.3 0 1 0 -2.5 0M1667.4 221.6a1.4 1.4 0 1 0 2.9 0a1.4 1.4 0 1 0 -2.9 0M1796.0 223.2a1.6 1.6 0 1 0 3.2 0a1.6 1.6 0 1 0 -3.2 0M1837.5 228.6a1.4 1.4 0 1 0 2.9 0a1.4 1.4 0 1 0 -2.9 0M1862.9 204.6a1.5 1.5 0 1 0 3.0 0a1.5 1.5 0 1 0 -3.0 0M1729.6 226.0a1.3 1.3 0 1 0 2.6 0a1.3 1.3 0 1 0 -2.6 0M1712.6 135.6a1.0 1.0 0 1 0 2.1 0a1.0 1.0 0 1 0 -2.1 0M1725.7 142.3a1.6 1.6 0 1 0 3.1 0a1.6 1.6 0 1 0 -3.1 0M1735.2 139.0a1.3 1.3 0 1 0 2.6 0a1.3 1.3 0 1 0 -2.6 0M1747.7 261.5a1.8 1.8 0 1 0 3.5 0a1.8 1.8 0 1 0 -3.5 0" fill="#20ff80" opacity="0.9" filter="url(#bl1)"/>
<path d="M1620.8 103.1a1.4 1.4 0 1 0 2.8 0a1.4 1.4 0 1 0 -2.8 0M1621.2 81.0a1.3 1.3 0 1 0 2.6 0a1.3 1.3 0 1 0 -2.6 0M1623.8 77.3a1.3 1.3 0 1 0 2.6 0a1.3 1.3 0 1 0 -2.6 0M1656.3 78.8a1.6 1.6 0 1 0 3.2 0a1.6 1.6 0 1 0 -3.2 0M1659.7 96.0a1.3 1.3 0 1 0 2.6 0a1.3 1.3 0 1 0 -2.6 0M1557.3 128.7a1.3 1.3 0 1 0 2.6 0a1.3 1.3 0 1 0 -2.6 0M1655.3 86.0a1.4 1.4 0 1 0 2.8 0a1.4 1.4 0 1 0 -2.8 0M1585.1 86.4a1.1 1.1 0 1 0 2.2 0a1.1 1.1 0 1 0 -2.2 0M1669.0 73.2a1.2 1.2 0 1 0 2.4 0a1.2 1.2 0 1 0 -2.4 0M1700.8 78.3a1.6 1.6 0 1 0 3.1 0a1.6 1.6 0 1 0 -3.1 0M1597.4 139.8a1.2 1.2 0 1 0 2.4 0a1.2 1.2 0 1 0 -2.4 0M1601.5 81.0a1.6 1.6 0 1 0 3.2 0a1.6 1.6 0 1 0 -3.2 0M1755.7 87.2a1.2 1.2 0 1 0 2.4 0a1.2 1.2 0 1 0 -2.4 0M1664.0 68.9a1.0 1.0 0 1 0 2.1 0a1.0 1.0 0 1 0 -2.1 0" fill="#30e0a0" opacity="0.8" filter="url(#bl1)"/>
<path d="M1792.2 197.0a1.5 1.5 0 1 0 3.1 0a1.5 1.5 0 1 0 -3.1 0M1730.3 134.3a1.5 1.5 0 1 0 2.9 0a1.5 1.5 0 1 0 -2.9 0M1841.9 196.3a1.5 1.5 0 1 0 3.0 0a1.5 1.5 0 1 0 -3.0 0M1852.5 177.0a1.1 1.1 0 1 0 2.1 0a1.1 1.1 0 1 0 -2.1 0M1872.5 248.3a1.7 1.7 0 1 0 3.3 0a1.7 1.7 0 1 0 -3.3 0M1696.0 301.1a1.4 1.4 0 1 0 2.7 0a1.4 1.4 0 1 0 -2.7 0M1784.0 270.4a1.3 1.3 0 1 0 2.6 0a1.3 1.3 0 1 0 -2.6 0M1845.3 248.7a1.4 1.4 0 1 0 2.9 0a1.4 1.4 0 1 0 -2.9 0M1813.8 122.2a1.2 1.2 0 1 0 2.4 0a1.2 1.2 0 1 0 -2.4 0M1658.8 243.2a1.8 1.8 0 1 0 3.6 0a1.8 1.8 0 1 0 -3.6 0M1682.6 180.3a1.3 1.3 0 1 0 2.6 0a1.3 1.3 0 1 0 -2.6 0M1671.4 306.6a1.5 1.5 0 1 0 3.1 0a1.5 1.5 0 1 0 -3.1 0M1872.6 284.8a1.8 1.8 0 1 0 3.7 0a1.8 1.8 0 1 0 -3.7 0M1642.9 234.7a1.9 1.9 0 1 0 3.8 0a1.9 1.9 0 1 0 -3.8 0M1857.8 173.0a2.0 2.0 0 1 0 3.9 0a2.0 2.0 0 1 0 -3.9 0M1702.2 125.7a1.1 1.1 0 1 0 2.2 0a1.1 1.1 0 1 0 -2.2 0M1738.8 126.7a1.9 1.9 0 1 0 3.9 0a1.9 1.9 0 1 0 -3.9 0M1614.3 234.2a1.8 1.8 0 1 0 3.6 0a1.8 1.8 0 1 0 -3.6 0M1649.3 196.4a1.9 1.9 0 1 0 3.8 0a1.9 1.9 0 1 0 -3.8 0M1729.9 172.0a1.9 1.9 0 1 0 3.8 0a1.9 1.9 0 1 0 -3.8 0M1832.3 193.6a1.7 1.7 0 1 0 3.4 0a1.7 1.7 0 1 0 -3.4 0M1892.6 263.9a1.2 1.2 0 1 0 2.5 0a1.2 1.2 0 1 0 -2.5 0M1667.1 192.7a1.8 1.8 0 1 0 3.5 0a1.8 1.8 0 1 0 -3.5 0M1777.2 236.1a1.8 1.8 0 1 0 3.7 0a1.8 1.8 0 1 0 -3.7 0M1682.7 239.0a1.8 1.8 0 1 0 3.7 0a1.8 1.8 0 1 0 -3.7 0M1771.1 138.6a1.6 1.6 0 1 0 3.1 0a1.6 1.6 0 1 0 -3.1 0M1741.0 205.0a1.7 1.7 0 1 0 3.4 0a1.7 1.7 0 1 0 -3.4 0M1829.8 119.4a1.4 1.4 0 1 0 2.9 0a1.4 1.4 0 1 0 -2.9 0M1720.8 91.1a1.7 1.7 0 1 0 3.4 0a1.7 1.7 0 1 0 -3.4 0M1745.2 279.2a1.5 1.5 0 1 0 3.1 0a1.5 1.5 0 1 0 -3.1 0M1777.3 228.7a1.3 1.3 0 1 0 2.6 0a1.3 1.3 0 1 0 -2.6 0M1752.5 306.4a1.7 1.7 0 1 0 3.3 0a1.7 1.7 0 1 0 -3.3 0M1797.9 156.1a1.3 1.3 0 1 0 2.6 0a1.3 1.3 0 1 0 -2.6 0M1689.7 159.4a2.0 2.0 0 1 0 3.9 0a2.0 2.0 0 1 0 -3.9 0M1686.9 185.8a1.4 1.4 0 1 0 2.8 0a1.4 1.4 0 1 0 -2.8 0M1886.6 213.8a1.6 1.6 0 1 0 3.1 0a1.6 1.6 0 1 0 -3.1 0M1651.1 151.9a1.1 1.1 0 1 0 2.2 0a1.1 1.1 0 1 0 -2.2 0M1634.2 147.5a1.9 1.9 0 1 0 3.7 0a1.9 1.9 0 1 0 -3.7 0M1754.6 100.0a1.5 1.5 0 1 0 2.9 0a1.5 1.5 0 1 0 -2.9 0M1882.9 151.2a1.4 1.4 0 1 0 2.7 0a1.4 1.4 0 1 0 -2.7 0M1709.9 276.2a1.3 1.3 0 1 0 2.6 0a1.3 1.3 0 1 0 -2.6 0M1818.2 118.4a2.0 2.0 0 1 0 4.0 0a2.0 2.0 0 1 0 -4.0 0M1740.4 285.4a1.6 1.6 0 1 0 3.1 0a1.6 1.6 0 1 0 -3.1 0M1797.0 249.0a1.3 1.3 0 1 0 2.7 0a1.3 1.3 0 1 0 -2.7 0M1722.5 163.9a1.6 1.6 0 1 0 3.2 0a1.6 1.6 0 1 0 -3.2 0M1767.6 331.8a1.4 1.4 0 1 0 2.9 0a1.4 1.4 0 1 0 -2.9 0M1695.2 267.5a1.7 1.7 0 1 0 3.5 0a1.7 1.7 0 1 0 -3.5 0M1702.8 305.5a1.8 1.8 0 1 0 3.7 0a1.8 1.8 0 1 0 -3.7 0M1847.8 300.6a1.5 1.5 0 1 0 3.1 0a1.5 1.5 0 1 0 -3.1 0M1632.2 191.8a1.1 1.1 0 1 0 2.1 0a1.1 1.1 0 1 0 -2.1 0M1675.7 198.2a1.8 1.8 0 1 0 3.6 0a1.8 1.8 0 1 0 -3.6 0M1791.4 194.1a1.2 1.2 0 1 0 2.5 0a1.2 1.2 0 1 0 -2.5 0M1675.9 273.5a1.4 1.4 0 1 0 2.9 0a1.4 1.4 0 1 0 -2.9 0M1768.9 258.8a1.4 1.4 0 1 0 2.9 0a1.4 1.4 0 1 0 -2.9 0M1723.9 85.2a1.8 1.8 0 1 0 3.7 0a1.8 1.8 0 1 0 -3.7 0M1708.3 184.2a1.1 1.1 0 1 0 2.1 0a1.1 1.1 0 1 0 -2.1 0M1841.6 272.8a1.3 1.3 0 1 0 2.5 0a1.3 1.3 0 1 0 -2.5 0M1614.6 252.3a1.1 1.1 0 1 0 2.1 0a1.1 1.1 0 1 0 -2.1 0M1790.6 225.1a1.5 1.5 0 1 0 3.1 0a1.5 1.5 0 1 0 -3.1 0M1742.1 110.9a1.6 1.6 0 1 0 3.3 0a1.6 1.6 0 1 0 -3.3 0" fill="#ff2a7a" opacity="0.8" filter="url(#bl1)"/>
<rect x="1803" y="65.8" width="34" height="8" fill="#20b0ff" opacity="0.8" filter="url(#bl1)"/>
<ellipse cx="1767.6" cy="140.0" rx="4.0" ry="4.0" fill="#ffe040" opacity="0.95" filter="url(#bl1)"/>
<ellipse cx="1781.9" cy="211.5" rx="4.0" ry="4.0" fill="#ffe040" opacity="0.95" filter="url(#bl1)"/>
<ellipse cx="1817.5" cy="273.3" rx="4.0" ry="4.0" fill="#ffe040" opacity="0.95" filter="url(#bl1)"/>
<ellipse cx="1765.0" cy="135.0" rx="5.0" ry="8.0" fill="#ffa060" opacity="0.7" filter="url(#bl1)"/>
<path d="M1763.0 140.0L1749.1 140.3L1752.5 130.9Z" fill="#fff"/>
<path d="M1772.0 145.0L1785.9 144.7L1782.5 154.1Z" fill="#fff"/>
<path d="M1778.0 211.0L1768.3 221.0L1764.1 212.0Z" fill="#fff"/>
<path d="M1822.0 268.0L1829.8 256.4L1835.5 264.6Z" fill="#fff"/>
<path d="M1812.0 279.0L1809.8 292.8L1801.2 287.8Z" fill="#fff"/>
<rect x="1788.5" y="293" width="18.5" height="19.5" fill="none" stroke="#fff" stroke-width="1.6"/>
<rect x="1884" y="294.7" width="82" height="81" fill="#fff"/>
<rect x="1886.5" y="297.2" width="79" height="78.3" fill="#050510"/>
<g clip-path="url(#cp_r1k)">
<ellipse cx="1950.0" cy="310.0" rx="14.0" ry="20.0" fill="#1848d0" opacity="0.9" filter="url(#bl2)"/>
<ellipse cx="1958.0" cy="345.0" rx="10.0" ry="18.0" fill="#1a60e0" opacity="0.8" filter="url(#bl2)"/>
<ellipse cx="1900.0" cy="330.0" rx="10.0" ry="8.0" fill="#ff2050" opacity="0.6" filter="url(#bl2)"/>
<ellipse cx="1895.0" cy="362.0" rx="9.0" ry="9.0" fill="#ff2a60" opacity="0.95" filter="url(#bl2)"/>
<ellipse cx="1915.0" cy="355.0" rx="10.0" ry="8.0" fill="#ff3050" opacity="0.8" filter="url(#bl2)"/>
<ellipse cx="1935.0" cy="365.0" rx="8.0" ry="7.0" fill="#ff2060" opacity="0.7" filter="url(#bl2)"/>
<ellipse cx="1928.0" cy="342.0" rx="9.0" ry="8.0" fill="#ff6030" opacity="0.8" filter="url(#bl2)"/>
<ellipse cx="1925.0" cy="322.0" rx="9.0" ry="8.0" fill="#a0ff30" opacity="0.95" filter="url(#bl2)"/>
<ellipse cx="1907.0" cy="305.0" rx="10.0" ry="6.0" fill="#6040a0" opacity="0.5" filter="url(#bl2)"/>
<ellipse cx="1955.0" cy="372.0" rx="6.0" ry="6.0" fill="#ff4060" opacity="0.7" filter="url(#bl2)"/>
<path d="M1920 315 L1906 309 L1908 316 Z" fill="#fff"/>
</g>
</g>
<rect x="1553.8" y="362.4" width="51.1" height="4.8" fill="#fff"/>
<g clip-path="url(#cp_r2c)">
<rect x="1110.8" y="389.7" width="420.2" height="309.3" fill="#0b0800"/>
<path d="M1174.9 545.2C1174.1 531.0 1175.8 513.4 1180.0 500.0C1184.2 486.6 1190.0 475.8 1200.0 465.0C1210.0 454.2 1225.0 443.3 1240.0 435.0C1255.0 426.7 1272.0 419.1 1290.0 415.0C1308.0 410.9 1329.4 410.0 1347.7 410.5C1366.0 411.0 1383.8 413.1 1400.0 418.0C1416.2 422.9 1432.0 430.5 1445.0 440.0C1458.0 449.5 1469.8 463.3 1478.0 475.0C1486.2 486.7 1491.0 498.3 1494.0 510.0C1497.0 521.7 1497.0 532.7 1496.3 545.2C1495.6 557.7 1494.4 572.5 1490.0 585.0C1485.6 597.5 1479.2 609.5 1470.0 620.0C1460.8 630.5 1448.3 640.8 1435.0 648.0C1421.7 655.2 1404.5 660.0 1390.0 663.0C1375.5 666.0 1362.7 666.1 1347.7 665.9C1332.7 665.7 1316.3 665.0 1300.0 662.0C1283.7 659.0 1265.0 654.7 1250.0 648.0C1235.0 641.3 1220.8 632.5 1210.0 622.0C1199.2 611.5 1190.8 597.8 1185.0 585.0C1179.2 572.2 1175.7 559.4 1174.9 545.2Z" fill="#201200" opacity="1.0" filter="url(#bl1)"/>
<path d="M1111.0 390.0C1155.5 374.7 1334.5 388.0 1378.0 390.0C1421.5 392.0 1377.2 398.7 1372.0 402.0C1366.8 405.3 1360.7 407.8 1347.0 410.0C1333.3 412.2 1307.8 410.8 1290.0 415.0C1272.2 419.2 1255.0 426.7 1240.0 435.0C1225.0 443.3 1209.7 455.0 1200.0 465.0C1190.3 475.0 1186.7 487.8 1182.0 495.0C1177.3 502.2 1175.7 507.5 1172.0 508.0C1168.3 508.5 1165.7 501.0 1160.0 498.0C1154.3 495.0 1146.2 492.7 1138.0 490.0C1129.8 487.3 1115.5 498.7 1111.0 482.0C1106.5 465.3 1066.5 405.3 1111.0 390.0Z" fill="#201000" opacity="1.0" filter="url(#bl2)"/>
<g clip-path="url(#ct_r2c_main)"><rect x="1110.8" y="389.7" width="420.2" height="309.3" filter="url(#tx_r2c)" opacity="1.0"/></g>
<g clip-path="url(#ct_r2c_ul)"><rect x="1110.8" y="389.7" width="420.2" height="309.3" filter="url(#tx_r2c2)" opacity="1.0"/></g>
<path d="M1174.9 545.2C1174.1 531.0 1175.8 513.4 1180.0 500.0C1184.2 486.6 1190.0 475.8 1200.0 465.0C1210.0 454.2 1225.0 443.3 1240.0 435.0C1255.0 426.7 1272.0 419.1 1290.0 415.0C1308.0 410.9 1329.4 410.0 1347.7 410.5C1366.0 411.0 1383.8 413.1 1400.0 418.0C1416.2 422.9 1432.0 430.5 1445.0 440.0C1458.0 449.5 1469.8 463.3 1478.0 475.0C1486.2 486.7 1491.0 498.3 1494.0 510.0C1497.0 521.7 1497.0 532.7 1496.3 545.2C1495.6 557.7 1494.4 572.5 1490.0 585.0C1485.6 597.5 1479.2 609.5 1470.0 620.0C1460.8 630.5 1448.3 640.8 1435.0 648.0C1421.7 655.2 1404.5 660.0 1390.0 663.0C1375.5 666.0 1362.7 666.1 1347.7 665.9C1332.7 665.7 1316.3 665.0 1300.0 662.0C1283.7 659.0 1265.0 654.7 1250.0 648.0C1235.0 641.3 1220.8 632.5 1210.0 622.0C1199.2 611.5 1190.8 597.8 1185.0 585.0C1179.2 572.2 1175.7 559.4 1174.9 545.2Z" fill="none" stroke="#d01808" stroke-width="12" opacity="0.35" filter="url(#bl2)"/>
<path d="M1174.9 545.2C1174.1 531.0 1175.8 513.4 1180.0 500.0C1184.2 486.6 1190.0 475.8 1200.0 465.0C1210.0 454.2 1225.0 443.3 1240.0 435.0C1255.0 426.7 1272.0 419.1 1290.0 415.0C1308.0 410.9 1329.4 410.0 1347.7 410.5C1366.0 411.0 1383.8 413.1 1400.0 418.0C1416.2 422.9 1432.0 430.5 1445.0 440.0C1458.0 449.5 1469.8 463.3 1478.0 475.0C1486.2 486.7 1491.0 498.3 1494.0 510.0C1497.0 521.7 1497.0 532.7 1496.3 545.2C1495.6 557.7 1494.4 572.5 1490.0 585.0C1485.6 597.5 1479.2 609.5 1470.0 620.0C1460.8 630.5 1448.3 640.8 1435.0 648.0C1421.7 655.2 1404.5 660.0 1390.0 663.0C1375.5 666.0 1362.7 666.1 1347.7 665.9C1332.7 665.7 1316.3 665.0 1300.0 662.0C1283.7 659.0 1265.0 654.7 1250.0 648.0C1235.0 641.3 1220.8 632.5 1210.0 622.0C1199.2 611.5 1190.8 597.8 1185.0 585.0C1179.2 572.2 1175.7 559.4 1174.9 545.2Z" fill="none" stroke="#e02010" stroke-width="3" opacity="0.6" filter="url(#bl1)"/>
<ellipse cx="1340.0" cy="540.0" rx="25.0" ry="40.0" fill="#050400" opacity="0.6" filter="url(#bl4)"/>
<ellipse cx="1395.0" cy="560.0" rx="20.0" ry="25.0" fill="#050400" opacity="0.6" filter="url(#bl4)"/>
<ellipse cx="1290.0" cy="470.0" rx="15.0" ry="15.0" fill="#050400" opacity="0.6" filter="url(#bl4)"/>
<ellipse cx="1250.0" cy="560.0" rx="14.0" ry="18.0" fill="#050400" opacity="0.6" filter="url(#bl4)"/>
<ellipse cx="1430.0" cy="500.0" rx="16.0" ry="14.0" fill="#050400" opacity="0.6" filter="url(#bl4)"/>
<ellipse cx="1301.9" cy="427.0" rx="6.6" ry="6.6" fill="#12b812" opacity="0.88" filter="url(#bl2)"/>
<path d="M1303.5 422.6a2.3 2.3 0 1 0 4.7 0a2.3 2.3 0 1 0 -4.7 0M1303.5 422.5a2.5 2.5 0 1 0 4.9 0a2.5 2.5 0 1 0 -4.9 0M1302.8 428.4a2.4 2.4 0 1 0 4.8 0a2.4 2.4 0 1 0 -4.8 0M1295.4 429.9a1.9 1.9 0 1 0 3.7 0a1.9 1.9 0 1 0 -3.7 0M1295.6 432.2a2.5 2.5 0 1 0 5.0 0a2.5 2.5 0 1 0 -5.0 0M1299.1 432.6a1.5 1.5 0 1 0 3.0 0a1.5 1.5 0 1 0 -3.0 0M1302.5 423.7a1.8 1.8 0 1 0 3.6 0a1.8 1.8 0 1 0 -3.6 0M1294.6 423.5a1.7 1.7 0 1 0 3.4 0a1.7 1.7 0 1 0 -3.4 0M1295.7 428.4a2.1 2.1 0 1 0 4.3 0a2.1 2.1 0 1 0 -4.3 0M1298.7 433.5a1.9 1.9 0 1 0 3.9 0a1.9 1.9 0 1 0 -3.9 0M1300.4 423.3a1.8 1.8 0 1 0 3.5 0a1.8 1.8 0 1 0 -3.5 0M1304.0 432.5a1.9 1.9 0 1 0 3.9 0a1.9 1.9 0 1 0 -3.9 0M1305.0 428.3a2.5 2.5 0 1 0 5.1 0a2.5 2.5 0 1 0 -5.1 0M1298.0 429.0a1.9 1.9 0 1 0 3.8 0a1.9 1.9 0 1 0 -3.8 0" fill="#3af03a" opacity="0.85" filter="url(#bl1)"/>
<ellipse cx="1319.7" cy="424.5" rx="5.5" ry="5.5" fill="#12b812" opacity="0.88" filter="url(#bl2)"/>
<path d="M1316.9 421.4a2.1 2.1 0 1 0 4.2 0a2.1 2.1 0 1 0 -4.2 0M1315.3 429.3a2.0 2.0 0 1 0 4.0 0a2.0 2.0 0 1 0 -4.0 0M1320.1 425.1a2.3 2.3 0 1 0 4.6 0a2.3 2.3 0 1 0 -4.6 0M1316.4 419.4a2.5 2.5 0 1 0 5.1 0a2.5 2.5 0 1 0 -5.1 0M1312.2 424.2a1.9 1.9 0 1 0 3.8 0a1.9 1.9 0 1 0 -3.8 0M1317.5 419.3a2.3 2.3 0 1 0 4.6 0a2.3 2.3 0 1 0 -4.6 0M1322.6 425.9a1.8 1.8 0 1 0 3.5 0a1.8 1.8 0 1 0 -3.5 0M1322.0 426.7a1.6 1.6 0 1 0 3.2 0a1.6 1.6 0 1 0 -3.2 0M1311.9 423.6a2.5 2.5 0 1 0 5.0 0a2.5 2.5 0 1 0 -5.0 0M1319.8 421.0a1.6 1.6 0 1 0 3.2 0a1.6 1.6 0 1 0 -3.2 0M1318.3 426.4a1.9 1.9 0 1 0 3.7 0a1.9 1.9 0 1 0 -3.7 0" fill="#3af03a" opacity="0.85" filter="url(#bl1)"/>
<ellipse cx="1340.0" cy="423.2" rx="8.8" ry="6.6" fill="#12b812" opacity="0.88" filter="url(#bl2)"/>
<path d="M1341.9 422.5a2.4 2.4 0 1 0 4.8 0a2.4 2.4 0 1 0 -4.8 0M1345.5 420.1a1.9 1.9 0 1 0 3.9 0a1.9 1.9 0 1 0 -3.9 0M1329.2 421.5a2.4 2.4 0 1 0 4.8 0a2.4 2.4 0 1 0 -4.8 0M1335.5 428.9a2.0 2.0 0 1 0 4.0 0a2.0 2.0 0 1 0 -4.0 0M1339.6 428.9a2.5 2.5 0 1 0 5.1 0a2.5 2.5 0 1 0 -5.1 0M1335.7 421.0a2.4 2.4 0 1 0 4.8 0a2.4 2.4 0 1 0 -4.8 0M1335.4 419.2a1.6 1.6 0 1 0 3.2 0a1.6 1.6 0 1 0 -3.2 0M1346.0 422.5a2.4 2.4 0 1 0 4.7 0a2.4 2.4 0 1 0 -4.7 0M1342.4 418.2a1.6 1.6 0 1 0 3.2 0a1.6 1.6 0 1 0 -3.2 0M1333.5 421.3a1.7 1.7 0 1 0 3.5 0a1.7 1.7 0 1 0 -3.5 0M1331.4 419.0a2.5 2.5 0 1 0 5.0 0a2.5 2.5 0 1 0 -5.0 0M1335.7 428.5a2.0 2.0 0 1 0 4.1 0a2.0 2.0 0 1 0 -4.1 0M1345.2 422.2a1.7 1.7 0 1 0 3.4 0a1.7 1.7 0 1 0 -3.4 0M1332.0 428.2a2.0 2.0 0 1 0 4.0 0a2.0 2.0 0 1 0 -4.0 0M1341.2 423.4a2.3 2.3 0 1 0 4.6 0a2.3 2.3 0 1 0 -4.6 0M1334.0 426.1a1.5 1.5 0 1 0 3.1 0a1.5 1.5 0 1 0 -3.1 0M1331.0 426.7a2.3 2.3 0 1 0 4.5 0a2.3 2.3 0 1 0 -4.5 0" fill="#3af03a" opacity="0.85" filter="url(#bl1)"/>
<ellipse cx="1362.9" cy="421.9" rx="8.8" ry="7.7" fill="#12b812" opacity="0.88" filter="url(#bl2)"/>
<path d="M1368.2 424.3a2.1 2.1 0 1 0 4.2 0a2.1 2.1 0 1 0 -4.2 0M1360.6 422.4a2.0 2.0 0 1 0 4.0 0a2.0 2.0 0 1 0 -4.0 0M1353.3 421.7a2.2 2.2 0 1 0 4.5 0a2.2 2.2 0 1 0 -4.5 0M1359.4 415.4a1.4 1.4 0 1 0 2.8 0a1.4 1.4 0 1 0 -2.8 0M1366.5 416.8a1.8 1.8 0 1 0 3.6 0a1.8 1.8 0 1 0 -3.6 0M1368.4 421.0a2.6 2.6 0 1 0 5.1 0a2.6 2.6 0 1 0 -5.1 0M1354.8 415.9a2.2 2.2 0 1 0 4.3 0a2.2 2.2 0 1 0 -4.3 0M1358.3 417.6a1.9 1.9 0 1 0 3.8 0a1.9 1.9 0 1 0 -3.8 0M1359.7 423.5a1.6 1.6 0 1 0 3.2 0a1.6 1.6 0 1 0 -3.2 0M1367.1 419.8a1.6 1.6 0 1 0 3.3 0a1.6 1.6 0 1 0 -3.3 0M1364.2 416.7a2.1 2.1 0 1 0 4.2 0a2.1 2.1 0 1 0 -4.2 0M1356.7 418.3a1.6 1.6 0 1 0 3.3 0a1.6 1.6 0 1 0 -3.3 0M1351.8 419.7a2.5 2.5 0 1 0 5.1 0a2.5 2.5 0 1 0 -5.1 0M1354.8 423.5a2.1 2.1 0 1 0 4.2 0a2.1 2.1 0 1 0 -4.2 0M1355.3 417.4a1.5 1.5 0 1 0 2.9 0a1.5 1.5 0 1 0 -2.9 0M1365.5 419.9a2.3 2.3 0 1 0 4.6 0a2.3 2.3 0 1 0 -4.6 0M1357.3 426.7a1.5 1.5 0 1 0 3.1 0a1.5 1.5 0 1 0 -3.1 0M1364.4 417.3a2.5 2.5 0 1 0 4.9 0a2.5 2.5 0 1 0 -4.9 0M1367.1 426.3a1.5 1.5 0 1 0 2.9 0a1.5 1.5 0 1 0 -2.9 0M1366.1 426.1a2.3 2.3 0 1 0 4.6 0a2.3 2.3 0 1 0 -4.6 0" fill="#3af03a" opacity="0.85" filter="url(#bl1)"/>
<ellipse cx="1385.8" cy="434.0" rx="11.0" ry="8.8" fill="#12b812" opacity="0.88" transform="rotate(20 1385.8 434.0)" filter="url(#bl2)"/>
<path d="M1386.7 432.5a1.5 1.5 0 1 0 3.1 0a1.5 1.5 0 1 0 -3.1 0M1382.3 436.6a1.8 1.8 0 1 0 3.7 0a1.8 1.8 0 1 0 -3.7 0M1392.6 439.7a1.9 1.9 0 1 0 3.7 0a1.9 1.9 0 1 0 -3.7 0M1388.9 442.6a2.3 2.3 0 1 0 4.5 0a2.3 2.3 0 1 0 -4.5 0M1392.8 433.8a2.5 2.5 0 1 0 4.9 0a2.5 2.5 0 1 0 -4.9 0M1380.7 436.4a2.2 2.2 0 1 0 4.4 0a2.2 2.2 0 1 0 -4.4 0M1382.8 435.7a1.5 1.5 0 1 0 3.0 0a1.5 1.5 0 1 0 -3.0 0M1391.9 430.4a1.8 1.8 0 1 0 3.7 0a1.8 1.8 0 1 0 -3.7 0M1376.0 426.5a2.2 2.2 0 1 0 4.5 0a2.2 2.2 0 1 0 -4.5 0M1385.7 433.8a1.8 1.8 0 1 0 3.6 0a1.8 1.8 0 1 0 -3.6 0M1387.6 426.3a1.9 1.9 0 1 0 3.9 0a1.9 1.9 0 1 0 -3.9 0M1381.4 429.8a2.5 2.5 0 1 0 5.1 0a2.5 2.5 0 1 0 -5.1 0M1394.4 436.7a2.4 2.4 0 1 0 4.7 0a2.4 2.4 0 1 0 -4.7 0M1394.2 436.3a1.6 1.6 0 1 0 3.2 0a1.6 1.6 0 1 0 -3.2 0M1391.6 432.2a1.5 1.5 0 1 0 3.0 0a1.5 1.5 0 1 0 -3.0 0M1380.9 436.0a2.6 2.6 0 1 0 5.1 0a2.6 2.6 0 1 0 -5.1 0M1385.5 432.2a1.4 1.4 0 1 0 2.8 0a1.4 1.4 0 1 0 -2.8 0M1391.5 435.4a1.6 1.6 0 1 0 3.2 0a1.6 1.6 0 1 0 -3.2 0M1387.0 428.7a1.9 1.9 0 1 0 3.8 0a1.9 1.9 0 1 0 -3.8 0M1382.8 431.2a1.8 1.8 0 1 0 3.7 0a1.8 1.8 0 1 0 -3.7 0M1386.9 435.3a2.3 2.3 0 1 0 4.6 0a2.3 2.3 0 1 0 -4.6 0M1380.6 430.7a1.6 1.6 0 1 0 3.2 0a1.6 1.6 0 1 0 -3.2 0M1377.4 431.5a2.6 2.6 0 1 0 5.1 0a2.6 2.6 0 1 0 -5.1 0M1377.0 430.2a2.2 2.2 0 1 0 4.4 0a2.2 2.2 0 1 0 -4.4 0M1393.1 435.2a2.2 2.2 0 1 0 4.5 0a2.2 2.2 0 1 0 -4.5 0M1388.8 432.7a1.7 1.7 0 1 0 3.5 0a1.7 1.7 0 1 0 -3.5 0" fill="#3af03a" opacity="0.85" filter="url(#bl1)"/>
<ellipse cx="1413.7" cy="447.0" rx="11.0" ry="9.9" fill="#12b812" opacity="0.88" transform="rotate(30 1413.7 447.0)" filter="url(#bl2)"/>
<path d="M1421.3 451.7a1.8 1.8 0 1 0 3.5 0a1.8 1.8 0 1 0 -3.5 0M1401.5 442.2a2.3 2.3 0 1 0 4.6 0a2.3 2.3 0 1 0 -4.6 0M1410.3 445.5a1.5 1.5 0 1 0 3.0 0a1.5 1.5 0 1 0 -3.0 0M1419.2 450.1a2.6 2.6 0 1 0 5.1 0a2.6 2.6 0 1 0 -5.1 0M1423.1 446.0a1.5 1.5 0 1 0 3.1 0a1.5 1.5 0 1 0 -3.1 0M1407.3 444.5a2.3 2.3 0 1 0 4.7 0a2.3 2.3 0 1 0 -4.7 0M1411.3 453.0a2.2 2.2 0 1 0 4.4 0a2.2 2.2 0 1 0 -4.4 0M1415.4 444.7a1.4 1.4 0 1 0 2.8 0a1.4 1.4 0 1 0 -2.8 0M1412.3 440.4a1.8 1.8 0 1 0 3.6 0a1.8 1.8 0 1 0 -3.6 0M1415.2 443.7a1.5 1.5 0 1 0 3.1 0a1.5 1.5 0 1 0 -3.1 0M1419.6 442.4a1.9 1.9 0 1 0 3.8 0a1.9 1.9 0 1 0 -3.8 0M1402.5 447.1a2.2 2.2 0 1 0 4.5 0a2.2 2.2 0 1 0 -4.5 0M1406.0 442.7a1.6 1.6 0 1 0 3.3 0a1.6 1.6 0 1 0 -3.3 0M1401.4 443.5a1.6 1.6 0 1 0 3.2 0a1.6 1.6 0 1 0 -3.2 0M1405.9 445.5a2.0 2.0 0 1 0 4.0 0a2.0 2.0 0 1 0 -4.0 0M1414.6 439.9a1.8 1.8 0 1 0 3.5 0a1.8 1.8 0 1 0 -3.5 0M1407.1 438.0a2.5 2.5 0 1 0 4.9 0a2.5 2.5 0 1 0 -4.9 0M1406.8 444.1a1.6 1.6 0 1 0 3.2 0a1.6 1.6 0 1 0 -3.2 0M1416.9 454.0a1.5 1.5 0 1 0 3.0 0a1.5 1.5 0 1 0 -3.0 0M1412.6 450.2a2.4 2.4 0 1 0 4.7 0a2.4 2.4 0 1 0 -4.7 0M1409.7 446.6a1.8 1.8 0 1 0 3.6 0a1.8 1.8 0 1 0 -3.6 0M1405.7 448.1a1.6 1.6 0 1 0 3.3 0a1.6 1.6 0 1 0 -3.3 0M1404.7 445.6a1.7 1.7 0 1 0 3.4 0a1.7 1.7 0 1 0 -3.4 0M1404.9 448.9a2.1 2.1 0 1 0 4.2 0a2.1 2.1 0 1 0 -4.2 0M1418.6 453.6a2.2 2.2 0 1 0 4.5 0a2.2 2.2 0 1 0 -4.5 0M1416.1 454.2a2.0 2.0 0 1 0 4.1 0a2.0 2.0 0 1 0 -4.1 0M1417.6 445.2a1.6 1.6 0 1 0 3.2 0a1.6 1.6 0 1 0 -3.2 0M1405.5 448.7a2.4 2.4 0 1 0 4.7 0a2.4 2.4 0 1 0 -4.7 0M1413.8 453.8a1.4 1.4 0 1 0 2.8 0a1.4 1.4 0 1 0 -2.8 0" fill="#3af03a" opacity="0.85" filter="url(#bl1)"/>
<ellipse cx="1235.8" cy="453.7" rx="22.0" ry="9.9" fill="#12b812" opacity="0.88" transform="rotate(-40 1235.8 453.7)" filter="url(#bl2)"/>
<path d="M1252.1 443.3a2.1 2.1 0 1 0 4.2 0a2.1 2.1 0 1 0 -4.2 0M1216.9 464.9a1.5 1.5 0 1 0 3.1 0a1.5 1.5 0 1 0 -3.1 0M1240.7 455.5a1.7 1.7 0 1 0 3.5 0a1.7 1.7 0 1 0 -3.5 0M1232.0 449.9a1.7 1.7 0 1 0 3.3 0a1.7 1.7 0 1 0 -3.3 0M1235.2 454.5a1.8 1.8 0 1 0 3.6 0a1.8 1.8 0 1 0 -3.6 0M1237.9 462.9a1.5 1.5 0 1 0 3.0 0a1.5 1.5 0 1 0 -3.0 0M1247.1 446.4a1.6 1.6 0 1 0 3.1 0a1.6 1.6 0 1 0 -3.1 0M1233.8 460.0a2.6 2.6 0 1 0 5.1 0a2.6 2.6 0 1 0 -5.1 0M1219.5 462.0a2.6 2.6 0 1 0 5.1 0a2.6 2.6 0 1 0 -5.1 0M1230.0 462.5a2.1 2.1 0 1 0 4.1 0a2.1 2.1 0 1 0 -4.1 0M1228.6 468.2a2.1 2.1 0 1 0 4.1 0a2.1 2.1 0 1 0 -4.1 0M1223.4 458.1a2.3 2.3 0 1 0 4.6 0a2.3 2.3 0 1 0 -4.6 0M1219.7 468.9a1.8 1.8 0 1 0 3.5 0a1.8 1.8 0 1 0 -3.5 0M1216.9 463.4a2.2 2.2 0 1 0 4.4 0a2.2 2.2 0 1 0 -4.4 0M1236.6 451.7a2.0 2.0 0 1 0 3.9 0a2.0 2.0 0 1 0 -3.9 0M1228.7 450.3a1.5 1.5 0 1 0 2.9 0a1.5 1.5 0 1 0 -2.9 0M1238.1 459.3a1.9 1.9 0 1 0 3.9 0a1.9 1.9 0 1 0 -3.9 0M1220.9 470.3a1.4 1.4 0 1 0 2.8 0a1.4 1.4 0 1 0 -2.8 0M1237.6 456.1a1.4 1.4 0 1 0 2.9 0a1.4 1.4 0 1 0 -2.9 0M1232.5 441.9a2.1 2.1 0 1 0 4.3 0a2.1 2.1 0 1 0 -4.3 0M1223.6 464.7a1.9 1.9 0 1 0 3.7 0a1.9 1.9 0 1 0 -3.7 0M1231.8 450.8a1.6 1.6 0 1 0 3.2 0a1.6 1.6 0 1 0 -3.2 0M1248.0 447.3a2.4 2.4 0 1 0 4.8 0a2.4 2.4 0 1 0 -4.8 0M1231.8 463.2a2.3 2.3 0 1 0 4.5 0a2.3 2.3 0 1 0 -4.5 0M1231.2 462.4a1.8 1.8 0 1 0 3.5 0a1.8 1.8 0 1 0 -3.5 0M1223.7 469.8a2.5 2.5 0 1 0 5.0 0a2.5 2.5 0 1 0 -5.0 0M1246.4 454.4a2.0 2.0 0 1 0 4.0 0a2.0 2.0 0 1 0 -4.0 0M1225.8 458.2a2.0 2.0 0 1 0 4.0 0a2.0 2.0 0 1 0 -4.0 0M1229.1 447.4a1.8 1.8 0 1 0 3.6 0a1.8 1.8 0 1 0 -3.6 0M1228.7 455.6a1.6 1.6 0 1 0 3.2 0a1.6 1.6 0 1 0 -3.2 0M1225.0 465.4a2.5 2.5 0 1 0 4.9 0a2.5 2.5 0 1 0 -4.9 0M1229.6 468.6a1.7 1.7 0 1 0 3.3 0a1.7 1.7 0 1 0 -3.3 0M1244.3 455.5a1.5 1.5 0 1 0 3.0 0a1.5 1.5 0 1 0 -3.0 0M1221.7 451.8a2.2 2.2 0 1 0 4.4 0a2.2 2.2 0 1 0 -4.4 0M1249.7 451.0a1.7 1.7 0 1 0 3.4 0a1.7 1.7 0 1 0 -3.4 0M1250.9 445.6a2.5 2.5 0 1 0 5.1 0a2.5 2.5 0 1 0 -5.1 0M1224.0 455.5a1.9 1.9 0 1 0 3.8 0a1.9 1.9 0 1 0 -3.8 0M1226.7 456.6a2.5 2.5 0 1 0 5.0 0a2.5 2.5 0 1 0 -5.0 0M1220.4 464.4a2.4 2.4 0 1 0 4.8 0a2.4 2.4 0 1 0 -4.8 0M1223.3 456.0a1.6 1.6 0 1 0 3.1 0a1.6 1.6 0 1 0 -3.1 0M1233.9 462.5a2.6 2.6 0 1 0 5.1 0a2.6 2.6 0 1 0 -5.1 0M1217.8 466.4a1.5 1.5 0 1 0 3.0 0a1.5 1.5 0 1 0 -3.0 0M1229.7 464.0a1.6 1.6 0 1 0 3.1 0a1.6 1.6 0 1 0 -3.1 0M1233.8 445.0a2.4 2.4 0 1 0 4.9 0a2.4 2.4 0 1 0 -4.9 0M1250.8 448.4a1.5 1.5 0 1 0 3.0 0a1.5 1.5 0 1 0 -3.0 0M1240.7 447.1a2.0 2.0 0 1 0 4.0 0a2.0 2.0 0 1 0 -4.0 0M1228.2 462.5a1.8 1.8 0 1 0 3.6 0a1.8 1.8 0 1 0 -3.6 0M1221.1 467.9a2.0 2.0 0 1 0 4.0 0a2.0 2.0 0 1 0 -4.0 0M1234.7 447.4a1.5 1.5 0 1 0 3.0 0a1.5 1.5 0 1 0 -3.0 0M1221.1 468.2a2.4 2.4 0 1 0 4.8 0a2.4 2.4 0 1 0 -4.8 0M1229.4 463.3a1.7 1.7 0 1 0 3.4 0a1.7 1.7 0 1 0 -3.4 0M1236.6 459.1a1.5 1.5 0 1 0 3.0 0a1.5 1.5 0 1 0 -3.0 0M1241.2 440.4a2.3 2.3 0 1 0 4.5 0a2.3 2.3 0 1 0 -4.5 0M1222.8 468.6a2.0 2.0 0 1 0 4.0 0a2.0 2.0 0 1 0 -4.0 0M1226.7 456.4a2.0 2.0 0 1 0 4.0 0a2.0 2.0 0 1 0 -4.0 0" fill="#3af03a" opacity="0.85" filter="url(#bl1)"/>
<ellipse cx="1268.9" cy="477.0" rx="6.6" ry="11.0" fill="#12b812" opacity="0.88" filter="url(#bl2)"/>
<path d="M1271.6 469.6a1.4 1.4 0 1 0 2.9 0a1.4 1.4 0 1 0 -2.9 0M1267.0 474.4a1.7 1.7 0 1 0 3.4 0a1.7 1.7 0 1 0 -3.4 0M1268.4 477.8a2.0 2.0 0 1 0 4.0 0a2.0 2.0 0 1 0 -4.0 0M1264.2 473.9a1.8 1.8 0 1 0 3.7 0a1.8 1.8 0 1 0 -3.7 0M1273.2 479.9a2.0 2.0 0 1 0 4.0 0a2.0 2.0 0 1 0 -4.0 0M1265.9 474.6a2.0 2.0 0 1 0 4.0 0a2.0 2.0 0 1 0 -4.0 0M1264.7 466.2a2.3 2.3 0 1 0 4.6 0a2.3 2.3 0 1 0 -4.6 0M1264.8 482.5a1.7 1.7 0 1 0 3.4 0a1.7 1.7 0 1 0 -3.4 0M1273.2 477.1a2.3 2.3 0 1 0 4.6 0a2.3 2.3 0 1 0 -4.6 0M1260.4 474.9a1.9 1.9 0 1 0 3.8 0a1.9 1.9 0 1 0 -3.8 0M1262.1 472.8a2.4 2.4 0 1 0 4.8 0a2.4 2.4 0 1 0 -4.8 0M1263.7 467.2a2.2 2.2 0 1 0 4.3 0a2.2 2.2 0 1 0 -4.3 0M1264.2 481.4a1.7 1.7 0 1 0 3.3 0a1.7 1.7 0 1 0 -3.3 0M1269.4 466.3a1.6 1.6 0 1 0 3.2 0a1.6 1.6 0 1 0 -3.2 0M1264.0 467.6a2.0 2.0 0 1 0 3.9 0a2.0 2.0 0 1 0 -3.9 0M1269.3 482.1a2.5 2.5 0 1 0 4.9 0a2.5 2.5 0 1 0 -4.9 0M1262.2 479.1a2.3 2.3 0 1 0 4.7 0a2.3 2.3 0 1 0 -4.7 0M1268.4 487.8a1.8 1.8 0 1 0 3.6 0a1.8 1.8 0 1 0 -3.6 0M1266.4 481.0a1.6 1.6 0 1 0 3.2 0a1.6 1.6 0 1 0 -3.2 0M1267.8 465.7a1.8 1.8 0 1 0 3.7 0a1.8 1.8 0 1 0 -3.7 0M1266.1 482.7a1.5 1.5 0 1 0 2.9 0a1.5 1.5 0 1 0 -2.9 0" fill="#3af03a" opacity="0.85" filter="url(#bl1)"/>
<ellipse cx="1286.7" cy="466.4" rx="4.4" ry="8.8" fill="#12b812" opacity="0.88" filter="url(#bl2)"/>
<path d="M1283.8 471.3a1.5 1.5 0 1 0 3.1 0a1.5 1.5 0 1 0 -3.1 0M1286.1 473.9a2.5 2.5 0 1 0 5.0 0a2.5 2.5 0 1 0 -5.0 0M1286.7 461.0a1.8 1.8 0 1 0 3.6 0a1.8 1.8 0 1 0 -3.6 0M1282.5 464.1a2.5 2.5 0 1 0 5.0 0a2.5 2.5 0 1 0 -5.0 0M1288.4 469.3a2.4 2.4 0 1 0 4.8 0a2.4 2.4 0 1 0 -4.8 0M1281.4 464.7a1.8 1.8 0 1 0 3.6 0a1.8 1.8 0 1 0 -3.6 0M1282.8 459.1a2.5 2.5 0 1 0 5.1 0a2.5 2.5 0 1 0 -5.1 0M1282.8 470.1a2.1 2.1 0 1 0 4.2 0a2.1 2.1 0 1 0 -4.2 0M1284.2 466.5a2.4 2.4 0 1 0 4.7 0a2.4 2.4 0 1 0 -4.7 0M1282.5 468.3a1.8 1.8 0 1 0 3.6 0a1.8 1.8 0 1 0 -3.6 0M1283.8 464.0a1.6 1.6 0 1 0 3.2 0a1.6 1.6 0 1 0 -3.2 0M1285.1 472.5a2.5 2.5 0 1 0 5.0 0a2.5 2.5 0 1 0 -5.0 0M1283.6 459.8a1.8 1.8 0 1 0 3.6 0a1.8 1.8 0 1 0 -3.6 0" fill="#3af03a" opacity="0.85" filter="url(#bl1)"/>
<ellipse cx="1350.2" cy="484.0" rx="8.8" ry="13.2" fill="#12b812" opacity="0.88" filter="url(#bl2)"/>
<path d="M1356.2 478.7a1.6 1.6 0 1 0 3.2 0a1.6 1.6 0 1 0 -3.2 0M1348.1 493.9a2.6 2.6 0 1 0 5.2 0a2.6 2.6 0 1 0 -5.2 0M1344.1 477.6a2.2 2.2 0 1 0 4.4 0a2.2 2.2 0 1 0 -4.4 0M1347.3 470.9a2.0 2.0 0 1 0 4.1 0a2.0 2.0 0 1 0 -4.1 0M1348.4 475.4a2.2 2.2 0 1 0 4.3 0a2.2 2.2 0 1 0 -4.3 0M1354.1 481.0a2.2 2.2 0 1 0 4.3 0a2.2 2.2 0 1 0 -4.3 0M1341.9 486.5a2.5 2.5 0 1 0 5.0 0a2.5 2.5 0 1 0 -5.0 0M1345.8 488.7a1.7 1.7 0 1 0 3.3 0a1.7 1.7 0 1 0 -3.3 0M1349.2 473.6a1.5 1.5 0 1 0 3.0 0a1.5 1.5 0 1 0 -3.0 0M1353.6 482.0a2.1 2.1 0 1 0 4.2 0a2.1 2.1 0 1 0 -4.2 0M1345.4 492.4a1.9 1.9 0 1 0 3.9 0a1.9 1.9 0 1 0 -3.9 0M1352.3 489.6a2.4 2.4 0 1 0 4.7 0a2.4 2.4 0 1 0 -4.7 0M1341.5 487.8a2.0 2.0 0 1 0 4.1 0a2.0 2.0 0 1 0 -4.1 0M1339.4 486.8a2.5 2.5 0 1 0 5.0 0a2.5 2.5 0 1 0 -5.0 0M1350.2 487.0a1.7 1.7 0 1 0 3.4 0a1.7 1.7 0 1 0 -3.4 0M1344.9 491.3a1.7 1.7 0 1 0 3.4 0a1.7 1.7 0 1 0 -3.4 0M1347.5 481.8a2.2 2.2 0 1 0 4.3 0a2.2 2.2 0 1 0 -4.3 0M1343.1 481.2a1.6 1.6 0 1 0 3.3 0a1.6 1.6 0 1 0 -3.3 0M1344.8 478.3a1.7 1.7 0 1 0 3.5 0a1.7 1.7 0 1 0 -3.5 0M1355.1 478.0a1.8 1.8 0 1 0 3.6 0a1.8 1.8 0 1 0 -3.6 0M1346.9 481.6a2.2 2.2 0 1 0 4.4 0a2.2 2.2 0 1 0 -4.4 0M1342.7 488.6a1.9 1.9 0 1 0 3.7 0a1.9 1.9 0 1 0 -3.7 0M1354.9 477.7a1.9 1.9 0 1 0 3.9 0a1.9 1.9 0 1 0 -3.9 0M1342.4 488.9a2.3 2.3 0 1 0 4.5 0a2.3 2.3 0 1 0 -4.5 0M1342.2 481.0a1.8 1.8 0 1 0 3.6 0a1.8 1.8 0 1 0 -3.6 0M1345.6 471.6a1.6 1.6 0 1 0 3.2 0a1.6 1.6 0 1 0 -3.2 0M1341.6 490.2a2.0 2.0 0 1 0 4.0 0a2.0 2.0 0 1 0 -4.0 0M1355.0 476.4a1.5 1.5 0 1 0 3.0 0a1.5 1.5 0 1 0 -3.0 0M1349.2 482.7a2.0 2.0 0 1 0 3.9 0a2.0 2.0 0 1 0 -3.9 0M1345.0 479.8a2.0 2.0 0 1 0 3.9 0a2.0 2.0 0 1 0 -3.9 0M1341.3 477.9a1.8 1.8 0 1 0 3.7 0a1.8 1.8 0 1 0 -3.7 0" fill="#3af03a" opacity="0.85" filter="url(#bl1)"/>
<ellipse cx="1383.2" cy="479.1" rx="9.9" ry="9.9" fill="#12b812" opacity="0.88" filter="url(#bl2)"/>
<path d="M1373.3 482.8a2.2 2.2 0 1 0 4.3 0a2.2 2.2 0 1 0 -4.3 0M1385.9 473.4a2.0 2.0 0 1 0 4.1 0a2.0 2.0 0 1 0 -4.1 0M1382.5 484.2a2.4 2.4 0 1 0 4.8 0a2.4 2.4 0 1 0 -4.8 0M1374.6 472.8a2.5 2.5 0 1 0 5.1 0a2.5 2.5 0 1 0 -5.1 0M1384.0 480.1a1.4 1.4 0 1 0 2.9 0a1.4 1.4 0 1 0 -2.9 0M1386.6 471.0a1.5 1.5 0 1 0 2.9 0a1.5 1.5 0 1 0 -2.9 0M1381.0 479.1a1.5 1.5 0 1 0 3.1 0a1.5 1.5 0 1 0 -3.1 0M1373.6 476.4a1.8 1.8 0 1 0 3.6 0a1.8 1.8 0 1 0 -3.6 0M1382.3 473.4a2.0 2.0 0 1 0 3.9 0a2.0 2.0 0 1 0 -3.9 0M1389.0 472.9a2.1 2.1 0 1 0 4.2 0a2.1 2.1 0 1 0 -4.2 0M1384.1 470.0a2.1 2.1 0 1 0 4.3 0a2.1 2.1 0 1 0 -4.3 0M1378.4 486.7a2.5 2.5 0 1 0 5.1 0a2.5 2.5 0 1 0 -5.1 0M1377.9 479.4a2.5 2.5 0 1 0 5.0 0a2.5 2.5 0 1 0 -5.0 0M1384.2 480.1a2.0 2.0 0 1 0 4.0 0a2.0 2.0 0 1 0 -4.0 0M1384.3 479.9a2.0 2.0 0 1 0 3.9 0a2.0 2.0 0 1 0 -3.9 0M1380.6 480.1a2.0 2.0 0 1 0 4.0 0a2.0 2.0 0 1 0 -4.0 0M1387.7 479.2a1.8 1.8 0 1 0 3.7 0a1.8 1.8 0 1 0 -3.7 0M1374.6 481.4a1.6 1.6 0 1 0 3.2 0a1.6 1.6 0 1 0 -3.2 0M1387.5 477.5a2.4 2.4 0 1 0 4.8 0a2.4 2.4 0 1 0 -4.8 0M1389.6 482.6a2.6 2.6 0 1 0 5.2 0a2.6 2.6 0 1 0 -5.2 0M1381.9 480.6a1.8 1.8 0 1 0 3.6 0a1.8 1.8 0 1 0 -3.6 0M1382.4 475.9a2.2 2.2 0 1 0 4.3 0a2.2 2.2 0 1 0 -4.3 0M1376.7 470.8a2.5 2.5 0 1 0 5.0 0a2.5 2.5 0 1 0 -5.0 0M1379.8 475.6a2.2 2.2 0 1 0 4.5 0a2.2 2.2 0 1 0 -4.5 0M1378.1 488.6a2.2 2.2 0 1 0 4.4 0a2.2 2.2 0 1 0 -4.4 0M1377.4 484.3a1.7 1.7 0 1 0 3.4 0a1.7 1.7 0 1 0 -3.4 0M1379.3 482.1a2.1 2.1 0 1 0 4.3 0a2.1 2.1 0 1 0 -4.3 0" fill="#3af03a" opacity="0.85" filter="url(#bl1)"/>
<ellipse cx="1446.8" cy="478.0" rx="11.0" ry="19.8" fill="#12b812" opacity="0.88" transform="rotate(-15 1446.8 478.0)" filter="url(#bl2)"/>
<path d="M1445.6 474.0a2.2 2.2 0 1 0 4.3 0a2.2 2.2 0 1 0 -4.3 0M1437.9 460.5a1.4 1.4 0 1 0 2.8 0a1.4 1.4 0 1 0 -2.8 0M1442.2 458.6a1.8 1.8 0 1 0 3.5 0a1.8 1.8 0 1 0 -3.5 0M1443.2 464.1a2.3 2.3 0 1 0 4.7 0a2.3 2.3 0 1 0 -4.7 0M1449.3 492.6a1.6 1.6 0 1 0 3.3 0a1.6 1.6 0 1 0 -3.3 0M1451.2 490.3a1.5 1.5 0 1 0 3.0 0a1.5 1.5 0 1 0 -3.0 0M1443.0 468.6a2.4 2.4 0 1 0 4.9 0a2.4 2.4 0 1 0 -4.9 0M1454.4 484.6a2.2 2.2 0 1 0 4.4 0a2.2 2.2 0 1 0 -4.4 0M1457.1 483.7a1.7 1.7 0 1 0 3.4 0a1.7 1.7 0 1 0 -3.4 0M1454.1 472.1a1.7 1.7 0 1 0 3.4 0a1.7 1.7 0 1 0 -3.4 0M1445.1 476.3a2.2 2.2 0 1 0 4.5 0a2.2 2.2 0 1 0 -4.5 0M1448.4 480.7a2.0 2.0 0 1 0 3.9 0a2.0 2.0 0 1 0 -3.9 0M1438.1 486.1a2.2 2.2 0 1 0 4.5 0a2.2 2.2 0 1 0 -4.5 0M1447.7 469.9a1.6 1.6 0 1 0 3.1 0a1.6 1.6 0 1 0 -3.1 0M1453.8 479.0a1.7 1.7 0 1 0 3.3 0a1.7 1.7 0 1 0 -3.3 0M1443.3 485.0a1.7 1.7 0 1 0 3.3 0a1.7 1.7 0 1 0 -3.3 0M1436.5 482.3a2.2 2.2 0 1 0 4.3 0a2.2 2.2 0 1 0 -4.3 0M1449.5 468.2a2.4 2.4 0 1 0 4.8 0a2.4 2.4 0 1 0 -4.8 0M1439.1 461.8a2.3 2.3 0 1 0 4.5 0a2.3 2.3 0 1 0 -4.5 0M1439.2 461.7a2.1 2.1 0 1 0 4.3 0a2.1 2.1 0 1 0 -4.3 0M1436.8 465.6a1.9 1.9 0 1 0 3.7 0a1.9 1.9 0 1 0 -3.7 0M1448.9 496.0a1.8 1.8 0 1 0 3.6 0a1.8 1.8 0 1 0 -3.6 0M1438.3 473.1a2.6 2.6 0 1 0 5.2 0a2.6 2.6 0 1 0 -5.2 0M1453.0 482.6a1.7 1.7 0 1 0 3.3 0a1.7 1.7 0 1 0 -3.3 0M1438.5 488.1a1.7 1.7 0 1 0 3.5 0a1.7 1.7 0 1 0 -3.5 0M1455.9 486.5a1.5 1.5 0 1 0 3.0 0a1.5 1.5 0 1 0 -3.0 0M1448.8 472.4a2.2 2.2 0 1 0 4.3 0a2.2 2.2 0 1 0 -4.3 0M1445.2 466.3a2.1 2.1 0 1 0 4.2 0a2.1 2.1 0 1 0 -4.2 0M1448.4 485.5a1.5 1.5 0 1 0 2.9 0a1.5 1.5 0 1 0 -2.9 0M1443.0 474.8a2.1 2.1 0 1 0 4.2 0a2.1 2.1 0 1 0 -4.2 0M1446.6 483.0a1.5 1.5 0 1 0 3.1 0a1.5 1.5 0 1 0 -3.1 0M1445.4 497.5a2.5 2.5 0 1 0 4.9 0a2.5 2.5 0 1 0 -4.9 0M1447.6 484.3a2.4 2.4 0 1 0 4.9 0a2.4 2.4 0 1 0 -4.9 0M1440.5 467.9a1.5 1.5 0 1 0 3.1 0a1.5 1.5 0 1 0 -3.1 0M1452.1 474.2a2.5 2.5 0 1 0 5.0 0a2.5 2.5 0 1 0 -5.0 0M1435.3 465.7a1.5 1.5 0 1 0 3.1 0a1.5 1.5 0 1 0 -3.1 0M1445.3 473.0a2.1 2.1 0 1 0 4.2 0a2.1 2.1 0 1 0 -4.2 0M1448.3 473.2a2.2 2.2 0 1 0 4.4 0a2.2 2.2 0 1 0 -4.4 0M1454.4 486.7a2.4 2.4 0 1 0 4.7 0a2.4 2.4 0 1 0 -4.7 0M1436.8 470.7a2.0 2.0 0 1 0 4.0 0a2.0 2.0 0 1 0 -4.0 0M1446.4 480.1a2.1 2.1 0 1 0 4.2 0a2.1 2.1 0 1 0 -4.2 0M1444.7 463.6a2.5 2.5 0 1 0 5.0 0a2.5 2.5 0 1 0 -5.0 0M1441.5 472.2a1.6 1.6 0 1 0 3.2 0a1.6 1.6 0 1 0 -3.2 0M1435.4 482.2a1.5 1.5 0 1 0 3.0 0a1.5 1.5 0 1 0 -3.0 0M1454.1 484.6a1.9 1.9 0 1 0 3.9 0a1.9 1.9 0 1 0 -3.9 0M1445.5 496.3a1.7 1.7 0 1 0 3.5 0a1.7 1.7 0 1 0 -3.5 0M1440.7 484.8a2.4 2.4 0 1 0 4.8 0a2.4 2.4 0 1 0 -4.8 0M1436.1 474.8a2.1 2.1 0 1 0 4.1 0a2.1 2.1 0 1 0 -4.1 0M1435.0 477.3a2.1 2.1 0 1 0 4.1 0a2.1 2.1 0 1 0 -4.1 0M1442.5 458.8a2.3 2.3 0 1 0 4.5 0a2.3 2.3 0 1 0 -4.5 0M1443.0 472.0a1.5 1.5 0 1 0 3.0 0a1.5 1.5 0 1 0 -3.0 0M1454.2 494.4a1.6 1.6 0 1 0 3.2 0a1.6 1.6 0 1 0 -3.2 0M1448.9 475.6a2.4 2.4 0 1 0 4.8 0a2.4 2.4 0 1 0 -4.8 0M1450.4 474.6a2.4 2.4 0 1 0 4.8 0a2.4 2.4 0 1 0 -4.8 0M1441.6 481.2a1.9 1.9 0 1 0 3.9 0a1.9 1.9 0 1 0 -3.9 0" fill="#3af03a" opacity="0.85" filter="url(#bl1)"/>
<ellipse cx="1197.7" cy="514.7" rx="12.1" ry="19.8" fill="#12b812" opacity="0.88" transform="rotate(10 1197.7 514.7)" filter="url(#bl2)"/>
<path d="M1199.3 515.3a2.0 2.0 0 1 0 4.0 0a2.0 2.0 0 1 0 -4.0 0M1187.5 503.0a2.3 2.3 0 1 0 4.7 0a2.3 2.3 0 1 0 -4.7 0M1191.1 518.8a1.8 1.8 0 1 0 3.7 0a1.8 1.8 0 1 0 -3.7 0M1185.7 510.5a2.1 2.1 0 1 0 4.2 0a2.1 2.1 0 1 0 -4.2 0M1205.5 506.4a2.1 2.1 0 1 0 4.3 0a2.1 2.1 0 1 0 -4.3 0M1194.8 518.5a1.9 1.9 0 1 0 3.8 0a1.9 1.9 0 1 0 -3.8 0M1200.1 518.1a1.6 1.6 0 1 0 3.1 0a1.6 1.6 0 1 0 -3.1 0M1187.2 523.9a1.9 1.9 0 1 0 3.7 0a1.9 1.9 0 1 0 -3.7 0M1184.3 523.5a2.1 2.1 0 1 0 4.1 0a2.1 2.1 0 1 0 -4.1 0M1200.5 521.9a1.4 1.4 0 1 0 2.9 0a1.4 1.4 0 1 0 -2.9 0M1190.3 530.7a1.5 1.5 0 1 0 2.9 0a1.5 1.5 0 1 0 -2.9 0M1186.6 508.1a1.9 1.9 0 1 0 3.8 0a1.9 1.9 0 1 0 -3.8 0M1184.6 507.7a2.3 2.3 0 1 0 4.6 0a2.3 2.3 0 1 0 -4.6 0M1200.2 520.8a1.7 1.7 0 1 0 3.4 0a1.7 1.7 0 1 0 -3.4 0M1202.5 512.0a2.1 2.1 0 1 0 4.3 0a2.1 2.1 0 1 0 -4.3 0M1189.5 506.8a1.6 1.6 0 1 0 3.2 0a1.6 1.6 0 1 0 -3.2 0M1195.8 505.9a1.9 1.9 0 1 0 3.7 0a1.9 1.9 0 1 0 -3.7 0M1192.3 528.4a2.6 2.6 0 1 0 5.2 0a2.6 2.6 0 1 0 -5.2 0M1193.0 524.2a1.6 1.6 0 1 0 3.2 0a1.6 1.6 0 1 0 -3.2 0M1194.6 521.1a2.6 2.6 0 1 0 5.1 0a2.6 2.6 0 1 0 -5.1 0M1198.4 528.9a2.1 2.1 0 1 0 4.3 0a2.1 2.1 0 1 0 -4.3 0M1197.5 510.2a2.5 2.5 0 1 0 5.0 0a2.5 2.5 0 1 0 -5.0 0M1198.4 515.4a2.2 2.2 0 1 0 4.5 0a2.2 2.2 0 1 0 -4.5 0M1200.7 528.9a1.9 1.9 0 1 0 3.9 0a1.9 1.9 0 1 0 -3.9 0M1204.5 512.4a2.2 2.2 0 1 0 4.3 0a2.2 2.2 0 1 0 -4.3 0M1204.1 519.6a1.6 1.6 0 1 0 3.2 0a1.6 1.6 0 1 0 -3.2 0M1199.5 525.6a2.2 2.2 0 1 0 4.3 0a2.2 2.2 0 1 0 -4.3 0M1192.2 511.9a2.2 2.2 0 1 0 4.3 0a2.2 2.2 0 1 0 -4.3 0M1199.9 519.0a2.3 2.3 0 1 0 4.6 0a2.3 2.3 0 1 0 -4.6 0M1205.7 516.0a2.6 2.6 0 1 0 5.1 0a2.6 2.6 0 1 0 -5.1 0M1200.6 523.3a2.1 2.1 0 1 0 4.2 0a2.1 2.1 0 1 0 -4.2 0M1194.4 526.3a1.9 1.9 0 1 0 3.8 0a1.9 1.9 0 1 0 -3.8 0M1203.4 527.0a2.0 2.0 0 1 0 3.9 0a2.0 2.0 0 1 0 -3.9 0M1191.1 499.1a1.7 1.7 0 1 0 3.4 0a1.7 1.7 0 1 0 -3.4 0M1204.3 500.9a2.1 2.1 0 1 0 4.2 0a2.1 2.1 0 1 0 -4.2 0M1188.2 524.3a2.3 2.3 0 1 0 4.7 0a2.3 2.3 0 1 0 -4.7 0M1197.5 523.3a2.1 2.1 0 1 0 4.1 0a2.1 2.1 0 1 0 -4.1 0M1193.9 516.1a2.4 2.4 0 1 0 4.8 0a2.4 2.4 0 1 0 -4.8 0M1195.5 520.8a1.8 1.8 0 1 0 3.6 0a1.8 1.8 0 1 0 -3.6 0M1186.5 529.4a1.6 1.6 0 1 0 3.3 0a1.6 1.6 0 1 0 -3.3 0M1192.8 522.6a2.1 2.1 0 1 0 4.1 0a2.1 2.1 0 1 0 -4.1 0M1197.6 521.5a2.2 2.2 0 1 0 4.4 0a2.2 2.2 0 1 0 -4.4 0M1194.2 506.9a2.1 2.1 0 1 0 4.2 0a2.1 2.1 0 1 0 -4.2 0M1189.7 532.4a2.0 2.0 0 1 0 3.9 0a2.0 2.0 0 1 0 -3.9 0M1188.1 520.1a1.6 1.6 0 1 0 3.1 0a1.6 1.6 0 1 0 -3.1 0M1191.2 505.2a2.5 2.5 0 1 0 4.9 0a2.5 2.5 0 1 0 -4.9 0M1184.2 522.4a1.8 1.8 0 1 0 3.6 0a1.8 1.8 0 1 0 -3.6 0M1199.6 504.1a2.6 2.6 0 1 0 5.1 0a2.6 2.6 0 1 0 -5.1 0M1203.1 528.4a1.7 1.7 0 1 0 3.4 0a1.7 1.7 0 1 0 -3.4 0M1197.2 524.5a1.7 1.7 0 1 0 3.4 0a1.7 1.7 0 1 0 -3.4 0M1202.6 507.0a2.3 2.3 0 1 0 4.5 0a2.3 2.3 0 1 0 -4.5 0M1198.8 517.2a1.8 1.8 0 1 0 3.6 0a1.8 1.8 0 1 0 -3.6 0M1190.2 515.2a2.0 2.0 0 1 0 4.1 0a2.0 2.0 0 1 0 -4.1 0M1197.6 503.7a2.0 2.0 0 1 0 4.0 0a2.0 2.0 0 1 0 -4.0 0M1189.1 531.8a2.5 2.5 0 1 0 5.0 0a2.5 2.5 0 1 0 -5.0 0M1189.0 503.1a2.5 2.5 0 1 0 5.1 0a2.5 2.5 0 1 0 -5.1 0M1184.5 513.7a2.5 2.5 0 1 0 5.1 0a2.5 2.5 0 1 0 -5.1 0M1206.9 514.6a2.6 2.6 0 1 0 5.2 0a2.6 2.6 0 1 0 -5.2 0M1197.5 495.1a2.6 2.6 0 1 0 5.1 0a2.6 2.6 0 1 0 -5.1 0M1191.5 520.7a2.0 2.0 0 1 0 4.0 0a2.0 2.0 0 1 0 -4.0 0" fill="#3af03a" opacity="0.85" filter="url(#bl1)"/>
<ellipse cx="1314.6" cy="510.0" rx="9.9" ry="19.8" fill="#12b812" opacity="0.88" transform="rotate(15 1314.6 510.0)" filter="url(#bl2)"/>
<path d="M1309.5 515.2a2.5 2.5 0 1 0 4.9 0a2.5 2.5 0 1 0 -4.9 0M1318.2 506.5a1.6 1.6 0 1 0 3.3 0a1.6 1.6 0 1 0 -3.3 0M1304.7 519.4a2.3 2.3 0 1 0 4.6 0a2.3 2.3 0 1 0 -4.6 0M1305.3 512.3a2.5 2.5 0 1 0 5.1 0a2.5 2.5 0 1 0 -5.1 0M1311.2 519.6a1.7 1.7 0 1 0 3.5 0a1.7 1.7 0 1 0 -3.5 0M1303.5 524.5a1.6 1.6 0 1 0 3.2 0a1.6 1.6 0 1 0 -3.2 0M1316.9 522.4a1.6 1.6 0 1 0 3.3 0a1.6 1.6 0 1 0 -3.3 0M1307.6 528.3a1.7 1.7 0 1 0 3.4 0a1.7 1.7 0 1 0 -3.4 0M1318.6 503.0a1.7 1.7 0 1 0 3.3 0a1.7 1.7 0 1 0 -3.3 0M1322.8 511.4a1.8 1.8 0 1 0 3.5 0a1.8 1.8 0 1 0 -3.5 0M1303.5 510.2a2.2 2.2 0 1 0 4.3 0a2.2 2.2 0 1 0 -4.3 0M1309.9 529.1a1.6 1.6 0 1 0 3.1 0a1.6 1.6 0 1 0 -3.1 0M1314.2 500.9a1.6 1.6 0 1 0 3.3 0a1.6 1.6 0 1 0 -3.3 0M1312.3 517.4a1.7 1.7 0 1 0 3.4 0a1.7 1.7 0 1 0 -3.4 0M1309.9 498.8a2.1 2.1 0 1 0 4.3 0a2.1 2.1 0 1 0 -4.3 0M1319.9 512.9a1.6 1.6 0 1 0 3.3 0a1.6 1.6 0 1 0 -3.3 0M1305.9 520.0a1.8 1.8 0 1 0 3.6 0a1.8 1.8 0 1 0 -3.6 0M1306.3 517.3a1.8 1.8 0 1 0 3.7 0a1.8 1.8 0 1 0 -3.7 0M1307.5 521.5a1.8 1.8 0 1 0 3.6 0a1.8 1.8 0 1 0 -3.6 0M1315.3 495.6a2.0 2.0 0 1 0 4.0 0a2.0 2.0 0 1 0 -4.0 0M1304.5 526.2a1.9 1.9 0 1 0 3.7 0a1.9 1.9 0 1 0 -3.7 0M1322.4 505.5a2.0 2.0 0 1 0 4.0 0a2.0 2.0 0 1 0 -4.0 0M1308.2 515.5a2.2 2.2 0 1 0 4.4 0a2.2 2.2 0 1 0 -4.4 0M1310.0 519.3a2.3 2.3 0 1 0 4.6 0a2.3 2.3 0 1 0 -4.6 0M1314.9 495.0a2.0 2.0 0 1 0 4.0 0a2.0 2.0 0 1 0 -4.0 0M1304.7 521.5a1.9 1.9 0 1 0 3.8 0a1.9 1.9 0 1 0 -3.8 0M1307.3 527.3a1.6 1.6 0 1 0 3.1 0a1.6 1.6 0 1 0 -3.1 0M1312.1 522.3a1.8 1.8 0 1 0 3.6 0a1.8 1.8 0 1 0 -3.6 0M1307.5 529.6a1.6 1.6 0 1 0 3.2 0a1.6 1.6 0 1 0 -3.2 0M1319.0 496.5a2.4 2.4 0 1 0 4.7 0a2.4 2.4 0 1 0 -4.7 0M1313.7 496.4a1.9 1.9 0 1 0 3.7 0a1.9 1.9 0 1 0 -3.7 0M1320.8 505.0a1.6 1.6 0 1 0 3.3 0a1.6 1.6 0 1 0 -3.3 0M1317.9 508.6a2.2 2.2 0 1 0 4.3 0a2.2 2.2 0 1 0 -4.3 0M1308.7 518.5a1.5 1.5 0 1 0 3.1 0a1.5 1.5 0 1 0 -3.1 0M1303.4 512.0a2.5 2.5 0 1 0 5.0 0a2.5 2.5 0 1 0 -5.0 0M1319.5 519.4a1.7 1.7 0 1 0 3.5 0a1.7 1.7 0 1 0 -3.5 0M1313.7 512.0a2.1 2.1 0 1 0 4.2 0a2.1 2.1 0 1 0 -4.2 0M1309.3 510.1a1.5 1.5 0 1 0 2.9 0a1.5 1.5 0 1 0 -2.9 0M1317.9 499.5a1.7 1.7 0 1 0 3.4 0a1.7 1.7 0 1 0 -3.4 0M1314.9 501.4a1.9 1.9 0 1 0 3.9 0a1.9 1.9 0 1 0 -3.9 0M1317.5 495.6a2.0 2.0 0 1 0 3.9 0a2.0 2.0 0 1 0 -3.9 0M1312.3 522.8a1.7 1.7 0 1 0 3.4 0a1.7 1.7 0 1 0 -3.4 0M1314.4 499.5a2.1 2.1 0 1 0 4.2 0a2.1 2.1 0 1 0 -4.2 0M1318.2 512.4a2.1 2.1 0 1 0 4.2 0a2.1 2.1 0 1 0 -4.2 0M1306.6 523.3a2.1 2.1 0 1 0 4.3 0a2.1 2.1 0 1 0 -4.3 0M1314.8 508.7a2.5 2.5 0 1 0 5.0 0a2.5 2.5 0 1 0 -5.0 0M1306.4 498.3a2.3 2.3 0 1 0 4.6 0a2.3 2.3 0 1 0 -4.6 0M1303.7 523.7a1.6 1.6 0 1 0 3.3 0a1.6 1.6 0 1 0 -3.3 0M1316.6 501.0a1.7 1.7 0 1 0 3.4 0a1.7 1.7 0 1 0 -3.4 0M1317.8 515.7a1.9 1.9 0 1 0 3.8 0a1.9 1.9 0 1 0 -3.8 0" fill="#3af03a" opacity="0.85" filter="url(#bl1)"/>
<ellipse cx="1406.1" cy="512.1" rx="9.9" ry="11.0" fill="#12b812" opacity="0.88" filter="url(#bl2)"/>
<path d="M1394.1 514.7a2.4 2.4 0 1 0 4.8 0a2.4 2.4 0 1 0 -4.8 0M1400.2 510.0a2.5 2.5 0 1 0 5.0 0a2.5 2.5 0 1 0 -5.0 0M1409.1 503.8a2.2 2.2 0 1 0 4.5 0a2.2 2.2 0 1 0 -4.5 0M1399.4 518.5a1.7 1.7 0 1 0 3.4 0a1.7 1.7 0 1 0 -3.4 0M1411.9 513.3a2.0 2.0 0 1 0 3.9 0a2.0 2.0 0 1 0 -3.9 0M1398.0 513.9a2.4 2.4 0 1 0 4.9 0a2.4 2.4 0 1 0 -4.9 0M1403.0 510.2a1.6 1.6 0 1 0 3.2 0a1.6 1.6 0 1 0 -3.2 0M1394.4 513.3a1.8 1.8 0 1 0 3.7 0a1.8 1.8 0 1 0 -3.7 0M1412.7 508.6a1.7 1.7 0 1 0 3.4 0a1.7 1.7 0 1 0 -3.4 0M1396.1 519.5a2.1 2.1 0 1 0 4.2 0a2.1 2.1 0 1 0 -4.2 0M1404.3 512.9a1.7 1.7 0 1 0 3.5 0a1.7 1.7 0 1 0 -3.5 0M1404.3 523.1a2.4 2.4 0 1 0 4.7 0a2.4 2.4 0 1 0 -4.7 0M1408.5 519.7a1.9 1.9 0 1 0 3.8 0a1.9 1.9 0 1 0 -3.8 0M1409.5 506.0a2.0 2.0 0 1 0 4.0 0a2.0 2.0 0 1 0 -4.0 0M1399.4 511.7a2.1 2.1 0 1 0 4.2 0a2.1 2.1 0 1 0 -4.2 0M1399.7 519.7a1.7 1.7 0 1 0 3.4 0a1.7 1.7 0 1 0 -3.4 0M1408.4 509.6a1.8 1.8 0 1 0 3.5 0a1.8 1.8 0 1 0 -3.5 0M1404.4 519.0a2.4 2.4 0 1 0 4.8 0a2.4 2.4 0 1 0 -4.8 0M1402.6 506.6a1.9 1.9 0 1 0 3.8 0a1.9 1.9 0 1 0 -3.8 0M1406.2 504.6a2.0 2.0 0 1 0 3.9 0a2.0 2.0 0 1 0 -3.9 0M1404.2 502.1a1.5 1.5 0 1 0 2.9 0a1.5 1.5 0 1 0 -2.9 0M1395.3 512.9a2.5 2.5 0 1 0 5.0 0a2.5 2.5 0 1 0 -5.0 0M1411.9 517.9a2.5 2.5 0 1 0 5.1 0a2.5 2.5 0 1 0 -5.1 0M1414.7 510.9a1.6 1.6 0 1 0 3.2 0a1.6 1.6 0 1 0 -3.2 0M1410.9 511.1a1.7 1.7 0 1 0 3.4 0a1.7 1.7 0 1 0 -3.4 0M1404.1 514.1a1.8 1.8 0 1 0 3.6 0a1.8 1.8 0 1 0 -3.6 0M1404.3 502.9a1.9 1.9 0 1 0 3.7 0a1.9 1.9 0 1 0 -3.7 0M1401.6 523.0a1.7 1.7 0 1 0 3.4 0a1.7 1.7 0 1 0 -3.4 0M1410.2 506.5a2.0 2.0 0 1 0 4.0 0a2.0 2.0 0 1 0 -4.0 0" fill="#3af03a" opacity="0.85" filter="url(#bl1)"/>
<ellipse cx="1256.2" cy="514.7" rx="5.5" ry="7.7" fill="#12b812" opacity="0.88" filter="url(#bl2)"/>
<path d="M1254.2 522.4a2.3 2.3 0 1 0 4.6 0a2.3 2.3 0 1 0 -4.6 0M1255.0 521.2a2.3 2.3 0 1 0 4.6 0a2.3 2.3 0 1 0 -4.6 0M1250.5 513.2a2.3 2.3 0 1 0 4.7 0a2.3 2.3 0 1 0 -4.7 0M1249.3 516.8a2.3 2.3 0 1 0 4.6 0a2.3 2.3 0 1 0 -4.6 0M1251.6 515.0a2.0 2.0 0 1 0 3.9 0a2.0 2.0 0 1 0 -3.9 0M1255.0 510.0a1.4 1.4 0 1 0 2.9 0a1.4 1.4 0 1 0 -2.9 0M1252.4 512.4a2.3 2.3 0 1 0 4.7 0a2.3 2.3 0 1 0 -4.7 0M1258.3 511.8a1.7 1.7 0 1 0 3.4 0a1.7 1.7 0 1 0 -3.4 0M1256.2 508.5a1.8 1.8 0 1 0 3.5 0a1.8 1.8 0 1 0 -3.5 0M1249.4 511.5a2.4 2.4 0 1 0 4.8 0a2.4 2.4 0 1 0 -4.8 0M1257.2 521.3a2.3 2.3 0 1 0 4.5 0a2.3 2.3 0 1 0 -4.5 0M1250.7 512.4a2.4 2.4 0 1 0 4.9 0a2.4 2.4 0 1 0 -4.9 0M1258.4 515.8a1.6 1.6 0 1 0 3.2 0a1.6 1.6 0 1 0 -3.2 0M1259.2 514.7a2.4 2.4 0 1 0 4.8 0a2.4 2.4 0 1 0 -4.8 0" fill="#3af03a" opacity="0.85" filter="url(#bl1)"/>
<ellipse cx="1309.5" cy="540.0" rx="6.6" ry="6.6" fill="#12b812" opacity="0.88" filter="url(#bl2)"/>
<path d="M1309.7 542.4a1.8 1.8 0 1 0 3.5 0a1.8 1.8 0 1 0 -3.5 0M1313.1 538.0a1.8 1.8 0 1 0 3.5 0a1.8 1.8 0 1 0 -3.5 0M1313.3 537.7a2.5 2.5 0 1 0 4.9 0a2.5 2.5 0 1 0 -4.9 0M1309.1 539.3a1.9 1.9 0 1 0 3.9 0a1.9 1.9 0 1 0 -3.9 0M1309.0 540.8a2.0 2.0 0 1 0 4.0 0a2.0 2.0 0 1 0 -4.0 0M1312.1 539.8a2.4 2.4 0 1 0 4.9 0a2.4 2.4 0 1 0 -4.9 0M1310.6 543.1a1.5 1.5 0 1 0 3.0 0a1.5 1.5 0 1 0 -3.0 0M1303.9 538.2a2.5 2.5 0 1 0 5.0 0a2.5 2.5 0 1 0 -5.0 0M1304.4 540.6a2.5 2.5 0 1 0 5.1 0a2.5 2.5 0 1 0 -5.1 0M1306.9 544.4a2.4 2.4 0 1 0 4.8 0a2.4 2.4 0 1 0 -4.8 0M1313.8 540.8a1.6 1.6 0 1 0 3.2 0a1.6 1.6 0 1 0 -3.2 0M1304.8 545.1a2.3 2.3 0 1 0 4.7 0a2.3 2.3 0 1 0 -4.7 0M1306.3 545.7a1.9 1.9 0 1 0 3.8 0a1.9 1.9 0 1 0 -3.8 0M1304.8 545.1a1.5 1.5 0 1 0 3.1 0a1.5 1.5 0 1 0 -3.1 0" fill="#3af03a" opacity="0.85" filter="url(#bl1)"/>
<ellipse cx="1342.6" cy="542.6" rx="11.0" ry="8.8" fill="#12b812" opacity="0.88" filter="url(#bl2)"/>
<path d="M1342.5 548.7a1.7 1.7 0 1 0 3.3 0a1.7 1.7 0 1 0 -3.3 0M1342.5 537.2a2.0 2.0 0 1 0 3.9 0a2.0 2.0 0 1 0 -3.9 0M1347.2 538.7a2.5 2.5 0 1 0 4.9 0a2.5 2.5 0 1 0 -4.9 0M1344.7 548.7a1.8 1.8 0 1 0 3.5 0a1.8 1.8 0 1 0 -3.5 0M1347.6 540.6a2.5 2.5 0 1 0 4.9 0a2.5 2.5 0 1 0 -4.9 0M1337.4 540.3a1.8 1.8 0 1 0 3.6 0a1.8 1.8 0 1 0 -3.6 0M1342.5 543.2a1.7 1.7 0 1 0 3.4 0a1.7 1.7 0 1 0 -3.4 0M1339.6 545.6a2.4 2.4 0 1 0 4.9 0a2.4 2.4 0 1 0 -4.9 0M1336.5 543.6a2.5 2.5 0 1 0 4.9 0a2.5 2.5 0 1 0 -4.9 0M1334.9 537.7a2.3 2.3 0 1 0 4.6 0a2.3 2.3 0 1 0 -4.6 0M1336.9 537.5a2.0 2.0 0 1 0 3.9 0a2.0 2.0 0 1 0 -3.9 0M1333.0 538.8a1.9 1.9 0 1 0 3.8 0a1.9 1.9 0 1 0 -3.8 0M1346.0 543.7a1.6 1.6 0 1 0 3.3 0a1.6 1.6 0 1 0 -3.3 0M1333.5 539.9a1.7 1.7 0 1 0 3.4 0a1.7 1.7 0 1 0 -3.4 0M1349.1 535.9a1.4 1.4 0 1 0 2.8 0a1.4 1.4 0 1 0 -2.8 0M1348.0 536.6a2.5 2.5 0 1 0 5.0 0a2.5 2.5 0 1 0 -5.0 0M1331.7 540.3a1.5 1.5 0 1 0 3.1 0a1.5 1.5 0 1 0 -3.1 0M1330.5 544.3a2.6 2.6 0 1 0 5.2 0a2.6 2.6 0 1 0 -5.2 0M1347.9 537.8a1.7 1.7 0 1 0 3.3 0a1.7 1.7 0 1 0 -3.3 0M1339.5 535.9a1.9 1.9 0 1 0 3.8 0a1.9 1.9 0 1 0 -3.8 0M1344.5 545.6a2.4 2.4 0 1 0 4.7 0a2.4 2.4 0 1 0 -4.7 0M1336.8 548.0a1.6 1.6 0 1 0 3.3 0a1.6 1.6 0 1 0 -3.3 0M1339.2 548.7a1.7 1.7 0 1 0 3.4 0a1.7 1.7 0 1 0 -3.4 0M1348.9 537.9a2.2 2.2 0 1 0 4.4 0a2.2 2.2 0 1 0 -4.4 0M1343.5 535.1a2.1 2.1 0 1 0 4.1 0a2.1 2.1 0 1 0 -4.1 0M1333.3 547.0a2.6 2.6 0 1 0 5.2 0a2.6 2.6 0 1 0 -5.2 0" fill="#3af03a" opacity="0.85" filter="url(#bl1)"/>
<ellipse cx="1454.0" cy="545.0" rx="22.0" ry="26.4" fill="#12b812" opacity="0.88" filter="url(#bl2)"/>
<path d="M1442.7 530.2a1.8 1.8 0 1 0 3.6 0a1.8 1.8 0 1 0 -3.6 0M1449.5 519.9a2.4 2.4 0 1 0 4.8 0a2.4 2.4 0 1 0 -4.8 0M1463.5 521.5a2.4 2.4 0 1 0 4.8 0a2.4 2.4 0 1 0 -4.8 0M1442.9 540.8a2.0 2.0 0 1 0 4.1 0a2.0 2.0 0 1 0 -4.1 0M1469.3 543.4a2.6 2.6 0 1 0 5.2 0a2.6 2.6 0 1 0 -5.2 0M1442.6 527.4a2.4 2.4 0 1 0 4.8 0a2.4 2.4 0 1 0 -4.8 0M1461.9 529.3a1.8 1.8 0 1 0 3.6 0a1.8 1.8 0 1 0 -3.6 0M1439.4 550.6a1.6 1.6 0 1 0 3.2 0a1.6 1.6 0 1 0 -3.2 0M1433.0 532.3a2.4 2.4 0 1 0 4.7 0a2.4 2.4 0 1 0 -4.7 0M1444.1 551.2a2.5 2.5 0 1 0 5.1 0a2.5 2.5 0 1 0 -5.1 0M1438.2 542.1a2.3 2.3 0 1 0 4.7 0a2.3 2.3 0 1 0 -4.7 0M1454.0 535.1a2.6 2.6 0 1 0 5.1 0a2.6 2.6 0 1 0 -5.1 0M1436.2 539.6a1.8 1.8 0 1 0 3.6 0a1.8 1.8 0 1 0 -3.6 0M1464.3 555.1a2.3 2.3 0 1 0 4.5 0a2.3 2.3 0 1 0 -4.5 0M1456.0 543.3a1.4 1.4 0 1 0 2.9 0a1.4 1.4 0 1 0 -2.9 0M1448.5 525.4a2.0 2.0 0 1 0 4.0 0a2.0 2.0 0 1 0 -4.0 0M1468.7 564.2a1.7 1.7 0 1 0 3.4 0a1.7 1.7 0 1 0 -3.4 0M1463.4 558.3a1.6 1.6 0 1 0 3.2 0a1.6 1.6 0 1 0 -3.2 0M1444.8 543.5a1.7 1.7 0 1 0 3.4 0a1.7 1.7 0 1 0 -3.4 0M1442.3 554.0a1.5 1.5 0 1 0 3.1 0a1.5 1.5 0 1 0 -3.1 0M1472.9 554.8a1.5 1.5 0 1 0 3.1 0a1.5 1.5 0 1 0 -3.1 0M1441.3 524.0a1.7 1.7 0 1 0 3.4 0a1.7 1.7 0 1 0 -3.4 0M1439.1 555.2a2.0 2.0 0 1 0 4.1 0a2.0 2.0 0 1 0 -4.1 0M1456.5 542.1a2.2 2.2 0 1 0 4.3 0a2.2 2.2 0 1 0 -4.3 0M1448.1 564.9a2.2 2.2 0 1 0 4.3 0a2.2 2.2 0 1 0 -4.3 0M1446.2 555.1a1.6 1.6 0 1 0 3.3 0a1.6 1.6 0 1 0 -3.3 0M1446.8 550.8a2.5 2.5 0 1 0 5.1 0a2.5 2.5 0 1 0 -5.1 0M1457.3 525.9a2.3 2.3 0 1 0 4.6 0a2.3 2.3 0 1 0 -4.6 0M1436.3 552.3a2.0 2.0 0 1 0 4.0 0a2.0 2.0 0 1 0 -4.0 0M1448.1 534.1a1.7 1.7 0 1 0 3.4 0a1.7 1.7 0 1 0 -3.4 0M1463.9 565.4a2.0 2.0 0 1 0 4.1 0a2.0 2.0 0 1 0 -4.1 0M1450.8 555.5a1.5 1.5 0 1 0 2.9 0a1.5 1.5 0 1 0 -2.9 0M1459.4 524.4a2.6 2.6 0 1 0 5.2 0a2.6 2.6 0 1 0 -5.2 0M1441.6 524.6a1.6 1.6 0 1 0 3.1 0a1.6 1.6 0 1 0 -3.1 0M1453.2 524.6a2.0 2.0 0 1 0 4.0 0a2.0 2.0 0 1 0 -4.0 0M1443.8 566.4a1.7 1.7 0 1 0 3.3 0a1.7 1.7 0 1 0 -3.3 0M1445.5 526.7a1.5 1.5 0 1 0 2.9 0a1.5 1.5 0 1 0 -2.9 0M1473.1 534.1a1.4 1.4 0 1 0 2.9 0a1.4 1.4 0 1 0 -2.9 0M1443.9 564.6a2.2 2.2 0 1 0 4.5 0a2.2 2.2 0 1 0 -4.5 0M1470.0 558.5a1.8 1.8 0 1 0 3.6 0a1.8 1.8 0 1 0 -3.6 0M1445.9 520.6a1.5 1.5 0 1 0 2.9 0a1.5 1.5 0 1 0 -2.9 0M1462.4 540.0a1.6 1.6 0 1 0 3.2 0a1.6 1.6 0 1 0 -3.2 0M1454.3 556.2a1.5 1.5 0 1 0 3.0 0a1.5 1.5 0 1 0 -3.0 0M1458.5 546.4a2.1 2.1 0 1 0 4.1 0a2.1 2.1 0 1 0 -4.1 0M1470.4 530.3a2.1 2.1 0 1 0 4.2 0a2.1 2.1 0 1 0 -4.2 0M1462.9 528.2a1.4 1.4 0 1 0 2.9 0a1.4 1.4 0 1 0 -2.9 0M1468.7 542.3a2.6 2.6 0 1 0 5.2 0a2.6 2.6 0 1 0 -5.2 0M1450.9 549.4a2.0 2.0 0 1 0 3.9 0a2.0 2.0 0 1 0 -3.9 0M1451.5 518.0a2.4 2.4 0 1 0 4.9 0a2.4 2.4 0 1 0 -4.9 0M1465.8 525.9a2.5 2.5 0 1 0 5.1 0a2.5 2.5 0 1 0 -5.1 0M1463.3 563.1a2.3 2.3 0 1 0 4.7 0a2.3 2.3 0 1 0 -4.7 0M1457.3 537.3a2.2 2.2 0 1 0 4.5 0a2.2 2.2 0 1 0 -4.5 0M1461.6 549.3a2.2 2.2 0 1 0 4.5 0a2.2 2.2 0 1 0 -4.5 0M1467.7 565.4a1.5 1.5 0 1 0 3.0 0a1.5 1.5 0 1 0 -3.0 0M1458.1 565.0a2.2 2.2 0 1 0 4.5 0a2.2 2.2 0 1 0 -4.5 0M1430.7 551.0a2.5 2.5 0 1 0 5.1 0a2.5 2.5 0 1 0 -5.1 0M1439.1 564.7a2.5 2.5 0 1 0 5.0 0a2.5 2.5 0 1 0 -5.0 0M1465.3 551.5a2.3 2.3 0 1 0 4.6 0a2.3 2.3 0 1 0 -4.6 0M1461.3 544.4a1.6 1.6 0 1 0 3.2 0a1.6 1.6 0 1 0 -3.2 0M1440.7 527.9a1.6 1.6 0 1 0 3.2 0a1.6 1.6 0 1 0 -3.2 0M1446.9 555.8a1.6 1.6 0 1 0 3.3 0a1.6 1.6 0 1 0 -3.3 0M1431.6 538.0a2.1 2.1 0 1 0 4.2 0a2.1 2.1 0 1 0 -4.2 0M1436.3 563.7a1.5 1.5 0 1 0 2.9 0a1.5 1.5 0 1 0 -2.9 0M1455.5 569.7a1.4 1.4 0 1 0 2.8 0a1.4 1.4 0 1 0 -2.8 0M1459.5 567.5a1.7 1.7 0 1 0 3.3 0a1.7 1.7 0 1 0 -3.3 0M1442.5 529.0a2.2 2.2 0 1 0 4.5 0a2.2 2.2 0 1 0 -4.5 0M1454.4 534.1a1.8 1.8 0 1 0 3.6 0a1.8 1.8 0 1 0 -3.6 0M1474.4 551.4a1.6 1.6 0 1 0 3.2 0a1.6 1.6 0 1 0 -3.2 0M1454.3 521.0a2.3 2.3 0 1 0 4.6 0a2.3 2.3 0 1 0 -4.6 0M1441.1 567.9a2.0 2.0 0 1 0 4.0 0a2.0 2.0 0 1 0 -4.0 0M1456.5 521.7a1.4 1.4 0 1 0 2.8 0a1.4 1.4 0 1 0 -2.8 0M1463.1 568.4a2.0 2.0 0 1 0 3.9 0a2.0 2.0 0 1 0 -3.9 0M1459.4 554.8a1.7 1.7 0 1 0 3.4 0a1.7 1.7 0 1 0 -3.4 0M1464.2 528.1a1.7 1.7 0 1 0 3.4 0a1.7 1.7 0 1 0 -3.4 0M1449.0 542.4a1.8 1.8 0 1 0 3.7 0a1.8 1.8 0 1 0 -3.7 0M1461.3 560.7a2.4 2.4 0 1 0 4.8 0a2.4 2.4 0 1 0 -4.8 0M1431.8 558.2a2.4 2.4 0 1 0 4.9 0a2.4 2.4 0 1 0 -4.9 0M1446.4 529.1a2.3 2.3 0 1 0 4.6 0a2.3 2.3 0 1 0 -4.6 0M1455.1 526.7a2.3 2.3 0 1 0 4.7 0a2.3 2.3 0 1 0 -4.7 0M1451.8 522.8a1.7 1.7 0 1 0 3.4 0a1.7 1.7 0 1 0 -3.4 0M1449.8 563.9a2.4 2.4 0 1 0 4.9 0a2.4 2.4 0 1 0 -4.9 0M1442.2 559.5a1.4 1.4 0 1 0 2.9 0a1.4 1.4 0 1 0 -2.9 0M1460.7 555.9a2.4 2.4 0 1 0 4.7 0a2.4 2.4 0 1 0 -4.7 0M1451.8 542.8a1.6 1.6 0 1 0 3.2 0a1.6 1.6 0 1 0 -3.2 0M1454.3 537.0a2.4 2.4 0 1 0 4.8 0a2.4 2.4 0 1 0 -4.8 0M1439.5 555.8a1.5 1.5 0 1 0 2.9 0a1.5 1.5 0 1 0 -2.9 0M1435.4 541.3a1.8 1.8 0 1 0 3.6 0a1.8 1.8 0 1 0 -3.6 0M1447.4 551.9a2.5 2.5 0 1 0 5.1 0a2.5 2.5 0 1 0 -5.1 0M1469.6 538.0a2.0 2.0 0 1 0 4.0 0a2.0 2.0 0 1 0 -4.0 0M1455.0 527.8a2.5 2.5 0 1 0 5.1 0a2.5 2.5 0 1 0 -5.1 0M1455.6 555.0a1.5 1.5 0 1 0 3.0 0a1.5 1.5 0 1 0 -3.0 0M1458.5 558.3a1.6 1.6 0 1 0 3.1 0a1.6 1.6 0 1 0 -3.1 0M1434.8 552.8a2.4 2.4 0 1 0 4.8 0a2.4 2.4 0 1 0 -4.8 0M1445.2 552.6a2.5 2.5 0 1 0 4.9 0a2.5 2.5 0 1 0 -4.9 0M1435.3 545.3a2.3 2.3 0 1 0 4.6 0a2.3 2.3 0 1 0 -4.6 0M1454.4 555.1a1.7 1.7 0 1 0 3.4 0a1.7 1.7 0 1 0 -3.4 0M1468.4 562.0a2.0 2.0 0 1 0 4.0 0a2.0 2.0 0 1 0 -4.0 0M1471.2 555.0a2.3 2.3 0 1 0 4.5 0a2.3 2.3 0 1 0 -4.5 0M1451.2 565.0a2.1 2.1 0 1 0 4.3 0a2.1 2.1 0 1 0 -4.3 0M1434.5 561.4a2.5 2.5 0 1 0 5.1 0a2.5 2.5 0 1 0 -5.1 0M1443.0 560.7a2.1 2.1 0 1 0 4.3 0a2.1 2.1 0 1 0 -4.3 0M1433.6 548.4a1.6 1.6 0 1 0 3.3 0a1.6 1.6 0 1 0 -3.3 0M1446.9 552.5a2.5 2.5 0 1 0 4.9 0a2.5 2.5 0 1 0 -4.9 0M1447.4 528.2a1.4 1.4 0 1 0 2.8 0a1.4 1.4 0 1 0 -2.8 0M1468.2 549.6a1.6 1.6 0 1 0 3.1 0a1.6 1.6 0 1 0 -3.1 0M1449.7 521.9a2.4 2.4 0 1 0 4.9 0a2.4 2.4 0 1 0 -4.9 0M1445.1 542.9a2.5 2.5 0 1 0 4.9 0a2.5 2.5 0 1 0 -4.9 0M1453.1 533.5a1.5 1.5 0 1 0 3.0 0a1.5 1.5 0 1 0 -3.0 0M1441.3 567.8a1.7 1.7 0 1 0 3.4 0a1.7 1.7 0 1 0 -3.4 0M1444.3 533.1a2.1 2.1 0 1 0 4.3 0a2.1 2.1 0 1 0 -4.3 0M1450.6 538.1a1.6 1.6 0 1 0 3.1 0a1.6 1.6 0 1 0 -3.1 0M1447.1 534.0a2.0 2.0 0 1 0 4.0 0a2.0 2.0 0 1 0 -4.0 0M1456.0 571.2a2.1 2.1 0 1 0 4.1 0a2.1 2.1 0 1 0 -4.1 0M1461.9 522.1a1.8 1.8 0 1 0 3.7 0a1.8 1.8 0 1 0 -3.7 0M1437.6 566.4a1.9 1.9 0 1 0 3.8 0a1.9 1.9 0 1 0 -3.8 0M1444.2 547.0a2.0 2.0 0 1 0 4.0 0a2.0 2.0 0 1 0 -4.0 0M1467.6 526.2a2.5 2.5 0 1 0 5.0 0a2.5 2.5 0 1 0 -5.0 0M1438.9 552.2a1.8 1.8 0 1 0 3.7 0a1.8 1.8 0 1 0 -3.7 0M1460.5 533.1a2.3 2.3 0 1 0 4.6 0a2.3 2.3 0 1 0 -4.6 0M1452.9 562.6a1.6 1.6 0 1 0 3.2 0a1.6 1.6 0 1 0 -3.2 0M1454.3 543.2a1.7 1.7 0 1 0 3.4 0a1.7 1.7 0 1 0 -3.4 0M1465.0 552.6a1.5 1.5 0 1 0 3.0 0a1.5 1.5 0 1 0 -3.0 0M1455.5 568.7a2.2 2.2 0 1 0 4.4 0a2.2 2.2 0 1 0 -4.4 0M1435.7 542.4a1.8 1.8 0 1 0 3.6 0a1.8 1.8 0 1 0 -3.6 0M1443.8 563.3a1.6 1.6 0 1 0 3.2 0a1.6 1.6 0 1 0 -3.2 0M1446.2 525.6a2.6 2.6 0 1 0 5.2 0a2.6 2.6 0 1 0 -5.2 0M1437.0 539.8a1.6 1.6 0 1 0 3.3 0a1.6 1.6 0 1 0 -3.3 0M1466.8 526.0a2.4 2.4 0 1 0 4.7 0a2.4 2.4 0 1 0 -4.7 0M1443.1 528.7a1.7 1.7 0 1 0 3.4 0a1.7 1.7 0 1 0 -3.4 0M1445.7 535.9a2.1 2.1 0 1 0 4.2 0a2.1 2.1 0 1 0 -4.2 0M1437.4 531.6a1.5 1.5 0 1 0 2.9 0a1.5 1.5 0 1 0 -2.9 0M1444.3 552.7a1.9 1.9 0 1 0 3.8 0a1.9 1.9 0 1 0 -3.8 0M1458.3 541.7a1.9 1.9 0 1 0 3.7 0a1.9 1.9 0 1 0 -3.7 0M1471.9 556.7a1.5 1.5 0 1 0 2.9 0a1.5 1.5 0 1 0 -2.9 0M1461.9 533.1a1.7 1.7 0 1 0 3.4 0a1.7 1.7 0 1 0 -3.4 0M1465.6 558.0a1.8 1.8 0 1 0 3.6 0a1.8 1.8 0 1 0 -3.6 0M1454.9 559.0a2.0 2.0 0 1 0 4.0 0a2.0 2.0 0 1 0 -4.0 0M1454.0 526.3a2.1 2.1 0 1 0 4.1 0a2.1 2.1 0 1 0 -4.1 0M1462.0 562.3a2.5 2.5 0 1 0 5.0 0a2.5 2.5 0 1 0 -5.0 0M1459.5 567.9a1.8 1.8 0 1 0 3.6 0a1.8 1.8 0 1 0 -3.6 0M1457.7 536.5a1.5 1.5 0 1 0 2.9 0a1.5 1.5 0 1 0 -2.9 0" fill="#3af03a" opacity="0.85" filter="url(#bl1)"/>
<ellipse cx="1476.0" cy="580.0" rx="8.8" ry="19.8" fill="#12b812" opacity="0.88" filter="url(#bl2)"/>
<path d="M1474.4 560.7a1.5 1.5 0 1 0 3.1 0a1.5 1.5 0 1 0 -3.1 0M1473.3 560.4a1.4 1.4 0 1 0 2.8 0a1.4 1.4 0 1 0 -2.8 0M1476.4 597.4a1.6 1.6 0 1 0 3.2 0a1.6 1.6 0 1 0 -3.2 0M1477.7 591.6a2.4 2.4 0 1 0 4.9 0a2.4 2.4 0 1 0 -4.9 0M1470.0 577.4a1.9 1.9 0 1 0 3.8 0a1.9 1.9 0 1 0 -3.8 0M1478.9 595.6a1.4 1.4 0 1 0 2.8 0a1.4 1.4 0 1 0 -2.8 0M1480.1 573.4a2.3 2.3 0 1 0 4.6 0a2.3 2.3 0 1 0 -4.6 0M1467.7 580.6a1.8 1.8 0 1 0 3.6 0a1.8 1.8 0 1 0 -3.6 0M1468.5 565.5a2.3 2.3 0 1 0 4.6 0a2.3 2.3 0 1 0 -4.6 0M1473.4 562.9a2.4 2.4 0 1 0 4.8 0a2.4 2.4 0 1 0 -4.8 0M1479.7 584.2a1.8 1.8 0 1 0 3.6 0a1.8 1.8 0 1 0 -3.6 0M1473.5 597.4a2.1 2.1 0 1 0 4.2 0a2.1 2.1 0 1 0 -4.2 0M1475.0 592.8a2.4 2.4 0 1 0 4.8 0a2.4 2.4 0 1 0 -4.8 0M1466.9 569.3a1.6 1.6 0 1 0 3.2 0a1.6 1.6 0 1 0 -3.2 0M1478.5 594.2a2.0 2.0 0 1 0 4.1 0a2.0 2.0 0 1 0 -4.1 0M1468.3 589.8a2.1 2.1 0 1 0 4.3 0a2.1 2.1 0 1 0 -4.3 0M1480.4 573.4a2.1 2.1 0 1 0 4.2 0a2.1 2.1 0 1 0 -4.2 0M1477.4 573.2a2.0 2.0 0 1 0 4.1 0a2.0 2.0 0 1 0 -4.1 0M1480.4 581.2a2.5 2.5 0 1 0 5.0 0a2.5 2.5 0 1 0 -5.0 0M1473.8 572.8a1.4 1.4 0 1 0 2.8 0a1.4 1.4 0 1 0 -2.8 0M1469.4 586.8a1.7 1.7 0 1 0 3.4 0a1.7 1.7 0 1 0 -3.4 0M1466.9 585.4a1.8 1.8 0 1 0 3.5 0a1.8 1.8 0 1 0 -3.5 0M1470.7 584.7a2.0 2.0 0 1 0 4.0 0a2.0 2.0 0 1 0 -4.0 0M1476.2 570.6a2.4 2.4 0 1 0 4.9 0a2.4 2.4 0 1 0 -4.9 0M1475.8 585.4a1.6 1.6 0 1 0 3.1 0a1.6 1.6 0 1 0 -3.1 0M1471.4 564.1a2.6 2.6 0 1 0 5.1 0a2.6 2.6 0 1 0 -5.1 0M1471.4 576.4a1.5 1.5 0 1 0 3.0 0a1.5 1.5 0 1 0 -3.0 0M1477.2 572.3a2.3 2.3 0 1 0 4.6 0a2.3 2.3 0 1 0 -4.6 0M1478.4 595.1a2.4 2.4 0 1 0 4.8 0a2.4 2.4 0 1 0 -4.8 0M1476.3 560.4a2.3 2.3 0 1 0 4.5 0a2.3 2.3 0 1 0 -4.5 0M1478.2 594.4a1.9 1.9 0 1 0 3.9 0a1.9 1.9 0 1 0 -3.9 0M1476.7 588.9a2.1 2.1 0 1 0 4.1 0a2.1 2.1 0 1 0 -4.1 0M1471.6 594.6a1.5 1.5 0 1 0 2.9 0a1.5 1.5 0 1 0 -2.9 0M1479.3 578.8a1.9 1.9 0 1 0 3.7 0a1.9 1.9 0 1 0 -3.7 0M1476.6 590.5a1.6 1.6 0 1 0 3.2 0a1.6 1.6 0 1 0 -3.2 0M1466.9 577.9a1.6 1.6 0 1 0 3.2 0a1.6 1.6 0 1 0 -3.2 0M1469.3 575.9a1.5 1.5 0 1 0 3.0 0a1.5 1.5 0 1 0 -3.0 0M1471.8 580.2a2.4 2.4 0 1 0 4.8 0a2.4 2.4 0 1 0 -4.8 0M1469.1 562.7a2.1 2.1 0 1 0 4.2 0a2.1 2.1 0 1 0 -4.2 0M1481.4 577.2a2.3 2.3 0 1 0 4.7 0a2.3 2.3 0 1 0 -4.7 0M1479.4 586.3a2.4 2.4 0 1 0 4.9 0a2.4 2.4 0 1 0 -4.9 0M1468.7 577.9a1.5 1.5 0 1 0 2.9 0a1.5 1.5 0 1 0 -2.9 0M1469.3 594.8a1.4 1.4 0 1 0 2.8 0a1.4 1.4 0 1 0 -2.8 0M1475.1 575.1a2.2 2.2 0 1 0 4.3 0a2.2 2.2 0 1 0 -4.3 0M1475.3 574.2a1.6 1.6 0 1 0 3.2 0a1.6 1.6 0 1 0 -3.2 0" fill="#3af03a" opacity="0.85" filter="url(#bl1)"/>
<ellipse cx="1215.5" cy="590.0" rx="13.2" ry="19.8" fill="#12b812" opacity="0.88" filter="url(#bl2)"/>
<path d="M1221.1 587.3a2.0 2.0 0 1 0 3.9 0a2.0 2.0 0 1 0 -3.9 0M1210.4 577.8a1.8 1.8 0 1 0 3.6 0a1.8 1.8 0 1 0 -3.6 0M1213.0 575.5a2.6 2.6 0 1 0 5.1 0a2.6 2.6 0 1 0 -5.1 0M1203.2 592.1a1.7 1.7 0 1 0 3.3 0a1.7 1.7 0 1 0 -3.3 0M1209.7 605.4a1.4 1.4 0 1 0 2.9 0a1.4 1.4 0 1 0 -2.9 0M1209.1 604.0a2.6 2.6 0 1 0 5.2 0a2.6 2.6 0 1 0 -5.2 0M1223.1 602.0a2.6 2.6 0 1 0 5.2 0a2.6 2.6 0 1 0 -5.2 0M1216.3 574.1a2.0 2.0 0 1 0 4.0 0a2.0 2.0 0 1 0 -4.0 0M1211.5 582.2a2.2 2.2 0 1 0 4.3 0a2.2 2.2 0 1 0 -4.3 0M1207.9 592.8a2.0 2.0 0 1 0 4.0 0a2.0 2.0 0 1 0 -4.0 0M1203.4 589.2a2.4 2.4 0 1 0 4.8 0a2.4 2.4 0 1 0 -4.8 0M1215.3 594.7a1.8 1.8 0 1 0 3.6 0a1.8 1.8 0 1 0 -3.6 0M1206.9 576.1a1.8 1.8 0 1 0 3.7 0a1.8 1.8 0 1 0 -3.7 0M1212.5 587.6a2.4 2.4 0 1 0 4.9 0a2.4 2.4 0 1 0 -4.9 0M1208.8 579.6a2.2 2.2 0 1 0 4.3 0a2.2 2.2 0 1 0 -4.3 0M1227.0 587.3a1.6 1.6 0 1 0 3.1 0a1.6 1.6 0 1 0 -3.1 0M1204.5 602.4a2.5 2.5 0 1 0 5.1 0a2.5 2.5 0 1 0 -5.1 0M1210.6 609.6a2.0 2.0 0 1 0 4.0 0a2.0 2.0 0 1 0 -4.0 0M1215.1 609.8a1.5 1.5 0 1 0 2.9 0a1.5 1.5 0 1 0 -2.9 0M1210.9 608.2a2.5 2.5 0 1 0 5.0 0a2.5 2.5 0 1 0 -5.0 0M1218.7 605.8a2.3 2.3 0 1 0 4.6 0a2.3 2.3 0 1 0 -4.6 0M1217.8 605.6a2.3 2.3 0 1 0 4.7 0a2.3 2.3 0 1 0 -4.7 0M1219.0 606.1a2.3 2.3 0 1 0 4.6 0a2.3 2.3 0 1 0 -4.6 0M1216.1 580.2a1.5 1.5 0 1 0 3.0 0a1.5 1.5 0 1 0 -3.0 0M1208.0 606.2a1.7 1.7 0 1 0 3.3 0a1.7 1.7 0 1 0 -3.3 0M1208.0 591.6a2.2 2.2 0 1 0 4.4 0a2.2 2.2 0 1 0 -4.4 0M1206.8 578.4a1.4 1.4 0 1 0 2.9 0a1.4 1.4 0 1 0 -2.9 0M1217.7 571.2a1.4 1.4 0 1 0 2.9 0a1.4 1.4 0 1 0 -2.9 0M1221.7 597.5a2.3 2.3 0 1 0 4.5 0a2.3 2.3 0 1 0 -4.5 0M1212.5 605.5a2.1 2.1 0 1 0 4.1 0a2.1 2.1 0 1 0 -4.1 0M1218.4 602.3a1.9 1.9 0 1 0 3.8 0a1.9 1.9 0 1 0 -3.8 0M1217.6 607.8a1.8 1.8 0 1 0 3.7 0a1.8 1.8 0 1 0 -3.7 0M1203.8 595.8a2.4 2.4 0 1 0 4.8 0a2.4 2.4 0 1 0 -4.8 0M1216.4 585.4a1.9 1.9 0 1 0 3.9 0a1.9 1.9 0 1 0 -3.9 0M1214.5 577.0a2.0 2.0 0 1 0 3.9 0a2.0 2.0 0 1 0 -3.9 0M1217.0 570.4a2.2 2.2 0 1 0 4.3 0a2.2 2.2 0 1 0 -4.3 0M1208.1 573.4a2.0 2.0 0 1 0 4.0 0a2.0 2.0 0 1 0 -4.0 0M1206.6 603.1a2.5 2.5 0 1 0 5.1 0a2.5 2.5 0 1 0 -5.1 0M1215.1 585.7a2.0 2.0 0 1 0 4.1 0a2.0 2.0 0 1 0 -4.1 0M1224.4 602.5a2.0 2.0 0 1 0 3.9 0a2.0 2.0 0 1 0 -3.9 0M1219.4 604.4a2.1 2.1 0 1 0 4.3 0a2.1 2.1 0 1 0 -4.3 0M1216.0 583.4a2.0 2.0 0 1 0 4.0 0a2.0 2.0 0 1 0 -4.0 0M1213.3 577.9a2.1 2.1 0 1 0 4.3 0a2.1 2.1 0 1 0 -4.3 0M1220.3 604.7a1.6 1.6 0 1 0 3.3 0a1.6 1.6 0 1 0 -3.3 0M1222.1 594.7a2.0 2.0 0 1 0 4.0 0a2.0 2.0 0 1 0 -4.0 0M1208.2 576.8a1.6 1.6 0 1 0 3.1 0a1.6 1.6 0 1 0 -3.1 0M1201.1 588.7a1.5 1.5 0 1 0 3.1 0a1.5 1.5 0 1 0 -3.1 0M1204.7 580.8a2.5 2.5 0 1 0 5.1 0a2.5 2.5 0 1 0 -5.1 0M1201.8 581.6a1.9 1.9 0 1 0 3.9 0a1.9 1.9 0 1 0 -3.9 0M1206.4 600.5a2.4 2.4 0 1 0 4.8 0a2.4 2.4 0 1 0 -4.8 0M1209.8 571.1a1.7 1.7 0 1 0 3.5 0a1.7 1.7 0 1 0 -3.5 0M1218.7 598.9a1.7 1.7 0 1 0 3.4 0a1.7 1.7 0 1 0 -3.4 0M1204.6 602.3a2.1 2.1 0 1 0 4.2 0a2.1 2.1 0 1 0 -4.2 0M1222.9 590.9a1.7 1.7 0 1 0 3.3 0a1.7 1.7 0 1 0 -3.3 0M1207.0 581.8a1.9 1.9 0 1 0 3.7 0a1.9 1.9 0 1 0 -3.7 0M1209.9 588.2a2.1 2.1 0 1 0 4.1 0a2.1 2.1 0 1 0 -4.1 0M1211.9 597.8a2.1 2.1 0 1 0 4.2 0a2.1 2.1 0 1 0 -4.2 0M1214.1 590.7a2.2 2.2 0 1 0 4.4 0a2.2 2.2 0 1 0 -4.4 0M1214.6 593.7a2.1 2.1 0 1 0 4.2 0a2.1 2.1 0 1 0 -4.2 0M1203.7 592.9a1.6 1.6 0 1 0 3.2 0a1.6 1.6 0 1 0 -3.2 0M1210.6 570.9a2.5 2.5 0 1 0 5.0 0a2.5 2.5 0 1 0 -5.0 0M1217.4 585.3a2.4 2.4 0 1 0 4.8 0a2.4 2.4 0 1 0 -4.8 0M1213.5 584.8a2.3 2.3 0 1 0 4.5 0a2.3 2.3 0 1 0 -4.5 0M1222.7 596.9a1.7 1.7 0 1 0 3.5 0a1.7 1.7 0 1 0 -3.5 0M1214.8 605.3a1.7 1.7 0 1 0 3.4 0a1.7 1.7 0 1 0 -3.4 0" fill="#3af03a" opacity="0.85" filter="url(#bl1)"/>
<ellipse cx="1253.6" cy="580.2" rx="11.0" ry="9.9" fill="#12b812" opacity="0.88" filter="url(#bl2)"/>
<path d="M1242.5 584.5a2.2 2.2 0 1 0 4.4 0a2.2 2.2 0 1 0 -4.4 0M1244.8 573.4a2.0 2.0 0 1 0 4.0 0a2.0 2.0 0 1 0 -4.0 0M1244.9 574.3a2.0 2.0 0 1 0 4.0 0a2.0 2.0 0 1 0 -4.0 0M1259.4 581.3a2.1 2.1 0 1 0 4.2 0a2.1 2.1 0 1 0 -4.2 0M1247.5 579.2a2.1 2.1 0 1 0 4.2 0a2.1 2.1 0 1 0 -4.2 0M1256.1 587.4a2.3 2.3 0 1 0 4.7 0a2.3 2.3 0 1 0 -4.7 0M1260.3 580.4a1.9 1.9 0 1 0 3.7 0a1.9 1.9 0 1 0 -3.7 0M1245.2 580.2a2.4 2.4 0 1 0 4.9 0a2.4 2.4 0 1 0 -4.9 0M1243.2 581.6a1.4 1.4 0 1 0 2.8 0a1.4 1.4 0 1 0 -2.8 0M1245.1 578.6a2.5 2.5 0 1 0 5.0 0a2.5 2.5 0 1 0 -5.0 0M1245.2 572.9a1.6 1.6 0 1 0 3.2 0a1.6 1.6 0 1 0 -3.2 0M1259.3 584.6a1.6 1.6 0 1 0 3.1 0a1.6 1.6 0 1 0 -3.1 0M1255.5 585.8a1.6 1.6 0 1 0 3.1 0a1.6 1.6 0 1 0 -3.1 0M1251.7 581.9a1.9 1.9 0 1 0 3.8 0a1.9 1.9 0 1 0 -3.8 0M1260.4 581.4a1.8 1.8 0 1 0 3.6 0a1.8 1.8 0 1 0 -3.6 0M1260.2 574.1a2.4 2.4 0 1 0 4.7 0a2.4 2.4 0 1 0 -4.7 0M1255.4 587.8a2.3 2.3 0 1 0 4.6 0a2.3 2.3 0 1 0 -4.6 0M1253.4 586.3a2.1 2.1 0 1 0 4.2 0a2.1 2.1 0 1 0 -4.2 0M1247.3 572.4a1.4 1.4 0 1 0 2.9 0a1.4 1.4 0 1 0 -2.9 0M1257.7 586.2a2.3 2.3 0 1 0 4.6 0a2.3 2.3 0 1 0 -4.6 0M1252.9 579.1a2.0 2.0 0 1 0 4.0 0a2.0 2.0 0 1 0 -4.0 0M1249.7 580.3a1.7 1.7 0 1 0 3.4 0a1.7 1.7 0 1 0 -3.4 0M1246.2 582.5a1.5 1.5 0 1 0 3.0 0a1.5 1.5 0 1 0 -3.0 0M1247.8 579.4a1.5 1.5 0 1 0 3.1 0a1.5 1.5 0 1 0 -3.1 0M1255.6 584.9a1.5 1.5 0 1 0 2.9 0a1.5 1.5 0 1 0 -2.9 0M1258.8 587.4a2.0 2.0 0 1 0 3.9 0a2.0 2.0 0 1 0 -3.9 0M1260.9 574.2a1.9 1.9 0 1 0 3.8 0a1.9 1.9 0 1 0 -3.8 0M1261.6 583.7a1.7 1.7 0 1 0 3.4 0a1.7 1.7 0 1 0 -3.4 0M1242.1 583.3a1.6 1.6 0 1 0 3.2 0a1.6 1.6 0 1 0 -3.2 0" fill="#3af03a" opacity="0.85" filter="url(#bl1)"/>
<ellipse cx="1291.8" cy="585.3" rx="9.9" ry="13.2" fill="#12b812" opacity="0.88" filter="url(#bl2)"/>
<path d="M1295.4 587.2a1.7 1.7 0 1 0 3.3 0a1.7 1.7 0 1 0 -3.3 0M1297.2 583.5a2.0 2.0 0 1 0 4.1 0a2.0 2.0 0 1 0 -4.1 0M1284.2 585.1a2.1 2.1 0 1 0 4.3 0a2.1 2.1 0 1 0 -4.3 0M1295.3 588.4a1.5 1.5 0 1 0 2.9 0a1.5 1.5 0 1 0 -2.9 0M1291.9 587.0a2.6 2.6 0 1 0 5.1 0a2.6 2.6 0 1 0 -5.1 0M1286.7 576.5a1.8 1.8 0 1 0 3.6 0a1.8 1.8 0 1 0 -3.6 0M1297.1 582.2a1.7 1.7 0 1 0 3.5 0a1.7 1.7 0 1 0 -3.5 0M1292.6 593.7a2.5 2.5 0 1 0 5.0 0a2.5 2.5 0 1 0 -5.0 0M1282.3 579.4a1.8 1.8 0 1 0 3.6 0a1.8 1.8 0 1 0 -3.6 0M1291.6 598.6a2.4 2.4 0 1 0 4.8 0a2.4 2.4 0 1 0 -4.8 0M1291.3 586.3a1.9 1.9 0 1 0 3.8 0a1.9 1.9 0 1 0 -3.8 0M1288.2 583.5a2.6 2.6 0 1 0 5.2 0a2.6 2.6 0 1 0 -5.2 0M1279.5 583.9a2.2 2.2 0 1 0 4.5 0a2.2 2.2 0 1 0 -4.5 0M1296.8 580.2a2.1 2.1 0 1 0 4.3 0a2.1 2.1 0 1 0 -4.3 0M1293.6 583.9a2.2 2.2 0 1 0 4.5 0a2.2 2.2 0 1 0 -4.5 0M1286.4 572.5a1.7 1.7 0 1 0 3.4 0a1.7 1.7 0 1 0 -3.4 0M1293.1 597.2a2.0 2.0 0 1 0 3.9 0a2.0 2.0 0 1 0 -3.9 0M1281.2 593.2a2.3 2.3 0 1 0 4.7 0a2.3 2.3 0 1 0 -4.7 0M1281.6 582.2a2.0 2.0 0 1 0 4.0 0a2.0 2.0 0 1 0 -4.0 0M1291.3 571.9a2.2 2.2 0 1 0 4.3 0a2.2 2.2 0 1 0 -4.3 0M1294.3 573.4a2.0 2.0 0 1 0 4.1 0a2.0 2.0 0 1 0 -4.1 0M1298.4 582.9a1.8 1.8 0 1 0 3.6 0a1.8 1.8 0 1 0 -3.6 0M1289.7 578.6a1.6 1.6 0 1 0 3.2 0a1.6 1.6 0 1 0 -3.2 0M1297.2 580.0a1.5 1.5 0 1 0 3.0 0a1.5 1.5 0 1 0 -3.0 0M1290.9 573.9a1.7 1.7 0 1 0 3.3 0a1.7 1.7 0 1 0 -3.3 0M1284.1 578.9a1.9 1.9 0 1 0 3.8 0a1.9 1.9 0 1 0 -3.8 0M1289.9 597.6a2.3 2.3 0 1 0 4.6 0a2.3 2.3 0 1 0 -4.6 0M1281.1 587.7a2.4 2.4 0 1 0 4.9 0a2.4 2.4 0 1 0 -4.9 0M1283.2 576.0a1.5 1.5 0 1 0 3.1 0a1.5 1.5 0 1 0 -3.1 0M1294.6 590.5a2.2 2.2 0 1 0 4.3 0a2.2 2.2 0 1 0 -4.3 0M1297.1 583.7a2.0 2.0 0 1 0 4.1 0a2.0 2.0 0 1 0 -4.1 0M1286.4 597.2a2.3 2.3 0 1 0 4.7 0a2.3 2.3 0 1 0 -4.7 0M1295.2 596.9a1.5 1.5 0 1 0 3.0 0a1.5 1.5 0 1 0 -3.0 0M1279.8 582.6a2.5 2.5 0 1 0 5.0 0a2.5 2.5 0 1 0 -5.0 0" fill="#3af03a" opacity="0.85" filter="url(#bl1)"/>
<ellipse cx="1375.6" cy="584.8" rx="13.2" ry="13.2" fill="#12b812" opacity="0.88" filter="url(#bl2)"/>
<path d="M1365.0 588.0a1.9 1.9 0 1 0 3.9 0a1.9 1.9 0 1 0 -3.9 0M1375.8 591.0a2.2 2.2 0 1 0 4.5 0a2.2 2.2 0 1 0 -4.5 0M1377.5 595.0a1.8 1.8 0 1 0 3.5 0a1.8 1.8 0 1 0 -3.5 0M1374.5 596.2a1.7 1.7 0 1 0 3.4 0a1.7 1.7 0 1 0 -3.4 0M1377.2 583.5a2.1 2.1 0 1 0 4.2 0a2.1 2.1 0 1 0 -4.2 0M1385.5 579.0a2.4 2.4 0 1 0 4.8 0a2.4 2.4 0 1 0 -4.8 0M1381.9 577.4a1.6 1.6 0 1 0 3.3 0a1.6 1.6 0 1 0 -3.3 0M1371.6 577.7a1.5 1.5 0 1 0 3.0 0a1.5 1.5 0 1 0 -3.0 0M1360.8 588.8a2.6 2.6 0 1 0 5.1 0a2.6 2.6 0 1 0 -5.1 0M1364.8 582.6a2.1 2.1 0 1 0 4.3 0a2.1 2.1 0 1 0 -4.3 0M1365.4 581.7a1.6 1.6 0 1 0 3.3 0a1.6 1.6 0 1 0 -3.3 0M1365.9 585.1a1.8 1.8 0 1 0 3.7 0a1.8 1.8 0 1 0 -3.7 0M1386.6 584.5a2.0 2.0 0 1 0 4.0 0a2.0 2.0 0 1 0 -4.0 0M1371.3 597.4a1.7 1.7 0 1 0 3.4 0a1.7 1.7 0 1 0 -3.4 0M1364.1 581.0a1.4 1.4 0 1 0 2.8 0a1.4 1.4 0 1 0 -2.8 0M1379.3 590.0a1.8 1.8 0 1 0 3.5 0a1.8 1.8 0 1 0 -3.5 0M1380.1 584.4a1.9 1.9 0 1 0 3.9 0a1.9 1.9 0 1 0 -3.9 0M1380.6 579.6a2.3 2.3 0 1 0 4.7 0a2.3 2.3 0 1 0 -4.7 0M1380.3 592.7a1.6 1.6 0 1 0 3.3 0a1.6 1.6 0 1 0 -3.3 0M1374.4 578.2a1.6 1.6 0 1 0 3.3 0a1.6 1.6 0 1 0 -3.3 0M1382.8 588.1a1.9 1.9 0 1 0 3.9 0a1.9 1.9 0 1 0 -3.9 0M1374.6 583.9a2.5 2.5 0 1 0 5.1 0a2.5 2.5 0 1 0 -5.1 0M1363.5 580.0a1.7 1.7 0 1 0 3.3 0a1.7 1.7 0 1 0 -3.3 0M1365.7 593.1a2.3 2.3 0 1 0 4.6 0a2.3 2.3 0 1 0 -4.6 0M1367.8 594.9a2.6 2.6 0 1 0 5.2 0a2.6 2.6 0 1 0 -5.2 0M1375.8 580.7a2.6 2.6 0 1 0 5.2 0a2.6 2.6 0 1 0 -5.2 0M1372.6 577.1a1.7 1.7 0 1 0 3.3 0a1.7 1.7 0 1 0 -3.3 0M1382.3 593.6a2.3 2.3 0 1 0 4.6 0a2.3 2.3 0 1 0 -4.6 0M1374.7 590.1a1.7 1.7 0 1 0 3.5 0a1.7 1.7 0 1 0 -3.5 0M1378.4 578.1a2.0 2.0 0 1 0 3.9 0a2.0 2.0 0 1 0 -3.9 0M1378.9 587.8a1.9 1.9 0 1 0 3.7 0a1.9 1.9 0 1 0 -3.7 0M1374.6 576.0a1.9 1.9 0 1 0 3.8 0a1.9 1.9 0 1 0 -3.8 0M1366.9 586.6a2.1 2.1 0 1 0 4.2 0a2.1 2.1 0 1 0 -4.2 0M1370.3 583.0a2.3 2.3 0 1 0 4.6 0a2.3 2.3 0 1 0 -4.6 0M1375.2 587.9a2.4 2.4 0 1 0 4.9 0a2.4 2.4 0 1 0 -4.9 0M1380.8 581.9a1.9 1.9 0 1 0 3.8 0a1.9 1.9 0 1 0 -3.8 0M1369.9 585.8a2.3 2.3 0 1 0 4.5 0a2.3 2.3 0 1 0 -4.5 0M1373.1 593.4a2.2 2.2 0 1 0 4.5 0a2.2 2.2 0 1 0 -4.5 0M1364.0 575.7a1.6 1.6 0 1 0 3.1 0a1.6 1.6 0 1 0 -3.1 0M1377.9 590.6a2.0 2.0 0 1 0 4.1 0a2.0 2.0 0 1 0 -4.1 0M1374.5 580.4a2.5 2.5 0 1 0 5.0 0a2.5 2.5 0 1 0 -5.0 0M1365.6 580.6a1.7 1.7 0 1 0 3.5 0a1.7 1.7 0 1 0 -3.5 0M1380.9 584.4a2.4 2.4 0 1 0 4.7 0a2.4 2.4 0 1 0 -4.7 0M1385.0 590.6a2.5 2.5 0 1 0 4.9 0a2.5 2.5 0 1 0 -4.9 0M1377.7 590.2a1.8 1.8 0 1 0 3.6 0a1.8 1.8 0 1 0 -3.6 0" fill="#3af03a" opacity="0.85" filter="url(#bl1)"/>
<ellipse cx="1261.3" cy="611.3" rx="13.2" ry="11.0" fill="#12b812" opacity="0.88" filter="url(#bl2)"/>
<path d="M1264.9 601.9a2.4 2.4 0 1 0 4.8 0a2.4 2.4 0 1 0 -4.8 0M1260.3 608.8a2.2 2.2 0 1 0 4.4 0a2.2 2.2 0 1 0 -4.4 0M1267.8 605.2a1.6 1.6 0 1 0 3.1 0a1.6 1.6 0 1 0 -3.1 0M1261.1 619.1a1.9 1.9 0 1 0 3.7 0a1.9 1.9 0 1 0 -3.7 0M1251.8 609.2a1.5 1.5 0 1 0 3.1 0a1.5 1.5 0 1 0 -3.1 0M1258.8 613.2a1.7 1.7 0 1 0 3.3 0a1.7 1.7 0 1 0 -3.3 0M1271.4 614.4a1.9 1.9 0 1 0 3.9 0a1.9 1.9 0 1 0 -3.9 0M1255.0 614.1a2.6 2.6 0 1 0 5.1 0a2.6 2.6 0 1 0 -5.1 0M1261.9 604.6a2.5 2.5 0 1 0 5.1 0a2.5 2.5 0 1 0 -5.1 0M1258.2 617.2a1.8 1.8 0 1 0 3.7 0a1.8 1.8 0 1 0 -3.7 0M1264.2 610.9a1.8 1.8 0 1 0 3.5 0a1.8 1.8 0 1 0 -3.5 0M1251.2 615.6a1.6 1.6 0 1 0 3.1 0a1.6 1.6 0 1 0 -3.1 0M1256.9 612.5a1.6 1.6 0 1 0 3.3 0a1.6 1.6 0 1 0 -3.3 0M1248.1 615.0a2.6 2.6 0 1 0 5.1 0a2.6 2.6 0 1 0 -5.1 0M1255.2 605.0a1.4 1.4 0 1 0 2.8 0a1.4 1.4 0 1 0 -2.8 0M1253.6 610.3a1.6 1.6 0 1 0 3.3 0a1.6 1.6 0 1 0 -3.3 0M1258.1 619.3a2.4 2.4 0 1 0 4.8 0a2.4 2.4 0 1 0 -4.8 0M1248.8 605.1a2.5 2.5 0 1 0 5.0 0a2.5 2.5 0 1 0 -5.0 0M1248.6 612.0a2.3 2.3 0 1 0 4.7 0a2.3 2.3 0 1 0 -4.7 0M1248.5 611.9a2.2 2.2 0 1 0 4.3 0a2.2 2.2 0 1 0 -4.3 0M1248.5 613.5a2.6 2.6 0 1 0 5.2 0a2.6 2.6 0 1 0 -5.2 0M1253.4 617.0a2.3 2.3 0 1 0 4.6 0a2.3 2.3 0 1 0 -4.6 0M1269.1 609.9a1.5 1.5 0 1 0 3.1 0a1.5 1.5 0 1 0 -3.1 0M1254.7 621.6a1.7 1.7 0 1 0 3.4 0a1.7 1.7 0 1 0 -3.4 0M1254.2 608.5a2.2 2.2 0 1 0 4.3 0a2.2 2.2 0 1 0 -4.3 0M1265.0 616.0a1.5 1.5 0 1 0 3.0 0a1.5 1.5 0 1 0 -3.0 0M1270.9 614.7a1.6 1.6 0 1 0 3.2 0a1.6 1.6 0 1 0 -3.2 0M1261.1 610.1a2.3 2.3 0 1 0 4.7 0a2.3 2.3 0 1 0 -4.7 0M1250.1 607.7a2.2 2.2 0 1 0 4.3 0a2.2 2.2 0 1 0 -4.3 0M1263.7 606.6a1.7 1.7 0 1 0 3.4 0a1.7 1.7 0 1 0 -3.4 0M1258.2 620.4a1.6 1.6 0 1 0 3.2 0a1.6 1.6 0 1 0 -3.2 0M1257.5 617.0a1.6 1.6 0 1 0 3.2 0a1.6 1.6 0 1 0 -3.2 0M1263.3 607.8a1.9 1.9 0 1 0 3.9 0a1.9 1.9 0 1 0 -3.9 0M1268.6 614.2a2.3 2.3 0 1 0 4.6 0a2.3 2.3 0 1 0 -4.6 0M1267.3 619.2a1.6 1.6 0 1 0 3.2 0a1.6 1.6 0 1 0 -3.2 0M1259.7 616.4a2.4 2.4 0 1 0 4.8 0a2.4 2.4 0 1 0 -4.8 0M1249.7 616.4a2.6 2.6 0 1 0 5.2 0a2.6 2.6 0 1 0 -5.2 0M1260.1 606.9a1.5 1.5 0 1 0 3.0 0a1.5 1.5 0 1 0 -3.0 0" fill="#3af03a" opacity="0.85" filter="url(#bl1)"/>
<ellipse cx="1337.5" cy="612.0" rx="13.2" ry="26.4" fill="#12b812" opacity="0.88" filter="url(#bl2)"/>
<path d="M1324.2 598.3a2.5 2.5 0 1 0 5.1 0a2.5 2.5 0 1 0 -5.1 0M1333.9 617.7a1.5 1.5 0 1 0 3.1 0a1.5 1.5 0 1 0 -3.1 0M1339.8 630.4a1.7 1.7 0 1 0 3.3 0a1.7 1.7 0 1 0 -3.3 0M1331.9 621.5a2.6 2.6 0 1 0 5.1 0a2.6 2.6 0 1 0 -5.1 0M1343.0 631.3a2.0 2.0 0 1 0 3.9 0a2.0 2.0 0 1 0 -3.9 0M1328.1 627.8a1.5 1.5 0 1 0 3.0 0a1.5 1.5 0 1 0 -3.0 0M1339.5 587.1a2.3 2.3 0 1 0 4.5 0a2.3 2.3 0 1 0 -4.5 0M1322.3 614.2a1.9 1.9 0 1 0 3.8 0a1.9 1.9 0 1 0 -3.8 0M1333.7 604.8a2.4 2.4 0 1 0 4.8 0a2.4 2.4 0 1 0 -4.8 0M1337.4 612.4a2.2 2.2 0 1 0 4.5 0a2.2 2.2 0 1 0 -4.5 0M1335.4 615.4a2.3 2.3 0 1 0 4.6 0a2.3 2.3 0 1 0 -4.6 0M1344.0 612.2a2.1 2.1 0 1 0 4.2 0a2.1 2.1 0 1 0 -4.2 0M1334.7 600.4a2.2 2.2 0 1 0 4.3 0a2.2 2.2 0 1 0 -4.3 0M1335.7 616.7a2.0 2.0 0 1 0 3.9 0a2.0 2.0 0 1 0 -3.9 0M1329.6 604.7a2.5 2.5 0 1 0 5.0 0a2.5 2.5 0 1 0 -5.0 0M1334.4 601.1a2.0 2.0 0 1 0 4.1 0a2.0 2.0 0 1 0 -4.1 0M1343.6 623.2a1.5 1.5 0 1 0 3.1 0a1.5 1.5 0 1 0 -3.1 0M1338.5 616.1a2.6 2.6 0 1 0 5.2 0a2.6 2.6 0 1 0 -5.2 0M1334.4 607.7a1.7 1.7 0 1 0 3.5 0a1.7 1.7 0 1 0 -3.5 0M1335.0 634.8a2.5 2.5 0 1 0 5.0 0a2.5 2.5 0 1 0 -5.0 0M1329.4 602.8a1.5 1.5 0 1 0 3.0 0a1.5 1.5 0 1 0 -3.0 0M1329.2 624.7a1.9 1.9 0 1 0 3.9 0a1.9 1.9 0 1 0 -3.9 0M1324.5 614.1a2.0 2.0 0 1 0 4.1 0a2.0 2.0 0 1 0 -4.1 0M1339.1 619.0a2.4 2.4 0 1 0 4.8 0a2.4 2.4 0 1 0 -4.8 0M1332.0 621.2a2.5 2.5 0 1 0 5.1 0a2.5 2.5 0 1 0 -5.1 0M1334.4 628.7a2.5 2.5 0 1 0 5.1 0a2.5 2.5 0 1 0 -5.1 0M1339.4 618.7a1.9 1.9 0 1 0 3.8 0a1.9 1.9 0 1 0 -3.8 0M1328.5 606.7a2.0 2.0 0 1 0 4.0 0a2.0 2.0 0 1 0 -4.0 0M1329.3 597.5a2.1 2.1 0 1 0 4.2 0a2.1 2.1 0 1 0 -4.2 0M1334.3 632.9a2.3 2.3 0 1 0 4.5 0a2.3 2.3 0 1 0 -4.5 0M1329.0 633.6a1.9 1.9 0 1 0 3.7 0a1.9 1.9 0 1 0 -3.7 0M1342.9 634.9a1.9 1.9 0 1 0 3.7 0a1.9 1.9 0 1 0 -3.7 0M1338.2 617.1a2.2 2.2 0 1 0 4.3 0a2.2 2.2 0 1 0 -4.3 0M1335.5 599.4a2.3 2.3 0 1 0 4.6 0a2.3 2.3 0 1 0 -4.6 0M1334.5 631.2a1.7 1.7 0 1 0 3.5 0a1.7 1.7 0 1 0 -3.5 0M1331.7 634.0a2.6 2.6 0 1 0 5.1 0a2.6 2.6 0 1 0 -5.1 0M1346.9 611.3a2.0 2.0 0 1 0 4.0 0a2.0 2.0 0 1 0 -4.0 0M1340.9 602.1a1.9 1.9 0 1 0 3.8 0a1.9 1.9 0 1 0 -3.8 0M1337.6 604.3a1.7 1.7 0 1 0 3.4 0a1.7 1.7 0 1 0 -3.4 0M1343.1 602.8a2.0 2.0 0 1 0 4.1 0a2.0 2.0 0 1 0 -4.1 0M1342.4 605.7a2.3 2.3 0 1 0 4.6 0a2.3 2.3 0 1 0 -4.6 0M1331.4 634.3a1.8 1.8 0 1 0 3.6 0a1.8 1.8 0 1 0 -3.6 0M1336.4 636.0a1.9 1.9 0 1 0 3.7 0a1.9 1.9 0 1 0 -3.7 0M1335.0 624.8a2.4 2.4 0 1 0 4.8 0a2.4 2.4 0 1 0 -4.8 0M1343.9 626.2a2.1 2.1 0 1 0 4.2 0a2.1 2.1 0 1 0 -4.2 0M1330.1 630.1a2.1 2.1 0 1 0 4.3 0a2.1 2.1 0 1 0 -4.3 0M1340.4 590.1a2.4 2.4 0 1 0 4.7 0a2.4 2.4 0 1 0 -4.7 0M1340.0 614.9a2.6 2.6 0 1 0 5.2 0a2.6 2.6 0 1 0 -5.2 0M1339.3 610.1a1.7 1.7 0 1 0 3.5 0a1.7 1.7 0 1 0 -3.5 0M1338.0 620.7a1.5 1.5 0 1 0 3.0 0a1.5 1.5 0 1 0 -3.0 0M1342.3 614.7a2.1 2.1 0 1 0 4.2 0a2.1 2.1 0 1 0 -4.2 0M1330.3 609.2a2.5 2.5 0 1 0 5.0 0a2.5 2.5 0 1 0 -5.0 0M1337.1 602.1a1.6 1.6 0 1 0 3.2 0a1.6 1.6 0 1 0 -3.2 0M1337.6 617.7a1.6 1.6 0 1 0 3.2 0a1.6 1.6 0 1 0 -3.2 0M1325.5 630.8a2.6 2.6 0 1 0 5.1 0a2.6 2.6 0 1 0 -5.1 0M1331.7 608.4a2.0 2.0 0 1 0 4.0 0a2.0 2.0 0 1 0 -4.0 0M1342.1 609.6a2.1 2.1 0 1 0 4.1 0a2.1 2.1 0 1 0 -4.1 0M1327.6 599.4a1.6 1.6 0 1 0 3.3 0a1.6 1.6 0 1 0 -3.3 0M1339.3 623.6a2.2 2.2 0 1 0 4.3 0a2.2 2.2 0 1 0 -4.3 0M1348.5 617.0a1.5 1.5 0 1 0 3.0 0a1.5 1.5 0 1 0 -3.0 0M1333.0 635.3a1.7 1.7 0 1 0 3.3 0a1.7 1.7 0 1 0 -3.3 0M1338.1 608.9a1.4 1.4 0 1 0 2.9 0a1.4 1.4 0 1 0 -2.9 0M1327.8 600.7a1.5 1.5 0 1 0 3.1 0a1.5 1.5 0 1 0 -3.1 0M1345.8 602.2a1.7 1.7 0 1 0 3.3 0a1.7 1.7 0 1 0 -3.3 0M1341.7 633.8a1.9 1.9 0 1 0 3.8 0a1.9 1.9 0 1 0 -3.8 0M1323.7 605.6a2.2 2.2 0 1 0 4.3 0a2.2 2.2 0 1 0 -4.3 0M1345.2 601.8a1.5 1.5 0 1 0 2.9 0a1.5 1.5 0 1 0 -2.9 0M1347.1 609.0a2.5 2.5 0 1 0 5.1 0a2.5 2.5 0 1 0 -5.1 0M1344.7 603.1a2.5 2.5 0 1 0 5.0 0a2.5 2.5 0 1 0 -5.0 0M1326.2 602.7a2.3 2.3 0 1 0 4.6 0a2.3 2.3 0 1 0 -4.6 0M1323.8 604.5a2.4 2.4 0 1 0 4.7 0a2.4 2.4 0 1 0 -4.7 0M1330.0 608.0a1.5 1.5 0 1 0 2.9 0a1.5 1.5 0 1 0 -2.9 0M1328.9 604.4a2.5 2.5 0 1 0 5.0 0a2.5 2.5 0 1 0 -5.0 0M1340.8 604.4a2.0 2.0 0 1 0 4.0 0a2.0 2.0 0 1 0 -4.0 0M1344.7 607.7a1.5 1.5 0 1 0 2.9 0a1.5 1.5 0 1 0 -2.9 0M1323.1 616.7a2.1 2.1 0 1 0 4.1 0a2.1 2.1 0 1 0 -4.1 0M1333.1 610.0a2.3 2.3 0 1 0 4.6 0a2.3 2.3 0 1 0 -4.6 0M1340.2 606.1a1.6 1.6 0 1 0 3.2 0a1.6 1.6 0 1 0 -3.2 0M1349.3 614.6a1.9 1.9 0 1 0 3.8 0a1.9 1.9 0 1 0 -3.8 0M1347.2 624.7a1.7 1.7 0 1 0 3.4 0a1.7 1.7 0 1 0 -3.4 0M1347.7 601.9a2.1 2.1 0 1 0 4.2 0a2.1 2.1 0 1 0 -4.2 0M1333.9 599.7a1.6 1.6 0 1 0 3.2 0a1.6 1.6 0 1 0 -3.2 0M1342.9 589.5a2.2 2.2 0 1 0 4.4 0a2.2 2.2 0 1 0 -4.4 0M1332.5 589.3a1.5 1.5 0 1 0 3.0 0a1.5 1.5 0 1 0 -3.0 0M1322.6 604.3a1.8 1.8 0 1 0 3.7 0a1.8 1.8 0 1 0 -3.7 0M1340.8 622.1a1.6 1.6 0 1 0 3.3 0a1.6 1.6 0 1 0 -3.3 0" fill="#3af03a" opacity="0.85" filter="url(#bl1)"/>
<ellipse cx="1383.2" cy="622.0" rx="15.4" ry="15.4" fill="#12b812" opacity="0.88" filter="url(#bl2)"/>
<path d="M1373.1 625.1a2.3 2.3 0 1 0 4.6 0a2.3 2.3 0 1 0 -4.6 0M1365.4 620.4a2.5 2.5 0 1 0 5.0 0a2.5 2.5 0 1 0 -5.0 0M1397.3 623.1a1.7 1.7 0 1 0 3.3 0a1.7 1.7 0 1 0 -3.3 0M1382.9 612.5a2.4 2.4 0 1 0 4.9 0a2.4 2.4 0 1 0 -4.9 0M1394.3 624.4a2.5 2.5 0 1 0 4.9 0a2.5 2.5 0 1 0 -4.9 0M1379.7 623.9a1.7 1.7 0 1 0 3.5 0a1.7 1.7 0 1 0 -3.5 0M1379.9 632.3a2.1 2.1 0 1 0 4.1 0a2.1 2.1 0 1 0 -4.1 0M1385.5 637.2a1.9 1.9 0 1 0 3.9 0a1.9 1.9 0 1 0 -3.9 0M1387.1 635.0a2.1 2.1 0 1 0 4.2 0a2.1 2.1 0 1 0 -4.2 0M1375.2 634.1a2.5 2.5 0 1 0 5.1 0a2.5 2.5 0 1 0 -5.1 0M1394.1 617.4a2.6 2.6 0 1 0 5.1 0a2.6 2.6 0 1 0 -5.1 0M1372.2 634.1a2.1 2.1 0 1 0 4.3 0a2.1 2.1 0 1 0 -4.3 0M1387.2 632.0a2.4 2.4 0 1 0 4.8 0a2.4 2.4 0 1 0 -4.8 0M1385.7 610.7a1.4 1.4 0 1 0 2.9 0a1.4 1.4 0 1 0 -2.9 0M1394.8 618.4a1.5 1.5 0 1 0 3.1 0a1.5 1.5 0 1 0 -3.1 0M1391.0 622.9a1.8 1.8 0 1 0 3.7 0a1.8 1.8 0 1 0 -3.7 0M1373.3 631.4a2.6 2.6 0 1 0 5.2 0a2.6 2.6 0 1 0 -5.2 0M1370.7 612.1a1.8 1.8 0 1 0 3.5 0a1.8 1.8 0 1 0 -3.5 0M1383.2 626.6a2.2 2.2 0 1 0 4.3 0a2.2 2.2 0 1 0 -4.3 0M1375.2 626.0a1.5 1.5 0 1 0 2.9 0a1.5 1.5 0 1 0 -2.9 0M1372.9 634.5a1.5 1.5 0 1 0 3.0 0a1.5 1.5 0 1 0 -3.0 0M1383.8 622.2a2.6 2.6 0 1 0 5.2 0a2.6 2.6 0 1 0 -5.2 0M1382.9 610.2a1.5 1.5 0 1 0 3.1 0a1.5 1.5 0 1 0 -3.1 0M1367.8 630.5a2.3 2.3 0 1 0 4.7 0a2.3 2.3 0 1 0 -4.7 0M1381.0 609.9a1.7 1.7 0 1 0 3.4 0a1.7 1.7 0 1 0 -3.4 0M1394.2 629.3a1.8 1.8 0 1 0 3.5 0a1.8 1.8 0 1 0 -3.5 0M1377.5 617.2a1.9 1.9 0 1 0 3.7 0a1.9 1.9 0 1 0 -3.7 0M1389.5 618.6a2.6 2.6 0 1 0 5.1 0a2.6 2.6 0 1 0 -5.1 0M1388.3 613.6a2.0 2.0 0 1 0 4.0 0a2.0 2.0 0 1 0 -4.0 0M1376.1 620.1a2.5 2.5 0 1 0 4.9 0a2.5 2.5 0 1 0 -4.9 0M1374.4 625.8a1.9 1.9 0 1 0 3.7 0a1.9 1.9 0 1 0 -3.7 0M1392.2 626.8a2.4 2.4 0 1 0 4.7 0a2.4 2.4 0 1 0 -4.7 0M1387.7 635.9a2.5 2.5 0 1 0 5.1 0a2.5 2.5 0 1 0 -5.1 0M1374.1 613.1a2.5 2.5 0 1 0 5.1 0a2.5 2.5 0 1 0 -5.1 0M1374.3 627.3a2.3 2.3 0 1 0 4.5 0a2.3 2.3 0 1 0 -4.5 0M1370.0 615.5a2.4 2.4 0 1 0 4.8 0a2.4 2.4 0 1 0 -4.8 0M1393.7 626.2a2.4 2.4 0 1 0 4.8 0a2.4 2.4 0 1 0 -4.8 0M1388.2 620.1a1.6 1.6 0 1 0 3.2 0a1.6 1.6 0 1 0 -3.2 0M1380.0 621.6a2.2 2.2 0 1 0 4.4 0a2.2 2.2 0 1 0 -4.4 0M1383.9 614.6a1.6 1.6 0 1 0 3.1 0a1.6 1.6 0 1 0 -3.1 0M1380.1 612.3a2.2 2.2 0 1 0 4.3 0a2.2 2.2 0 1 0 -4.3 0M1385.0 606.9a1.7 1.7 0 1 0 3.3 0a1.7 1.7 0 1 0 -3.3 0M1391.9 612.6a2.0 2.0 0 1 0 4.1 0a2.0 2.0 0 1 0 -4.1 0M1389.7 616.8a1.7 1.7 0 1 0 3.3 0a1.7 1.7 0 1 0 -3.3 0M1394.8 617.5a2.5 2.5 0 1 0 4.9 0a2.5 2.5 0 1 0 -4.9 0M1389.1 624.4a2.4 2.4 0 1 0 4.9 0a2.4 2.4 0 1 0 -4.9 0M1368.8 626.4a1.8 1.8 0 1 0 3.5 0a1.8 1.8 0 1 0 -3.5 0M1387.4 608.7a2.3 2.3 0 1 0 4.6 0a2.3 2.3 0 1 0 -4.6 0M1390.8 618.6a1.7 1.7 0 1 0 3.4 0a1.7 1.7 0 1 0 -3.4 0M1365.4 621.3a2.2 2.2 0 1 0 4.3 0a2.2 2.2 0 1 0 -4.3 0M1371.2 626.7a2.4 2.4 0 1 0 4.8 0a2.4 2.4 0 1 0 -4.8 0M1388.6 611.9a2.5 2.5 0 1 0 5.1 0a2.5 2.5 0 1 0 -5.1 0M1381.7 623.0a2.1 2.1 0 1 0 4.2 0a2.1 2.1 0 1 0 -4.2 0M1391.6 633.1a1.4 1.4 0 1 0 2.9 0a1.4 1.4 0 1 0 -2.9 0M1382.4 608.6a1.6 1.6 0 1 0 3.2 0a1.6 1.6 0 1 0 -3.2 0M1381.1 621.1a1.8 1.8 0 1 0 3.7 0a1.8 1.8 0 1 0 -3.7 0M1387.2 616.7a1.5 1.5 0 1 0 3.0 0a1.5 1.5 0 1 0 -3.0 0M1381.1 624.1a2.1 2.1 0 1 0 4.3 0a2.1 2.1 0 1 0 -4.3 0M1370.6 634.3a2.3 2.3 0 1 0 4.6 0a2.3 2.3 0 1 0 -4.6 0M1367.7 620.0a1.9 1.9 0 1 0 3.9 0a1.9 1.9 0 1 0 -3.9 0" fill="#3af03a" opacity="0.85" filter="url(#bl1)"/>
<ellipse cx="1432.0" cy="612.0" rx="17.6" ry="15.4" fill="#12b812" opacity="0.88" transform="rotate(-30 1432.0 612.0)" filter="url(#bl2)"/>
<path d="M1442.3 618.1a1.6 1.6 0 1 0 3.2 0a1.6 1.6 0 1 0 -3.2 0M1443.2 608.9a1.8 1.8 0 1 0 3.5 0a1.8 1.8 0 1 0 -3.5 0M1441.8 621.8a2.6 2.6 0 1 0 5.1 0a2.6 2.6 0 1 0 -5.1 0M1421.2 607.1a1.5 1.5 0 1 0 3.0 0a1.5 1.5 0 1 0 -3.0 0M1425.0 626.7a2.1 2.1 0 1 0 4.1 0a2.1 2.1 0 1 0 -4.1 0M1414.5 606.5a1.7 1.7 0 1 0 3.4 0a1.7 1.7 0 1 0 -3.4 0M1418.2 611.8a1.7 1.7 0 1 0 3.3 0a1.7 1.7 0 1 0 -3.3 0M1423.7 611.4a1.9 1.9 0 1 0 3.8 0a1.9 1.9 0 1 0 -3.8 0M1426.3 599.6a1.8 1.8 0 1 0 3.5 0a1.8 1.8 0 1 0 -3.5 0M1437.6 615.6a2.3 2.3 0 1 0 4.5 0a2.3 2.3 0 1 0 -4.5 0M1421.6 607.6a2.1 2.1 0 1 0 4.2 0a2.1 2.1 0 1 0 -4.2 0M1446.1 614.6a1.7 1.7 0 1 0 3.4 0a1.7 1.7 0 1 0 -3.4 0M1412.8 609.5a2.3 2.3 0 1 0 4.6 0a2.3 2.3 0 1 0 -4.6 0M1431.2 626.4a1.8 1.8 0 1 0 3.6 0a1.8 1.8 0 1 0 -3.6 0M1432.6 607.2a1.6 1.6 0 1 0 3.2 0a1.6 1.6 0 1 0 -3.2 0M1429.0 601.7a1.7 1.7 0 1 0 3.5 0a1.7 1.7 0 1 0 -3.5 0M1438.8 618.8a1.6 1.6 0 1 0 3.2 0a1.6 1.6 0 1 0 -3.2 0M1439.4 611.5a1.8 1.8 0 1 0 3.6 0a1.8 1.8 0 1 0 -3.6 0M1437.8 604.3a2.2 2.2 0 1 0 4.4 0a2.2 2.2 0 1 0 -4.4 0M1447.8 612.3a1.4 1.4 0 1 0 2.9 0a1.4 1.4 0 1 0 -2.9 0M1440.8 621.9a1.6 1.6 0 1 0 3.2 0a1.6 1.6 0 1 0 -3.2 0M1421.7 606.6a2.0 2.0 0 1 0 3.9 0a2.0 2.0 0 1 0 -3.9 0M1422.5 608.6a1.9 1.9 0 1 0 3.8 0a1.9 1.9 0 1 0 -3.8 0M1417.0 608.5a2.1 2.1 0 1 0 4.2 0a2.1 2.1 0 1 0 -4.2 0M1427.4 609.3a2.2 2.2 0 1 0 4.5 0a2.2 2.2 0 1 0 -4.5 0M1431.4 613.4a2.3 2.3 0 1 0 4.5 0a2.3 2.3 0 1 0 -4.5 0M1426.2 622.9a2.2 2.2 0 1 0 4.4 0a2.2 2.2 0 1 0 -4.4 0M1427.9 624.8a2.5 2.5 0 1 0 5.1 0a2.5 2.5 0 1 0 -5.1 0M1423.4 609.8a2.5 2.5 0 1 0 5.0 0a2.5 2.5 0 1 0 -5.0 0M1427.6 611.3a1.9 1.9 0 1 0 3.8 0a1.9 1.9 0 1 0 -3.8 0M1434.1 600.2a2.5 2.5 0 1 0 5.0 0a2.5 2.5 0 1 0 -5.0 0M1419.6 622.9a2.0 2.0 0 1 0 4.0 0a2.0 2.0 0 1 0 -4.0 0M1434.4 596.2a1.8 1.8 0 1 0 3.7 0a1.8 1.8 0 1 0 -3.7 0M1426.6 622.6a2.4 2.4 0 1 0 4.7 0a2.4 2.4 0 1 0 -4.7 0M1422.2 598.2a2.5 2.5 0 1 0 5.0 0a2.5 2.5 0 1 0 -5.0 0M1433.8 623.3a2.5 2.5 0 1 0 5.1 0a2.5 2.5 0 1 0 -5.1 0M1440.3 623.1a1.7 1.7 0 1 0 3.5 0a1.7 1.7 0 1 0 -3.5 0M1438.7 604.9a2.3 2.3 0 1 0 4.6 0a2.3 2.3 0 1 0 -4.6 0M1414.4 618.7a2.5 2.5 0 1 0 5.0 0a2.5 2.5 0 1 0 -5.0 0M1427.0 624.7a1.5 1.5 0 1 0 3.0 0a1.5 1.5 0 1 0 -3.0 0M1421.3 619.2a2.4 2.4 0 1 0 4.8 0a2.4 2.4 0 1 0 -4.8 0M1439.8 617.8a2.5 2.5 0 1 0 5.0 0a2.5 2.5 0 1 0 -5.0 0M1428.4 622.4a1.7 1.7 0 1 0 3.5 0a1.7 1.7 0 1 0 -3.5 0M1423.3 606.5a1.8 1.8 0 1 0 3.7 0a1.8 1.8 0 1 0 -3.7 0M1428.8 600.6a1.5 1.5 0 1 0 3.0 0a1.5 1.5 0 1 0 -3.0 0M1422.8 609.2a2.2 2.2 0 1 0 4.5 0a2.2 2.2 0 1 0 -4.5 0M1430.3 626.1a2.1 2.1 0 1 0 4.3 0a2.1 2.1 0 1 0 -4.3 0M1445.1 614.3a1.9 1.9 0 1 0 3.8 0a1.9 1.9 0 1 0 -3.8 0M1418.6 613.1a2.5 2.5 0 1 0 5.1 0a2.5 2.5 0 1 0 -5.1 0M1428.4 616.2a2.4 2.4 0 1 0 4.7 0a2.4 2.4 0 1 0 -4.7 0M1436.8 619.7a1.8 1.8 0 1 0 3.6 0a1.8 1.8 0 1 0 -3.6 0M1441.4 624.0a1.5 1.5 0 1 0 2.9 0a1.5 1.5 0 1 0 -2.9 0M1438.2 609.9a2.6 2.6 0 1 0 5.1 0a2.6 2.6 0 1 0 -5.1 0M1420.0 617.7a2.2 2.2 0 1 0 4.3 0a2.2 2.2 0 1 0 -4.3 0M1424.7 608.5a2.4 2.4 0 1 0 4.8 0a2.4 2.4 0 1 0 -4.8 0M1429.2 618.4a2.4 2.4 0 1 0 4.7 0a2.4 2.4 0 1 0 -4.7 0M1431.2 621.6a1.6 1.6 0 1 0 3.2 0a1.6 1.6 0 1 0 -3.2 0M1443.6 611.4a2.0 2.0 0 1 0 3.9 0a2.0 2.0 0 1 0 -3.9 0M1430.4 600.6a1.9 1.9 0 1 0 3.9 0a1.9 1.9 0 1 0 -3.9 0M1434.8 621.2a2.2 2.2 0 1 0 4.4 0a2.2 2.2 0 1 0 -4.4 0M1413.3 613.6a2.1 2.1 0 1 0 4.3 0a2.1 2.1 0 1 0 -4.3 0M1423.7 599.9a1.7 1.7 0 1 0 3.4 0a1.7 1.7 0 1 0 -3.4 0M1435.1 624.4a1.5 1.5 0 1 0 3.1 0a1.5 1.5 0 1 0 -3.1 0M1435.7 608.3a1.6 1.6 0 1 0 3.3 0a1.6 1.6 0 1 0 -3.3 0M1446.2 617.9a1.6 1.6 0 1 0 3.2 0a1.6 1.6 0 1 0 -3.2 0M1426.2 608.9a2.4 2.4 0 1 0 4.8 0a2.4 2.4 0 1 0 -4.8 0M1440.4 600.2a1.6 1.6 0 1 0 3.1 0a1.6 1.6 0 1 0 -3.1 0M1440.8 608.2a2.6 2.6 0 1 0 5.1 0a2.6 2.6 0 1 0 -5.1 0" fill="#3af03a" opacity="0.85" filter="url(#bl1)"/>
<ellipse cx="1296.8" cy="636.0" rx="9.9" ry="9.9" fill="#12b812" opacity="0.88" filter="url(#bl2)"/>
<path d="M1292.0 627.2a1.7 1.7 0 1 0 3.5 0a1.7 1.7 0 1 0 -3.5 0M1288.8 635.7a2.4 2.4 0 1 0 4.8 0a2.4 2.4 0 1 0 -4.8 0M1289.7 630.1a2.4 2.4 0 1 0 4.7 0a2.4 2.4 0 1 0 -4.7 0M1291.2 628.3a1.9 1.9 0 1 0 3.7 0a1.9 1.9 0 1 0 -3.7 0M1297.9 627.8a1.8 1.8 0 1 0 3.6 0a1.8 1.8 0 1 0 -3.6 0M1289.9 634.9a1.9 1.9 0 1 0 3.8 0a1.9 1.9 0 1 0 -3.8 0M1295.5 632.0a1.5 1.5 0 1 0 2.9 0a1.5 1.5 0 1 0 -2.9 0M1298.9 631.8a1.7 1.7 0 1 0 3.3 0a1.7 1.7 0 1 0 -3.3 0M1298.4 638.4a2.5 2.5 0 1 0 5.0 0a2.5 2.5 0 1 0 -5.0 0M1288.2 634.6a2.1 2.1 0 1 0 4.1 0a2.1 2.1 0 1 0 -4.1 0M1297.6 630.0a1.8 1.8 0 1 0 3.7 0a1.8 1.8 0 1 0 -3.7 0M1303.7 640.0a2.1 2.1 0 1 0 4.2 0a2.1 2.1 0 1 0 -4.2 0M1299.9 627.6a1.8 1.8 0 1 0 3.6 0a1.8 1.8 0 1 0 -3.6 0M1296.0 640.0a2.2 2.2 0 1 0 4.4 0a2.2 2.2 0 1 0 -4.4 0M1287.4 632.2a1.7 1.7 0 1 0 3.3 0a1.7 1.7 0 1 0 -3.3 0M1294.2 635.6a1.5 1.5 0 1 0 3.0 0a1.5 1.5 0 1 0 -3.0 0M1295.7 637.1a2.1 2.1 0 1 0 4.1 0a2.1 2.1 0 1 0 -4.1 0M1285.1 633.3a2.5 2.5 0 1 0 5.0 0a2.5 2.5 0 1 0 -5.0 0M1301.2 631.4a1.9 1.9 0 1 0 3.7 0a1.9 1.9 0 1 0 -3.7 0M1285.6 635.7a2.4 2.4 0 1 0 4.9 0a2.4 2.4 0 1 0 -4.9 0M1289.9 632.5a1.4 1.4 0 1 0 2.9 0a1.4 1.4 0 1 0 -2.9 0M1292.6 633.7a1.9 1.9 0 1 0 3.9 0a1.9 1.9 0 1 0 -3.9 0M1293.0 642.9a2.3 2.3 0 1 0 4.5 0a2.3 2.3 0 1 0 -4.5 0M1298.4 631.3a1.5 1.5 0 1 0 3.1 0a1.5 1.5 0 1 0 -3.1 0M1295.6 631.9a2.4 2.4 0 1 0 4.9 0a2.4 2.4 0 1 0 -4.9 0M1298.4 638.4a1.7 1.7 0 1 0 3.4 0a1.7 1.7 0 1 0 -3.4 0M1291.8 635.3a2.0 2.0 0 1 0 4.0 0a2.0 2.0 0 1 0 -4.0 0" fill="#3af03a" opacity="0.85" filter="url(#bl1)"/>
<ellipse cx="1225.0" cy="560.0" rx="5.5" ry="5.5" fill="#12b812" opacity="0.88" filter="url(#bl2)"/>
<path d="M1224.2 559.8a1.6 1.6 0 1 0 3.2 0a1.6 1.6 0 1 0 -3.2 0M1227.9 558.4a1.6 1.6 0 1 0 3.3 0a1.6 1.6 0 1 0 -3.3 0M1221.8 560.3a1.7 1.7 0 1 0 3.3 0a1.7 1.7 0 1 0 -3.3 0M1218.1 562.3a2.0 2.0 0 1 0 3.9 0a2.0 2.0 0 1 0 -3.9 0M1220.0 557.2a1.6 1.6 0 1 0 3.1 0a1.6 1.6 0 1 0 -3.1 0M1222.5 557.6a1.9 1.9 0 1 0 3.7 0a1.9 1.9 0 1 0 -3.7 0M1219.9 556.2a2.5 2.5 0 1 0 4.9 0a2.5 2.5 0 1 0 -4.9 0M1225.0 559.6a1.7 1.7 0 1 0 3.5 0a1.7 1.7 0 1 0 -3.5 0M1228.7 561.4a1.4 1.4 0 1 0 2.9 0a1.4 1.4 0 1 0 -2.9 0M1220.9 555.5a1.9 1.9 0 1 0 3.8 0a1.9 1.9 0 1 0 -3.8 0M1218.9 557.3a2.0 2.0 0 1 0 4.0 0a2.0 2.0 0 1 0 -4.0 0" fill="#3af03a" opacity="0.85" filter="url(#bl1)"/>
</g>
<rect x="1117.7" y="682.4" width="51.6" height="5.1" fill="#fff"/>
<g clip-path="url(#cp_r2k)">
<rect x="1544.7" y="389.5" width="420.7" height="308.9" fill="#080500"/>
<path d="M1586.0 525.0C1586.7 511.8 1593.0 500.2 1600.0 488.0C1607.0 475.8 1617.2 461.3 1628.0 452.0C1638.8 442.7 1651.0 436.7 1665.0 432.0C1679.0 427.3 1695.3 425.0 1712.0 424.0C1728.7 423.0 1747.5 423.2 1765.0 426.0C1782.5 428.8 1801.2 433.7 1817.0 441.0C1832.8 448.3 1847.8 460.2 1860.0 470.0C1872.2 479.8 1882.7 490.0 1890.0 500.0C1897.3 510.0 1901.2 520.5 1904.0 530.0C1906.8 539.5 1908.0 547.8 1907.0 557.0C1906.0 566.2 1902.5 576.3 1898.0 585.0C1893.5 593.7 1888.8 600.7 1880.0 609.0C1871.2 617.3 1858.3 627.3 1845.0 635.0C1831.7 642.7 1814.2 650.5 1800.0 655.0C1785.8 659.5 1775.0 662.0 1760.0 662.0C1745.0 662.0 1725.0 659.5 1710.0 655.0C1695.0 650.5 1681.7 642.2 1670.0 635.0C1658.3 627.8 1650.0 620.3 1640.0 612.0C1630.0 603.7 1617.3 592.5 1610.0 585.0C1602.7 577.5 1600.0 577.0 1596.0 567.0C1592.0 557.0 1585.3 538.2 1586.0 525.0Z" fill="#221200" opacity="1.0" filter="url(#bl1)"/>
<path d="M1544.7 389.5C1556.9 364.8 1605.5 385.2 1618.0 389.5C1630.5 393.8 1621.0 404.9 1620.0 415.0C1619.0 425.1 1615.3 438.3 1612.0 450.0C1608.7 461.7 1603.7 474.2 1600.0 485.0C1596.3 495.8 1593.3 507.2 1590.0 515.0C1586.7 522.8 1584.7 527.8 1580.0 532.0C1575.3 536.2 1567.9 539.0 1562.0 540.0C1556.1 541.0 1547.6 563.1 1544.7 538.0C1541.8 512.9 1532.5 414.2 1544.7 389.5Z" fill="#201000" opacity="1.0" filter="url(#bl2)"/>
<path d="M1745.0 389.5C1759.5 386.9 1825.3 385.2 1842.0 389.5C1858.7 393.8 1846.7 406.6 1845.0 415.0C1843.3 423.4 1837.8 436.2 1832.0 440.0C1826.2 443.8 1818.7 441.3 1810.0 438.0C1801.3 434.7 1789.2 425.5 1780.0 420.0C1770.8 414.5 1760.8 410.1 1755.0 405.0C1749.2 399.9 1730.5 392.1 1745.0 389.5Z" fill="#201000" opacity="1.0" filter="url(#bl2)"/>
<ellipse cx="1750" cy="540" rx="118" ry="85" transform="rotate(8 1750 540)" fill="none" stroke="#4aa420" stroke-width="40" opacity="0.55" filter="url(#bl8)"/>
<ellipse cx="1625.0" cy="487.0" rx="15.4" ry="19.8" fill="#3cb41c" opacity="0.75" filter="url(#bl4)"/>
<ellipse cx="1608.4" cy="522.6" rx="11.0" ry="19.8" fill="#3cb41c" opacity="0.75" filter="url(#bl4)"/>
<ellipse cx="1672.6" cy="463.2" rx="15.4" ry="13.2" fill="#3cb41c" opacity="0.75" filter="url(#bl4)"/>
<ellipse cx="1732.0" cy="439.4" rx="15.4" ry="11.0" fill="#3cb41c" opacity="0.75" filter="url(#bl4)"/>
<ellipse cx="1767.6" cy="439.4" rx="15.4" ry="11.0" fill="#3cb41c" opacity="0.75" filter="url(#bl4)"/>
<ellipse cx="1820.0" cy="458.4" rx="17.6" ry="13.2" fill="#3cb41c" opacity="0.75" filter="url(#bl4)"/>
<ellipse cx="1850.8" cy="498.8" rx="15.4" ry="15.4" fill="#3cb41c" opacity="0.75" filter="url(#bl4)"/>
<ellipse cx="1877.0" cy="527.3" rx="13.2" ry="22.0" fill="#3cb41c" opacity="0.75" filter="url(#bl4)"/>
<ellipse cx="1881.7" cy="558.2" rx="11.0" ry="19.8" fill="#3cb41c" opacity="0.75" filter="url(#bl4)"/>
<ellipse cx="1839.0" cy="565.4" rx="15.4" ry="22.0" fill="#3cb41c" opacity="0.75" filter="url(#bl4)"/>
<ellipse cx="1827.0" cy="594.0" rx="15.4" ry="15.4" fill="#3cb41c" opacity="0.75" filter="url(#bl4)"/>
<ellipse cx="1803.3" cy="527.3" rx="13.2" ry="22.0" fill="#3cb41c" opacity="0.75" filter="url(#bl4)"/>
<ellipse cx="1755.8" cy="494.0" rx="11.0" ry="15.4" fill="#3cb41c" opacity="0.75" filter="url(#bl4)"/>
<ellipse cx="1779.5" cy="546.4" rx="13.2" ry="13.2" fill="#3cb41c" opacity="0.75" filter="url(#bl4)"/>
<ellipse cx="1705.9" cy="546.4" rx="15.4" ry="13.2" fill="#3cb41c" opacity="0.75" filter="url(#bl4)"/>
<ellipse cx="1682.1" cy="517.8" rx="13.2" ry="17.6" fill="#3cb41c" opacity="0.75" filter="url(#bl4)"/>
<ellipse cx="1648.8" cy="551.1" rx="13.2" ry="13.2" fill="#3cb41c" opacity="0.75" filter="url(#bl4)"/>
<ellipse cx="1617.9" cy="574.9" rx="13.2" ry="11.0" fill="#3cb41c" opacity="0.75" filter="url(#bl4)"/>
<ellipse cx="1637.0" cy="589.0" rx="11.0" ry="11.0" fill="#3cb41c" opacity="0.75" filter="url(#bl4)"/>
<ellipse cx="1755.8" cy="593.9" rx="13.2" ry="13.2" fill="#3cb41c" opacity="0.75" filter="url(#bl4)"/>
<ellipse cx="1727.3" cy="629.5" rx="11.0" ry="13.2" fill="#3cb41c" opacity="0.75" filter="url(#bl4)"/>
<ellipse cx="1767.6" cy="629.5" rx="15.4" ry="13.2" fill="#3cb41c" opacity="0.75" filter="url(#bl4)"/>
<ellipse cx="1810.4" cy="620.0" rx="13.2" ry="11.0" fill="#3cb41c" opacity="0.75" filter="url(#bl4)"/>
<ellipse cx="1672.6" cy="617.6" rx="11.0" ry="11.0" fill="#3cb41c" opacity="0.75" filter="url(#bl4)"/>
<ellipse cx="1705.0" cy="480.0" rx="11.0" ry="11.0" fill="#3cb41c" opacity="0.75" filter="url(#bl4)"/>
<ellipse cx="1860.0" cy="600.0" rx="11.0" ry="13.2" fill="#3cb41c" opacity="0.75" filter="url(#bl4)"/>
<ellipse cx="1790.0" cy="470.0" rx="11.0" ry="11.0" fill="#3cb41c" opacity="0.75" filter="url(#bl4)"/>
<g clip-path="url(#ct_r2k_main)"><rect x="1544.7" y="389.5" width="420.7" height="308.9" filter="url(#tx_r2k)" opacity="1.0"/></g>
<g clip-path="url(#ct_r2k_ul)"><rect x="1544.7" y="389.5" width="420.7" height="308.9" filter="url(#tx_r2k2)" opacity="1.0"/></g>
<g clip-path="url(#ct_r2k_top)"><rect x="1544.7" y="389.5" width="420.7" height="308.9" filter="url(#tx_r2k3)" opacity="1.0"/></g>
<path d="M1586.0 525.0C1586.7 511.8 1593.0 500.2 1600.0 488.0C1607.0 475.8 1617.2 461.3 1628.0 452.0C1638.8 442.7 1651.0 436.7 1665.0 432.0C1679.0 427.3 1695.3 425.0 1712.0 424.0C1728.7 423.0 1747.5 423.2 1765.0 426.0C1782.5 428.8 1801.2 433.7 1817.0 441.0C1832.8 448.3 1847.8 460.2 1860.0 470.0C1872.2 479.8 1882.7 490.0 1890.0 500.0C1897.3 510.0 1901.2 520.5 1904.0 530.0C1906.8 539.5 1908.0 547.8 1907.0 557.0C1906.0 566.2 1902.5 576.3 1898.0 585.0C1893.5 593.7 1888.8 600.7 1880.0 609.0C1871.2 617.3 1858.3 627.3 1845.0 635.0C1831.7 642.7 1814.2 650.5 1800.0 655.0C1785.8 659.5 1775.0 662.0 1760.0 662.0C1745.0 662.0 1725.0 659.5 1710.0 655.0C1695.0 650.5 1681.7 642.2 1670.0 635.0C1658.3 627.8 1650.0 620.3 1640.0 612.0C1630.0 603.7 1617.3 592.5 1610.0 585.0C1602.7 577.5 1600.0 577.0 1596.0 567.0C1592.0 557.0 1585.3 538.2 1586.0 525.0Z" fill="none" stroke="#d01808" stroke-width="12" opacity="0.3" filter="url(#bl2)"/>
<path d="M1586.0 525.0C1586.7 511.8 1593.0 500.2 1600.0 488.0C1607.0 475.8 1617.2 461.3 1628.0 452.0C1638.8 442.7 1651.0 436.7 1665.0 432.0C1679.0 427.3 1695.3 425.0 1712.0 424.0C1728.7 423.0 1747.5 423.2 1765.0 426.0C1782.5 428.8 1801.2 433.7 1817.0 441.0C1832.8 448.3 1847.8 460.2 1860.0 470.0C1872.2 479.8 1882.7 490.0 1890.0 500.0C1897.3 510.0 1901.2 520.5 1904.0 530.0C1906.8 539.5 1908.0 547.8 1907.0 557.0C1906.0 566.2 1902.5 576.3 1898.0 585.0C1893.5 593.7 1888.8 600.7 1880.0 609.0C1871.2 617.3 1858.3 627.3 1845.0 635.0C1831.7 642.7 1814.2 650.5 1800.0 655.0C1785.8 659.5 1775.0 662.0 1760.0 662.0C1745.0 662.0 1725.0 659.5 1710.0 655.0C1695.0 650.5 1681.7 642.2 1670.0 635.0C1658.3 627.8 1650.0 620.3 1640.0 612.0C1630.0 603.7 1617.3 592.5 1610.0 585.0C1602.7 577.5 1600.0 577.0 1596.0 567.0C1592.0 557.0 1585.3 538.2 1586.0 525.0Z" fill="none" stroke="#e02010" stroke-width="2.5" opacity="0.4" filter="url(#bl1)"/>
<ellipse cx="1745.0" cy="510.0" rx="14.0" ry="20.0" fill="#050300" opacity="0.6" filter="url(#bl4)"/>
<ellipse cx="1795.0" cy="590.0" rx="10.0" ry="10.0" fill="#050300" opacity="0.6" filter="url(#bl4)"/>
<ellipse cx="1700.0" cy="600.0" rx="12.0" ry="8.0" fill="#050300" opacity="0.6" filter="url(#bl4)"/>
<rect x="1684.8" y="592.8" width="18" height="18" fill="none" stroke="#fff" stroke-width="1.6"/>
<rect x="1885.3" y="618.8" width="81" height="80" fill="#fff"/>
<rect x="1887.8" y="621.3" width="78" height="77.1" fill="#102000"/>
<ellipse cx="1945.0" cy="680.0" rx="25.0" ry="22.0" fill="#30a020" opacity="0.9" filter="url(#bl2)"/>
<ellipse cx="1960.0" cy="650.0" rx="10.0" ry="20.0" fill="#40a020" opacity="0.7" filter="url(#bl2)"/>
<ellipse cx="1902.0" cy="635.0" rx="13.0" ry="14.0" fill="#ff2000" opacity="1.0" filter="url(#bl2)"/>
<ellipse cx="1895.0" cy="660.0" rx="5.0" ry="5.0" fill="#ff2000" opacity="0.9" filter="url(#bl2)"/>
<ellipse cx="1898.0" cy="680.0" rx="5.0" ry="6.0" fill="#ff2000" opacity="0.9" filter="url(#bl2)"/>
<ellipse cx="1914.0" cy="663.0" rx="9.0" ry="9.0" fill="#ff7a10" opacity="0.95" filter="url(#bl2)"/>
<ellipse cx="1941.0" cy="660.0" rx="7.0" ry="7.0" fill="#e06020" opacity="0.8" filter="url(#bl2)"/>
<ellipse cx="1920.0" cy="690.0" rx="8.0" ry="6.0" fill="#c03000" opacity="0.6" filter="url(#bl2)"/>
</g>
<rect x="1551.4" y="687.7" width="52.3" height="4.8" fill="#fff"/>
<g clip-path="url(#cp_r3c)">
<rect x="1110.8" y="708.0" width="423.6" height="325.4" fill="#000"/>
<path d="M1111 712 L1300 712 L1380 740 L1290 760 L1200 790 L1150 830 L1111 820 Z" fill="#300606" opacity="0.75" filter="url(#bl8)"/>
<ellipse cx="1505" cy="770" rx="30" ry="50" fill="#250404" opacity="0.6" filter="url(#bl8)"/>
<path d="M1152.0 890.0C1150.8 875.5 1155.0 860.5 1158.0 848.0C1161.0 835.5 1163.0 824.2 1170.0 815.0C1177.0 805.8 1188.3 800.5 1200.0 793.0C1211.7 785.5 1226.2 776.8 1240.0 770.0C1253.8 763.2 1268.0 755.0 1283.0 752.0C1298.0 749.0 1313.8 750.3 1330.0 752.0C1346.2 753.7 1363.3 758.2 1380.0 762.0C1396.7 765.8 1415.0 769.5 1430.0 775.0C1445.0 780.5 1460.0 786.7 1470.0 795.0C1480.0 803.3 1486.0 815.0 1490.0 825.0C1494.0 835.0 1494.3 844.2 1494.0 855.0C1493.7 865.8 1492.0 878.3 1488.0 890.0C1484.0 901.7 1477.2 914.2 1470.0 925.0C1462.8 935.8 1455.0 945.0 1445.0 955.0C1435.0 965.0 1423.3 975.8 1410.0 985.0C1396.7 994.2 1380.0 1003.8 1365.0 1010.0C1350.0 1016.2 1335.8 1020.0 1320.0 1022.0C1304.2 1024.0 1285.8 1024.8 1270.0 1022.0C1254.2 1019.2 1238.3 1012.8 1225.0 1005.0C1211.7 997.2 1200.0 986.7 1190.0 975.0C1180.0 963.3 1171.3 949.2 1165.0 935.0C1158.7 920.8 1153.2 904.5 1152.0 890.0Z" fill="#440b07" opacity="1.0" filter="url(#bl4)"/>
<ellipse cx="1345" cy="905" rx="75" ry="105" fill="#a03a10" opacity="0.35" filter="url(#bl8)"/>
<g clip-path="url(#ct_r3c_main)"><rect x="1110.8" y="708.0" width="423.6" height="325.4" filter="url(#tx_r3c)" opacity="1.0"/></g>
<path d="M1275.8 752.5a3.3 3.3 0 1 0 6.7 0a3.3 3.3 0 1 0 -6.7 0M1279.5 754.4a3.4 3.4 0 1 0 6.8 0a3.4 3.4 0 1 0 -6.8 0M1285.3 754.5a3.2 3.2 0 1 0 6.4 0a3.2 3.2 0 1 0 -6.4 0M1288.8 757.5a3.5 3.5 0 1 0 6.9 0a3.5 3.5 0 1 0 -6.9 0M1292.9 759.1a3.4 3.4 0 1 0 6.9 0a3.4 3.4 0 1 0 -6.9 0M1298.1 760.5a2.9 2.9 0 1 0 5.8 0a2.9 2.9 0 1 0 -5.8 0M1301.8 761.4a3.1 3.1 0 1 0 6.3 0a3.1 3.1 0 1 0 -6.3 0M1315.1 756.7a3.4 3.4 0 1 0 6.7 0a3.4 3.4 0 1 0 -6.7 0M1320.0 759.1a3.2 3.2 0 1 0 6.4 0a3.2 3.2 0 1 0 -6.4 0M1322.5 759.1a3.5 3.5 0 1 0 7.0 0a3.5 3.5 0 1 0 -7.0 0M1327.2 761.5a3.4 3.4 0 1 0 6.8 0a3.4 3.4 0 1 0 -6.8 0M1333.0 763.1a2.9 2.9 0 1 0 5.8 0a2.9 2.9 0 1 0 -5.8 0M1336.7 765.5a2.6 2.6 0 1 0 5.2 0a2.6 2.6 0 1 0 -5.2 0M1341.2 767.4a3.0 3.0 0 1 0 5.9 0a3.0 3.0 0 1 0 -5.9 0M1345.2 768.6a2.6 2.6 0 1 0 5.3 0a2.6 2.6 0 1 0 -5.3 0M1350.5 772.7a3.1 3.1 0 1 0 6.2 0a3.1 3.1 0 1 0 -6.2 0M1353.8 772.5a2.7 2.7 0 1 0 5.4 0a2.7 2.7 0 1 0 -5.4 0M1358.4 774.0a2.8 2.8 0 1 0 5.7 0a2.8 2.8 0 1 0 -5.7 0M1362.1 776.3a3.2 3.2 0 1 0 6.4 0a3.2 3.2 0 1 0 -6.4 0M1367.3 779.2a2.9 2.9 0 1 0 5.8 0a2.9 2.9 0 1 0 -5.8 0M1371.8 782.2a2.9 2.9 0 1 0 5.8 0a2.9 2.9 0 1 0 -5.8 0M1375.2 782.9a2.9 2.9 0 1 0 5.9 0a2.9 2.9 0 1 0 -5.9 0M1276.2 774.6a3.4 3.4 0 1 0 6.8 0a3.4 3.4 0 1 0 -6.8 0M1279.1 778.2a3.0 3.0 0 1 0 6.0 0a3.0 3.0 0 1 0 -6.0 0M1283.5 781.5a3.2 3.2 0 1 0 6.5 0a3.2 3.2 0 1 0 -6.5 0M1287.4 782.2a3.2 3.2 0 1 0 6.3 0a3.2 3.2 0 1 0 -6.3 0M1291.2 782.8a3.1 3.1 0 1 0 6.3 0a3.1 3.1 0 1 0 -6.3 0M1296.8 786.2a3.0 3.0 0 1 0 6.0 0a3.0 3.0 0 1 0 -6.0 0M1300.0 787.5a3.4 3.4 0 1 0 6.8 0a3.4 3.4 0 1 0 -6.8 0M1305.8 790.4a2.6 2.6 0 1 0 5.2 0a2.6 2.6 0 1 0 -5.2 0M1308.4 793.6a2.9 2.9 0 1 0 5.8 0a2.9 2.9 0 1 0 -5.8 0M1311.6 793.5a3.2 3.2 0 1 0 6.5 0a3.2 3.2 0 1 0 -6.5 0M1316.7 795.9a3.2 3.2 0 1 0 6.3 0a3.2 3.2 0 1 0 -6.3 0M1320.9 800.4a3.3 3.3 0 1 0 6.7 0a3.3 3.3 0 1 0 -6.7 0M1324.2 801.9a3.4 3.4 0 1 0 6.9 0a3.4 3.4 0 1 0 -6.9 0M1329.5 803.8a3.1 3.1 0 1 0 6.3 0a3.1 3.1 0 1 0 -6.3 0M1332.8 806.2a3.2 3.2 0 1 0 6.3 0a3.2 3.2 0 1 0 -6.3 0M1337.8 806.0a2.7 2.7 0 1 0 5.4 0a2.7 2.7 0 1 0 -5.4 0M1231.4 789.3a3.1 3.1 0 1 0 6.2 0a3.1 3.1 0 1 0 -6.2 0M1234.6 790.6a3.5 3.5 0 1 0 6.9 0a3.5 3.5 0 1 0 -6.9 0M1238.2 795.9a3.3 3.3 0 1 0 6.6 0a3.3 3.3 0 1 0 -6.6 0M1243.0 798.9a3.2 3.2 0 1 0 6.4 0a3.2 3.2 0 1 0 -6.4 0M1245.8 801.4a3.0 3.0 0 1 0 5.9 0a3.0 3.0 0 1 0 -5.9 0M1251.6 803.6a2.7 2.7 0 1 0 5.4 0a2.7 2.7 0 1 0 -5.4 0M1252.9 803.4a3.3 3.3 0 1 0 6.6 0a3.3 3.3 0 1 0 -6.6 0M1258.7 806.9a2.7 2.7 0 1 0 5.4 0a2.7 2.7 0 1 0 -5.4 0M1261.0 811.6a3.3 3.3 0 1 0 6.5 0a3.3 3.3 0 1 0 -6.5 0M1265.7 814.9a3.3 3.3 0 1 0 6.6 0a3.3 3.3 0 1 0 -6.6 0M1270.0 814.2a2.6 2.6 0 1 0 5.2 0a2.6 2.6 0 1 0 -5.2 0M1273.4 819.0a2.9 2.9 0 1 0 5.8 0a2.9 2.9 0 1 0 -5.8 0M1275.7 820.7a2.9 2.9 0 1 0 5.8 0a2.9 2.9 0 1 0 -5.8 0M1280.2 823.8a2.8 2.8 0 1 0 5.6 0a2.8 2.8 0 1 0 -5.6 0M1381.4 768.9a2.7 2.7 0 1 0 5.4 0a2.7 2.7 0 1 0 -5.4 0M1386.5 772.2a2.7 2.7 0 1 0 5.4 0a2.7 2.7 0 1 0 -5.4 0M1392.6 775.2a3.0 3.0 0 1 0 6.0 0a3.0 3.0 0 1 0 -6.0 0M1397.7 776.5a2.6 2.6 0 1 0 5.2 0a2.6 2.6 0 1 0 -5.2 0M1401.2 779.4a2.9 2.9 0 1 0 5.9 0a2.9 2.9 0 1 0 -5.9 0M1230.4 830.6a2.9 2.9 0 1 0 5.7 0a2.9 2.9 0 1 0 -5.7 0M1235.2 828.6a2.9 2.9 0 1 0 5.8 0a2.9 2.9 0 1 0 -5.8 0M1237.9 831.3a2.7 2.7 0 1 0 5.5 0a2.7 2.7 0 1 0 -5.5 0M1238.0 834.5a3.4 3.4 0 1 0 6.7 0a3.4 3.4 0 1 0 -6.7 0M1236.0 837.5a2.5 2.5 0 1 0 5.0 0a2.5 2.5 0 1 0 -5.0 0M1296.7 851.4a2.8 2.8 0 1 0 5.5 0a2.8 2.8 0 1 0 -5.5 0M1301.5 848.3a2.6 2.6 0 1 0 5.2 0a2.6 2.6 0 1 0 -5.2 0M1306.8 849.9a3.1 3.1 0 1 0 6.2 0a3.1 3.1 0 1 0 -6.2 0M1307.9 854.4a2.8 2.8 0 1 0 5.6 0a2.8 2.8 0 1 0 -5.6 0M1303.1 858.5a3.0 3.0 0 1 0 6.0 0a3.0 3.0 0 1 0 -6.0 0M1297.1 857.1a2.5 2.5 0 1 0 5.1 0a2.5 2.5 0 1 0 -5.1 0M1239.6 949.0a2.9 2.9 0 1 0 5.8 0a2.9 2.9 0 1 0 -5.8 0M1241.5 942.3a2.6 2.6 0 1 0 5.1 0a2.6 2.6 0 1 0 -5.1 0M1249.4 942.9a2.6 2.6 0 1 0 5.1 0a2.6 2.6 0 1 0 -5.1 0M1482.4 842.0a2.8 2.8 0 1 0 5.5 0a2.8 2.8 0 1 0 -5.5 0M1476.9 843.2a2.8 2.8 0 1 0 5.6 0a2.8 2.8 0 1 0 -5.6 0M1472.9 843.2a2.9 2.9 0 1 0 5.7 0a2.9 2.9 0 1 0 -5.7 0M1472.0 838.4a2.7 2.7 0 1 0 5.4 0a2.7 2.7 0 1 0 -5.4 0M1232.9 961.0a2.6 2.6 0 1 0 5.2 0a2.6 2.6 0 1 0 -5.2 0M1234.9 964.3a2.6 2.6 0 1 0 5.2 0a2.6 2.6 0 1 0 -5.2 0M1231.1 967.6a2.4 2.4 0 1 0 4.8 0a2.4 2.4 0 1 0 -4.8 0M1225.2 968.6a3.3 3.3 0 1 0 6.5 0a3.3 3.3 0 1 0 -6.5 0M1223.4 965.0a3.2 3.2 0 1 0 6.5 0a3.2 3.2 0 1 0 -6.5 0M1228.0 961.6a2.4 2.4 0 1 0 4.9 0a2.4 2.4 0 1 0 -4.9 0M1326.7 958.2a2.8 2.8 0 1 0 5.6 0a2.8 2.8 0 1 0 -5.6 0M1330.2 961.3a2.5 2.5 0 1 0 5.0 0a2.5 2.5 0 1 0 -5.0 0M1330.3 964.8a3.4 3.4 0 1 0 6.8 0a3.4 3.4 0 1 0 -6.8 0M1325.0 967.6a2.7 2.7 0 1 0 5.3 0a2.7 2.7 0 1 0 -5.3 0M1283.9 990.0a3.0 3.0 0 1 0 6.1 0a3.0 3.0 0 1 0 -6.1 0M1277.4 991.4a3.0 3.0 0 1 0 5.9 0a3.0 3.0 0 1 0 -5.9 0M1274.5 985.7a2.9 2.9 0 1 0 5.7 0a2.9 2.9 0 1 0 -5.7 0M1279.4 982.2a3.3 3.3 0 1 0 6.6 0a3.3 3.3 0 1 0 -6.6 0M1174.4 913.0a2.5 2.5 0 1 0 5.0 0a2.5 2.5 0 1 0 -5.0 0M1180.2 917.3a2.5 2.5 0 1 0 5.0 0a2.5 2.5 0 1 0 -5.0 0M1174.7 923.4a3.3 3.3 0 1 0 6.6 0a3.3 3.3 0 1 0 -6.6 0M1214.9 800.1a2.9 2.9 0 1 0 5.8 0a2.9 2.9 0 1 0 -5.8 0M1217.1 804.7a3.0 3.0 0 1 0 6.0 0a3.0 3.0 0 1 0 -6.0 0M1213.4 807.4a3.3 3.3 0 1 0 6.6 0a3.3 3.3 0 1 0 -6.6 0M1208.4 807.3a2.8 2.8 0 1 0 5.6 0a2.8 2.8 0 1 0 -5.6 0M1448.8 863.2a2.5 2.5 0 1 0 4.9 0a2.5 2.5 0 1 0 -4.9 0M1455.7 861.5a3.3 3.3 0 1 0 6.6 0a3.3 3.3 0 1 0 -6.6 0M1456.1 869.0a3.3 3.3 0 1 0 6.7 0a3.3 3.3 0 1 0 -6.7 0M1451.2 871.7a2.9 2.9 0 1 0 5.8 0a2.9 2.9 0 1 0 -5.8 0M1427.8 830.8a2.9 2.9 0 1 0 5.9 0a2.9 2.9 0 1 0 -5.9 0M1421.5 826.1a2.5 2.5 0 1 0 5.0 0a2.5 2.5 0 1 0 -5.0 0M1427.3 822.0a3.0 3.0 0 1 0 6.0 0a3.0 3.0 0 1 0 -6.0 0M1433.9 825.4a2.5 2.5 0 1 0 5.1 0a2.5 2.5 0 1 0 -5.1 0M1427.0 869.5a2.5 2.5 0 1 0 5.0 0a2.5 2.5 0 1 0 -5.0 0M1425.5 872.0a3.2 3.2 0 1 0 6.3 0a3.2 3.2 0 1 0 -6.3 0M1420.3 872.8a2.5 2.5 0 1 0 5.0 0a2.5 2.5 0 1 0 -5.0 0M1420.1 868.6a2.6 2.6 0 1 0 5.2 0a2.6 2.6 0 1 0 -5.2 0M1416.3 792.1a3.3 3.3 0 1 0 6.6 0a3.3 3.3 0 1 0 -6.6 0M1417.1 794.9a2.8 2.8 0 1 0 5.5 0a2.8 2.8 0 1 0 -5.5 0M1412.8 797.0a3.4 3.4 0 1 0 6.7 0a3.4 3.4 0 1 0 -6.7 0M1407.6 796.0a3.1 3.1 0 1 0 6.3 0a3.1 3.1 0 1 0 -6.3 0M1199.8 850.6a3.1 3.1 0 1 0 6.2 0a3.1 3.1 0 1 0 -6.2 0M1202.7 849.1a3.4 3.4 0 1 0 6.8 0a3.4 3.4 0 1 0 -6.8 0M1207.0 852.5a3.3 3.3 0 1 0 6.7 0a3.3 3.3 0 1 0 -6.7 0M1206.8 854.6a3.2 3.2 0 1 0 6.3 0a3.2 3.2 0 1 0 -6.3 0M1204.2 856.6a2.5 2.5 0 1 0 5.0 0a2.5 2.5 0 1 0 -5.0 0M1200.8 857.0a3.3 3.3 0 1 0 6.5 0a3.3 3.3 0 1 0 -6.5 0M1296.0 949.2a2.8 2.8 0 1 0 5.5 0a2.8 2.8 0 1 0 -5.5 0M1298.5 954.6a2.9 2.9 0 1 0 5.9 0a2.9 2.9 0 1 0 -5.9 0M1296.5 959.2a2.9 2.9 0 1 0 5.8 0a2.9 2.9 0 1 0 -5.8 0M1290.3 958.7a3.3 3.3 0 1 0 6.6 0a3.3 3.3 0 1 0 -6.6 0M1287.2 953.6a2.7 2.7 0 1 0 5.5 0a2.7 2.7 0 1 0 -5.5 0M1329.1 999.8a3.3 3.3 0 1 0 6.7 0a3.3 3.3 0 1 0 -6.7 0M1324.1 999.8a3.3 3.3 0 1 0 6.6 0a3.3 3.3 0 1 0 -6.6 0M1321.9 996.0a2.6 2.6 0 1 0 5.2 0a2.6 2.6 0 1 0 -5.2 0M1321.7 993.1a2.6 2.6 0 1 0 5.2 0a2.6 2.6 0 1 0 -5.2 0M1324.0 990.1a2.6 2.6 0 1 0 5.1 0a2.6 2.6 0 1 0 -5.1 0M1458.6 904.7a3.2 3.2 0 1 0 6.4 0a3.2 3.2 0 1 0 -6.4 0M1462.1 899.7a2.6 2.6 0 1 0 5.2 0a2.6 2.6 0 1 0 -5.2 0M1467.9 901.4a2.7 2.7 0 1 0 5.4 0a2.7 2.7 0 1 0 -5.4 0M1330.8 857.4a3.3 3.3 0 1 0 6.5 0a3.3 3.3 0 1 0 -6.5 0M1325.8 855.5a3.1 3.1 0 1 0 6.2 0a3.1 3.1 0 1 0 -6.2 0M1324.9 853.0a3.3 3.3 0 1 0 6.7 0a3.3 3.3 0 1 0 -6.7 0M1327.8 850.0a2.5 2.5 0 1 0 5.1 0a2.5 2.5 0 1 0 -5.1 0M1331.9 850.3a3.4 3.4 0 1 0 6.7 0a3.4 3.4 0 1 0 -6.7 0M1351.9 958.6a2.5 2.5 0 1 0 5.0 0a2.5 2.5 0 1 0 -5.0 0M1354.7 965.4a3.0 3.0 0 1 0 6.0 0a3.0 3.0 0 1 0 -6.0 0M1345.6 966.6a2.6 2.6 0 1 0 5.2 0a2.6 2.6 0 1 0 -5.2 0M1319.4 831.3a3.0 3.0 0 1 0 5.9 0a3.0 3.0 0 1 0 -5.9 0M1324.6 830.4a3.1 3.1 0 1 0 6.1 0a3.1 3.1 0 1 0 -6.1 0M1327.8 833.4a2.4 2.4 0 1 0 4.9 0a2.4 2.4 0 1 0 -4.9 0M1323.0 837.6a2.8 2.8 0 1 0 5.7 0a2.8 2.8 0 1 0 -5.7 0M1317.3 837.0a3.0 3.0 0 1 0 6.1 0a3.0 3.0 0 1 0 -6.1 0M1338.4 896.0a3.0 3.0 0 1 0 6.0 0a3.0 3.0 0 1 0 -6.0 0M1334.7 899.8a2.9 2.9 0 1 0 5.8 0a2.9 2.9 0 1 0 -5.8 0M1328.5 897.6a2.8 2.8 0 1 0 5.6 0a2.8 2.8 0 1 0 -5.6 0M1331.7 893.4a2.6 2.6 0 1 0 5.2 0a2.6 2.6 0 1 0 -5.2 0M1248.5 872.6a3.3 3.3 0 1 0 6.5 0a3.3 3.3 0 1 0 -6.5 0M1248.0 874.8a3.1 3.1 0 1 0 6.1 0a3.1 3.1 0 1 0 -6.1 0M1246.1 877.6a2.8 2.8 0 1 0 5.7 0a2.8 2.8 0 1 0 -5.7 0M1242.9 876.4a2.7 2.7 0 1 0 5.5 0a2.7 2.7 0 1 0 -5.5 0M1241.0 873.8a2.8 2.8 0 1 0 5.5 0a2.8 2.8 0 1 0 -5.5 0M1242.1 870.8a2.7 2.7 0 1 0 5.5 0a2.7 2.7 0 1 0 -5.5 0M1466.8 810.0a2.6 2.6 0 1 0 5.2 0a2.6 2.6 0 1 0 -5.2 0M1467.5 815.0a3.2 3.2 0 1 0 6.4 0a3.2 3.2 0 1 0 -6.4 0M1462.9 817.6a2.8 2.8 0 1 0 5.6 0a2.8 2.8 0 1 0 -5.6 0M1458.6 815.5a3.3 3.3 0 1 0 6.7 0a3.3 3.3 0 1 0 -6.7 0M1458.9 811.1a2.9 2.9 0 1 0 5.9 0a2.9 2.9 0 1 0 -5.9 0M1219.7 874.2a3.3 3.3 0 1 0 6.6 0a3.3 3.3 0 1 0 -6.6 0M1213.5 876.7a2.6 2.6 0 1 0 5.2 0a2.6 2.6 0 1 0 -5.2 0M1207.7 873.1a3.1 3.1 0 1 0 6.1 0a3.1 3.1 0 1 0 -6.1 0M1210.6 866.7a2.9 2.9 0 1 0 5.7 0a2.9 2.9 0 1 0 -5.7 0M1352.4 982.1a2.9 2.9 0 1 0 5.8 0a2.9 2.9 0 1 0 -5.8 0M1356.6 982.9a2.9 2.9 0 1 0 5.9 0a2.9 2.9 0 1 0 -5.9 0M1358.5 985.7a2.8 2.8 0 1 0 5.7 0a2.8 2.8 0 1 0 -5.7 0M1355.0 989.7a3.2 3.2 0 1 0 6.4 0a3.2 3.2 0 1 0 -6.4 0M1351.5 986.7a2.7 2.7 0 1 0 5.4 0a2.7 2.7 0 1 0 -5.4 0M1255.4 893.0a2.4 2.4 0 1 0 4.9 0a2.4 2.4 0 1 0 -4.9 0M1261.1 898.0a3.2 3.2 0 1 0 6.4 0a3.2 3.2 0 1 0 -6.4 0M1256.6 901.4a2.7 2.7 0 1 0 5.5 0a2.7 2.7 0 1 0 -5.5 0M1251.5 899.4a3.0 3.0 0 1 0 6.0 0a3.0 3.0 0 1 0 -6.0 0M1365.3 918.0a3.3 3.3 0 1 0 6.6 0a3.3 3.3 0 1 0 -6.6 0M1369.9 914.0a3.3 3.3 0 1 0 6.6 0a3.3 3.3 0 1 0 -6.6 0M1377.1 915.5a2.6 2.6 0 1 0 5.2 0a2.6 2.6 0 1 0 -5.2 0M1377.5 843.1a2.5 2.5 0 1 0 5.0 0a2.5 2.5 0 1 0 -5.0 0M1375.8 848.8a2.8 2.8 0 1 0 5.6 0a2.8 2.8 0 1 0 -5.6 0M1368.5 847.7a3.3 3.3 0 1 0 6.6 0a3.3 3.3 0 1 0 -6.6 0M1172.6 860.5a2.7 2.7 0 1 0 5.4 0a2.7 2.7 0 1 0 -5.4 0M1173.4 866.2a3.2 3.2 0 1 0 6.3 0a3.2 3.2 0 1 0 -6.3 0M1168.0 867.7a2.9 2.9 0 1 0 5.8 0a2.9 2.9 0 1 0 -5.8 0M1163.0 863.7a3.1 3.1 0 1 0 6.2 0a3.1 3.1 0 1 0 -6.2 0M1255.8 998.2a2.9 2.9 0 1 0 5.7 0a2.9 2.9 0 1 0 -5.7 0M1250.5 991.6a3.2 3.2 0 1 0 6.3 0a3.2 3.2 0 1 0 -6.3 0M1259.6 990.0a2.8 2.8 0 1 0 5.6 0a2.8 2.8 0 1 0 -5.6 0M1301.6 885.3a2.8 2.8 0 1 0 5.7 0a2.8 2.8 0 1 0 -5.7 0M1300.4 890.6a2.5 2.5 0 1 0 5.0 0a2.5 2.5 0 1 0 -5.0 0M1293.0 891.7a2.8 2.8 0 1 0 5.6 0a2.8 2.8 0 1 0 -5.6 0M1290.9 885.2a3.0 3.0 0 1 0 6.0 0a3.0 3.0 0 1 0 -6.0 0M1274.9 821.1a2.7 2.7 0 1 0 5.4 0a2.7 2.7 0 1 0 -5.4 0M1271.5 822.2a2.5 2.5 0 1 0 4.9 0a2.5 2.5 0 1 0 -4.9 0M1267.2 822.1a2.8 2.8 0 1 0 5.6 0a2.8 2.8 0 1 0 -5.6 0M1264.5 820.5a2.8 2.8 0 1 0 5.7 0a2.8 2.8 0 1 0 -5.7 0M1265.1 817.1a2.5 2.5 0 1 0 5.0 0a2.5 2.5 0 1 0 -5.0 0M1154.2 903.1a3.0 3.0 0 1 0 6.0 0a3.0 3.0 0 1 0 -6.0 0M1148.4 901.9a2.8 2.8 0 1 0 5.6 0a2.8 2.8 0 1 0 -5.6 0M1148.0 896.1a2.9 2.9 0 1 0 5.8 0a2.9 2.9 0 1 0 -5.8 0M1153.6 895.0a2.8 2.8 0 1 0 5.5 0a2.8 2.8 0 1 0 -5.5 0M1156.1 898.8a2.7 2.7 0 1 0 5.5 0a2.7 2.7 0 1 0 -5.5 0M1397.7 931.3a3.1 3.1 0 1 0 6.2 0a3.1 3.1 0 1 0 -6.2 0M1400.9 928.1a2.8 2.8 0 1 0 5.5 0a2.8 2.8 0 1 0 -5.5 0M1406.1 930.1a3.4 3.4 0 1 0 6.8 0a3.4 3.4 0 1 0 -6.8 0M1404.1 934.9a2.5 2.5 0 1 0 5.1 0a2.5 2.5 0 1 0 -5.1 0M1188.8 800.9a3.2 3.2 0 1 0 6.3 0a3.2 3.2 0 1 0 -6.3 0M1188.3 795.9a3.2 3.2 0 1 0 6.4 0a3.2 3.2 0 1 0 -6.4 0M1191.5 794.2a3.0 3.0 0 1 0 6.0 0a3.0 3.0 0 1 0 -6.0 0M1196.9 796.9a3.2 3.2 0 1 0 6.3 0a3.2 3.2 0 1 0 -6.3 0M1195.3 800.0a2.7 2.7 0 1 0 5.4 0a2.7 2.7 0 1 0 -5.4 0M1427.0 855.4a3.2 3.2 0 1 0 6.4 0a3.2 3.2 0 1 0 -6.4 0M1420.3 852.4a3.0 3.0 0 1 0 6.1 0a3.0 3.0 0 1 0 -6.1 0M1424.5 846.1a3.1 3.1 0 1 0 6.1 0a3.1 3.1 0 1 0 -6.1 0M1353.9 835.4a2.9 2.9 0 1 0 5.7 0a2.9 2.9 0 1 0 -5.7 0M1352.3 838.8a2.5 2.5 0 1 0 4.9 0a2.5 2.5 0 1 0 -4.9 0M1349.3 840.4a2.9 2.9 0 1 0 5.8 0a2.9 2.9 0 1 0 -5.8 0M1343.8 838.0a3.3 3.3 0 1 0 6.6 0a3.3 3.3 0 1 0 -6.6 0M1205.2 923.8a2.9 2.9 0 1 0 5.7 0a2.9 2.9 0 1 0 -5.7 0M1200.6 920.7a3.3 3.3 0 1 0 6.5 0a3.3 3.3 0 1 0 -6.5 0M1201.2 917.2a2.8 2.8 0 1 0 5.5 0a2.8 2.8 0 1 0 -5.5 0M1204.0 914.1a3.2 3.2 0 1 0 6.4 0a3.2 3.2 0 1 0 -6.4 0M1371.5 958.1a2.4 2.4 0 1 0 4.8 0a2.4 2.4 0 1 0 -4.8 0M1365.9 957.9a2.9 2.9 0 1 0 5.8 0a2.9 2.9 0 1 0 -5.8 0M1362.5 955.2a3.0 3.0 0 1 0 6.0 0a3.0 3.0 0 1 0 -6.0 0M1366.1 951.8a2.6 2.6 0 1 0 5.3 0a2.6 2.6 0 1 0 -5.3 0M1371.9 952.7a2.9 2.9 0 1 0 5.9 0a2.9 2.9 0 1 0 -5.9 0M1413.9 901.8a2.7 2.7 0 1 0 5.4 0a2.7 2.7 0 1 0 -5.4 0M1408.8 902.2a2.8 2.8 0 1 0 5.7 0a2.8 2.8 0 1 0 -5.7 0M1407.2 898.8a2.5 2.5 0 1 0 4.9 0a2.5 2.5 0 1 0 -4.9 0M1407.6 895.9a3.0 3.0 0 1 0 6.0 0a3.0 3.0 0 1 0 -6.0 0M1285.8 924.8a3.2 3.2 0 1 0 6.5 0a3.2 3.2 0 1 0 -6.5 0M1281.0 922.4a2.7 2.7 0 1 0 5.3 0a2.7 2.7 0 1 0 -5.3 0M1281.6 918.0a2.7 2.7 0 1 0 5.5 0a2.7 2.7 0 1 0 -5.5 0M1287.8 915.7a2.7 2.7 0 1 0 5.4 0a2.7 2.7 0 1 0 -5.4 0M1290.6 919.9a2.5 2.5 0 1 0 5.1 0a2.5 2.5 0 1 0 -5.1 0M1397.2 949.7a3.3 3.3 0 1 0 6.6 0a3.3 3.3 0 1 0 -6.6 0M1396.9 954.7a2.7 2.7 0 1 0 5.4 0a2.7 2.7 0 1 0 -5.4 0M1388.3 952.4a2.9 2.9 0 1 0 5.8 0a2.9 2.9 0 1 0 -5.8 0M1389.9 947.7a3.3 3.3 0 1 0 6.5 0a3.3 3.3 0 1 0 -6.5 0M1274.3 964.0a2.5 2.5 0 1 0 4.9 0a2.5 2.5 0 1 0 -4.9 0M1278.4 961.2a3.3 3.3 0 1 0 6.7 0a3.3 3.3 0 1 0 -6.7 0M1282.2 963.7a3.4 3.4 0 1 0 6.8 0a3.4 3.4 0 1 0 -6.8 0M1284.2 969.1a3.0 3.0 0 1 0 5.9 0a3.0 3.0 0 1 0 -5.9 0M1183.8 901.9a2.5 2.5 0 1 0 5.0 0a2.5 2.5 0 1 0 -5.0 0M1182.1 898.7a2.7 2.7 0 1 0 5.3 0a2.7 2.7 0 1 0 -5.3 0M1187.5 895.5a2.9 2.9 0 1 0 5.7 0a2.9 2.9 0 1 0 -5.7 0M1190.2 899.7a3.0 3.0 0 1 0 6.0 0a3.0 3.0 0 1 0 -6.0 0M1215.0 895.9a2.7 2.7 0 1 0 5.3 0a2.7 2.7 0 1 0 -5.3 0M1219.9 893.7a2.7 2.7 0 1 0 5.3 0a2.7 2.7 0 1 0 -5.3 0M1222.7 897.8a2.8 2.8 0 1 0 5.6 0a2.8 2.8 0 1 0 -5.6 0M1219.3 900.9a3.3 3.3 0 1 0 6.7 0a3.3 3.3 0 1 0 -6.7 0M1275.0 892.6a2.8 2.8 0 1 0 5.6 0a2.8 2.8 0 1 0 -5.6 0M1273.6 890.2a3.1 3.1 0 1 0 6.2 0a3.1 3.1 0 1 0 -6.2 0M1277.7 887.1a2.5 2.5 0 1 0 5.0 0a2.5 2.5 0 1 0 -5.0 0M1280.9 889.7a3.4 3.4 0 1 0 6.7 0a3.4 3.4 0 1 0 -6.7 0M1391.0 967.5a3.0 3.0 0 1 0 6.0 0a3.0 3.0 0 1 0 -6.0 0M1396.3 968.4a2.9 2.9 0 1 0 5.9 0a2.9 2.9 0 1 0 -5.9 0M1397.1 971.8a3.0 3.0 0 1 0 6.0 0a3.0 3.0 0 1 0 -6.0 0M1393.5 974.6a3.2 3.2 0 1 0 6.4 0a3.2 3.2 0 1 0 -6.4 0M1390.0 971.5a2.4 2.4 0 1 0 4.9 0a2.4 2.4 0 1 0 -4.9 0M1336.0 917.5a2.9 2.9 0 1 0 5.8 0a2.9 2.9 0 1 0 -5.8 0M1337.7 912.0a3.2 3.2 0 1 0 6.3 0a3.2 3.2 0 1 0 -6.3 0M1343.6 913.2a2.6 2.6 0 1 0 5.2 0a2.6 2.6 0 1 0 -5.2 0M1343.7 915.9a2.9 2.9 0 1 0 5.9 0a2.9 2.9 0 1 0 -5.9 0M1341.0 919.3a2.5 2.5 0 1 0 5.0 0a2.5 2.5 0 1 0 -5.0 0M1220.0 779.9a2.4 2.4 0 1 0 4.8 0a2.4 2.4 0 1 0 -4.8 0M1222.1 777.4a2.9 2.9 0 1 0 5.7 0a2.9 2.9 0 1 0 -5.7 0M1227.4 778.5a3.4 3.4 0 1 0 6.8 0a3.4 3.4 0 1 0 -6.8 0M1227.6 781.2a3.0 3.0 0 1 0 5.9 0a3.0 3.0 0 1 0 -5.9 0M1481.5 861.1a2.8 2.8 0 1 0 5.6 0a2.8 2.8 0 1 0 -5.6 0M1480.2 859.4a2.4 2.4 0 1 0 4.9 0a2.4 2.4 0 1 0 -4.9 0M1479.7 855.9a2.9 2.9 0 1 0 5.7 0a2.9 2.9 0 1 0 -5.7 0M1483.3 853.6a3.2 3.2 0 1 0 6.4 0a3.2 3.2 0 1 0 -6.4 0M1487.7 854.5a3.1 3.1 0 1 0 6.1 0a3.1 3.1 0 1 0 -6.1 0M1424.9 962.5a3.1 3.1 0 1 0 6.1 0a3.1 3.1 0 1 0 -6.1 0M1422.1 960.5a2.5 2.5 0 1 0 4.9 0a2.5 2.5 0 1 0 -4.9 0M1424.5 958.3a2.4 2.4 0 1 0 4.8 0a2.4 2.4 0 1 0 -4.8 0M1427.0 955.8a2.5 2.5 0 1 0 5.1 0a2.5 2.5 0 1 0 -5.1 0M1431.0 958.4a2.5 2.5 0 1 0 5.0 0a2.5 2.5 0 1 0 -5.0 0M1432.2 960.9a2.4 2.4 0 1 0 4.9 0a2.4 2.4 0 1 0 -4.9 0M1278.8 935.5a2.6 2.6 0 1 0 5.2 0a2.6 2.6 0 1 0 -5.2 0M1280.8 938.2a3.2 3.2 0 1 0 6.4 0a3.2 3.2 0 1 0 -6.4 0M1282.7 941.7a3.4 3.4 0 1 0 6.7 0a3.4 3.4 0 1 0 -6.7 0M1279.1 943.3a3.1 3.1 0 1 0 6.3 0a3.1 3.1 0 1 0 -6.3 0M1275.2 942.2a2.4 2.4 0 1 0 4.9 0a2.4 2.4 0 1 0 -4.9 0M1263.7 856.7a3.0 3.0 0 1 0 6.0 0a3.0 3.0 0 1 0 -6.0 0M1260.1 854.5a3.3 3.3 0 1 0 6.5 0a3.3 3.3 0 1 0 -6.5 0M1260.1 851.0a2.6 2.6 0 1 0 5.1 0a2.6 2.6 0 1 0 -5.1 0M1265.1 848.3a2.8 2.8 0 1 0 5.6 0a2.8 2.8 0 1 0 -5.6 0M1435.6 928.9a3.0 3.0 0 1 0 6.0 0a3.0 3.0 0 1 0 -6.0 0M1430.7 931.2a3.2 3.2 0 1 0 6.3 0a3.2 3.2 0 1 0 -6.3 0M1426.8 929.5a3.3 3.3 0 1 0 6.6 0a3.3 3.3 0 1 0 -6.6 0M1427.3 925.2a2.5 2.5 0 1 0 5.1 0a2.5 2.5 0 1 0 -5.1 0M1204.0 976.7a3.3 3.3 0 1 0 6.6 0a3.3 3.3 0 1 0 -6.6 0M1206.6 983.1a3.1 3.1 0 1 0 6.1 0a3.1 3.1 0 1 0 -6.1 0M1200.7 984.3a2.7 2.7 0 1 0 5.3 0a2.7 2.7 0 1 0 -5.3 0M1387.7 985.8a3.1 3.1 0 1 0 6.3 0a3.1 3.1 0 1 0 -6.3 0M1391.8 988.4a2.9 2.9 0 1 0 5.7 0a2.9 2.9 0 1 0 -5.7 0M1392.3 992.8a2.5 2.5 0 1 0 5.1 0a2.5 2.5 0 1 0 -5.1 0M1385.8 991.2a2.4 2.4 0 1 0 4.8 0a2.4 2.4 0 1 0 -4.8 0M1290.7 1015.3a3.2 3.2 0 1 0 6.4 0a3.2 3.2 0 1 0 -6.4 0M1298.0 1014.9a3.2 3.2 0 1 0 6.4 0a3.2 3.2 0 1 0 -6.4 0M1299.8 1020.1a2.7 2.7 0 1 0 5.3 0a2.7 2.7 0 1 0 -5.3 0M1294.3 1021.7a2.7 2.7 0 1 0 5.3 0a2.7 2.7 0 1 0 -5.3 0M1199.0 960.4a3.2 3.2 0 1 0 6.4 0a3.2 3.2 0 1 0 -6.4 0M1199.2 957.3a3.2 3.2 0 1 0 6.3 0a3.2 3.2 0 1 0 -6.3 0M1203.2 955.0a2.9 2.9 0 1 0 5.7 0a2.9 2.9 0 1 0 -5.7 0M1205.5 958.5a3.1 3.1 0 1 0 6.2 0a3.1 3.1 0 1 0 -6.2 0M1203.6 962.0a2.7 2.7 0 1 0 5.5 0a2.7 2.7 0 1 0 -5.5 0M1408.0 816.9a2.9 2.9 0 1 0 5.7 0a2.9 2.9 0 1 0 -5.7 0M1409.9 820.5a3.1 3.1 0 1 0 6.2 0a3.1 3.1 0 1 0 -6.2 0M1406.8 823.4a2.6 2.6 0 1 0 5.3 0a2.6 2.6 0 1 0 -5.3 0M1403.1 822.1a3.3 3.3 0 1 0 6.7 0a3.3 3.3 0 1 0 -6.7 0M1400.6 819.3a2.5 2.5 0 1 0 5.0 0a2.5 2.5 0 1 0 -5.0 0M1401.1 815.9a3.4 3.4 0 1 0 6.7 0a3.4 3.4 0 1 0 -6.7 0M1349.4 931.7a3.1 3.1 0 1 0 6.2 0a3.1 3.1 0 1 0 -6.2 0M1351.7 932.6a3.2 3.2 0 1 0 6.4 0a3.2 3.2 0 1 0 -6.4 0M1351.6 935.8a2.4 2.4 0 1 0 4.9 0a2.4 2.4 0 1 0 -4.9 0M1349.1 938.3a2.5 2.5 0 1 0 5.1 0a2.5 2.5 0 1 0 -5.1 0M1345.6 937.6a2.9 2.9 0 1 0 5.9 0a2.9 2.9 0 1 0 -5.9 0M1172.3 841.6a2.7 2.7 0 1 0 5.4 0a2.7 2.7 0 1 0 -5.4 0M1175.1 838.1a2.7 2.7 0 1 0 5.3 0a2.7 2.7 0 1 0 -5.3 0M1180.9 837.3a3.2 3.2 0 1 0 6.5 0a3.2 3.2 0 1 0 -6.5 0M1182.1 843.2a3.1 3.1 0 1 0 6.1 0a3.1 3.1 0 1 0 -6.1 0M1172.5 942.4a3.3 3.3 0 1 0 6.6 0a3.3 3.3 0 1 0 -6.6 0M1165.8 941.7a3.3 3.3 0 1 0 6.6 0a3.3 3.3 0 1 0 -6.6 0M1165.1 936.5a2.8 2.8 0 1 0 5.6 0a2.8 2.8 0 1 0 -5.6 0M1169.2 933.1a3.2 3.2 0 1 0 6.5 0a3.2 3.2 0 1 0 -6.5 0M1174.3 933.6a3.2 3.2 0 1 0 6.5 0a3.2 3.2 0 1 0 -6.5 0M1177.4 937.3a2.8 2.8 0 1 0 5.6 0a2.8 2.8 0 1 0 -5.6 0M1256.4 933.2a2.8 2.8 0 1 0 5.6 0a2.8 2.8 0 1 0 -5.6 0M1253.5 932.5a3.1 3.1 0 1 0 6.1 0a3.1 3.1 0 1 0 -6.1 0M1249.6 930.9a2.9 2.9 0 1 0 5.8 0a2.9 2.9 0 1 0 -5.8 0M1249.3 929.6a2.8 2.8 0 1 0 5.6 0a2.8 2.8 0 1 0 -5.6 0M1251.7 926.2a2.9 2.9 0 1 0 5.9 0a2.9 2.9 0 1 0 -5.9 0M1253.9 925.5a2.8 2.8 0 1 0 5.5 0a2.8 2.8 0 1 0 -5.5 0M1390.9 831.0a2.7 2.7 0 1 0 5.4 0a2.7 2.7 0 1 0 -5.4 0M1393.7 833.2a2.4 2.4 0 1 0 4.8 0a2.4 2.4 0 1 0 -4.8 0M1391.7 838.2a2.7 2.7 0 1 0 5.4 0a2.7 2.7 0 1 0 -5.4 0M1387.2 836.9a2.9 2.9 0 1 0 5.7 0a2.9 2.9 0 1 0 -5.7 0M1324.3 940.4a2.9 2.9 0 1 0 5.9 0a2.9 2.9 0 1 0 -5.9 0M1330.5 938.5a2.5 2.5 0 1 0 4.9 0a2.5 2.5 0 1 0 -4.9 0M1332.6 943.3a3.3 3.3 0 1 0 6.7 0a3.3 3.3 0 1 0 -6.7 0M1328.3 946.9a2.7 2.7 0 1 0 5.4 0a2.7 2.7 0 1 0 -5.4 0M1447.7 810.5a2.4 2.4 0 1 0 4.8 0a2.4 2.4 0 1 0 -4.8 0M1448.0 813.2a2.8 2.8 0 1 0 5.6 0a2.8 2.8 0 1 0 -5.6 0M1446.3 817.1a3.0 3.0 0 1 0 5.9 0a3.0 3.0 0 1 0 -5.9 0M1441.6 818.3a3.0 3.0 0 1 0 5.9 0a3.0 3.0 0 1 0 -5.9 0M1438.6 815.3a3.3 3.3 0 1 0 6.7 0a3.3 3.3 0 1 0 -6.7 0M1438.1 811.9a2.8 2.8 0 1 0 5.6 0a2.8 2.8 0 1 0 -5.6 0M1303.6 977.2a2.5 2.5 0 1 0 5.0 0a2.5 2.5 0 1 0 -5.0 0M1297.4 975.4a2.4 2.4 0 1 0 4.8 0a2.4 2.4 0 1 0 -4.8 0M1299.1 970.3a2.5 2.5 0 1 0 5.0 0a2.5 2.5 0 1 0 -5.0 0M1305.0 969.2a3.3 3.3 0 1 0 6.6 0a3.3 3.3 0 1 0 -6.6 0M1219.6 994.8a2.9 2.9 0 1 0 5.7 0a2.9 2.9 0 1 0 -5.7 0M1223.7 992.0a3.0 3.0 0 1 0 6.1 0a3.0 3.0 0 1 0 -6.1 0M1229.6 992.7a2.8 2.8 0 1 0 5.5 0a2.8 2.8 0 1 0 -5.5 0M1229.2 998.6a2.5 2.5 0 1 0 5.1 0a2.5 2.5 0 1 0 -5.1 0M1238.4 809.5a2.8 2.8 0 1 0 5.5 0a2.8 2.8 0 1 0 -5.5 0M1238.9 806.9a2.5 2.5 0 1 0 5.0 0a2.5 2.5 0 1 0 -5.0 0M1244.4 805.1a2.9 2.9 0 1 0 5.8 0a2.9 2.9 0 1 0 -5.8 0M1246.3 809.2a2.9 2.9 0 1 0 5.9 0a2.9 2.9 0 1 0 -5.9 0M1243.4 812.4a3.1 3.1 0 1 0 6.2 0a3.1 3.1 0 1 0 -6.2 0M1236.3 917.7a2.6 2.6 0 1 0 5.2 0a2.6 2.6 0 1 0 -5.2 0M1236.2 922.9a2.5 2.5 0 1 0 5.0 0a2.5 2.5 0 1 0 -5.0 0M1229.7 924.8a3.3 3.3 0 1 0 6.6 0a3.3 3.3 0 1 0 -6.6 0M1227.0 919.8a3.3 3.3 0 1 0 6.6 0a3.3 3.3 0 1 0 -6.6 0M1231.1 916.4a3.2 3.2 0 1 0 6.3 0a3.2 3.2 0 1 0 -6.3 0M1303.6 911.3a2.7 2.7 0 1 0 5.4 0a2.7 2.7 0 1 0 -5.4 0M1302.3 908.0a2.9 2.9 0 1 0 5.7 0a2.9 2.9 0 1 0 -5.7 0M1303.4 905.5a3.4 3.4 0 1 0 6.8 0a3.4 3.4 0 1 0 -6.8 0M1306.8 904.2a3.3 3.3 0 1 0 6.6 0a3.3 3.3 0 1 0 -6.6 0M1311.8 906.3a3.0 3.0 0 1 0 5.9 0a3.0 3.0 0 1 0 -5.9 0M1312.6 910.4a2.8 2.8 0 1 0 5.7 0a2.8 2.8 0 1 0 -5.7 0M1377.0 887.6a2.7 2.7 0 1 0 5.5 0a2.7 2.7 0 1 0 -5.5 0M1374.7 889.1a3.0 3.0 0 1 0 5.9 0a3.0 3.0 0 1 0 -5.9 0M1370.5 890.2a2.8 2.8 0 1 0 5.6 0a2.8 2.8 0 1 0 -5.6 0M1367.6 888.3a3.0 3.0 0 1 0 5.9 0a3.0 3.0 0 1 0 -5.9 0M1364.7 885.0a3.2 3.2 0 1 0 6.4 0a3.2 3.2 0 1 0 -6.4 0M1366.1 883.3a3.0 3.0 0 1 0 6.0 0a3.0 3.0 0 1 0 -6.0 0M1461.0 922.5a3.4 3.4 0 1 0 6.8 0a3.4 3.4 0 1 0 -6.8 0M1467.2 921.3a3.3 3.3 0 1 0 6.7 0a3.3 3.3 0 1 0 -6.7 0M1470.8 924.1a2.9 2.9 0 1 0 5.9 0a2.9 2.9 0 1 0 -5.9 0M1467.7 929.3a3.0 3.0 0 1 0 6.0 0a3.0 3.0 0 1 0 -6.0 0M1209.8 830.3a2.8 2.8 0 1 0 5.7 0a2.8 2.8 0 1 0 -5.7 0M1208.3 832.9a2.9 2.9 0 1 0 5.8 0a2.9 2.9 0 1 0 -5.8 0M1205.0 834.4a3.1 3.1 0 1 0 6.3 0a3.1 3.1 0 1 0 -6.3 0M1202.6 832.3a2.7 2.7 0 1 0 5.3 0a2.7 2.7 0 1 0 -5.3 0M1309.4 943.4a3.3 3.3 0 1 0 6.6 0a3.3 3.3 0 1 0 -6.6 0M1305.0 945.2a2.4 2.4 0 1 0 4.8 0a2.4 2.4 0 1 0 -4.8 0M1302.2 941.5a3.0 3.0 0 1 0 6.0 0a3.0 3.0 0 1 0 -6.0 0M1306.5 937.8a2.7 2.7 0 1 0 5.4 0a2.7 2.7 0 1 0 -5.4 0M1194.3 935.2a3.2 3.2 0 1 0 6.5 0a3.2 3.2 0 1 0 -6.5 0M1196.0 940.0a3.2 3.2 0 1 0 6.5 0a3.2 3.2 0 1 0 -6.5 0M1191.1 944.0a2.8 2.8 0 1 0 5.5 0a2.8 2.8 0 1 0 -5.5 0M1347.1 875.2a3.1 3.1 0 1 0 6.2 0a3.1 3.1 0 1 0 -6.2 0M1351.5 878.9a2.5 2.5 0 1 0 5.0 0a2.5 2.5 0 1 0 -5.0 0M1348.0 882.7a2.6 2.6 0 1 0 5.2 0a2.6 2.6 0 1 0 -5.2 0M1341.4 881.6a2.5 2.5 0 1 0 5.0 0a2.5 2.5 0 1 0 -5.0 0M1280.3 865.0a3.0 3.0 0 1 0 5.9 0a3.0 3.0 0 1 0 -5.9 0M1278.5 860.3a3.4 3.4 0 1 0 6.8 0a3.4 3.4 0 1 0 -6.8 0M1280.8 855.8a2.9 2.9 0 1 0 5.8 0a2.9 2.9 0 1 0 -5.8 0M1286.4 858.4a3.2 3.2 0 1 0 6.4 0a3.2 3.2 0 1 0 -6.4 0M1286.8 862.2a2.7 2.7 0 1 0 5.4 0a2.7 2.7 0 1 0 -5.4 0M1368.3 1000.8a2.9 2.9 0 1 0 5.9 0a2.9 2.9 0 1 0 -5.9 0M1367.5 1007.3a3.1 3.1 0 1 0 6.1 0a3.1 3.1 0 1 0 -6.1 0M1361.3 1007.8a3.3 3.3 0 1 0 6.7 0a3.3 3.3 0 1 0 -6.7 0M1355.5 1003.6a3.3 3.3 0 1 0 6.5 0a3.3 3.3 0 1 0 -6.5 0M1357.8 999.4a3.3 3.3 0 1 0 6.5 0a3.3 3.3 0 1 0 -6.5 0M1218.0 946.3a3.0 3.0 0 1 0 5.9 0a3.0 3.0 0 1 0 -5.9 0M1214.5 939.7a2.6 2.6 0 1 0 5.2 0a2.6 2.6 0 1 0 -5.2 0M1221.6 936.7a2.5 2.5 0 1 0 5.0 0a2.5 2.5 0 1 0 -5.0 0M1167.1 831.5a2.5 2.5 0 1 0 5.0 0a2.5 2.5 0 1 0 -5.0 0M1164.2 833.3a2.8 2.8 0 1 0 5.5 0a2.8 2.8 0 1 0 -5.5 0M1159.3 831.7a2.6 2.6 0 1 0 5.2 0a2.6 2.6 0 1 0 -5.2 0M1156.7 830.0a3.0 3.0 0 1 0 6.0 0a3.0 3.0 0 1 0 -6.0 0M1158.9 826.9a3.2 3.2 0 1 0 6.4 0a3.2 3.2 0 1 0 -6.4 0M1162.0 825.0a2.8 2.8 0 1 0 5.7 0a2.8 2.8 0 1 0 -5.7 0M1415.7 776.2a3.3 3.3 0 1 0 6.5 0a3.3 3.3 0 1 0 -6.5 0M1406.8 773.5a3.0 3.0 0 1 0 6.0 0a3.0 3.0 0 1 0 -6.0 0M1408.8 766.8a3.0 3.0 0 1 0 5.9 0a3.0 3.0 0 1 0 -5.9 0M1418.0 769.4a2.9 2.9 0 1 0 5.8 0a2.9 2.9 0 1 0 -5.8 0M1386.5 857.5a3.3 3.3 0 1 0 6.6 0a3.3 3.3 0 1 0 -6.6 0M1385.9 863.9a2.9 2.9 0 1 0 5.8 0a2.9 2.9 0 1 0 -5.8 0M1380.7 864.9a2.5 2.5 0 1 0 5.1 0a2.5 2.5 0 1 0 -5.1 0M1447.5 785.6a2.9 2.9 0 1 0 5.8 0a2.9 2.9 0 1 0 -5.8 0M1448.5 789.9a3.3 3.3 0 1 0 6.5 0a3.3 3.3 0 1 0 -6.5 0M1446.3 792.8a2.7 2.7 0 1 0 5.4 0a2.7 2.7 0 1 0 -5.4 0M1442.3 794.2a2.6 2.6 0 1 0 5.1 0a2.6 2.6 0 1 0 -5.1 0M1285.4 828.2a2.5 2.5 0 1 0 4.9 0a2.5 2.5 0 1 0 -4.9 0M1285.3 826.3a2.9 2.9 0 1 0 5.8 0a2.9 2.9 0 1 0 -5.8 0M1290.3 825.2a2.8 2.8 0 1 0 5.5 0a2.8 2.8 0 1 0 -5.5 0M1292.5 827.4a2.6 2.6 0 1 0 5.3 0a2.6 2.6 0 1 0 -5.3 0" fill="#34e034" opacity="0.85" filter="url(#bl1)"/>
</g>
<g clip-path="url(#cp_r3k)">
<rect x="1541.2" y="707.8" width="425.6" height="326.1" fill="#000"/>
<ellipse cx="1560" cy="760" rx="30" ry="55" fill="#300606" opacity="0.7" filter="url(#bl8)"/>
<ellipse cx="1935" cy="950" rx="28" ry="40" fill="#200404" opacity="0.6" filter="url(#bl8)"/>
<path d="M1571.0 853.0C1572.8 835.8 1575.2 826.3 1580.0 815.0C1584.8 803.7 1589.2 795.5 1600.0 785.0C1610.8 774.5 1630.0 759.2 1645.0 752.0C1660.0 744.8 1675.5 744.2 1690.0 742.0C1704.5 739.8 1717.0 739.0 1732.0 739.0C1747.0 739.0 1765.5 739.8 1780.0 742.0C1794.5 744.2 1807.0 747.7 1819.0 752.0C1831.0 756.3 1842.5 762.2 1852.0 768.0C1861.5 773.8 1867.7 779.2 1876.0 787.0C1884.3 794.8 1895.0 805.3 1902.0 815.0C1909.0 824.7 1913.7 833.7 1918.0 845.0C1922.3 856.3 1927.7 869.3 1928.0 883.0C1928.3 896.7 1927.2 913.8 1920.0 927.0C1912.8 940.2 1901.8 955.2 1885.0 962.0C1868.2 968.8 1840.8 965.2 1819.0 968.0C1797.2 970.8 1775.8 973.5 1754.0 979.0C1732.2 984.5 1709.8 997.3 1688.0 1001.0C1666.2 1004.7 1641.0 1006.2 1623.0 1001.0C1605.0 995.8 1589.0 983.8 1580.0 970.0C1571.0 956.2 1570.5 937.5 1569.0 918.0C1567.5 898.5 1569.2 870.2 1571.0 853.0Z" fill="#260505" opacity="1.0" filter="url(#bl4)"/>
<g clip-path="url(#ct_r3k_main)"><rect x="1541.2" y="707.8" width="425.6" height="326.1" filter="url(#tx_r3k)" opacity="1.0"/></g>
<path d="M1668 805 C1664 830 1668 860 1662 885" fill="none" stroke="#000" stroke-width="8" opacity="0.45" filter="url(#bl4)"/>
<path d="M1651.9 758.5a1.8 1.8 0 1 0 3.7 0a1.8 1.8 0 1 0 -3.7 0M1650.5 754.8a2.0 2.0 0 1 0 3.9 0a2.0 2.0 0 1 0 -3.9 0M1651.6 753.1a2.6 2.6 0 1 0 5.3 0a2.6 2.6 0 1 0 -5.3 0M1671.3 771.7a2.2 2.2 0 1 0 4.3 0a2.2 2.2 0 1 0 -4.3 0M1666.1 771.7a2.1 2.1 0 1 0 4.2 0a2.1 2.1 0 1 0 -4.2 0M1662.7 773.1a2.4 2.4 0 1 0 4.9 0a2.4 2.4 0 1 0 -4.9 0M1663.7 766.1a1.8 1.8 0 1 0 3.6 0a1.8 1.8 0 1 0 -3.6 0M1734.6 788.1a2.9 2.9 0 1 0 5.7 0a2.9 2.9 0 1 0 -5.7 0M1734.5 786.0a2.3 2.3 0 1 0 4.5 0a2.3 2.3 0 1 0 -4.5 0M1753.2 778.8a2.0 2.0 0 1 0 4.0 0a2.0 2.0 0 1 0 -4.0 0M1751.3 782.6a2.7 2.7 0 1 0 5.4 0a2.7 2.7 0 1 0 -5.4 0M1772.9 780.1a2.5 2.5 0 1 0 5.1 0a2.5 2.5 0 1 0 -5.1 0M1774.5 780.8a2.1 2.1 0 1 0 4.3 0a2.1 2.1 0 1 0 -4.3 0M1770.6 777.6a2.7 2.7 0 1 0 5.3 0a2.7 2.7 0 1 0 -5.3 0M1600.6 821.6a2.7 2.7 0 1 0 5.3 0a2.7 2.7 0 1 0 -5.3 0M1604.7 820.6a2.7 2.7 0 1 0 5.4 0a2.7 2.7 0 1 0 -5.4 0M1815.4 822.9a2.0 2.0 0 1 0 3.9 0a2.0 2.0 0 1 0 -3.9 0M1814.7 828.3a2.5 2.5 0 1 0 5.0 0a2.5 2.5 0 1 0 -5.0 0M1819.8 830.5a2.1 2.1 0 1 0 4.3 0a2.1 2.1 0 1 0 -4.3 0M1816.7 822.5a2.1 2.1 0 1 0 4.2 0a2.1 2.1 0 1 0 -4.2 0M1844.1 835.5a2.2 2.2 0 1 0 4.4 0a2.2 2.2 0 1 0 -4.4 0M1839.5 840.6a1.8 1.8 0 1 0 3.7 0a1.8 1.8 0 1 0 -3.7 0M1825.8 852.1a1.7 1.7 0 1 0 3.4 0a1.7 1.7 0 1 0 -3.4 0M1823.2 853.8a1.8 1.8 0 1 0 3.6 0a1.8 1.8 0 1 0 -3.6 0M1760.0 837.5a2.5 2.5 0 1 0 5.1 0a2.5 2.5 0 1 0 -5.1 0M1621.7 879.7a2.9 2.9 0 1 0 5.7 0a2.9 2.9 0 1 0 -5.7 0M1616.2 876.3a2.9 2.9 0 1 0 5.7 0a2.9 2.9 0 1 0 -5.7 0M1624.7 881.0a2.6 2.6 0 1 0 5.2 0a2.6 2.6 0 1 0 -5.2 0M1622.9 875.0a2.7 2.7 0 1 0 5.3 0a2.7 2.7 0 1 0 -5.3 0M1633.9 872.2a2.2 2.2 0 1 0 4.4 0a2.2 2.2 0 1 0 -4.4 0M1576.4 886.9a2.1 2.1 0 1 0 4.2 0a2.1 2.1 0 1 0 -4.2 0M1569.8 884.1a1.9 1.9 0 1 0 3.7 0a1.9 1.9 0 1 0 -3.7 0M1576.7 886.5a2.1 2.1 0 1 0 4.2 0a2.1 2.1 0 1 0 -4.2 0M1738.6 891.0a2.6 2.6 0 1 0 5.2 0a2.6 2.6 0 1 0 -5.2 0M1740.3 887.7a2.7 2.7 0 1 0 5.4 0a2.7 2.7 0 1 0 -5.4 0M1740.3 889.2a2.4 2.4 0 1 0 4.7 0a2.4 2.4 0 1 0 -4.7 0M1725.2 892.9a2.5 2.5 0 1 0 5.1 0a2.5 2.5 0 1 0 -5.1 0M1686.0 893.6a2.4 2.4 0 1 0 4.8 0a2.4 2.4 0 1 0 -4.8 0M1688.9 894.4a2.1 2.1 0 1 0 4.2 0a2.1 2.1 0 1 0 -4.2 0M1688.9 899.7a1.8 1.8 0 1 0 3.6 0a1.8 1.8 0 1 0 -3.6 0M1842.3 893.4a2.7 2.7 0 1 0 5.3 0a2.7 2.7 0 1 0 -5.3 0M1837.3 896.0a2.6 2.6 0 1 0 5.2 0a2.6 2.6 0 1 0 -5.2 0M1840.7 891.3a2.0 2.0 0 1 0 3.9 0a2.0 2.0 0 1 0 -3.9 0M1863.7 878.5a2.1 2.1 0 1 0 4.2 0a2.1 2.1 0 1 0 -4.2 0M1862.2 875.8a2.4 2.4 0 1 0 4.9 0a2.4 2.4 0 1 0 -4.9 0M1864.2 874.4a1.8 1.8 0 1 0 3.6 0a1.8 1.8 0 1 0 -3.6 0M1863.6 874.3a1.8 1.8 0 1 0 3.5 0a1.8 1.8 0 1 0 -3.5 0M1898.5 894.0a2.7 2.7 0 1 0 5.4 0a2.7 2.7 0 1 0 -5.4 0M1897.2 897.1a1.8 1.8 0 1 0 3.6 0a1.8 1.8 0 1 0 -3.6 0M1575.4 912.0a2.5 2.5 0 1 0 5.0 0a2.5 2.5 0 1 0 -5.0 0M1577.2 909.2a2.7 2.7 0 1 0 5.3 0a2.7 2.7 0 1 0 -5.3 0M1571.8 909.2a1.8 1.8 0 1 0 3.6 0a1.8 1.8 0 1 0 -3.6 0M1590.9 923.5a2.6 2.6 0 1 0 5.3 0a2.6 2.6 0 1 0 -5.3 0M1598.5 921.8a2.0 2.0 0 1 0 4.1 0a2.0 2.0 0 1 0 -4.1 0M1593.5 918.9a2.4 2.4 0 1 0 4.8 0a2.4 2.4 0 1 0 -4.8 0M1623.1 931.4a2.6 2.6 0 1 0 5.2 0a2.6 2.6 0 1 0 -5.2 0M1622.2 932.9a2.3 2.3 0 1 0 4.6 0a2.3 2.3 0 1 0 -4.6 0M1729.3 921.5a2.3 2.3 0 1 0 4.5 0a2.3 2.3 0 1 0 -4.5 0M1731.8 919.7a2.8 2.8 0 1 0 5.5 0a2.8 2.8 0 1 0 -5.5 0M1808.6 926.5a1.8 1.8 0 1 0 3.7 0a1.8 1.8 0 1 0 -3.7 0M1805.7 927.5a2.0 2.0 0 1 0 4.0 0a2.0 2.0 0 1 0 -4.0 0M1800.9 930.2a2.6 2.6 0 1 0 5.3 0a2.6 2.6 0 1 0 -5.3 0M1819.7 924.2a2.2 2.2 0 1 0 4.4 0a2.2 2.2 0 1 0 -4.4 0M1819.0 924.7a2.8 2.8 0 1 0 5.7 0a2.8 2.8 0 1 0 -5.7 0M1861.0 926.5a2.3 2.3 0 1 0 4.7 0a2.3 2.3 0 1 0 -4.7 0M1860.7 931.4a2.0 2.0 0 1 0 3.9 0a2.0 2.0 0 1 0 -3.9 0M1866.1 930.3a2.5 2.5 0 1 0 4.9 0a2.5 2.5 0 1 0 -4.9 0M1681.1 948.0a2.4 2.4 0 1 0 4.8 0a2.4 2.4 0 1 0 -4.8 0M1678.0 941.0a2.0 2.0 0 1 0 3.9 0a2.0 2.0 0 1 0 -3.9 0M1688.7 958.5a2.8 2.8 0 1 0 5.7 0a2.8 2.8 0 1 0 -5.7 0M1687.7 959.7a2.3 2.3 0 1 0 4.5 0a2.3 2.3 0 1 0 -4.5 0M1694.8 953.2a2.2 2.2 0 1 0 4.3 0a2.2 2.2 0 1 0 -4.3 0M1727.5 935.9a2.0 2.0 0 1 0 4.0 0a2.0 2.0 0 1 0 -4.0 0M1723.1 936.0a2.7 2.7 0 1 0 5.3 0a2.7 2.7 0 1 0 -5.3 0M1782.3 950.9a2.4 2.4 0 1 0 4.7 0a2.4 2.4 0 1 0 -4.7 0M1764.9 956.8a2.1 2.1 0 1 0 4.2 0a2.1 2.1 0 1 0 -4.2 0M1762.2 956.3a2.3 2.3 0 1 0 4.7 0a2.3 2.3 0 1 0 -4.7 0M1761.1 948.4a1.7 1.7 0 1 0 3.4 0a1.7 1.7 0 1 0 -3.4 0M1767.2 954.0a1.8 1.8 0 1 0 3.7 0a1.8 1.8 0 1 0 -3.7 0M1601.1 962.8a2.4 2.4 0 1 0 4.8 0a2.4 2.4 0 1 0 -4.8 0M1598.2 963.3a2.2 2.2 0 1 0 4.3 0a2.2 2.2 0 1 0 -4.3 0M1602.3 962.4a2.5 2.5 0 1 0 5.0 0a2.5 2.5 0 1 0 -5.0 0M1645.5 966.3a1.8 1.8 0 1 0 3.7 0a1.8 1.8 0 1 0 -3.7 0M1641.3 969.8a1.9 1.9 0 1 0 3.9 0a1.9 1.9 0 1 0 -3.9 0M1675.8 985.7a2.7 2.7 0 1 0 5.3 0a2.7 2.7 0 1 0 -5.3 0M1676.4 986.3a2.4 2.4 0 1 0 4.9 0a2.4 2.4 0 1 0 -4.9 0M1637.8 981.2a1.9 1.9 0 1 0 3.9 0a1.9 1.9 0 1 0 -3.9 0M1631.4 987.3a2.2 2.2 0 1 0 4.4 0a2.2 2.2 0 1 0 -4.4 0M1631.7 983.2a1.9 1.9 0 1 0 3.9 0a1.9 1.9 0 1 0 -3.9 0M1697.3 971.0a2.7 2.7 0 1 0 5.4 0a2.7 2.7 0 1 0 -5.4 0M1702.7 971.5a2.3 2.3 0 1 0 4.5 0a2.3 2.3 0 1 0 -4.5 0M1699.9 970.3a2.1 2.1 0 1 0 4.3 0a2.1 2.1 0 1 0 -4.3 0M1803.4 954.9a2.4 2.4 0 1 0 4.8 0a2.4 2.4 0 1 0 -4.8 0M1820.6 903.3a2.6 2.6 0 1 0 5.2 0a2.6 2.6 0 1 0 -5.2 0M1865.7 905.3a2.0 2.0 0 1 0 3.9 0a2.0 2.0 0 1 0 -3.9 0M1860.7 901.2a1.9 1.9 0 1 0 3.9 0a1.9 1.9 0 1 0 -3.9 0M1609.1 956.9a2.5 2.5 0 1 0 5.0 0a2.5 2.5 0 1 0 -5.0 0M1610.7 950.8a1.7 1.7 0 1 0 3.5 0a1.7 1.7 0 1 0 -3.5 0M1680.4 978.7a2.8 2.8 0 1 0 5.6 0a2.8 2.8 0 1 0 -5.6 0M1657.1 947.1a2.5 2.5 0 1 0 5.1 0a2.5 2.5 0 1 0 -5.1 0M1662.6 943.9a2.8 2.8 0 1 0 5.6 0a2.8 2.8 0 1 0 -5.6 0M1659.8 940.8a2.8 2.8 0 1 0 5.6 0a2.8 2.8 0 1 0 -5.6 0M1645.8 930.1a2.4 2.4 0 1 0 4.9 0a2.4 2.4 0 1 0 -4.9 0M1643.8 922.6a2.0 2.0 0 1 0 4.1 0a2.0 2.0 0 1 0 -4.1 0M1588.1 944.4a2.4 2.4 0 1 0 4.7 0a2.4 2.4 0 1 0 -4.7 0M1605.2 984.1a2.5 2.5 0 1 0 4.9 0a2.5 2.5 0 1 0 -4.9 0M1611.1 988.7a2.1 2.1 0 1 0 4.2 0a2.1 2.1 0 1 0 -4.2 0M1614.2 980.6a1.9 1.9 0 1 0 3.8 0a1.9 1.9 0 1 0 -3.8 0M1700.3 918.8a1.7 1.7 0 1 0 3.5 0a1.7 1.7 0 1 0 -3.5 0M1695.8 911.1a2.1 2.1 0 1 0 4.2 0a2.1 2.1 0 1 0 -4.2 0M1702.2 916.8a1.7 1.7 0 1 0 3.4 0a1.7 1.7 0 1 0 -3.4 0M1758.4 914.6a2.9 2.9 0 1 0 5.8 0a2.9 2.9 0 1 0 -5.8 0M1781.4 925.8a1.9 1.9 0 1 0 3.8 0a1.9 1.9 0 1 0 -3.8 0M1782.2 929.3a2.2 2.2 0 1 0 4.4 0a2.2 2.2 0 1 0 -4.4 0M1850.2 945.6a2.8 2.8 0 1 0 5.6 0a2.8 2.8 0 1 0 -5.6 0M1714.4 961.2a2.2 2.2 0 1 0 4.3 0a2.2 2.2 0 1 0 -4.3 0M1720.5 961.6a1.9 1.9 0 1 0 3.9 0a1.9 1.9 0 1 0 -3.9 0M1780.0 879.0a2.6 2.6 0 1 0 5.3 0a2.6 2.6 0 1 0 -5.3 0M1774.6 882.0a2.3 2.3 0 1 0 4.6 0a2.3 2.3 0 1 0 -4.6 0M1777.5 875.9a2.7 2.7 0 1 0 5.3 0a2.7 2.7 0 1 0 -5.3 0M1779.1 879.3a1.7 1.7 0 1 0 3.4 0a1.7 1.7 0 1 0 -3.4 0M1801.4 901.4a2.8 2.8 0 1 0 5.5 0a2.8 2.8 0 1 0 -5.5 0M1795.2 904.6a1.8 1.8 0 1 0 3.7 0a1.8 1.8 0 1 0 -3.7 0M1801.5 903.3a2.3 2.3 0 1 0 4.6 0a2.3 2.3 0 1 0 -4.6 0M1649.3 896.2a2.5 2.5 0 1 0 5.1 0a2.5 2.5 0 1 0 -5.1 0M1589.7 896.7a2.5 2.5 0 1 0 4.9 0a2.5 2.5 0 1 0 -4.9 0M1573.8 931.0a2.8 2.8 0 1 0 5.6 0a2.8 2.8 0 1 0 -5.6 0M1575.5 930.8a2.6 2.6 0 1 0 5.2 0a2.6 2.6 0 1 0 -5.2 0M1573.9 938.4a1.7 1.7 0 1 0 3.5 0a1.7 1.7 0 1 0 -3.5 0M1589.3 967.7a2.3 2.3 0 1 0 4.7 0a2.3 2.3 0 1 0 -4.7 0M1622.0 972.4a2.1 2.1 0 1 0 4.3 0a2.1 2.1 0 1 0 -4.3 0M1620.4 977.8a2.8 2.8 0 1 0 5.7 0a2.8 2.8 0 1 0 -5.7 0M1614.0 970.8a2.2 2.2 0 1 0 4.4 0a2.2 2.2 0 1 0 -4.4 0M1620.9 976.7a2.2 2.2 0 1 0 4.4 0a2.2 2.2 0 1 0 -4.4 0M1655.2 994.1a2.4 2.4 0 1 0 4.7 0a2.4 2.4 0 1 0 -4.7 0M1648.6 991.7a2.1 2.1 0 1 0 4.3 0a2.1 2.1 0 1 0 -4.3 0M1649.2 988.8a2.8 2.8 0 1 0 5.6 0a2.8 2.8 0 1 0 -5.6 0M1654.7 989.4a2.4 2.4 0 1 0 4.7 0a2.4 2.4 0 1 0 -4.7 0M1689.3 986.4a2.2 2.2 0 1 0 4.4 0a2.2 2.2 0 1 0 -4.4 0M1687.9 987.6a2.9 2.9 0 1 0 5.8 0a2.9 2.9 0 1 0 -5.8 0M1686.3 987.2a2.7 2.7 0 1 0 5.3 0a2.7 2.7 0 1 0 -5.3 0M1691.1 986.5a2.0 2.0 0 1 0 3.9 0a2.0 2.0 0 1 0 -3.9 0M1707.9 942.2a2.6 2.6 0 1 0 5.2 0a2.6 2.6 0 1 0 -5.2 0M1746.2 966.0a2.7 2.7 0 1 0 5.3 0a2.7 2.7 0 1 0 -5.3 0M1751.0 962.9a2.5 2.5 0 1 0 5.0 0a2.5 2.5 0 1 0 -5.0 0M1690.8 930.9a2.5 2.5 0 1 0 4.9 0a2.5 2.5 0 1 0 -4.9 0M1690.1 933.6a2.9 2.9 0 1 0 5.8 0a2.9 2.9 0 1 0 -5.8 0M1684.6 928.1a2.2 2.2 0 1 0 4.4 0a2.2 2.2 0 1 0 -4.4 0M1691.4 926.9a2.6 2.6 0 1 0 5.2 0a2.6 2.6 0 1 0 -5.2 0M1605.0 948.9a2.9 2.9 0 1 0 5.7 0a2.9 2.9 0 1 0 -5.7 0M1611.0 941.7a1.8 1.8 0 1 0 3.6 0a1.8 1.8 0 1 0 -3.6 0M1611.2 944.2a1.7 1.7 0 1 0 3.5 0a1.7 1.7 0 1 0 -3.5 0M1604.4 943.1a2.0 2.0 0 1 0 4.0 0a2.0 2.0 0 1 0 -4.0 0M1633.4 937.7a2.8 2.8 0 1 0 5.7 0a2.8 2.8 0 1 0 -5.7 0M1837.1 887.2a2.6 2.6 0 1 0 5.3 0a2.6 2.6 0 1 0 -5.3 0M1833.2 882.0a2.4 2.4 0 1 0 4.9 0a2.4 2.4 0 1 0 -4.9 0M1838.2 887.1a2.6 2.6 0 1 0 5.2 0a2.6 2.6 0 1 0 -5.2 0M1865.7 944.7a1.8 1.8 0 1 0 3.5 0a1.8 1.8 0 1 0 -3.5 0M1866.5 941.3a2.0 2.0 0 1 0 4.0 0a2.0 2.0 0 1 0 -4.0 0M1867.6 948.7a2.4 2.4 0 1 0 4.8 0a2.4 2.4 0 1 0 -4.8 0M1802.0 962.1a2.2 2.2 0 1 0 4.4 0a2.2 2.2 0 1 0 -4.4 0M1697.0 870.4a2.4 2.4 0 1 0 4.9 0a2.4 2.4 0 1 0 -4.9 0M1696.6 871.2a2.4 2.4 0 1 0 4.8 0a2.4 2.4 0 1 0 -4.8 0M1697.9 865.8a2.2 2.2 0 1 0 4.4 0a2.2 2.2 0 1 0 -4.4 0" fill="#3cf03c" opacity="0.95" filter="url(#bl1)"/>
</g>
<text x="1042.8" y="26.8" font-size="32.5" font-weight="bold" font-family='"Liberation Sans", Arial, sans-serif'>C</text>
<text x="1320.9" y="26.7" font-size="28" text-anchor="middle" font-weight="bold" font-family='"Liberation Sans", Arial, sans-serif'>Ctrl</text>
<text x="1736.7" y="27.3" font-size="28" text-anchor="middle" font-weight="bold" font-family='"Liberation Sans", Arial, sans-serif'>CKO</text>
<text transform="translate(1089.7,219.7) rotate(-90)" font-size="27.5" text-anchor="middle" font-weight="bold" font-family='"Liberation Sans", Arial, sans-serif'>E15.5</text>
<text transform="translate(1090.0,543.7) rotate(-90)" font-size="27.5" text-anchor="middle" font-weight="bold" font-family='"Liberation Sans", Arial, sans-serif'>E15.5</text>
<text transform="translate(1086.0,870.2) rotate(-90)" font-size="27.5" text-anchor="middle" font-weight="bold" font-family='"Liberation Sans", Arial, sans-serif'>E19.5</text>
<text x="1913.7" y="97.4" font-size="26.5" text-anchor="middle" font-weight="bold" fill="#a6d46a" font-family='"Liberation Sans", Arial, sans-serif'>pH3</text>
<text x="1915.0" y="129.5" font-size="25.5" text-anchor="middle" font-weight="bold" fill="#ff1a1a" font-family='"Liberation Sans", Arial, sans-serif'>TRA98</text>
<text x="1913.2" y="161.6" font-size="26.5" text-anchor="middle" font-weight="bold" fill="#1b9de2" font-family='"Liberation Sans", Arial, sans-serif'>DAPI</text>
<text x="1919.7" y="418.0" font-size="26.7" text-anchor="middle" font-weight="bold" fill="#a6d46a" font-family='"Liberation Sans", Arial, sans-serif'>MVH</text>
<text x="1919.7" y="451.3" font-size="26" text-anchor="middle" font-weight="bold" fill="#ff1a1a" font-family='"Liberation Sans", Arial, sans-serif'>KI67</text>
<text x="1911.3" y="751.0" font-size="26.7" text-anchor="middle" font-weight="bold" fill="#a6d46a" font-family='"Liberation Sans", Arial, sans-serif'>MVH</text>
<text x="1911.3" y="785.5" font-size="26" text-anchor="middle" font-weight="bold" fill="#ff1a1a" font-family='"Liberation Sans", Arial, sans-serif'>KI67</text>
</svg>
</body></html>
